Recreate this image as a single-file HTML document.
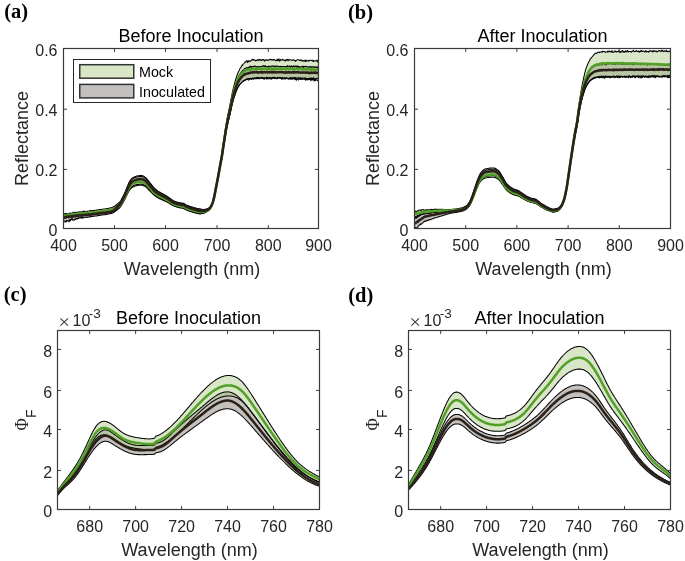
<!DOCTYPE html>
<html><head><meta charset="utf-8"><style>
html,body{margin:0;padding:0;background:#fff;}
svg{display:block;will-change:transform;}
.tk{font-family:"Liberation Sans", sans-serif;font-size:16px;fill:#262626;}
.lb{font-family:"Liberation Sans", sans-serif;font-size:18px;fill:#262626;}
.lg{font-family:"Liberation Sans", sans-serif;font-size:14.3px;fill:#000;}
.pl{font-family:"Liberation Serif", serif;font-size:20.5px;font-weight:bold;fill:#000;}
.phi{font-family:"Liberation Serif", serif;font-size:19px;fill:#262626;}
.sub{font-family:"Liberation Sans", sans-serif;font-size:14px;fill:#262626;}
</style></head><body>
<svg width="685" height="561" viewBox="0 0 685 561">
<rect width="685" height="561" fill="#fff"/>
<clipPath id="ca"><rect x="63.5" y="48.5" width="255" height="180"/></clipPath>
<g clip-path="url(#ca)">
<path d="M63.5,215.3 L64.0,216.3 L64.5,215.8 L65.0,215.7 L65.5,215.5 L66.0,215.4 L66.5,215.9 L67.0,215.0 L67.5,216.0 L68.0,214.4 L68.5,214.7 L69.0,214.1 L69.5,214.5 L70.0,214.9 L70.5,215.3 L71.0,214.2 L71.5,214.5 L72.0,214.2 L72.5,214.0 L73.0,213.7 L73.5,214.2 L74.0,213.4 L74.5,214.1 L75.0,214.0 L75.5,213.7 L76.0,213.5 L76.5,213.3 L77.0,214.5 L77.5,213.2 L78.0,214.2 L78.5,213.8 L79.0,213.4 L79.5,213.1 L80.0,213.8 L80.5,213.9 L81.0,213.0 L81.5,213.1 L82.0,213.5 L82.5,213.2 L83.0,213.7 L83.5,212.8 L84.0,213.1 L84.5,212.6 L85.0,213.4 L85.5,212.6 L86.0,212.2 L86.5,212.6 L87.0,212.6 L87.5,213.0 L88.0,212.5 L88.5,212.5 L89.0,212.5 L89.5,212.7 L90.0,212.3 L90.5,212.4 L91.0,212.3 L91.5,212.1 L92.0,212.1 L92.5,212.1 L93.0,211.9 L93.5,212.1 L94.0,211.7 L94.5,211.9 L95.0,211.8 L95.5,211.7 L96.0,211.6 L96.5,211.5 L97.0,211.5 L97.5,211.4 L98.0,211.3 L98.5,211.3 L99.0,211.1 L99.5,211.1 L100.0,211.0 L100.5,210.9 L101.0,210.9 L101.5,210.8 L102.0,210.8 L102.5,210.7 L103.0,210.7 L103.5,210.6 L104.0,210.5 L104.5,210.5 L105.0,210.4 L105.5,210.4 L106.0,210.3 L106.5,210.2 L107.0,210.1 L107.5,210.0 L108.0,210.0 L108.5,209.9 L109.0,209.8 L109.5,209.7 L110.0,209.6 L110.5,209.4 L111.0,209.3 L111.5,209.2 L112.0,209.0 L112.5,208.8 L113.0,208.6 L113.5,208.3 L114.0,208.0 L114.5,207.6 L115.0,207.2 L115.5,206.8 L116.0,206.4 L116.5,206.0 L117.0,205.6 L117.5,205.2 L118.0,204.8 L118.5,204.3 L119.0,203.8 L119.5,203.3 L120.0,202.7 L120.5,202.1 L121.0,201.3 L121.5,200.4 L122.0,199.4 L122.5,198.3 L123.0,197.3 L123.5,196.3 L124.0,195.2 L124.5,194.1 L125.0,193.0 L125.5,191.8 L126.0,190.6 L126.5,189.3 L127.0,188.1 L127.5,186.8 L128.0,185.6 L128.5,184.5 L129.0,183.4 L129.5,182.5 L130.0,181.6 L130.5,180.9 L131.0,180.3 L131.5,179.8 L132.0,179.3 L132.5,178.9 L133.0,178.6 L133.5,178.3 L134.0,178.1 L134.5,177.8 L135.0,177.6 L135.5,177.4 L136.0,177.2 L136.5,177.1 L137.0,177.0 L137.5,176.9 L138.0,176.8 L138.5,176.7 L139.0,176.6 L139.5,176.6 L140.0,176.5 L140.5,176.5 L141.0,176.4 L141.5,176.5 L142.0,176.5 L142.5,176.7 L143.0,176.8 L143.5,177.1 L144.0,177.4 L144.5,177.7 L145.0,178.0 L145.5,178.4 L146.0,178.7 L146.5,179.3 L147.0,179.9 L147.5,180.6 L148.0,181.2 L148.5,181.8 L149.0,182.4 L149.5,183.0 L150.0,183.6 L150.5,184.2 L151.0,184.8 L151.5,185.4 L152.0,186.1 L152.5,186.7 L153.0,187.3 L153.5,187.9 L154.0,188.4 L154.5,188.9 L155.0,189.4 L155.5,189.8 L156.0,190.3 L156.5,190.7 L157.0,191.0 L157.5,191.4 L158.0,191.7 L158.5,192.1 L159.0,192.4 L159.5,192.7 L160.0,193.0 L160.5,193.2 L161.0,193.5 L161.5,193.7 L162.0,194.0 L162.5,194.3 L163.0,194.5 L163.5,194.8 L164.0,195.1 L164.5,195.4 L165.0,195.7 L165.5,195.9 L166.0,196.2 L166.5,196.5 L167.0,196.8 L167.5,197.1 L168.0,197.5 L168.5,197.8 L169.0,198.1 L169.5,198.5 L170.0,198.9 L170.5,199.3 L171.0,199.7 L171.5,200.0 L172.0,200.3 L172.5,200.7 L173.0,201.0 L173.5,201.3 L174.0,201.5 L174.5,201.7 L175.0,202.0 L175.5,202.1 L176.0,202.3 L176.5,202.5 L177.0,202.6 L177.5,202.8 L178.0,202.9 L178.5,203.0 L179.0,203.1 L179.5,203.2 L180.0,203.4 L180.5,203.4 L181.0,203.5 L181.5,203.6 L182.0,203.6 L182.5,203.7 L183.0,203.8 L183.5,204.0 L184.0,204.2 L184.5,204.5 L185.0,204.8 L185.5,205.1 L186.0,205.4 L186.5,205.7 L187.0,205.9 L187.5,206.2 L188.0,206.4 L188.5,206.6 L189.0,206.7 L189.5,206.9 L190.0,207.1 L190.5,207.3 L191.0,207.4 L191.5,207.6 L192.0,207.8 L192.5,207.9 L193.0,208.0 L193.5,208.2 L194.0,208.3 L194.5,208.5 L195.0,208.6 L195.5,208.8 L196.0,208.9 L196.5,209.1 L197.0,209.2 L197.5,209.3 L198.0,209.4 L198.5,209.5 L199.0,209.6 L199.5,209.7 L200.0,209.7 L200.5,209.8 L201.0,209.9 L201.5,209.9 L202.0,210.0 L202.5,210.1 L203.0,210.1 L203.5,210.1 L204.0,210.1 L204.5,210.0 L205.0,209.8 L205.5,209.7 L206.0,209.6 L206.5,209.4 L207.0,209.3 L207.5,209.1 L208.0,208.9 L208.5,208.6 L209.0,208.3 L209.5,207.9 L210.0,207.3 L210.5,206.7 L211.0,206.0 L211.5,205.1 L212.0,204.0 L212.5,202.6 L213.0,201.0 L213.5,199.3 L214.0,197.3 L214.5,194.8 L215.0,192.2 L215.5,189.5 L216.0,186.9 L216.5,184.3 L217.0,181.6 L217.5,178.9 L218.0,176.2 L218.5,173.4 L219.0,170.6 L219.5,167.7 L220.0,164.9 L220.5,162.1 L221.0,159.5 L221.5,156.7 L222.0,153.7 L222.5,150.3 L223.0,146.8 L223.5,143.3 L224.0,139.9 L224.5,136.5 L225.0,133.2 L225.5,129.9 L226.0,126.8 L226.5,123.8 L227.0,121.0 L227.5,118.5 L228.0,116.2 L228.5,113.9 L229.0,111.7 L229.5,109.5 L230.0,107.1 L230.5,104.5 L231.0,101.9 L231.5,99.5 L232.0,97.2 L232.5,95.0 L233.0,92.9 L233.5,90.9 L234.0,89.0 L234.5,87.2 L235.0,85.5 L235.5,83.9 L236.0,82.4 L236.5,81.0 L237.0,79.7 L237.5,78.4 L238.0,77.4 L238.5,76.4 L239.0,75.4 L239.5,74.5 L240.0,73.9 L240.5,73.1 L241.0,72.5 L241.5,71.8 L242.0,71.3 L242.5,70.6 L243.0,70.2 L243.5,69.8 L244.0,69.3 L244.5,68.7 L245.0,68.2 L245.5,68.3 L246.0,68.2 L246.5,67.8 L247.0,67.5 L247.5,67.8 L248.0,68.4 L248.5,67.2 L249.0,67.4 L249.5,67.3 L250.0,66.0 L250.5,67.0 L251.0,66.6 L251.5,67.4 L252.0,66.6 L252.5,66.4 L253.0,66.5 L253.5,66.6 L254.0,66.3 L254.5,66.4 L255.0,65.9 L255.5,66.3 L256.0,66.7 L256.5,67.2 L257.0,66.7 L257.5,66.5 L258.0,66.9 L258.5,66.8 L259.0,67.1 L259.5,66.8 L260.0,66.4 L260.5,66.5 L261.0,66.5 L261.5,66.5 L262.0,66.5 L262.5,66.1 L263.0,65.6 L263.5,66.1 L264.0,65.6 L264.5,66.4 L265.0,66.4 L265.5,65.7 L266.0,66.7 L266.5,66.8 L267.0,66.5 L267.5,67.1 L268.0,67.2 L268.5,65.9 L269.0,66.8 L269.5,66.6 L270.0,66.6 L270.5,66.8 L271.0,66.1 L271.5,66.2 L272.0,66.1 L272.5,66.1 L273.0,66.4 L273.5,65.8 L274.0,66.0 L274.5,66.6 L275.0,66.4 L275.5,66.6 L276.0,65.7 L276.5,66.1 L277.0,66.2 L277.5,66.4 L278.0,66.2 L278.5,66.8 L279.0,66.4 L279.5,66.4 L280.0,66.4 L280.5,66.7 L281.0,66.2 L281.5,66.9 L282.0,66.6 L282.5,66.5 L283.0,66.4 L283.5,66.6 L284.0,66.8 L284.5,66.8 L285.0,66.6 L285.5,66.8 L286.0,66.5 L286.5,66.9 L287.0,66.4 L287.5,65.6 L288.0,67.0 L288.5,66.5 L289.0,66.0 L289.5,66.4 L290.0,66.1 L290.5,67.3 L291.0,66.7 L291.5,65.9 L292.0,66.7 L292.5,66.4 L293.0,67.3 L293.5,66.1 L294.0,65.7 L294.5,66.6 L295.0,66.4 L295.5,66.4 L296.0,65.7 L296.5,66.8 L297.0,67.3 L297.5,65.9 L298.0,67.1 L298.5,66.4 L299.0,67.6 L299.5,66.8 L300.0,66.6 L300.5,67.1 L301.0,66.9 L301.5,66.5 L302.0,67.0 L302.5,66.5 L303.0,66.0 L303.5,67.6 L304.0,66.6 L304.5,66.5 L305.0,66.9 L305.5,66.2 L306.0,66.3 L306.5,66.6 L307.0,66.7 L307.5,66.9 L308.0,67.3 L308.5,66.7 L309.0,67.1 L309.5,67.2 L310.0,66.5 L310.5,67.1 L311.0,66.6 L311.5,67.4 L312.0,67.2 L312.5,67.0 L313.0,66.5 L313.5,67.1 L314.0,66.8 L314.5,67.4 L315.0,67.1 L315.5,66.8 L316.0,67.5 L316.5,67.4 L317.0,66.9 L317.5,67.7 L318.0,67.1 L318.5,67.1 L319.0,67.3 L319.0,80.1 L318.5,80.1 L318.0,80.2 L317.5,80.6 L317.0,80.2 L316.5,80.1 L316.0,79.9 L315.5,80.1 L315.0,80.9 L314.5,79.6 L314.0,80.9 L313.5,79.0 L313.0,79.1 L312.5,79.9 L312.0,79.7 L311.5,78.4 L311.0,80.7 L310.5,79.6 L310.0,79.2 L309.5,79.6 L309.0,79.6 L308.5,79.5 L308.0,79.7 L307.5,79.0 L307.0,80.0 L306.5,78.6 L306.0,79.3 L305.5,80.2 L305.0,78.7 L304.5,79.2 L304.0,79.2 L303.5,78.9 L303.0,78.9 L302.5,79.2 L302.0,78.9 L301.5,79.5 L301.0,79.2 L300.5,79.4 L300.0,79.0 L299.5,79.1 L299.0,78.4 L298.5,80.0 L298.0,79.4 L297.5,79.0 L297.0,79.0 L296.5,80.2 L296.0,79.4 L295.5,77.5 L295.0,79.7 L294.5,78.6 L294.0,78.6 L293.5,78.8 L293.0,78.7 L292.5,78.0 L292.0,79.2 L291.5,77.9 L291.0,78.0 L290.5,79.2 L290.0,78.8 L289.5,79.2 L289.0,78.7 L288.5,79.0 L288.0,79.0 L287.5,78.6 L287.0,78.3 L286.5,78.0 L286.0,78.2 L285.5,79.1 L285.0,78.0 L284.5,78.8 L284.0,78.9 L283.5,78.7 L283.0,77.6 L282.5,77.9 L282.0,79.6 L281.5,78.2 L281.0,77.7 L280.5,78.3 L280.0,78.4 L279.5,78.1 L279.0,77.8 L278.5,78.0 L278.0,78.3 L277.5,77.3 L277.0,78.8 L276.5,78.6 L276.0,78.3 L275.5,78.4 L275.0,78.6 L274.5,77.5 L274.0,77.1 L273.5,77.4 L273.0,78.2 L272.5,78.6 L272.0,77.6 L271.5,78.5 L271.0,79.4 L270.5,77.7 L270.0,77.7 L269.5,78.6 L269.0,78.9 L268.5,78.6 L268.0,78.9 L267.5,77.6 L267.0,78.9 L266.5,78.9 L266.0,78.2 L265.5,78.4 L265.0,78.6 L264.5,78.6 L264.0,79.4 L263.5,78.3 L263.0,78.5 L262.5,78.5 L262.0,77.5 L261.5,78.2 L261.0,77.4 L260.5,78.3 L260.0,78.2 L259.5,78.7 L259.0,77.9 L258.5,77.9 L258.0,77.6 L257.5,78.7 L257.0,77.2 L256.5,78.0 L256.0,78.1 L255.5,78.0 L255.0,78.9 L254.5,78.1 L254.0,78.5 L253.5,79.1 L253.0,78.0 L252.5,78.0 L252.0,79.0 L251.5,79.4 L251.0,78.6 L250.5,78.9 L250.0,78.6 L249.5,79.0 L249.0,79.6 L248.5,80.2 L248.0,79.6 L247.5,79.5 L247.0,78.8 L246.5,79.3 L246.0,79.5 L245.5,80.2 L245.0,80.1 L244.5,80.7 L244.0,80.4 L243.5,81.3 L243.0,81.2 L242.5,81.8 L242.0,82.1 L241.5,82.5 L241.0,83.1 L240.5,83.5 L240.0,84.3 L239.5,85.0 L239.0,85.6 L238.5,86.5 L238.0,87.3 L237.5,88.2 L237.0,89.3 L236.5,90.5 L236.0,91.7 L235.5,93.1 L235.0,94.5 L234.5,96.0 L234.0,97.7 L233.5,99.4 L233.0,101.2 L232.5,103.1 L232.0,105.1 L231.5,107.2 L231.0,109.4 L230.5,111.8 L230.0,114.2 L229.5,116.3 L229.0,118.4 L228.5,120.4 L228.0,122.5 L227.5,124.6 L227.0,127.0 L226.5,129.5 L226.0,132.3 L225.5,135.2 L225.0,138.2 L224.5,141.3 L224.0,144.5 L223.5,147.7 L223.0,150.9 L222.5,154.3 L222.0,157.5 L221.5,160.3 L221.0,162.8 L220.5,165.3 L220.0,167.9 L219.5,170.6 L219.0,173.3 L218.5,175.9 L218.0,178.6 L217.5,181.1 L217.0,183.7 L216.5,186.2 L216.0,188.7 L215.5,191.2 L215.0,193.7 L214.5,196.2 L214.0,198.6 L213.5,200.5 L213.0,202.1 L212.5,203.6 L212.0,205.0 L211.5,206.2 L211.0,207.2 L210.5,208.0 L210.0,208.8 L209.5,209.4 L209.0,209.9 L208.5,210.4 L208.0,210.7 L207.5,211.1 L207.0,211.4 L206.5,211.7 L206.0,211.9 L205.5,212.1 L205.0,212.4 L204.5,212.6 L204.0,212.8 L203.5,213.0 L203.0,213.1 L202.5,213.2 L202.0,213.2 L201.5,213.3 L201.0,213.4 L200.5,213.4 L200.0,213.5 L199.5,213.4 L199.0,213.3 L198.5,213.3 L198.0,213.2 L197.5,213.1 L197.0,212.9 L196.5,212.8 L196.0,212.7 L195.5,212.5 L195.0,212.4 L194.5,212.3 L194.0,212.1 L193.5,212.0 L193.0,211.8 L192.5,211.7 L192.0,211.6 L191.5,211.4 L191.0,211.3 L190.5,211.1 L190.0,210.9 L189.5,210.8 L189.0,210.6 L188.5,210.4 L188.0,210.2 L187.5,210.1 L187.0,209.8 L186.5,209.6 L186.0,209.3 L185.5,209.0 L185.0,208.8 L184.5,208.5 L184.0,208.3 L183.5,208.1 L183.0,207.9 L182.5,207.8 L182.0,207.7 L181.5,207.6 L181.0,207.5 L180.5,207.4 L180.0,207.3 L179.5,207.2 L179.0,207.1 L178.5,207.0 L178.0,206.8 L177.5,206.7 L177.0,206.6 L176.5,206.4 L176.0,206.2 L175.5,206.1 L175.0,205.9 L174.5,205.7 L174.0,205.5 L173.5,205.3 L173.0,205.0 L172.5,204.8 L172.0,204.5 L171.5,204.2 L171.0,203.9 L170.5,203.6 L170.0,203.3 L169.5,203.0 L169.0,202.6 L168.5,202.3 L168.0,202.1 L167.5,201.8 L167.0,201.5 L166.5,201.3 L166.0,201.0 L165.5,200.8 L165.0,200.5 L164.5,200.3 L164.0,200.0 L163.5,199.8 L163.0,199.6 L162.5,199.3 L162.0,199.1 L161.5,198.9 L161.0,198.7 L160.5,198.5 L160.0,198.2 L159.5,198.0 L159.0,197.7 L158.5,197.5 L158.0,197.2 L157.5,196.9 L157.0,196.6 L156.5,196.3 L156.0,195.9 L155.5,195.6 L155.0,195.2 L154.5,194.8 L154.0,194.4 L153.5,193.9 L153.0,193.4 L152.5,192.9 L152.0,192.3 L151.5,191.8 L151.0,191.3 L150.5,190.7 L150.0,190.2 L149.5,189.7 L149.0,189.2 L148.5,188.7 L148.0,188.2 L147.5,187.7 L147.0,187.1 L146.5,186.6 L146.0,186.1 L145.5,185.8 L145.0,185.5 L144.5,185.2 L144.0,184.9 L143.5,184.7 L143.0,184.5 L142.5,184.3 L142.0,184.2 L141.5,184.2 L141.0,184.2 L140.5,184.2 L140.0,184.2 L139.5,184.3 L139.0,184.3 L138.5,184.4 L138.0,184.4 L137.5,184.5 L137.0,184.6 L136.5,184.7 L136.0,184.8 L135.5,185.0 L135.0,185.1 L134.5,185.3 L134.0,185.5 L133.5,185.8 L133.0,186.0 L132.5,186.3 L132.0,186.6 L131.5,187.0 L131.0,187.4 L130.5,187.9 L130.0,188.6 L129.5,189.3 L129.0,190.1 L128.5,191.0 L128.0,192.0 L127.5,193.0 L127.0,194.0 L126.5,195.1 L126.0,196.2 L125.5,197.3 L125.0,198.3 L124.5,199.3 L124.0,200.3 L123.5,201.3 L123.0,202.3 L122.5,203.2 L122.0,204.1 L121.5,205.1 L121.0,205.9 L120.5,206.6 L120.0,207.3 L119.5,207.8 L119.0,208.3 L118.5,208.8 L118.0,209.2 L117.5,209.6 L117.0,210.0 L116.5,210.4 L116.0,210.8 L115.5,211.1 L115.0,211.5 L114.5,211.9 L114.0,212.3 L113.5,212.6 L113.0,212.9 L112.5,213.1 L112.0,213.2 L111.5,213.4 L111.0,213.5 L110.5,213.6 L110.0,213.7 L109.5,213.8 L109.0,214.0 L108.5,214.0 L108.0,214.1 L107.5,214.2 L107.0,214.3 L106.5,214.4 L106.0,214.5 L105.5,214.6 L105.0,214.6 L104.5,214.7 L104.0,214.8 L103.5,214.8 L103.0,214.9 L102.5,215.0 L102.0,215.0 L101.5,215.1 L101.0,215.2 L100.5,215.2 L100.0,215.3 L99.5,215.4 L99.0,215.5 L98.5,215.6 L98.0,215.6 L97.5,215.6 L97.0,215.9 L96.5,215.9 L96.0,216.0 L95.5,216.0 L95.0,215.9 L94.5,216.2 L94.0,216.2 L93.5,216.3 L93.0,216.4 L92.5,216.2 L92.0,216.5 L91.5,216.6 L91.0,216.4 L90.5,216.9 L90.0,216.8 L89.5,216.9 L89.0,216.7 L88.5,217.0 L88.0,217.3 L87.5,217.4 L87.0,216.8 L86.5,217.0 L86.0,217.5 L85.5,217.4 L85.0,217.3 L84.5,217.0 L84.0,217.8 L83.5,217.8 L83.0,217.7 L82.5,217.1 L82.0,218.5 L81.5,217.3 L81.0,217.2 L80.5,217.8 L80.0,218.2 L79.5,217.7 L79.0,218.1 L78.5,218.5 L78.0,217.7 L77.5,218.7 L77.0,219.2 L76.5,218.5 L76.0,218.4 L75.5,219.5 L75.0,219.0 L74.5,220.2 L74.0,219.8 L73.5,219.8 L73.0,220.0 L72.5,220.2 L72.0,217.6 L71.5,219.5 L71.0,219.5 L70.5,220.8 L70.0,219.2 L69.5,220.3 L69.0,221.9 L68.5,220.5 L68.0,221.0 L67.5,220.8 L67.0,220.6 L66.5,221.8 L66.0,220.6 L65.5,221.9 L65.0,222.1 L64.5,220.9 L64.0,220.8 L63.5,220.7 Z" fill="#c4c0bd"/>
<path d="M63.5,213.3 L64.0,213.8 L64.5,215.2 L65.0,213.6 L65.5,214.5 L66.0,213.3 L66.5,214.2 L67.0,213.7 L67.5,213.8 L68.0,214.1 L68.5,214.7 L69.0,213.8 L69.5,213.6 L70.0,212.9 L70.5,213.8 L71.0,213.2 L71.5,213.7 L72.0,213.2 L72.5,214.1 L73.0,212.0 L73.5,212.9 L74.0,213.4 L74.5,212.7 L75.0,212.4 L75.5,212.6 L76.0,212.0 L76.5,212.7 L77.0,213.6 L77.5,213.0 L78.0,211.9 L78.5,212.0 L79.0,212.1 L79.5,212.6 L80.0,211.8 L80.5,211.8 L81.0,212.4 L81.5,212.3 L82.0,211.8 L82.5,211.5 L83.0,211.3 L83.5,211.5 L84.0,211.0 L84.5,211.8 L85.0,211.4 L85.5,211.6 L86.0,211.9 L86.5,211.7 L87.0,211.0 L87.5,211.5 L88.0,211.5 L88.5,211.0 L89.0,210.9 L89.5,211.0 L90.0,210.7 L90.5,211.2 L91.0,210.4 L91.5,210.6 L92.0,210.7 L92.5,210.7 L93.0,210.6 L93.5,210.6 L94.0,210.5 L94.5,210.6 L95.0,210.2 L95.5,210.3 L96.0,210.2 L96.5,210.1 L97.0,210.1 L97.5,209.9 L98.0,209.8 L98.5,209.8 L99.0,209.7 L99.5,209.6 L100.0,209.5 L100.5,209.5 L101.0,209.4 L101.5,209.3 L102.0,209.3 L102.5,209.2 L103.0,209.2 L103.5,209.1 L104.0,209.0 L104.5,209.0 L105.0,208.9 L105.5,208.8 L106.0,208.8 L106.5,208.7 L107.0,208.6 L107.5,208.5 L108.0,208.4 L108.5,208.3 L109.0,208.2 L109.5,208.1 L110.0,208.0 L110.5,207.9 L111.0,207.7 L111.5,207.6 L112.0,207.4 L112.5,207.2 L113.0,207.0 L113.5,206.7 L114.0,206.4 L114.5,206.1 L115.0,205.7 L115.5,205.3 L116.0,204.9 L116.5,204.6 L117.0,204.2 L117.5,203.8 L118.0,203.4 L118.5,203.0 L119.0,202.6 L119.5,202.1 L120.0,201.6 L120.5,201.0 L121.0,200.2 L121.5,199.3 L122.0,198.3 L122.5,197.4 L123.0,196.4 L123.5,195.4 L124.0,194.4 L124.5,193.4 L125.0,192.4 L125.5,191.2 L126.0,189.9 L126.5,188.6 L127.0,187.3 L127.5,186.1 L128.0,184.9 L128.5,183.7 L129.0,182.6 L129.5,181.6 L130.0,180.8 L130.5,180.0 L131.0,179.4 L131.5,178.9 L132.0,178.4 L132.5,178.0 L133.0,177.7 L133.5,177.4 L134.0,177.1 L134.5,176.9 L135.0,176.6 L135.5,176.4 L136.0,176.3 L136.5,176.1 L137.0,176.0 L137.5,175.9 L138.0,175.8 L138.5,175.7 L139.0,175.7 L139.5,175.6 L140.0,175.5 L140.5,175.5 L141.0,175.5 L141.5,175.5 L142.0,175.6 L142.5,175.7 L143.0,175.9 L143.5,176.1 L144.0,176.4 L144.5,176.7 L145.0,177.1 L145.5,177.4 L146.0,177.8 L146.5,178.4 L147.0,179.0 L147.5,179.7 L148.0,180.3 L148.5,180.9 L149.0,181.5 L149.5,182.1 L150.0,182.8 L150.5,183.4 L151.0,184.0 L151.5,184.6 L152.0,185.3 L152.5,185.9 L153.0,186.6 L153.5,187.1 L154.0,187.7 L154.5,188.2 L155.0,188.7 L155.5,189.1 L156.0,189.5 L156.5,190.0 L157.0,190.3 L157.5,190.7 L158.0,191.1 L158.5,191.4 L159.0,191.7 L159.5,192.0 L160.0,192.3 L160.5,192.6 L161.0,192.9 L161.5,193.1 L162.0,193.4 L162.5,193.6 L163.0,193.9 L163.5,194.2 L164.0,194.5 L164.5,194.8 L165.0,195.0 L165.5,195.3 L166.0,195.6 L166.5,195.9 L167.0,196.2 L167.5,196.6 L168.0,196.9 L168.5,197.2 L169.0,197.6 L169.5,198.0 L170.0,198.4 L170.5,198.8 L171.0,199.1 L171.5,199.5 L172.0,199.8 L172.5,200.1 L173.0,200.5 L173.5,200.8 L174.0,201.0 L174.5,201.2 L175.0,201.5 L175.5,201.6 L176.0,201.8 L176.5,201.9 L177.0,202.1 L177.5,202.2 L178.0,202.3 L178.5,202.5 L179.0,202.6 L179.5,202.7 L180.0,202.7 L180.5,202.8 L181.0,202.9 L181.5,202.9 L182.0,203.0 L182.5,203.1 L183.0,203.2 L183.5,203.3 L184.0,203.5 L184.5,203.8 L185.0,204.1 L185.5,204.4 L186.0,204.7 L186.5,204.9 L187.0,205.2 L187.5,205.4 L188.0,205.6 L188.5,205.8 L189.0,206.0 L189.5,206.2 L190.0,206.4 L190.5,206.5 L191.0,206.7 L191.5,206.8 L192.0,207.0 L192.5,207.1 L193.0,207.3 L193.5,207.4 L194.0,207.5 L194.5,207.7 L195.0,207.8 L195.5,208.0 L196.0,208.1 L196.5,208.2 L197.0,208.4 L197.5,208.5 L198.0,208.6 L198.5,208.7 L199.0,208.8 L199.5,208.8 L200.0,208.8 L200.5,209.0 L201.0,209.1 L201.5,209.2 L202.0,209.3 L202.5,209.4 L203.0,209.5 L203.5,209.5 L204.0,209.4 L204.5,209.3 L205.0,209.2 L205.5,209.2 L206.0,209.1 L206.5,208.9 L207.0,208.8 L207.5,208.6 L208.0,208.4 L208.5,208.2 L209.0,207.9 L209.5,207.5 L210.0,207.0 L210.5,206.4 L211.0,205.7 L211.5,204.8 L212.0,203.8 L212.5,202.3 L213.0,200.7 L213.5,198.9 L214.0,196.9 L214.5,194.5 L215.0,191.8 L215.5,189.0 L216.0,186.4 L216.5,183.7 L217.0,181.0 L217.5,178.3 L218.0,175.5 L218.5,172.7 L219.0,169.8 L219.5,166.9 L220.0,164.0 L220.5,161.2 L221.0,158.5 L221.5,155.6 L222.0,152.6 L222.5,149.1 L223.0,145.5 L223.5,142.0 L224.0,138.5 L224.5,135.0 L225.0,131.6 L225.5,128.2 L226.0,125.0 L226.5,122.0 L227.0,119.1 L227.5,116.5 L228.0,114.1 L228.5,111.8 L229.0,109.5 L229.5,107.2 L230.0,104.7 L230.5,102.0 L231.0,99.3 L231.5,96.7 L232.0,94.3 L232.5,91.9 L233.0,89.7 L233.5,87.6 L234.0,85.6 L234.5,83.6 L235.0,81.8 L235.5,80.0 L236.0,78.4 L236.5,76.8 L237.0,75.4 L237.5,74.0 L238.0,72.8 L238.5,71.7 L239.0,70.7 L239.5,69.6 L240.0,68.5 L240.5,67.8 L241.0,67.2 L241.5,66.6 L242.0,65.3 L242.5,65.5 L243.0,64.1 L243.5,64.0 L244.0,63.5 L244.5,62.9 L245.0,62.2 L245.5,61.6 L246.0,62.0 L246.5,61.3 L247.0,60.4 L247.5,62.4 L248.0,61.4 L248.5,61.8 L249.0,60.4 L249.5,61.4 L250.0,61.4 L250.5,61.3 L251.0,60.5 L251.5,59.9 L252.0,60.3 L252.5,59.3 L253.0,59.4 L253.5,60.2 L254.0,59.7 L254.5,60.0 L255.0,60.0 L255.5,60.9 L256.0,60.6 L256.5,60.0 L257.0,60.6 L257.5,59.7 L258.0,59.9 L258.5,60.4 L259.0,59.4 L259.5,59.9 L260.0,59.4 L260.5,60.1 L261.0,60.7 L261.5,59.7 L262.0,60.1 L262.5,59.6 L263.0,59.5 L263.5,59.5 L264.0,60.7 L264.5,61.1 L265.0,60.2 L265.5,59.7 L266.0,60.3 L266.5,59.9 L267.0,60.4 L267.5,60.1 L268.0,60.1 L268.5,60.3 L269.0,59.7 L269.5,59.8 L270.0,59.2 L270.5,59.8 L271.0,59.4 L271.5,59.9 L272.0,59.6 L272.5,60.1 L273.0,60.2 L273.5,59.4 L274.0,59.6 L274.5,59.6 L275.0,60.3 L275.5,60.8 L276.0,60.4 L276.5,59.9 L277.0,60.7 L277.5,59.3 L278.0,60.7 L278.5,59.7 L279.0,58.8 L279.5,61.2 L280.0,60.7 L280.5,59.5 L281.0,60.1 L281.5,59.9 L282.0,60.1 L282.5,59.3 L283.0,59.7 L283.5,60.2 L284.0,60.1 L284.5,60.6 L285.0,60.1 L285.5,61.1 L286.0,59.7 L286.5,60.2 L287.0,59.2 L287.5,59.5 L288.0,60.7 L288.5,59.6 L289.0,60.3 L289.5,60.0 L290.0,59.6 L290.5,59.9 L291.0,59.9 L291.5,59.9 L292.0,60.5 L292.5,60.4 L293.0,59.9 L293.5,59.7 L294.0,60.3 L294.5,60.1 L295.0,60.6 L295.5,61.4 L296.0,60.6 L296.5,60.2 L297.0,60.1 L297.5,59.8 L298.0,59.8 L298.5,59.8 L299.0,60.1 L299.5,60.1 L300.0,60.6 L300.5,60.1 L301.0,60.2 L301.5,59.8 L302.0,61.1 L302.5,60.6 L303.0,61.2 L303.5,60.7 L304.0,61.1 L304.5,60.3 L305.0,60.7 L305.5,61.6 L306.0,59.9 L306.5,61.0 L307.0,61.2 L307.5,60.7 L308.0,60.8 L308.5,61.1 L309.0,60.2 L309.5,60.7 L310.0,60.2 L310.5,60.3 L311.0,60.3 L311.5,60.5 L312.0,60.7 L312.5,60.9 L313.0,60.0 L313.5,61.6 L314.0,61.2 L314.5,61.0 L315.0,60.6 L315.5,60.7 L316.0,61.0 L316.5,61.0 L317.0,60.0 L317.5,61.2 L318.0,62.2 L318.5,60.0 L319.0,61.3 L319.0,78.5 L318.5,78.9 L318.0,78.4 L317.5,78.3 L317.0,78.7 L316.5,78.4 L316.0,78.7 L315.5,79.5 L315.0,78.4 L314.5,78.7 L314.0,78.9 L313.5,77.6 L313.0,78.3 L312.5,78.7 L312.0,78.0 L311.5,78.1 L311.0,79.0 L310.5,78.9 L310.0,77.9 L309.5,78.6 L309.0,78.5 L308.5,78.4 L308.0,78.2 L307.5,78.9 L307.0,78.5 L306.5,79.1 L306.0,78.8 L305.5,77.9 L305.0,77.6 L304.5,78.4 L304.0,78.8 L303.5,78.8 L303.0,77.8 L302.5,78.4 L302.0,78.1 L301.5,78.5 L301.0,78.2 L300.5,77.6 L300.0,78.5 L299.5,77.9 L299.0,77.6 L298.5,78.0 L298.0,78.0 L297.5,78.5 L297.0,77.8 L296.5,78.1 L296.0,78.3 L295.5,78.0 L295.0,77.8 L294.5,77.6 L294.0,78.2 L293.5,77.8 L293.0,77.3 L292.5,78.1 L292.0,79.2 L291.5,78.1 L291.0,78.2 L290.5,77.5 L290.0,78.0 L289.5,77.8 L289.0,78.6 L288.5,78.8 L288.0,78.2 L287.5,78.3 L287.0,78.0 L286.5,77.6 L286.0,78.3 L285.5,78.7 L285.0,77.7 L284.5,78.0 L284.0,77.9 L283.5,78.3 L283.0,78.2 L282.5,78.0 L282.0,77.7 L281.5,78.4 L281.0,77.5 L280.5,77.5 L280.0,78.0 L279.5,77.3 L279.0,77.8 L278.5,77.7 L278.0,77.5 L277.5,77.7 L277.0,78.6 L276.5,78.6 L276.0,77.7 L275.5,77.5 L275.0,78.5 L274.5,78.4 L274.0,77.9 L273.5,78.1 L273.0,78.2 L272.5,77.4 L272.0,77.9 L271.5,78.1 L271.0,77.9 L270.5,78.0 L270.0,78.3 L269.5,77.6 L269.0,77.9 L268.5,77.6 L268.0,78.2 L267.5,77.8 L267.0,77.9 L266.5,77.2 L266.0,78.6 L265.5,78.2 L265.0,77.7 L264.5,77.8 L264.0,77.7 L263.5,77.8 L263.0,77.9 L262.5,78.0 L262.0,77.4 L261.5,77.8 L261.0,77.5 L260.5,78.5 L260.0,78.4 L259.5,78.0 L259.0,77.9 L258.5,78.7 L258.0,77.6 L257.5,78.3 L257.0,77.6 L256.5,78.8 L256.0,78.0 L255.5,78.6 L255.0,78.1 L254.5,78.2 L254.0,78.0 L253.5,78.2 L253.0,79.0 L252.5,78.2 L252.0,78.5 L251.5,78.9 L251.0,79.2 L250.5,78.2 L250.0,78.5 L249.5,78.4 L249.0,78.7 L248.5,78.6 L248.0,78.6 L247.5,79.2 L247.0,79.1 L246.5,79.3 L246.0,79.6 L245.5,80.1 L245.0,79.9 L244.5,80.2 L244.0,80.5 L243.5,80.8 L243.0,81.4 L242.5,81.5 L242.0,82.3 L241.5,82.7 L241.0,83.1 L240.5,83.7 L240.0,84.1 L239.5,84.8 L239.0,85.6 L238.5,86.4 L238.0,87.2 L237.5,88.2 L237.0,89.3 L236.5,90.4 L236.0,91.7 L235.5,93.0 L235.0,94.5 L234.5,96.0 L234.0,97.6 L233.5,99.4 L233.0,101.1 L232.5,103.0 L232.0,105.0 L231.5,107.1 L231.0,109.4 L230.5,111.8 L230.0,114.2 L229.5,116.3 L229.0,118.4 L228.5,120.4 L228.0,122.5 L227.5,124.6 L227.0,127.0 L226.5,129.5 L226.0,132.3 L225.5,135.2 L225.0,138.2 L224.5,141.3 L224.0,144.5 L223.5,147.7 L223.0,150.9 L222.5,154.3 L222.0,157.5 L221.5,160.3 L221.0,162.8 L220.5,165.3 L220.0,167.9 L219.5,170.6 L219.0,173.3 L218.5,175.9 L218.0,178.6 L217.5,181.1 L217.0,183.7 L216.5,186.2 L216.0,188.7 L215.5,191.2 L215.0,193.7 L214.5,196.2 L214.0,198.6 L213.5,200.5 L213.0,202.1 L212.5,203.6 L212.0,205.0 L211.5,206.2 L211.0,207.2 L210.5,208.1 L210.0,208.9 L209.5,209.5 L209.0,210.1 L208.5,210.5 L208.0,210.9 L207.5,211.3 L207.0,211.6 L206.5,211.9 L206.0,212.2 L205.5,212.4 L205.0,212.7 L204.5,212.9 L204.0,213.2 L203.5,213.4 L203.0,213.5 L202.5,213.6 L202.0,213.7 L201.5,213.7 L201.0,213.8 L200.5,213.9 L200.0,214.0 L199.5,213.9 L199.0,213.8 L198.5,213.8 L198.0,213.7 L197.5,213.6 L197.0,213.4 L196.5,213.3 L196.0,213.2 L195.5,213.0 L195.0,212.9 L194.5,212.8 L194.0,212.6 L193.5,212.5 L193.0,212.4 L192.5,212.2 L192.0,212.1 L191.5,211.9 L191.0,211.8 L190.5,211.6 L190.0,211.5 L189.5,211.3 L189.0,211.1 L188.5,210.9 L188.0,210.8 L187.5,210.6 L187.0,210.4 L186.5,210.1 L186.0,209.8 L185.5,209.6 L185.0,209.3 L184.5,209.0 L184.0,208.8 L183.5,208.6 L183.0,208.4 L182.5,208.3 L182.0,208.2 L181.5,208.1 L181.0,208.0 L180.5,208.0 L180.0,207.9 L179.5,207.7 L179.0,207.6 L178.5,207.5 L178.0,207.4 L177.5,207.2 L177.0,207.1 L176.5,206.9 L176.0,206.7 L175.5,206.6 L175.0,206.4 L174.5,206.2 L174.0,206.0 L173.5,205.8 L173.0,205.6 L172.5,205.3 L172.0,205.0 L171.5,204.8 L171.0,204.5 L170.5,204.2 L170.0,203.9 L169.5,203.5 L169.0,203.2 L168.5,202.9 L168.0,202.6 L167.5,202.4 L167.0,202.1 L166.5,201.9 L166.0,201.6 L165.5,201.4 L165.0,201.1 L164.5,200.9 L164.0,200.7 L163.5,200.4 L163.0,200.2 L162.5,200.0 L162.0,199.8 L161.5,199.5 L161.0,199.3 L160.5,199.1 L160.0,198.9 L159.5,198.7 L159.0,198.4 L158.5,198.1 L158.0,197.9 L157.5,197.6 L157.0,197.3 L156.5,197.0 L156.0,196.6 L155.5,196.3 L155.0,195.9 L154.5,195.5 L154.0,195.1 L153.5,194.7 L153.0,194.2 L152.5,193.7 L152.0,193.1 L151.5,192.6 L151.0,192.1 L150.5,191.6 L150.0,191.1 L149.5,190.6 L149.0,190.1 L148.5,189.6 L148.0,189.1 L147.5,188.6 L147.0,188.0 L146.5,187.5 L146.0,187.0 L145.5,186.7 L145.0,186.4 L144.5,186.1 L144.0,185.9 L143.5,185.7 L143.0,185.5 L142.5,185.3 L142.0,185.2 L141.5,185.1 L141.0,185.1 L140.5,185.1 L140.0,185.2 L139.5,185.2 L139.0,185.3 L138.5,185.3 L138.0,185.4 L137.5,185.5 L137.0,185.6 L136.5,185.6 L136.0,185.8 L135.5,185.9 L135.0,186.1 L134.5,186.3 L134.0,186.5 L133.5,186.7 L133.0,186.9 L132.5,187.2 L132.0,187.5 L131.5,187.9 L131.0,188.3 L130.5,188.8 L130.0,189.4 L129.5,190.2 L129.0,191.0 L128.5,191.8 L128.0,192.8 L127.5,193.8 L127.0,194.8 L126.5,195.8 L126.0,196.9 L125.5,198.0 L125.0,198.9 L124.5,199.9 L124.0,200.8 L123.5,201.7 L123.0,202.5 L122.5,203.4 L122.0,204.2 L121.5,205.1 L121.0,205.8 L120.5,206.5 L120.0,207.0 L119.5,207.5 L119.0,208.0 L118.5,208.4 L118.0,208.7 L117.5,209.1 L117.0,209.4 L116.5,209.8 L116.0,210.1 L115.5,210.4 L115.0,210.8 L114.5,211.1 L114.0,211.4 L113.5,211.7 L113.0,211.9 L112.5,212.1 L112.0,212.3 L111.5,212.4 L111.0,212.5 L110.5,212.6 L110.0,212.7 L109.5,212.8 L109.0,212.9 L108.5,213.0 L108.0,213.0 L107.5,213.1 L107.0,213.2 L106.5,213.3 L106.0,213.3 L105.5,213.4 L105.0,213.4 L104.5,213.5 L104.0,213.5 L103.5,213.6 L103.0,213.6 L102.5,213.7 L102.0,213.7 L101.5,213.8 L101.0,213.8 L100.5,213.9 L100.0,213.9 L99.5,214.0 L99.0,214.0 L98.5,214.1 L98.0,214.2 L97.5,214.2 L97.0,214.3 L96.5,214.4 L96.0,214.4 L95.5,214.4 L95.0,214.5 L94.5,214.6 L94.0,214.6 L93.5,214.5 L93.0,214.7 L92.5,214.8 L92.0,214.7 L91.5,214.9 L91.0,215.0 L90.5,214.9 L90.0,215.1 L89.5,215.5 L89.0,215.1 L88.5,215.3 L88.0,215.4 L87.5,215.3 L87.0,215.2 L86.5,215.5 L86.0,215.0 L85.5,215.0 L85.0,215.5 L84.5,215.3 L84.0,215.5 L83.5,215.8 L83.0,215.9 L82.5,215.5 L82.0,215.4 L81.5,215.8 L81.0,216.5 L80.5,215.7 L80.0,215.9 L79.5,216.0 L79.0,216.0 L78.5,216.4 L78.0,216.6 L77.5,216.1 L77.0,215.9 L76.5,216.4 L76.0,217.0 L75.5,216.4 L75.0,217.1 L74.5,216.0 L74.0,216.0 L73.5,217.3 L73.0,216.4 L72.5,216.2 L72.0,216.7 L71.5,215.5 L71.0,216.8 L70.5,217.3 L70.0,216.3 L69.5,217.5 L69.0,216.6 L68.5,218.0 L68.0,216.9 L67.5,217.3 L67.0,217.1 L66.5,217.2 L66.0,218.2 L65.5,217.6 L65.0,216.9 L64.5,218.3 L64.0,217.6 L63.5,217.9 Z" fill="rgba(172,201,135,0.46)"/>
<path d="M63.5,213.3 L64.0,213.8 L64.5,215.2 L65.0,213.6 L65.5,214.5 L66.0,213.3 L66.5,214.2 L67.0,213.7 L67.5,213.8 L68.0,214.1 L68.5,214.7 L69.0,213.8 L69.5,213.6 L70.0,212.9 L70.5,213.8 L71.0,213.2 L71.5,213.7 L72.0,213.2 L72.5,214.1 L73.0,212.0 L73.5,212.9 L74.0,213.4 L74.5,212.7 L75.0,212.4 L75.5,212.6 L76.0,212.0 L76.5,212.7 L77.0,213.6 L77.5,213.0 L78.0,211.9 L78.5,212.0 L79.0,212.1 L79.5,212.6 L80.0,211.8 L80.5,211.8 L81.0,212.4 L81.5,212.3 L82.0,211.8 L82.5,211.5 L83.0,211.3 L83.5,211.5 L84.0,211.0 L84.5,211.8 L85.0,211.4 L85.5,211.6 L86.0,211.9 L86.5,211.7 L87.0,211.0 L87.5,211.5 L88.0,211.5 L88.5,211.0 L89.0,210.9 L89.5,211.0 L90.0,210.7 L90.5,211.2 L91.0,210.4 L91.5,210.6 L92.0,210.7 L92.5,210.7 L93.0,210.6 L93.5,210.6 L94.0,210.5 L94.5,210.6 L95.0,210.2 L95.5,210.3 L96.0,210.2 L96.5,210.1 L97.0,210.1 L97.5,209.9 L98.0,209.8 L98.5,209.8 L99.0,209.7 L99.5,209.6 L100.0,209.5 L100.5,209.5 L101.0,209.4 L101.5,209.3 L102.0,209.3 L102.5,209.2 L103.0,209.2 L103.5,209.1 L104.0,209.0 L104.5,209.0 L105.0,208.9 L105.5,208.8 L106.0,208.8 L106.5,208.7 L107.0,208.6 L107.5,208.5 L108.0,208.4 L108.5,208.3 L109.0,208.2 L109.5,208.1 L110.0,208.0 L110.5,207.9 L111.0,207.7 L111.5,207.6 L112.0,207.4 L112.5,207.2 L113.0,207.0 L113.5,206.7 L114.0,206.4 L114.5,206.1 L115.0,205.7 L115.5,205.3 L116.0,204.9 L116.5,204.6 L117.0,204.2 L117.5,203.8 L118.0,203.4 L118.5,203.0 L119.0,202.6 L119.5,202.1 L120.0,201.6 L120.5,201.0 L121.0,200.2 L121.5,199.3 L122.0,198.3 L122.5,197.4 L123.0,196.4 L123.5,195.4 L124.0,194.4 L124.5,193.4 L125.0,192.4 L125.5,191.2 L126.0,189.9 L126.5,188.6 L127.0,187.3 L127.5,186.1 L128.0,184.9 L128.5,183.7 L129.0,182.6 L129.5,181.6 L130.0,180.8 L130.5,180.0 L131.0,179.4 L131.5,178.9 L132.0,178.4 L132.5,178.0 L133.0,177.7 L133.5,177.4 L134.0,177.1 L134.5,176.9 L135.0,176.6 L135.5,176.4 L136.0,176.3 L136.5,176.1 L137.0,176.0 L137.5,175.9 L138.0,175.8 L138.5,175.7 L139.0,175.7 L139.5,175.6 L140.0,175.5 L140.5,175.5 L141.0,175.5 L141.5,175.5 L142.0,175.6 L142.5,175.7 L143.0,175.9 L143.5,176.1 L144.0,176.4 L144.5,176.7 L145.0,177.1 L145.5,177.4 L146.0,177.8 L146.5,178.4 L147.0,179.0 L147.5,179.7 L148.0,180.3 L148.5,180.9 L149.0,181.5 L149.5,182.1 L150.0,182.8 L150.5,183.4 L151.0,184.0 L151.5,184.6 L152.0,185.3 L152.5,185.9 L153.0,186.6 L153.5,187.1 L154.0,187.7 L154.5,188.2 L155.0,188.7 L155.5,189.1 L156.0,189.5 L156.5,190.0 L157.0,190.3 L157.5,190.7 L158.0,191.1 L158.5,191.4 L159.0,191.7 L159.5,192.0 L160.0,192.3 L160.5,192.6 L161.0,192.9 L161.5,193.1 L162.0,193.4 L162.5,193.6 L163.0,193.9 L163.5,194.2 L164.0,194.5 L164.5,194.8 L165.0,195.0 L165.5,195.3 L166.0,195.6 L166.5,195.9 L167.0,196.2 L167.5,196.6 L168.0,196.9 L168.5,197.2 L169.0,197.6 L169.5,198.0 L170.0,198.4 L170.5,198.8 L171.0,199.1 L171.5,199.5 L172.0,199.8 L172.5,200.1 L173.0,200.5 L173.5,200.8 L174.0,201.0 L174.5,201.2 L175.0,201.5 L175.5,201.6 L176.0,201.8 L176.5,201.9 L177.0,202.1 L177.5,202.2 L178.0,202.3 L178.5,202.5 L179.0,202.6 L179.5,202.7 L180.0,202.7 L180.5,202.8 L181.0,202.9 L181.5,202.9 L182.0,203.0 L182.5,203.1 L183.0,203.2 L183.5,203.3 L184.0,203.5 L184.5,203.8 L185.0,204.1 L185.5,204.4 L186.0,204.7 L186.5,204.9 L187.0,205.2 L187.5,205.4 L188.0,205.6 L188.5,205.8 L189.0,206.0 L189.5,206.2 L190.0,206.4 L190.5,206.5 L191.0,206.7 L191.5,206.8 L192.0,207.0 L192.5,207.1 L193.0,207.3 L193.5,207.4 L194.0,207.5 L194.5,207.7 L195.0,207.8 L195.5,208.0 L196.0,208.1 L196.5,208.2 L197.0,208.4 L197.5,208.5 L198.0,208.6 L198.5,208.7 L199.0,208.8 L199.5,208.8 L200.0,208.8 L200.5,209.0 L201.0,209.1 L201.5,209.2 L202.0,209.3 L202.5,209.4 L203.0,209.5 L203.5,209.5 L204.0,209.4 L204.5,209.3 L205.0,209.2 L205.5,209.2 L206.0,209.1 L206.5,208.9 L207.0,208.8 L207.5,208.6 L208.0,208.4 L208.5,208.2 L209.0,207.9 L209.5,207.5 L210.0,207.0 L210.5,206.4 L211.0,205.7 L211.5,204.8 L212.0,203.8 L212.5,202.3 L213.0,200.7 L213.5,198.9 L214.0,196.9 L214.5,194.5 L215.0,191.8 L215.5,189.0 L216.0,186.4 L216.5,183.7 L217.0,181.0 L217.5,178.3 L218.0,175.5 L218.5,172.7 L219.0,169.8 L219.5,166.9 L220.0,164.0 L220.5,161.2 L221.0,158.5 L221.5,155.6 L222.0,152.6 L222.5,149.1 L223.0,145.5 L223.5,142.0 L224.0,138.5 L224.5,135.0 L225.0,131.6 L225.5,128.2 L226.0,125.0 L226.5,122.0 L227.0,119.1 L227.5,116.5 L228.0,114.1 L228.5,111.8 L229.0,109.5 L229.5,107.2 L230.0,104.7 L230.5,102.0 L231.0,99.3 L231.5,96.7 L232.0,94.3 L232.5,91.9 L233.0,89.7 L233.5,87.6 L234.0,85.6 L234.5,83.6 L235.0,81.8 L235.5,80.0 L236.0,78.4 L236.5,76.8 L237.0,75.4 L237.5,74.0 L238.0,72.8 L238.5,71.7 L239.0,70.7 L239.5,69.6 L240.0,68.5 L240.5,67.8 L241.0,67.2 L241.5,66.6 L242.0,65.3 L242.5,65.5 L243.0,64.1 L243.5,64.0 L244.0,63.5 L244.5,62.9 L245.0,62.2 L245.5,61.6 L246.0,62.0 L246.5,61.3 L247.0,60.4 L247.5,62.4 L248.0,61.4 L248.5,61.8 L249.0,60.4 L249.5,61.4 L250.0,61.4 L250.5,61.3 L251.0,60.5 L251.5,59.9 L252.0,60.3 L252.5,59.3 L253.0,59.4 L253.5,60.2 L254.0,59.7 L254.5,60.0 L255.0,60.0 L255.5,60.9 L256.0,60.6 L256.5,60.0 L257.0,60.6 L257.5,59.7 L258.0,59.9 L258.5,60.4 L259.0,59.4 L259.5,59.9 L260.0,59.4 L260.5,60.1 L261.0,60.7 L261.5,59.7 L262.0,60.1 L262.5,59.6 L263.0,59.5 L263.5,59.5 L264.0,60.7 L264.5,61.1 L265.0,60.2 L265.5,59.7 L266.0,60.3 L266.5,59.9 L267.0,60.4 L267.5,60.1 L268.0,60.1 L268.5,60.3 L269.0,59.7 L269.5,59.8 L270.0,59.2 L270.5,59.8 L271.0,59.4 L271.5,59.9 L272.0,59.6 L272.5,60.1 L273.0,60.2 L273.5,59.4 L274.0,59.6 L274.5,59.6 L275.0,60.3 L275.5,60.8 L276.0,60.4 L276.5,59.9 L277.0,60.7 L277.5,59.3 L278.0,60.7 L278.5,59.7 L279.0,58.8 L279.5,61.2 L280.0,60.7 L280.5,59.5 L281.0,60.1 L281.5,59.9 L282.0,60.1 L282.5,59.3 L283.0,59.7 L283.5,60.2 L284.0,60.1 L284.5,60.6 L285.0,60.1 L285.5,61.1 L286.0,59.7 L286.5,60.2 L287.0,59.2 L287.5,59.5 L288.0,60.7 L288.5,59.6 L289.0,60.3 L289.5,60.0 L290.0,59.6 L290.5,59.9 L291.0,59.9 L291.5,59.9 L292.0,60.5 L292.5,60.4 L293.0,59.9 L293.5,59.7 L294.0,60.3 L294.5,60.1 L295.0,60.6 L295.5,61.4 L296.0,60.6 L296.5,60.2 L297.0,60.1 L297.5,59.8 L298.0,59.8 L298.5,59.8 L299.0,60.1 L299.5,60.1 L300.0,60.6 L300.5,60.1 L301.0,60.2 L301.5,59.8 L302.0,61.1 L302.5,60.6 L303.0,61.2 L303.5,60.7 L304.0,61.1 L304.5,60.3 L305.0,60.7 L305.5,61.6 L306.0,59.9 L306.5,61.0 L307.0,61.2 L307.5,60.7 L308.0,60.8 L308.5,61.1 L309.0,60.2 L309.5,60.7 L310.0,60.2 L310.5,60.3 L311.0,60.3 L311.5,60.5 L312.0,60.7 L312.5,60.9 L313.0,60.0 L313.5,61.6 L314.0,61.2 L314.5,61.0 L315.0,60.6 L315.5,60.7 L316.0,61.0 L316.5,61.0 L317.0,60.0 L317.5,61.2 L318.0,62.2 L318.5,60.0 L319.0,61.3" fill="none" stroke="#050505" stroke-width="1.05" stroke-linejoin="round"/>
<path d="M63.5,217.9 L64.0,217.6 L64.5,218.3 L65.0,216.9 L65.5,217.6 L66.0,218.2 L66.5,217.2 L67.0,217.1 L67.5,217.3 L68.0,216.9 L68.5,218.0 L69.0,216.6 L69.5,217.5 L70.0,216.3 L70.5,217.3 L71.0,216.8 L71.5,215.5 L72.0,216.7 L72.5,216.2 L73.0,216.4 L73.5,217.3 L74.0,216.0 L74.5,216.0 L75.0,217.1 L75.5,216.4 L76.0,217.0 L76.5,216.4 L77.0,215.9 L77.5,216.1 L78.0,216.6 L78.5,216.4 L79.0,216.0 L79.5,216.0 L80.0,215.9 L80.5,215.7 L81.0,216.5 L81.5,215.8 L82.0,215.4 L82.5,215.5 L83.0,215.9 L83.5,215.8 L84.0,215.5 L84.5,215.3 L85.0,215.5 L85.5,215.0 L86.0,215.0 L86.5,215.5 L87.0,215.2 L87.5,215.3 L88.0,215.4 L88.5,215.3 L89.0,215.1 L89.5,215.5 L90.0,215.1 L90.5,214.9 L91.0,215.0 L91.5,214.9 L92.0,214.7 L92.5,214.8 L93.0,214.7 L93.5,214.5 L94.0,214.6 L94.5,214.6 L95.0,214.5 L95.5,214.4 L96.0,214.4 L96.5,214.4 L97.0,214.3 L97.5,214.2 L98.0,214.2 L98.5,214.1 L99.0,214.0 L99.5,214.0 L100.0,213.9 L100.5,213.9 L101.0,213.8 L101.5,213.8 L102.0,213.7 L102.5,213.7 L103.0,213.6 L103.5,213.6 L104.0,213.5 L104.5,213.5 L105.0,213.4 L105.5,213.4 L106.0,213.3 L106.5,213.3 L107.0,213.2 L107.5,213.1 L108.0,213.0 L108.5,213.0 L109.0,212.9 L109.5,212.8 L110.0,212.7 L110.5,212.6 L111.0,212.5 L111.5,212.4 L112.0,212.3 L112.5,212.1 L113.0,211.9 L113.5,211.7 L114.0,211.4 L114.5,211.1 L115.0,210.8 L115.5,210.4 L116.0,210.1 L116.5,209.8 L117.0,209.4 L117.5,209.1 L118.0,208.7 L118.5,208.4 L119.0,208.0 L119.5,207.5 L120.0,207.0 L120.5,206.5 L121.0,205.8 L121.5,205.1 L122.0,204.2 L122.5,203.4 L123.0,202.5 L123.5,201.7 L124.0,200.8 L124.5,199.9 L125.0,198.9 L125.5,198.0 L126.0,196.9 L126.5,195.8 L127.0,194.8 L127.5,193.8 L128.0,192.8 L128.5,191.8 L129.0,191.0 L129.5,190.2 L130.0,189.4 L130.5,188.8 L131.0,188.3 L131.5,187.9 L132.0,187.5 L132.5,187.2 L133.0,186.9 L133.5,186.7 L134.0,186.5 L134.5,186.3 L135.0,186.1 L135.5,185.9 L136.0,185.8 L136.5,185.6 L137.0,185.6 L137.5,185.5 L138.0,185.4 L138.5,185.3 L139.0,185.3 L139.5,185.2 L140.0,185.2 L140.5,185.1 L141.0,185.1 L141.5,185.1 L142.0,185.2 L142.5,185.3 L143.0,185.5 L143.5,185.7 L144.0,185.9 L144.5,186.1 L145.0,186.4 L145.5,186.7 L146.0,187.0 L146.5,187.5 L147.0,188.0 L147.5,188.6 L148.0,189.1 L148.5,189.6 L149.0,190.1 L149.5,190.6 L150.0,191.1 L150.5,191.6 L151.0,192.1 L151.5,192.6 L152.0,193.1 L152.5,193.7 L153.0,194.2 L153.5,194.7 L154.0,195.1 L154.5,195.5 L155.0,195.9 L155.5,196.3 L156.0,196.6 L156.5,197.0 L157.0,197.3 L157.5,197.6 L158.0,197.9 L158.5,198.1 L159.0,198.4 L159.5,198.7 L160.0,198.9 L160.5,199.1 L161.0,199.3 L161.5,199.5 L162.0,199.8 L162.5,200.0 L163.0,200.2 L163.5,200.4 L164.0,200.7 L164.5,200.9 L165.0,201.1 L165.5,201.4 L166.0,201.6 L166.5,201.9 L167.0,202.1 L167.5,202.4 L168.0,202.6 L168.5,202.9 L169.0,203.2 L169.5,203.5 L170.0,203.9 L170.5,204.2 L171.0,204.5 L171.5,204.8 L172.0,205.0 L172.5,205.3 L173.0,205.6 L173.5,205.8 L174.0,206.0 L174.5,206.2 L175.0,206.4 L175.5,206.6 L176.0,206.7 L176.5,206.9 L177.0,207.1 L177.5,207.2 L178.0,207.4 L178.5,207.5 L179.0,207.6 L179.5,207.7 L180.0,207.9 L180.5,208.0 L181.0,208.0 L181.5,208.1 L182.0,208.2 L182.5,208.3 L183.0,208.4 L183.5,208.6 L184.0,208.8 L184.5,209.0 L185.0,209.3 L185.5,209.6 L186.0,209.8 L186.5,210.1 L187.0,210.4 L187.5,210.6 L188.0,210.8 L188.5,210.9 L189.0,211.1 L189.5,211.3 L190.0,211.5 L190.5,211.6 L191.0,211.8 L191.5,211.9 L192.0,212.1 L192.5,212.2 L193.0,212.4 L193.5,212.5 L194.0,212.6 L194.5,212.8 L195.0,212.9 L195.5,213.0 L196.0,213.2 L196.5,213.3 L197.0,213.4 L197.5,213.6 L198.0,213.7 L198.5,213.8 L199.0,213.8 L199.5,213.9 L200.0,214.0 L200.5,213.9 L201.0,213.8 L201.5,213.7 L202.0,213.7 L202.5,213.6 L203.0,213.5 L203.5,213.4 L204.0,213.2 L204.5,212.9 L205.0,212.7 L205.5,212.4 L206.0,212.2 L206.5,211.9 L207.0,211.6 L207.5,211.3 L208.0,210.9 L208.5,210.5 L209.0,210.1 L209.5,209.5 L210.0,208.9 L210.5,208.1 L211.0,207.2 L211.5,206.2 L212.0,205.0 L212.5,203.6 L213.0,202.1 L213.5,200.5 L214.0,198.6 L214.5,196.2 L215.0,193.7 L215.5,191.2 L216.0,188.7 L216.5,186.2 L217.0,183.7 L217.5,181.1 L218.0,178.6 L218.5,175.9 L219.0,173.3 L219.5,170.6 L220.0,167.9 L220.5,165.3 L221.0,162.8 L221.5,160.3 L222.0,157.5 L222.5,154.3 L223.0,150.9 L223.5,147.7 L224.0,144.5 L224.5,141.3 L225.0,138.2 L225.5,135.2 L226.0,132.3 L226.5,129.5 L227.0,127.0 L227.5,124.6 L228.0,122.5 L228.5,120.4 L229.0,118.4 L229.5,116.3 L230.0,114.2 L230.5,111.8 L231.0,109.4 L231.5,107.1 L232.0,105.0 L232.5,103.0 L233.0,101.1 L233.5,99.4 L234.0,97.6 L234.5,96.0 L235.0,94.5 L235.5,93.0 L236.0,91.7 L236.5,90.4 L237.0,89.3 L237.5,88.2 L238.0,87.2 L238.5,86.4 L239.0,85.6 L239.5,84.8 L240.0,84.1 L240.5,83.7 L241.0,83.1 L241.5,82.7 L242.0,82.3 L242.5,81.5 L243.0,81.4 L243.5,80.8 L244.0,80.5 L244.5,80.2 L245.0,79.9 L245.5,80.1 L246.0,79.6 L246.5,79.3 L247.0,79.1 L247.5,79.2 L248.0,78.6 L248.5,78.6 L249.0,78.7 L249.5,78.4 L250.0,78.5 L250.5,78.2 L251.0,79.2 L251.5,78.9 L252.0,78.5 L252.5,78.2 L253.0,79.0 L253.5,78.2 L254.0,78.0 L254.5,78.2 L255.0,78.1 L255.5,78.6 L256.0,78.0 L256.5,78.8 L257.0,77.6 L257.5,78.3 L258.0,77.6 L258.5,78.7 L259.0,77.9 L259.5,78.0 L260.0,78.4 L260.5,78.5 L261.0,77.5 L261.5,77.8 L262.0,77.4 L262.5,78.0 L263.0,77.9 L263.5,77.8 L264.0,77.7 L264.5,77.8 L265.0,77.7 L265.5,78.2 L266.0,78.6 L266.5,77.2 L267.0,77.9 L267.5,77.8 L268.0,78.2 L268.5,77.6 L269.0,77.9 L269.5,77.6 L270.0,78.3 L270.5,78.0 L271.0,77.9 L271.5,78.1 L272.0,77.9 L272.5,77.4 L273.0,78.2 L273.5,78.1 L274.0,77.9 L274.5,78.4 L275.0,78.5 L275.5,77.5 L276.0,77.7 L276.5,78.6 L277.0,78.6 L277.5,77.7 L278.0,77.5 L278.5,77.7 L279.0,77.8 L279.5,77.3 L280.0,78.0 L280.5,77.5 L281.0,77.5 L281.5,78.4 L282.0,77.7 L282.5,78.0 L283.0,78.2 L283.5,78.3 L284.0,77.9 L284.5,78.0 L285.0,77.7 L285.5,78.7 L286.0,78.3 L286.5,77.6 L287.0,78.0 L287.5,78.3 L288.0,78.2 L288.5,78.8 L289.0,78.6 L289.5,77.8 L290.0,78.0 L290.5,77.5 L291.0,78.2 L291.5,78.1 L292.0,79.2 L292.5,78.1 L293.0,77.3 L293.5,77.8 L294.0,78.2 L294.5,77.6 L295.0,77.8 L295.5,78.0 L296.0,78.3 L296.5,78.1 L297.0,77.8 L297.5,78.5 L298.0,78.0 L298.5,78.0 L299.0,77.6 L299.5,77.9 L300.0,78.5 L300.5,77.6 L301.0,78.2 L301.5,78.5 L302.0,78.1 L302.5,78.4 L303.0,77.8 L303.5,78.8 L304.0,78.8 L304.5,78.4 L305.0,77.6 L305.5,77.9 L306.0,78.8 L306.5,79.1 L307.0,78.5 L307.5,78.9 L308.0,78.2 L308.5,78.4 L309.0,78.5 L309.5,78.6 L310.0,77.9 L310.5,78.9 L311.0,79.0 L311.5,78.1 L312.0,78.0 L312.5,78.7 L313.0,78.3 L313.5,77.6 L314.0,78.9 L314.5,78.7 L315.0,78.4 L315.5,79.5 L316.0,78.7 L316.5,78.4 L317.0,78.7 L317.5,78.3 L318.0,78.4 L318.5,78.9 L319.0,78.5" fill="none" stroke="#050505" stroke-width="1.05" stroke-linejoin="round"/>
<path d="M63.5,215.3 L64.0,216.3 L64.5,215.8 L65.0,215.7 L65.5,215.5 L66.0,215.4 L66.5,215.9 L67.0,215.0 L67.5,216.0 L68.0,214.4 L68.5,214.7 L69.0,214.1 L69.5,214.5 L70.0,214.9 L70.5,215.3 L71.0,214.2 L71.5,214.5 L72.0,214.2 L72.5,214.0 L73.0,213.7 L73.5,214.2 L74.0,213.4 L74.5,214.1 L75.0,214.0 L75.5,213.7 L76.0,213.5 L76.5,213.3 L77.0,214.5 L77.5,213.2 L78.0,214.2 L78.5,213.8 L79.0,213.4 L79.5,213.1 L80.0,213.8 L80.5,213.9 L81.0,213.0 L81.5,213.1 L82.0,213.5 L82.5,213.2 L83.0,213.7 L83.5,212.8 L84.0,213.1 L84.5,212.6 L85.0,213.4 L85.5,212.6 L86.0,212.2 L86.5,212.6 L87.0,212.6 L87.5,213.0 L88.0,212.5 L88.5,212.5 L89.0,212.5 L89.5,212.7 L90.0,212.3 L90.5,212.4 L91.0,212.3 L91.5,212.1 L92.0,212.1 L92.5,212.1 L93.0,211.9 L93.5,212.1 L94.0,211.7 L94.5,211.9 L95.0,211.8 L95.5,211.7 L96.0,211.6 L96.5,211.5 L97.0,211.5 L97.5,211.4 L98.0,211.3 L98.5,211.3 L99.0,211.1 L99.5,211.1 L100.0,211.0 L100.5,210.9 L101.0,210.9 L101.5,210.8 L102.0,210.8 L102.5,210.7 L103.0,210.7 L103.5,210.6 L104.0,210.5 L104.5,210.5 L105.0,210.4 L105.5,210.4 L106.0,210.3 L106.5,210.2 L107.0,210.1 L107.5,210.0 L108.0,210.0 L108.5,209.9 L109.0,209.8 L109.5,209.7 L110.0,209.6 L110.5,209.4 L111.0,209.3 L111.5,209.2 L112.0,209.0 L112.5,208.8 L113.0,208.6 L113.5,208.3 L114.0,208.0 L114.5,207.6 L115.0,207.2 L115.5,206.8 L116.0,206.4 L116.5,206.0 L117.0,205.6 L117.5,205.2 L118.0,204.8 L118.5,204.3 L119.0,203.8 L119.5,203.3 L120.0,202.7 L120.5,202.1 L121.0,201.3 L121.5,200.4 L122.0,199.4 L122.5,198.3 L123.0,197.3 L123.5,196.3 L124.0,195.2 L124.5,194.1 L125.0,193.0 L125.5,191.8 L126.0,190.6 L126.5,189.3 L127.0,188.1 L127.5,186.8 L128.0,185.6 L128.5,184.5 L129.0,183.4 L129.5,182.5 L130.0,181.6 L130.5,180.9 L131.0,180.3 L131.5,179.8 L132.0,179.3 L132.5,178.9 L133.0,178.6 L133.5,178.3 L134.0,178.1 L134.5,177.8 L135.0,177.6 L135.5,177.4 L136.0,177.2 L136.5,177.1 L137.0,177.0 L137.5,176.9 L138.0,176.8 L138.5,176.7 L139.0,176.6 L139.5,176.6 L140.0,176.5 L140.5,176.5 L141.0,176.4 L141.5,176.5 L142.0,176.5 L142.5,176.7 L143.0,176.8 L143.5,177.1 L144.0,177.4 L144.5,177.7 L145.0,178.0 L145.5,178.4 L146.0,178.7 L146.5,179.3 L147.0,179.9 L147.5,180.6 L148.0,181.2 L148.5,181.8 L149.0,182.4 L149.5,183.0 L150.0,183.6 L150.5,184.2 L151.0,184.8 L151.5,185.4 L152.0,186.1 L152.5,186.7 L153.0,187.3 L153.5,187.9 L154.0,188.4 L154.5,188.9 L155.0,189.4 L155.5,189.8 L156.0,190.3 L156.5,190.7 L157.0,191.0 L157.5,191.4 L158.0,191.7 L158.5,192.1 L159.0,192.4 L159.5,192.7 L160.0,193.0 L160.5,193.2 L161.0,193.5 L161.5,193.7 L162.0,194.0 L162.5,194.3 L163.0,194.5 L163.5,194.8 L164.0,195.1 L164.5,195.4 L165.0,195.7 L165.5,195.9 L166.0,196.2 L166.5,196.5 L167.0,196.8 L167.5,197.1 L168.0,197.5 L168.5,197.8 L169.0,198.1 L169.5,198.5 L170.0,198.9 L170.5,199.3 L171.0,199.7 L171.5,200.0 L172.0,200.3 L172.5,200.7 L173.0,201.0 L173.5,201.3 L174.0,201.5 L174.5,201.7 L175.0,202.0 L175.5,202.1 L176.0,202.3 L176.5,202.5 L177.0,202.6 L177.5,202.8 L178.0,202.9 L178.5,203.0 L179.0,203.1 L179.5,203.2 L180.0,203.4 L180.5,203.4 L181.0,203.5 L181.5,203.6 L182.0,203.6 L182.5,203.7 L183.0,203.8 L183.5,204.0 L184.0,204.2 L184.5,204.5 L185.0,204.8 L185.5,205.1 L186.0,205.4 L186.5,205.7 L187.0,205.9 L187.5,206.2 L188.0,206.4 L188.5,206.6 L189.0,206.7 L189.5,206.9 L190.0,207.1 L190.5,207.3 L191.0,207.4 L191.5,207.6 L192.0,207.8 L192.5,207.9 L193.0,208.0 L193.5,208.2 L194.0,208.3 L194.5,208.5 L195.0,208.6 L195.5,208.8 L196.0,208.9 L196.5,209.1 L197.0,209.2 L197.5,209.3 L198.0,209.4 L198.5,209.5 L199.0,209.6 L199.5,209.7 L200.0,209.7 L200.5,209.8 L201.0,209.9 L201.5,209.9 L202.0,210.0 L202.5,210.1 L203.0,210.1 L203.5,210.1 L204.0,210.1 L204.5,210.0 L205.0,209.8 L205.5,209.7 L206.0,209.6 L206.5,209.4 L207.0,209.3 L207.5,209.1 L208.0,208.9 L208.5,208.6 L209.0,208.3 L209.5,207.9 L210.0,207.3 L210.5,206.7 L211.0,206.0 L211.5,205.1 L212.0,204.0 L212.5,202.6 L213.0,201.0 L213.5,199.3 L214.0,197.3 L214.5,194.8 L215.0,192.2 L215.5,189.5 L216.0,186.9 L216.5,184.3 L217.0,181.6 L217.5,178.9 L218.0,176.2 L218.5,173.4 L219.0,170.6 L219.5,167.7 L220.0,164.9 L220.5,162.1 L221.0,159.5 L221.5,156.7 L222.0,153.7 L222.5,150.3 L223.0,146.8 L223.5,143.3 L224.0,139.9 L224.5,136.5 L225.0,133.2 L225.5,129.9 L226.0,126.8 L226.5,123.8 L227.0,121.0 L227.5,118.5 L228.0,116.2 L228.5,113.9 L229.0,111.7 L229.5,109.5 L230.0,107.1 L230.5,104.5 L231.0,101.9 L231.5,99.5 L232.0,97.2 L232.5,95.0 L233.0,92.9 L233.5,90.9 L234.0,89.0 L234.5,87.2 L235.0,85.5 L235.5,83.9 L236.0,82.4 L236.5,81.0 L237.0,79.7 L237.5,78.4 L238.0,77.4 L238.5,76.4 L239.0,75.4 L239.5,74.5 L240.0,73.9 L240.5,73.1 L241.0,72.5 L241.5,71.8 L242.0,71.3 L242.5,70.6 L243.0,70.2 L243.5,69.8 L244.0,69.3 L244.5,68.7 L245.0,68.2 L245.5,68.3 L246.0,68.2 L246.5,67.8 L247.0,67.5 L247.5,67.8 L248.0,68.4 L248.5,67.2 L249.0,67.4 L249.5,67.3 L250.0,66.0 L250.5,67.0 L251.0,66.6 L251.5,67.4 L252.0,66.6 L252.5,66.4 L253.0,66.5 L253.5,66.6 L254.0,66.3 L254.5,66.4 L255.0,65.9 L255.5,66.3 L256.0,66.7 L256.5,67.2 L257.0,66.7 L257.5,66.5 L258.0,66.9 L258.5,66.8 L259.0,67.1 L259.5,66.8 L260.0,66.4 L260.5,66.5 L261.0,66.5 L261.5,66.5 L262.0,66.5 L262.5,66.1 L263.0,65.6 L263.5,66.1 L264.0,65.6 L264.5,66.4 L265.0,66.4 L265.5,65.7 L266.0,66.7 L266.5,66.8 L267.0,66.5 L267.5,67.1 L268.0,67.2 L268.5,65.9 L269.0,66.8 L269.5,66.6 L270.0,66.6 L270.5,66.8 L271.0,66.1 L271.5,66.2 L272.0,66.1 L272.5,66.1 L273.0,66.4 L273.5,65.8 L274.0,66.0 L274.5,66.6 L275.0,66.4 L275.5,66.6 L276.0,65.7 L276.5,66.1 L277.0,66.2 L277.5,66.4 L278.0,66.2 L278.5,66.8 L279.0,66.4 L279.5,66.4 L280.0,66.4 L280.5,66.7 L281.0,66.2 L281.5,66.9 L282.0,66.6 L282.5,66.5 L283.0,66.4 L283.5,66.6 L284.0,66.8 L284.5,66.8 L285.0,66.6 L285.5,66.8 L286.0,66.5 L286.5,66.9 L287.0,66.4 L287.5,65.6 L288.0,67.0 L288.5,66.5 L289.0,66.0 L289.5,66.4 L290.0,66.1 L290.5,67.3 L291.0,66.7 L291.5,65.9 L292.0,66.7 L292.5,66.4 L293.0,67.3 L293.5,66.1 L294.0,65.7 L294.5,66.6 L295.0,66.4 L295.5,66.4 L296.0,65.7 L296.5,66.8 L297.0,67.3 L297.5,65.9 L298.0,67.1 L298.5,66.4 L299.0,67.6 L299.5,66.8 L300.0,66.6 L300.5,67.1 L301.0,66.9 L301.5,66.5 L302.0,67.0 L302.5,66.5 L303.0,66.0 L303.5,67.6 L304.0,66.6 L304.5,66.5 L305.0,66.9 L305.5,66.2 L306.0,66.3 L306.5,66.6 L307.0,66.7 L307.5,66.9 L308.0,67.3 L308.5,66.7 L309.0,67.1 L309.5,67.2 L310.0,66.5 L310.5,67.1 L311.0,66.6 L311.5,67.4 L312.0,67.2 L312.5,67.0 L313.0,66.5 L313.5,67.1 L314.0,66.8 L314.5,67.4 L315.0,67.1 L315.5,66.8 L316.0,67.5 L316.5,67.4 L317.0,66.9 L317.5,67.7 L318.0,67.1 L318.5,67.1 L319.0,67.3" fill="none" stroke="#050505" stroke-width="1.05" stroke-linejoin="round"/>
<path d="M63.5,220.7 L64.0,220.8 L64.5,220.9 L65.0,222.1 L65.5,221.9 L66.0,220.6 L66.5,221.8 L67.0,220.6 L67.5,220.8 L68.0,221.0 L68.5,220.5 L69.0,221.9 L69.5,220.3 L70.0,219.2 L70.5,220.8 L71.0,219.5 L71.5,219.5 L72.0,217.6 L72.5,220.2 L73.0,220.0 L73.5,219.8 L74.0,219.8 L74.5,220.2 L75.0,219.0 L75.5,219.5 L76.0,218.4 L76.5,218.5 L77.0,219.2 L77.5,218.7 L78.0,217.7 L78.5,218.5 L79.0,218.1 L79.5,217.7 L80.0,218.2 L80.5,217.8 L81.0,217.2 L81.5,217.3 L82.0,218.5 L82.5,217.1 L83.0,217.7 L83.5,217.8 L84.0,217.8 L84.5,217.0 L85.0,217.3 L85.5,217.4 L86.0,217.5 L86.5,217.0 L87.0,216.8 L87.5,217.4 L88.0,217.3 L88.5,217.0 L89.0,216.7 L89.5,216.9 L90.0,216.8 L90.5,216.9 L91.0,216.4 L91.5,216.6 L92.0,216.5 L92.5,216.2 L93.0,216.4 L93.5,216.3 L94.0,216.2 L94.5,216.2 L95.0,215.9 L95.5,216.0 L96.0,216.0 L96.5,215.9 L97.0,215.9 L97.5,215.6 L98.0,215.6 L98.5,215.6 L99.0,215.5 L99.5,215.4 L100.0,215.3 L100.5,215.2 L101.0,215.2 L101.5,215.1 L102.0,215.0 L102.5,215.0 L103.0,214.9 L103.5,214.8 L104.0,214.8 L104.5,214.7 L105.0,214.6 L105.5,214.6 L106.0,214.5 L106.5,214.4 L107.0,214.3 L107.5,214.2 L108.0,214.1 L108.5,214.0 L109.0,214.0 L109.5,213.8 L110.0,213.7 L110.5,213.6 L111.0,213.5 L111.5,213.4 L112.0,213.2 L112.5,213.1 L113.0,212.9 L113.5,212.6 L114.0,212.3 L114.5,211.9 L115.0,211.5 L115.5,211.1 L116.0,210.8 L116.5,210.4 L117.0,210.0 L117.5,209.6 L118.0,209.2 L118.5,208.8 L119.0,208.3 L119.5,207.8 L120.0,207.3 L120.5,206.6 L121.0,205.9 L121.5,205.1 L122.0,204.1 L122.5,203.2 L123.0,202.3 L123.5,201.3 L124.0,200.3 L124.5,199.3 L125.0,198.3 L125.5,197.3 L126.0,196.2 L126.5,195.1 L127.0,194.0 L127.5,193.0 L128.0,192.0 L128.5,191.0 L129.0,190.1 L129.5,189.3 L130.0,188.6 L130.5,187.9 L131.0,187.4 L131.5,187.0 L132.0,186.6 L132.5,186.3 L133.0,186.0 L133.5,185.8 L134.0,185.5 L134.5,185.3 L135.0,185.1 L135.5,185.0 L136.0,184.8 L136.5,184.7 L137.0,184.6 L137.5,184.5 L138.0,184.4 L138.5,184.4 L139.0,184.3 L139.5,184.3 L140.0,184.2 L140.5,184.2 L141.0,184.2 L141.5,184.2 L142.0,184.2 L142.5,184.3 L143.0,184.5 L143.5,184.7 L144.0,184.9 L144.5,185.2 L145.0,185.5 L145.5,185.8 L146.0,186.1 L146.5,186.6 L147.0,187.1 L147.5,187.7 L148.0,188.2 L148.5,188.7 L149.0,189.2 L149.5,189.7 L150.0,190.2 L150.5,190.7 L151.0,191.3 L151.5,191.8 L152.0,192.3 L152.5,192.9 L153.0,193.4 L153.5,193.9 L154.0,194.4 L154.5,194.8 L155.0,195.2 L155.5,195.6 L156.0,195.9 L156.5,196.3 L157.0,196.6 L157.5,196.9 L158.0,197.2 L158.5,197.5 L159.0,197.7 L159.5,198.0 L160.0,198.2 L160.5,198.5 L161.0,198.7 L161.5,198.9 L162.0,199.1 L162.5,199.3 L163.0,199.6 L163.5,199.8 L164.0,200.0 L164.5,200.3 L165.0,200.5 L165.5,200.8 L166.0,201.0 L166.5,201.3 L167.0,201.5 L167.5,201.8 L168.0,202.1 L168.5,202.3 L169.0,202.6 L169.5,203.0 L170.0,203.3 L170.5,203.6 L171.0,203.9 L171.5,204.2 L172.0,204.5 L172.5,204.8 L173.0,205.0 L173.5,205.3 L174.0,205.5 L174.5,205.7 L175.0,205.9 L175.5,206.1 L176.0,206.2 L176.5,206.4 L177.0,206.6 L177.5,206.7 L178.0,206.8 L178.5,207.0 L179.0,207.1 L179.5,207.2 L180.0,207.3 L180.5,207.4 L181.0,207.5 L181.5,207.6 L182.0,207.7 L182.5,207.8 L183.0,207.9 L183.5,208.1 L184.0,208.3 L184.5,208.5 L185.0,208.8 L185.5,209.0 L186.0,209.3 L186.5,209.6 L187.0,209.8 L187.5,210.1 L188.0,210.2 L188.5,210.4 L189.0,210.6 L189.5,210.8 L190.0,210.9 L190.5,211.1 L191.0,211.3 L191.5,211.4 L192.0,211.6 L192.5,211.7 L193.0,211.8 L193.5,212.0 L194.0,212.1 L194.5,212.3 L195.0,212.4 L195.5,212.5 L196.0,212.7 L196.5,212.8 L197.0,212.9 L197.5,213.1 L198.0,213.2 L198.5,213.3 L199.0,213.3 L199.5,213.4 L200.0,213.5 L200.5,213.4 L201.0,213.4 L201.5,213.3 L202.0,213.2 L202.5,213.2 L203.0,213.1 L203.5,213.0 L204.0,212.8 L204.5,212.6 L205.0,212.4 L205.5,212.1 L206.0,211.9 L206.5,211.7 L207.0,211.4 L207.5,211.1 L208.0,210.7 L208.5,210.4 L209.0,209.9 L209.5,209.4 L210.0,208.8 L210.5,208.0 L211.0,207.2 L211.5,206.2 L212.0,205.0 L212.5,203.6 L213.0,202.1 L213.5,200.5 L214.0,198.6 L214.5,196.2 L215.0,193.7 L215.5,191.2 L216.0,188.7 L216.5,186.2 L217.0,183.7 L217.5,181.1 L218.0,178.6 L218.5,175.9 L219.0,173.3 L219.5,170.6 L220.0,167.9 L220.5,165.3 L221.0,162.8 L221.5,160.3 L222.0,157.5 L222.5,154.3 L223.0,150.9 L223.5,147.7 L224.0,144.5 L224.5,141.3 L225.0,138.2 L225.5,135.2 L226.0,132.3 L226.5,129.5 L227.0,127.0 L227.5,124.6 L228.0,122.5 L228.5,120.4 L229.0,118.4 L229.5,116.3 L230.0,114.2 L230.5,111.8 L231.0,109.4 L231.5,107.2 L232.0,105.1 L232.5,103.1 L233.0,101.2 L233.5,99.4 L234.0,97.7 L234.5,96.0 L235.0,94.5 L235.5,93.1 L236.0,91.7 L236.5,90.5 L237.0,89.3 L237.5,88.2 L238.0,87.3 L238.5,86.5 L239.0,85.6 L239.5,85.0 L240.0,84.3 L240.5,83.5 L241.0,83.1 L241.5,82.5 L242.0,82.1 L242.5,81.8 L243.0,81.2 L243.5,81.3 L244.0,80.4 L244.5,80.7 L245.0,80.1 L245.5,80.2 L246.0,79.5 L246.5,79.3 L247.0,78.8 L247.5,79.5 L248.0,79.6 L248.5,80.2 L249.0,79.6 L249.5,79.0 L250.0,78.6 L250.5,78.9 L251.0,78.6 L251.5,79.4 L252.0,79.0 L252.5,78.0 L253.0,78.0 L253.5,79.1 L254.0,78.5 L254.5,78.1 L255.0,78.9 L255.5,78.0 L256.0,78.1 L256.5,78.0 L257.0,77.2 L257.5,78.7 L258.0,77.6 L258.5,77.9 L259.0,77.9 L259.5,78.7 L260.0,78.2 L260.5,78.3 L261.0,77.4 L261.5,78.2 L262.0,77.5 L262.5,78.5 L263.0,78.5 L263.5,78.3 L264.0,79.4 L264.5,78.6 L265.0,78.6 L265.5,78.4 L266.0,78.2 L266.5,78.9 L267.0,78.9 L267.5,77.6 L268.0,78.9 L268.5,78.6 L269.0,78.9 L269.5,78.6 L270.0,77.7 L270.5,77.7 L271.0,79.4 L271.5,78.5 L272.0,77.6 L272.5,78.6 L273.0,78.2 L273.5,77.4 L274.0,77.1 L274.5,77.5 L275.0,78.6 L275.5,78.4 L276.0,78.3 L276.5,78.6 L277.0,78.8 L277.5,77.3 L278.0,78.3 L278.5,78.0 L279.0,77.8 L279.5,78.1 L280.0,78.4 L280.5,78.3 L281.0,77.7 L281.5,78.2 L282.0,79.6 L282.5,77.9 L283.0,77.6 L283.5,78.7 L284.0,78.9 L284.5,78.8 L285.0,78.0 L285.5,79.1 L286.0,78.2 L286.5,78.0 L287.0,78.3 L287.5,78.6 L288.0,79.0 L288.5,79.0 L289.0,78.7 L289.5,79.2 L290.0,78.8 L290.5,79.2 L291.0,78.0 L291.5,77.9 L292.0,79.2 L292.5,78.0 L293.0,78.7 L293.5,78.8 L294.0,78.6 L294.5,78.6 L295.0,79.7 L295.5,77.5 L296.0,79.4 L296.5,80.2 L297.0,79.0 L297.5,79.0 L298.0,79.4 L298.5,80.0 L299.0,78.4 L299.5,79.1 L300.0,79.0 L300.5,79.4 L301.0,79.2 L301.5,79.5 L302.0,78.9 L302.5,79.2 L303.0,78.9 L303.5,78.9 L304.0,79.2 L304.5,79.2 L305.0,78.7 L305.5,80.2 L306.0,79.3 L306.5,78.6 L307.0,80.0 L307.5,79.0 L308.0,79.7 L308.5,79.5 L309.0,79.6 L309.5,79.6 L310.0,79.2 L310.5,79.6 L311.0,80.7 L311.5,78.4 L312.0,79.7 L312.5,79.9 L313.0,79.1 L313.5,79.0 L314.0,80.9 L314.5,79.6 L315.0,80.9 L315.5,80.1 L316.0,79.9 L316.5,80.1 L317.0,80.2 L317.5,80.6 L318.0,80.2 L318.5,80.1 L319.0,80.1" fill="none" stroke="#050505" stroke-width="1.05" stroke-linejoin="round"/>
<path d="M63.5,215.8 L64.0,215.8 L64.5,215.6 L65.0,215.4 L65.5,215.5 L66.0,215.2 L66.5,215.5 L67.0,215.7 L67.5,215.2 L68.0,215.1 L68.5,215.3 L69.0,215.2 L69.5,215.1 L70.0,214.7 L70.5,214.9 L71.0,215.0 L71.5,214.5 L72.0,214.6 L72.5,214.2 L73.0,214.3 L73.5,214.1 L74.0,214.4 L74.5,214.1 L75.0,214.4 L75.5,214.3 L76.0,214.2 L76.5,213.7 L77.0,214.0 L77.5,214.1 L78.0,214.0 L78.5,213.7 L79.0,213.8 L79.5,213.7 L80.0,213.6 L80.5,213.9 L81.0,213.5 L81.5,213.6 L82.0,213.7 L82.5,213.4 L83.0,213.4 L83.5,213.4 L84.0,213.4 L84.5,213.1 L85.0,213.2 L85.5,213.4 L86.0,212.9 L86.5,213.2 L87.0,213.0 L87.5,212.9 L88.0,213.1 L88.5,213.0 L89.0,212.7 L89.5,212.8 L90.0,212.8 L90.5,212.7 L91.0,212.7 L91.5,212.6 L92.0,212.6 L92.5,212.6 L93.0,212.4 L93.5,212.4 L94.0,212.3 L94.5,212.3 L95.0,212.1 L95.5,212.1 L96.0,212.1 L96.5,212.0 L97.0,211.9 L97.5,211.8 L98.0,211.7 L98.5,211.7 L99.0,211.6 L99.5,211.5 L100.0,211.5 L100.5,211.4 L101.0,211.3 L101.5,211.3 L102.0,211.2 L102.5,211.2 L103.0,211.1 L103.5,211.1 L104.0,211.0 L104.5,211.0 L105.0,210.9 L105.5,210.8 L106.0,210.8 L106.5,210.7 L107.0,210.6 L107.5,210.5 L108.0,210.5 L108.5,210.4 L109.0,210.3 L109.5,210.2 L110.0,210.1 L110.5,210.0 L111.0,209.8 L111.5,209.7 L112.0,209.6 L112.5,209.4 L113.0,209.2 L113.5,209.0 L114.0,208.8 L114.5,208.6 L115.0,208.3 L115.5,208.0 L116.0,207.7 L116.5,207.5 L117.0,207.2 L117.5,207.0 L118.0,206.7 L118.5,206.4 L119.0,206.1 L119.5,205.7 L120.0,205.2 L120.5,204.6 L121.0,203.9 L121.5,203.1 L122.0,202.2 L122.5,201.3 L123.0,200.4 L123.5,199.5 L124.0,198.6 L124.5,197.6 L125.0,196.6 L125.5,195.6 L126.0,194.5 L126.5,193.3 L127.0,192.2 L127.5,191.1 L128.0,190.0 L128.5,189.0 L129.0,188.0 L129.5,187.2 L130.0,186.4 L130.5,185.7 L131.0,185.2 L131.5,184.7 L132.0,184.3 L132.5,184.0 L133.0,183.7 L133.5,183.4 L134.0,183.2 L134.5,183.0 L135.0,182.8 L135.5,182.6 L136.0,182.4 L136.5,182.3 L137.0,182.2 L137.5,182.1 L138.0,182.0 L138.5,182.0 L139.0,181.9 L139.5,181.8 L140.0,181.8 L140.5,181.8 L141.0,181.7 L141.5,181.8 L142.0,181.8 L142.5,181.9 L143.0,182.1 L143.5,182.3 L144.0,182.6 L144.5,182.9 L145.0,183.2 L145.5,183.5 L146.0,183.8 L146.5,184.3 L147.0,184.9 L147.5,185.5 L148.0,186.0 L148.5,186.6 L149.0,187.1 L149.5,187.6 L150.0,188.2 L150.5,188.7 L151.0,189.2 L151.5,189.8 L152.0,190.4 L152.5,191.0 L153.0,191.5 L153.5,192.0 L154.0,192.5 L154.5,192.9 L155.0,193.4 L155.5,193.8 L156.0,194.1 L156.5,194.5 L157.0,194.9 L157.5,195.2 L158.0,195.5 L158.5,195.8 L159.0,196.1 L159.5,196.3 L160.0,196.6 L160.5,196.8 L161.0,197.1 L161.5,197.3 L162.0,197.5 L162.5,197.8 L163.0,198.0 L163.5,198.2 L164.0,198.5 L164.5,198.7 L165.0,199.0 L165.5,199.3 L166.0,199.5 L166.5,199.8 L167.0,200.1 L167.5,200.3 L168.0,200.6 L168.5,200.9 L169.0,201.2 L169.5,201.6 L170.0,201.9 L170.5,202.3 L171.0,202.6 L171.5,202.9 L172.0,203.2 L172.5,203.5 L173.0,203.8 L173.5,204.0 L174.0,204.3 L174.5,204.5 L175.0,204.7 L175.5,204.8 L176.0,205.0 L176.5,205.2 L177.0,205.3 L177.5,205.5 L178.0,205.6 L178.5,205.7 L179.0,205.9 L179.5,206.0 L180.0,206.1 L180.5,206.2 L181.0,206.2 L181.5,206.3 L182.0,206.4 L182.5,206.5 L183.0,206.6 L183.5,206.8 L184.0,207.0 L184.5,207.2 L185.0,207.5 L185.5,207.8 L186.0,208.0 L186.5,208.3 L187.0,208.6 L187.5,208.8 L188.0,209.0 L188.5,209.2 L189.0,209.3 L189.5,209.5 L190.0,209.7 L190.5,209.8 L191.0,210.0 L191.5,210.1 L192.0,210.3 L192.5,210.4 L193.0,210.5 L193.5,210.6 L194.0,210.8 L194.5,210.9 L195.0,211.0 L195.5,211.2 L196.0,211.3 L196.5,211.4 L197.0,211.5 L197.5,211.6 L198.0,211.7 L198.5,211.8 L199.0,211.9 L199.5,211.9 L200.0,212.0 L200.5,212.0 L201.0,212.0 L201.5,212.0 L202.0,212.0 L202.5,212.0 L203.0,212.0 L203.5,212.0 L204.0,211.9 L204.5,211.7 L205.0,211.5 L205.5,211.3 L206.0,211.1 L206.5,210.9 L207.0,210.7 L207.5,210.4 L208.0,210.1 L208.5,209.8 L209.0,209.4 L209.5,208.9 L210.0,208.2 L210.5,207.5 L211.0,206.7 L211.5,205.8 L212.0,204.6 L212.5,203.2 L213.0,201.6 L213.5,199.8 L214.0,197.9 L214.5,195.5 L215.0,192.9 L215.5,190.3 L216.0,187.7 L216.5,185.1 L217.0,182.5 L217.5,179.9 L218.0,177.2 L218.5,174.5 L219.0,171.7 L219.5,168.9 L220.0,166.1 L220.5,163.5 L221.0,160.8 L221.5,158.1 L222.0,155.2 L222.5,151.9 L223.0,148.4 L223.5,145.0 L224.0,141.6 L224.5,138.3 L225.0,135.0 L225.5,131.8 L226.0,128.8 L226.5,125.9 L227.0,123.1 L227.5,120.6 L228.0,118.3 L228.5,116.2 L229.0,114.0 L229.5,111.8 L230.0,109.4 L230.5,106.8 L231.0,104.2 L231.5,101.7 L232.0,99.4 L232.5,97.1 L233.0,95.0 L233.5,92.9 L234.0,91.0 L234.5,89.1 L235.0,87.3 L235.5,85.6 L236.0,84.0 L236.5,82.5 L237.0,81.1 L237.5,79.8 L238.0,78.6 L238.5,77.7 L239.0,76.9 L239.5,76.1 L240.0,75.4 L240.5,74.8 L241.0,74.2 L241.5,73.6 L242.0,73.1 L242.5,72.7 L243.0,72.2 L243.5,71.9 L244.0,71.7 L244.5,71.2 L245.0,70.8 L245.5,70.3 L246.0,70.5 L246.5,69.9 L247.0,69.8 L247.5,70.1 L248.0,69.9 L248.5,69.6 L249.0,69.2 L249.5,69.4 L250.0,69.2 L250.5,69.4 L251.0,69.7 L251.5,69.2 L252.0,68.9 L252.5,68.8 L253.0,69.0 L253.5,68.9 L254.0,68.6 L254.5,68.9 L255.0,68.6 L255.5,69.0 L256.0,69.0 L256.5,69.0 L257.0,68.7 L257.5,68.9 L258.0,68.8 L258.5,68.7 L259.0,68.7 L259.5,68.5 L260.0,68.5 L260.5,69.0 L261.0,68.8 L261.5,68.8 L262.0,69.0 L262.5,68.5 L263.0,68.6 L263.5,68.8 L264.0,68.9 L264.5,68.7 L265.0,69.0 L265.5,68.8 L266.0,68.6 L266.5,68.6 L267.0,69.0 L267.5,68.9 L268.0,68.4 L268.5,69.1 L269.0,68.9 L269.5,69.1 L270.0,68.7 L270.5,68.8 L271.0,68.6 L271.5,69.3 L272.0,68.8 L272.5,69.1 L273.0,68.7 L273.5,68.9 L274.0,68.5 L274.5,68.7 L275.0,69.0 L275.5,68.6 L276.0,69.0 L276.5,68.9 L277.0,68.6 L277.5,68.7 L278.0,68.7 L278.5,68.8 L279.0,68.7 L279.5,68.7 L280.0,68.8 L280.5,68.6 L281.0,68.6 L281.5,68.8 L282.0,69.0 L282.5,68.5 L283.0,68.8 L283.5,68.7 L284.0,68.7 L284.5,69.0 L285.0,68.8 L285.5,69.2 L286.0,68.7 L286.5,69.0 L287.0,68.8 L287.5,68.7 L288.0,69.0 L288.5,68.9 L289.0,69.0 L289.5,68.9 L290.0,68.7 L290.5,68.9 L291.0,69.0 L291.5,69.1 L292.0,68.8 L292.5,69.0 L293.0,68.6 L293.5,69.1 L294.0,68.8 L294.5,68.6 L295.0,69.0 L295.5,69.2 L296.0,68.7 L296.5,68.8 L297.0,68.9 L297.5,68.8 L298.0,69.2 L298.5,68.9 L299.0,69.0 L299.5,69.2 L300.0,69.0 L300.5,69.2 L301.0,69.0 L301.5,68.9 L302.0,68.8 L302.5,69.6 L303.0,69.1 L303.5,69.3 L304.0,69.2 L304.5,69.3 L305.0,69.3 L305.5,69.7 L306.0,69.1 L306.5,69.0 L307.0,69.1 L307.5,69.1 L308.0,69.5 L308.5,69.5 L309.0,69.2 L309.5,69.1 L310.0,69.4 L310.5,69.7 L311.0,68.9 L311.5,69.6 L312.0,69.3 L312.5,69.7 L313.0,69.3 L313.5,69.5 L314.0,69.3 L314.5,69.4 L315.0,69.9 L315.5,69.8 L316.0,69.5 L316.5,69.5 L317.0,69.3 L317.5,69.6 L318.0,69.7 L318.5,69.7 L319.0,69.7" fill="none" stroke="#52a028" stroke-width="2.5" stroke-linejoin="round"/>
<path d="M63.5,217.0 L64.0,217.3 L64.5,217.2 L65.0,217.5 L65.5,217.6 L66.0,217.0 L66.5,216.8 L67.0,216.9 L67.5,216.7 L68.0,216.6 L68.5,216.7 L69.0,216.4 L69.5,216.8 L70.0,216.5 L70.5,216.5 L71.0,216.4 L71.5,216.2 L72.0,216.1 L72.5,216.2 L73.0,216.1 L73.5,216.2 L74.0,216.1 L74.5,215.7 L75.0,216.0 L75.5,215.6 L76.0,215.7 L76.5,215.7 L77.0,215.3 L77.5,215.7 L78.0,215.7 L78.5,215.5 L79.0,215.4 L79.5,215.4 L80.0,215.2 L80.5,215.3 L81.0,215.2 L81.5,215.3 L82.0,215.0 L82.5,215.2 L83.0,215.1 L83.5,215.0 L84.0,214.9 L84.5,215.0 L85.0,214.7 L85.5,214.9 L86.0,214.8 L86.5,214.8 L87.0,214.7 L87.5,214.6 L88.0,214.6 L88.5,214.6 L89.0,214.5 L89.5,214.5 L90.0,214.3 L90.5,214.4 L91.0,214.4 L91.5,214.3 L92.0,214.2 L92.5,214.1 L93.0,214.2 L93.5,214.0 L94.0,213.9 L94.5,214.0 L95.0,213.8 L95.5,213.8 L96.0,213.7 L96.5,213.7 L97.0,213.6 L97.5,213.6 L98.0,213.5 L98.5,213.4 L99.0,213.3 L99.5,213.3 L100.0,213.2 L100.5,213.1 L101.0,213.1 L101.5,213.0 L102.0,213.0 L102.5,212.9 L103.0,212.9 L103.5,212.8 L104.0,212.8 L104.5,212.7 L105.0,212.6 L105.5,212.6 L106.0,212.5 L106.5,212.4 L107.0,212.4 L107.5,212.3 L108.0,212.2 L108.5,212.1 L109.0,212.1 L109.5,212.0 L110.0,211.9 L110.5,211.8 L111.0,211.6 L111.5,211.5 L112.0,211.4 L112.5,211.2 L113.0,211.0 L113.5,210.7 L114.0,210.3 L114.5,209.8 L115.0,209.3 L115.5,208.9 L116.0,208.4 L116.5,207.9 L117.0,207.4 L117.5,206.9 L118.0,206.4 L118.5,205.8 L119.0,205.2 L119.5,204.7 L120.0,204.2 L120.5,203.5 L121.0,202.8 L121.5,201.9 L122.0,200.9 L122.5,199.9 L123.0,199.0 L123.5,198.0 L124.0,197.0 L124.5,195.9 L125.0,194.8 L125.5,193.7 L126.0,192.5 L126.5,191.3 L127.0,190.1 L127.5,189.0 L128.0,187.8 L128.5,186.7 L129.0,185.7 L129.5,184.8 L130.0,184.0 L130.5,183.3 L131.0,182.8 L131.5,182.3 L132.0,181.8 L132.5,181.5 L133.0,181.1 L133.5,180.9 L134.0,180.6 L134.5,180.4 L135.0,180.2 L135.5,180.0 L136.0,179.8 L136.5,179.7 L137.0,179.6 L137.5,179.5 L138.0,179.4 L138.5,179.3 L139.0,179.3 L139.5,179.2 L140.0,179.2 L140.5,179.1 L141.0,179.1 L141.5,179.1 L142.0,179.2 L142.5,179.3 L143.0,179.5 L143.5,179.7 L144.0,180.0 L144.5,180.3 L145.0,180.6 L145.5,180.9 L146.0,181.3 L146.5,181.8 L147.0,182.4 L147.5,183.0 L148.0,183.6 L148.5,184.2 L149.0,184.7 L149.5,185.3 L150.0,185.9 L150.5,186.4 L151.0,187.0 L151.5,187.6 L152.0,188.2 L152.5,188.8 L153.0,189.4 L153.5,190.0 L154.0,190.5 L154.5,190.9 L155.0,191.4 L155.5,191.8 L156.0,192.2 L156.5,192.6 L157.0,192.9 L157.5,193.3 L158.0,193.6 L158.5,193.9 L159.0,194.2 L159.5,194.5 L160.0,194.8 L160.5,195.0 L161.0,195.3 L161.5,195.5 L162.0,195.8 L162.5,196.0 L163.0,196.3 L163.5,196.5 L164.0,196.8 L164.5,197.1 L165.0,197.3 L165.5,197.6 L166.0,197.9 L166.5,198.2 L167.0,198.4 L167.5,198.7 L168.0,199.0 L168.5,199.4 L169.0,199.7 L169.5,200.1 L170.0,200.4 L170.5,200.8 L171.0,201.1 L171.5,201.5 L172.0,201.8 L172.5,202.1 L173.0,202.4 L173.5,202.6 L174.0,202.9 L174.5,203.1 L175.0,203.3 L175.5,203.5 L176.0,203.6 L176.5,203.8 L177.0,203.9 L177.5,204.1 L178.0,204.2 L178.5,204.3 L179.0,204.4 L179.5,204.5 L180.0,204.6 L180.5,204.7 L181.0,204.7 L181.5,204.8 L182.0,204.9 L182.5,205.0 L183.0,205.1 L183.5,205.2 L184.0,205.4 L184.5,205.6 L185.0,205.9 L185.5,206.2 L186.0,206.5 L186.5,206.8 L187.0,207.0 L187.5,207.2 L188.0,207.4 L188.5,207.6 L189.0,207.8 L189.5,208.0 L190.0,208.1 L190.5,208.3 L191.0,208.5 L191.5,208.7 L192.0,208.8 L192.5,209.0 L193.0,209.1 L193.5,209.3 L194.0,209.4 L194.5,209.6 L195.0,209.8 L195.5,209.9 L196.0,210.1 L196.5,210.2 L197.0,210.4 L197.5,210.5 L198.0,210.6 L198.5,210.7 L199.0,210.8 L199.5,210.9 L200.0,210.9 L200.5,211.0 L201.0,211.0 L201.5,211.0 L202.0,211.1 L202.5,211.1 L203.0,211.1 L203.5,211.1 L204.0,211.0 L204.5,210.8 L205.0,210.7 L205.5,210.5 L206.0,210.4 L206.5,210.2 L207.0,210.0 L207.5,209.8 L208.0,209.5 L208.5,209.2 L209.0,208.9 L209.5,208.4 L210.0,207.9 L210.5,207.2 L211.0,206.4 L211.5,205.5 L212.0,204.4 L212.5,203.1 L213.0,201.6 L213.5,199.9 L214.0,197.9 L214.5,195.5 L215.0,192.9 L215.5,190.3 L216.0,187.8 L216.5,185.2 L217.0,182.6 L217.5,180.0 L218.0,177.4 L218.5,174.7 L219.0,171.9 L219.5,169.1 L220.0,166.4 L220.5,163.7 L221.0,161.2 L221.5,158.5 L222.0,155.6 L222.5,152.3 L223.0,148.8 L223.5,145.5 L224.0,142.2 L224.5,138.9 L225.0,135.7 L225.5,132.5 L226.0,129.5 L226.5,126.7 L227.0,124.0 L227.5,121.6 L228.0,119.3 L228.5,117.2 L229.0,115.1 L229.5,112.9 L230.0,110.6 L230.5,108.2 L231.0,105.7 L231.5,103.3 L232.0,101.1 L232.5,99.0 L233.0,97.0 L233.5,95.1 L234.0,93.3 L234.5,91.6 L235.0,90.0 L235.5,88.5 L236.0,87.1 L236.5,85.7 L237.0,84.5 L237.5,83.3 L238.0,82.3 L238.5,81.4 L239.0,80.5 L239.5,79.7 L240.0,79.0 L240.5,78.4 L241.0,77.7 L241.5,77.1 L242.0,76.7 L242.5,76.2 L243.0,75.7 L243.5,75.4 L244.0,74.9 L244.5,74.6 L245.0,74.1 L245.5,74.1 L246.0,74.1 L246.5,73.8 L247.0,73.5 L247.5,73.4 L248.0,73.6 L248.5,72.9 L249.0,72.9 L249.5,73.0 L250.0,72.9 L250.5,72.6 L251.0,72.7 L251.5,72.5 L252.0,72.5 L252.5,72.4 L253.0,72.2 L253.5,72.3 L254.0,72.5 L254.5,72.1 L255.0,72.2 L255.5,72.3 L256.0,72.0 L256.5,72.2 L257.0,72.0 L257.5,72.4 L258.0,72.7 L258.5,72.6 L259.0,72.2 L259.5,72.3 L260.0,72.2 L260.5,72.2 L261.0,72.5 L261.5,71.9 L262.0,72.4 L262.5,72.2 L263.0,72.5 L263.5,72.2 L264.0,72.1 L264.5,72.3 L265.0,72.3 L265.5,72.2 L266.0,72.3 L266.5,72.1 L267.0,71.8 L267.5,72.4 L268.0,72.3 L268.5,72.2 L269.0,72.2 L269.5,72.4 L270.0,72.1 L270.5,72.1 L271.0,72.2 L271.5,72.4 L272.0,71.9 L272.5,72.4 L273.0,72.1 L273.5,72.0 L274.0,72.5 L274.5,72.2 L275.0,71.9 L275.5,72.1 L276.0,72.4 L276.5,72.4 L277.0,72.1 L277.5,72.3 L278.0,72.3 L278.5,72.1 L279.0,72.3 L279.5,72.2 L280.0,72.1 L280.5,72.1 L281.0,72.2 L281.5,72.2 L282.0,72.1 L282.5,72.1 L283.0,72.4 L283.5,72.3 L284.0,72.4 L284.5,72.5 L285.0,72.3 L285.5,72.7 L286.0,72.1 L286.5,72.4 L287.0,72.2 L287.5,72.6 L288.0,72.6 L288.5,71.9 L289.0,72.1 L289.5,72.4 L290.0,72.4 L290.5,72.4 L291.0,72.3 L291.5,72.4 L292.0,72.4 L292.5,72.3 L293.0,72.5 L293.5,71.9 L294.0,72.5 L294.5,72.1 L295.0,72.5 L295.5,72.3 L296.0,72.2 L296.5,72.4 L297.0,72.2 L297.5,72.2 L298.0,72.1 L298.5,72.4 L299.0,72.5 L299.5,72.6 L300.0,72.4 L300.5,72.7 L301.0,72.5 L301.5,72.5 L302.0,72.6 L302.5,72.7 L303.0,72.5 L303.5,72.5 L304.0,72.5 L304.5,72.6 L305.0,72.4 L305.5,72.8 L306.0,72.5 L306.5,72.7 L307.0,72.5 L307.5,72.7 L308.0,72.7 L308.5,72.6 L309.0,73.1 L309.5,72.8 L310.0,73.1 L310.5,72.9 L311.0,72.6 L311.5,72.7 L312.0,72.9 L312.5,72.8 L313.0,72.8 L313.5,72.8 L314.0,72.5 L314.5,72.8 L315.0,72.4 L315.5,73.0 L316.0,72.8 L316.5,72.8 L317.0,72.9 L317.5,73.0 L318.0,72.7 L318.5,72.6 L319.0,72.8" fill="none" stroke="#2b2119" stroke-width="2.5" stroke-linejoin="round"/>
</g>
<clipPath id="cb"><rect x="414.5" y="48.5" width="256" height="180"/></clipPath>
<g clip-path="url(#cb)">
<path d="M414.5,217.7 L415.0,218.0 L415.5,217.4 L416.0,218.4 L416.5,217.5 L417.0,217.8 L417.5,216.5 L418.0,216.9 L418.5,216.1 L419.0,216.3 L419.5,216.1 L420.0,215.1 L420.5,215.0 L421.0,214.7 L421.5,214.4 L422.0,214.5 L422.5,214.3 L423.0,213.9 L423.5,214.2 L424.0,214.2 L424.5,213.5 L425.0,213.6 L425.5,213.6 L426.0,213.5 L426.5,213.3 L427.0,213.6 L427.5,213.5 L428.0,213.4 L428.5,213.1 L429.0,213.4 L429.5,213.3 L430.0,212.8 L430.5,212.7 L431.0,212.9 L431.5,212.5 L432.0,212.6 L432.5,212.4 L433.0,212.2 L433.5,212.2 L434.0,212.0 L434.5,212.1 L435.0,211.8 L435.5,212.3 L436.0,212.1 L436.5,212.0 L437.0,211.8 L437.5,211.8 L438.0,211.8 L438.5,211.7 L439.0,211.7 L439.5,211.5 L440.0,211.5 L440.5,211.4 L441.0,211.3 L441.5,211.3 L442.0,211.3 L442.5,211.2 L443.0,211.1 L443.5,211.1 L444.0,211.1 L444.5,211.0 L445.0,211.0 L445.5,210.9 L446.0,210.9 L446.5,210.8 L447.0,210.7 L447.5,210.7 L448.0,210.6 L448.5,210.6 L449.0,210.5 L449.5,210.4 L450.0,210.4 L450.5,210.3 L451.0,210.3 L451.5,210.2 L452.0,210.2 L452.5,210.1 L453.0,210.1 L453.5,210.0 L454.0,209.9 L454.5,209.9 L455.0,209.8 L455.5,209.7 L456.0,209.7 L456.5,209.6 L457.0,209.5 L457.5,209.5 L458.0,209.4 L458.5,209.3 L459.0,209.2 L459.5,209.1 L460.0,209.0 L460.5,208.9 L461.0,208.8 L461.5,208.6 L462.0,208.5 L462.5,208.4 L463.0,208.2 L463.5,208.0 L464.0,207.8 L464.5,207.6 L465.0,207.3 L465.5,207.0 L466.0,206.7 L466.5,206.3 L467.0,205.8 L467.5,205.3 L468.0,204.7 L468.5,204.1 L469.0,203.5 L469.5,202.7 L470.0,201.7 L470.5,200.6 L471.0,199.4 L471.5,198.2 L472.0,197.0 L472.5,195.7 L473.0,194.2 L473.5,192.8 L474.0,191.2 L474.5,189.8 L475.0,188.3 L475.5,186.8 L476.0,185.3 L476.5,183.8 L477.0,182.3 L477.5,181.0 L478.0,179.8 L478.5,178.6 L479.0,177.4 L479.5,176.3 L480.0,175.4 L480.5,174.6 L481.0,173.9 L481.5,173.3 L482.0,172.7 L482.5,172.2 L483.0,171.7 L483.5,171.3 L484.0,171.0 L484.5,170.7 L485.0,170.6 L485.5,170.4 L486.0,170.2 L486.5,170.1 L487.0,170.0 L487.5,169.9 L488.0,169.8 L488.5,169.7 L489.0,169.6 L489.5,169.5 L490.0,169.5 L490.5,169.4 L491.0,169.3 L491.5,169.3 L492.0,169.2 L492.5,169.2 L493.0,169.2 L493.5,169.2 L494.0,169.2 L494.5,169.3 L495.0,169.5 L495.5,169.7 L496.0,170.0 L496.5,170.3 L497.0,170.6 L497.5,170.9 L498.0,171.3 L498.5,171.7 L499.0,172.1 L499.5,172.7 L500.0,173.4 L500.5,174.2 L501.0,175.0 L501.5,175.8 L502.0,176.6 L502.5,177.4 L503.0,178.3 L503.5,179.2 L504.0,180.1 L504.5,181.1 L505.0,181.9 L505.5,182.7 L506.0,183.4 L506.5,184.0 L507.0,184.6 L507.5,185.1 L508.0,185.6 L508.5,186.1 L509.0,186.5 L509.5,186.9 L510.0,187.3 L510.5,187.7 L511.0,188.1 L511.5,188.4 L512.0,188.7 L512.5,189.0 L513.0,189.3 L513.5,189.6 L514.0,189.8 L514.5,190.0 L515.0,190.2 L515.5,190.3 L516.0,190.5 L516.5,190.6 L517.0,190.7 L517.5,190.9 L518.0,191.1 L518.5,191.3 L519.0,191.6 L519.5,191.9 L520.0,192.2 L520.5,192.6 L521.0,192.9 L521.5,193.3 L522.0,193.6 L522.5,194.0 L523.0,194.3 L523.5,194.6 L524.0,195.0 L524.5,195.3 L525.0,195.6 L525.5,196.0 L526.0,196.3 L526.5,196.6 L527.0,196.8 L527.5,197.1 L528.0,197.3 L528.5,197.6 L529.0,197.8 L529.5,198.1 L530.0,198.3 L530.5,198.5 L531.0,198.6 L531.5,198.8 L532.0,198.9 L532.5,199.0 L533.0,199.1 L533.5,199.2 L534.0,199.3 L534.5,199.4 L535.0,199.5 L535.5,199.6 L536.0,199.8 L536.5,200.1 L537.0,200.4 L537.5,200.8 L538.0,201.2 L538.5,201.7 L539.0,202.1 L539.5,202.5 L540.0,202.8 L540.5,203.2 L541.0,203.5 L541.5,203.9 L542.0,204.2 L542.5,204.5 L543.0,204.9 L543.5,205.2 L544.0,205.5 L544.5,205.8 L545.0,206.1 L545.5,206.4 L546.0,206.6 L546.5,206.9 L547.0,207.2 L547.5,207.5 L548.0,207.7 L548.5,207.9 L549.0,208.1 L549.5,208.3 L550.0,208.5 L550.5,208.8 L551.0,208.9 L551.5,209.1 L552.0,209.3 L552.5,209.4 L553.0,209.4 L553.5,209.4 L554.0,209.4 L554.5,209.3 L555.0,209.2 L555.5,209.1 L556.0,209.0 L556.5,208.8 L557.0,208.7 L557.5,208.6 L558.0,208.4 L558.5,208.1 L559.0,207.7 L559.5,207.3 L560.0,206.8 L560.5,206.2 L561.0,205.6 L561.5,204.9 L562.0,204.0 L562.5,203.0 L563.0,201.8 L563.5,200.5 L564.0,199.0 L564.5,197.2 L565.0,195.2 L565.5,193.0 L566.0,190.6 L566.5,188.0 L567.0,185.0 L567.5,181.6 L568.0,178.1 L568.5,174.5 L569.0,171.1 L569.5,167.6 L570.0,164.0 L570.5,160.5 L571.0,157.1 L571.5,153.7 L572.0,150.3 L572.5,147.0 L573.0,143.8 L573.5,140.5 L574.0,137.3 L574.5,134.1 L575.0,131.2 L575.5,128.5 L576.0,126.0 L576.5,123.5 L577.0,120.7 L577.5,117.3 L578.0,113.4 L578.5,109.7 L579.0,106.5 L579.5,103.5 L580.0,100.6 L580.5,97.9 L581.0,95.3 L581.5,92.9 L582.0,90.7 L582.5,88.6 L583.0,86.6 L583.5,84.7 L584.0,82.9 L584.5,81.3 L585.0,79.7 L585.5,78.2 L586.0,77.0 L586.5,75.8 L587.0,74.7 L587.5,73.7 L588.0,72.7 L588.5,71.8 L589.0,71.0 L589.5,70.3 L590.0,69.6 L590.5,69.1 L591.0,68.6 L591.5,68.2 L592.0,67.8 L592.5,67.4 L593.0,67.0 L593.5,66.7 L594.0,66.4 L594.5,66.0 L595.0,65.8 L595.5,65.1 L596.0,65.3 L596.5,65.6 L597.0,64.8 L597.5,64.9 L598.0,65.0 L598.5,64.9 L599.0,65.1 L599.5,64.1 L600.0,64.5 L600.5,64.7 L601.0,63.9 L601.5,64.3 L602.0,65.0 L602.5,64.7 L603.0,64.3 L603.5,63.0 L604.0,63.9 L604.5,64.1 L605.0,63.8 L605.5,63.9 L606.0,65.1 L606.5,63.7 L607.0,63.4 L607.5,63.8 L608.0,63.6 L608.5,63.6 L609.0,63.6 L609.5,63.9 L610.0,63.7 L610.5,63.1 L611.0,63.5 L611.5,63.8 L612.0,63.4 L612.5,64.1 L613.0,63.9 L613.5,63.2 L614.0,63.8 L614.5,64.4 L615.0,64.3 L615.5,63.6 L616.0,64.0 L616.5,63.4 L617.0,63.1 L617.5,63.9 L618.0,63.8 L618.5,63.9 L619.0,63.7 L619.5,63.8 L620.0,63.5 L620.5,63.9 L621.0,64.1 L621.5,63.7 L622.0,64.1 L622.5,63.0 L623.0,63.4 L623.5,64.3 L624.0,64.5 L624.5,63.9 L625.0,63.8 L625.5,63.3 L626.0,64.0 L626.5,64.1 L627.0,63.2 L627.5,64.1 L628.0,64.0 L628.5,64.0 L629.0,63.4 L629.5,64.1 L630.0,63.3 L630.5,64.5 L631.0,63.9 L631.5,63.4 L632.0,64.4 L632.5,64.4 L633.0,63.7 L633.5,64.8 L634.0,63.5 L634.5,64.1 L635.0,64.4 L635.5,63.1 L636.0,64.4 L636.5,64.0 L637.0,64.0 L637.5,63.6 L638.0,64.1 L638.5,63.6 L639.0,63.6 L639.5,63.9 L640.0,63.6 L640.5,64.7 L641.0,63.5 L641.5,63.8 L642.0,64.0 L642.5,64.1 L643.0,64.4 L643.5,64.4 L644.0,64.0 L644.5,64.0 L645.0,64.2 L645.5,64.5 L646.0,64.4 L646.5,64.0 L647.0,63.4 L647.5,65.1 L648.0,64.6 L648.5,64.3 L649.0,64.4 L649.5,64.0 L650.0,63.8 L650.5,64.1 L651.0,64.2 L651.5,64.0 L652.0,63.7 L652.5,64.2 L653.0,64.5 L653.5,64.1 L654.0,64.3 L654.5,63.5 L655.0,64.3 L655.5,64.3 L656.0,63.9 L656.5,63.7 L657.0,64.6 L657.5,64.1 L658.0,64.6 L658.5,64.3 L659.0,64.7 L659.5,64.3 L660.0,63.9 L660.5,64.4 L661.0,64.4 L661.5,64.8 L662.0,64.3 L662.5,64.4 L663.0,64.9 L663.5,65.0 L664.0,64.9 L664.5,65.0 L665.0,64.8 L665.5,64.9 L666.0,65.0 L666.5,64.8 L667.0,64.7 L667.5,64.7 L668.0,65.6 L668.5,64.7 L669.0,64.6 L669.5,64.5 L670.0,64.7 L670.5,64.8 L671.0,64.3 L671.0,76.2 L670.5,78.2 L670.0,76.1 L669.5,77.4 L669.0,77.4 L668.5,76.5 L668.0,77.5 L667.5,77.7 L667.0,76.1 L666.5,76.4 L666.0,76.9 L665.5,76.4 L665.0,75.3 L664.5,76.9 L664.0,76.3 L663.5,75.7 L663.0,76.4 L662.5,77.1 L662.0,77.1 L661.5,76.9 L661.0,76.6 L660.5,76.9 L660.0,76.8 L659.5,76.8 L659.0,77.2 L658.5,76.7 L658.0,76.8 L657.5,76.2 L657.0,76.1 L656.5,76.1 L656.0,76.7 L655.5,77.8 L655.0,76.5 L654.5,76.9 L654.0,76.3 L653.5,77.2 L653.0,76.3 L652.5,76.0 L652.0,76.9 L651.5,75.7 L651.0,77.0 L650.5,77.1 L650.0,76.3 L649.5,76.6 L649.0,77.7 L648.5,76.3 L648.0,77.4 L647.5,76.6 L647.0,76.9 L646.5,76.8 L646.0,77.2 L645.5,76.7 L645.0,76.5 L644.5,77.3 L644.0,76.3 L643.5,76.0 L643.0,75.8 L642.5,77.4 L642.0,77.5 L641.5,76.0 L641.0,78.1 L640.5,77.0 L640.0,76.3 L639.5,77.3 L639.0,76.7 L638.5,77.6 L638.0,77.0 L637.5,76.2 L637.0,76.6 L636.5,76.4 L636.0,76.9 L635.5,77.8 L635.0,76.4 L634.5,77.2 L634.0,76.2 L633.5,76.7 L633.0,75.8 L632.5,76.6 L632.0,77.4 L631.5,77.1 L631.0,76.3 L630.5,77.5 L630.0,77.1 L629.5,76.8 L629.0,75.5 L628.5,77.8 L628.0,77.0 L627.5,77.0 L627.0,77.1 L626.5,77.0 L626.0,77.4 L625.5,77.5 L625.0,77.0 L624.5,76.9 L624.0,76.4 L623.5,76.7 L623.0,76.5 L622.5,77.3 L622.0,76.7 L621.5,76.7 L621.0,76.0 L620.5,77.1 L620.0,77.6 L619.5,77.0 L619.0,77.7 L618.5,77.4 L618.0,76.8 L617.5,77.5 L617.0,77.4 L616.5,76.1 L616.0,76.9 L615.5,77.2 L615.0,77.7 L614.5,77.7 L614.0,77.6 L613.5,77.0 L613.0,76.9 L612.5,76.9 L612.0,77.3 L611.5,77.1 L611.0,77.2 L610.5,77.0 L610.0,77.9 L609.5,76.2 L609.0,77.5 L608.5,76.3 L608.0,76.3 L607.5,77.3 L607.0,76.7 L606.5,77.1 L606.0,77.3 L605.5,77.7 L605.0,76.7 L604.5,78.2 L604.0,77.2 L603.5,77.6 L603.0,77.0 L602.5,77.6 L602.0,77.3 L601.5,77.7 L601.0,77.2 L600.5,77.4 L600.0,76.6 L599.5,77.9 L599.0,76.9 L598.5,77.5 L598.0,77.7 L597.5,77.3 L597.0,77.4 L596.5,77.5 L596.0,77.7 L595.5,77.9 L595.0,77.7 L594.5,78.4 L594.0,78.4 L593.5,78.5 L593.0,78.9 L592.5,79.3 L592.0,79.6 L591.5,79.9 L591.0,80.3 L590.5,80.7 L590.0,81.1 L589.5,81.6 L589.0,82.2 L588.5,82.9 L588.0,83.6 L587.5,84.4 L587.0,85.2 L586.5,86.2 L586.0,87.1 L585.5,88.2 L585.0,89.4 L584.5,90.8 L584.0,92.3 L583.5,93.9 L583.0,95.6 L582.5,97.3 L582.0,99.2 L581.5,101.2 L581.0,103.3 L580.5,105.7 L580.0,108.2 L579.5,110.8 L579.0,113.5 L578.5,116.4 L578.0,119.9 L577.5,123.4 L577.0,126.6 L576.5,129.2 L576.0,131.5 L575.5,133.7 L575.0,136.2 L574.5,139.0 L574.0,141.9 L573.5,144.9 L573.0,147.9 L572.5,151.0 L572.0,154.1 L571.5,157.2 L571.0,160.4 L570.5,163.6 L570.0,166.9 L569.5,170.2 L569.0,173.6 L568.5,176.8 L568.0,180.2 L567.5,183.5 L567.0,186.7 L566.5,189.6 L566.0,192.1 L565.5,194.5 L565.0,196.8 L564.5,198.9 L564.0,200.7 L563.5,202.2 L563.0,203.6 L562.5,204.8 L562.0,205.9 L561.5,206.8 L561.0,207.6 L560.5,208.3 L560.0,208.9 L559.5,209.4 L559.0,209.9 L558.5,210.3 L558.0,210.7 L557.5,210.9 L557.0,211.2 L556.5,211.4 L556.0,211.5 L555.5,211.7 L555.0,211.8 L554.5,211.8 L554.0,211.9 L553.5,211.9 L553.0,211.9 L552.5,211.9 L552.0,211.8 L551.5,211.6 L551.0,211.5 L550.5,211.3 L550.0,211.1 L549.5,210.9 L549.0,210.8 L548.5,210.6 L548.0,210.4 L547.5,210.2 L547.0,209.9 L546.5,209.7 L546.0,209.5 L545.5,209.2 L545.0,208.9 L544.5,208.7 L544.0,208.4 L543.5,208.1 L543.0,207.9 L542.5,207.6 L542.0,207.3 L541.5,207.0 L541.0,206.7 L540.5,206.4 L540.0,206.1 L539.5,205.8 L539.0,205.4 L538.5,205.0 L538.0,204.7 L537.5,204.3 L537.0,204.0 L536.5,203.7 L536.0,203.4 L535.5,203.2 L535.0,203.1 L534.5,203.0 L534.0,202.9 L533.5,202.8 L533.0,202.7 L532.5,202.6 L532.0,202.5 L531.5,202.4 L531.0,202.3 L530.5,202.1 L530.0,202.0 L529.5,201.8 L529.0,201.6 L528.5,201.4 L528.0,201.1 L527.5,200.9 L527.0,200.7 L526.5,200.4 L526.0,200.2 L525.5,199.9 L525.0,199.6 L524.5,199.3 L524.0,199.0 L523.5,198.7 L523.0,198.4 L522.5,198.1 L522.0,197.8 L521.5,197.5 L521.0,197.2 L520.5,196.9 L520.0,196.6 L519.5,196.3 L519.0,196.0 L518.5,195.8 L518.0,195.5 L517.5,195.4 L517.0,195.2 L516.5,195.1 L516.0,194.9 L515.5,194.8 L515.0,194.7 L514.5,194.5 L514.0,194.3 L513.5,194.1 L513.0,193.9 L512.5,193.6 L512.0,193.4 L511.5,193.1 L511.0,192.8 L510.5,192.4 L510.0,192.1 L509.5,191.7 L509.0,191.4 L508.5,191.0 L508.0,190.5 L507.5,190.1 L507.0,189.6 L506.5,189.1 L506.0,188.6 L505.5,188.0 L505.0,187.2 L504.5,186.4 L504.0,185.6 L503.5,184.8 L503.0,184.0 L502.5,183.2 L502.0,182.5 L501.5,181.8 L501.0,181.0 L500.5,180.3 L500.0,179.6 L499.5,179.0 L499.0,178.4 L498.5,178.0 L498.0,177.7 L497.5,177.4 L497.0,177.0 L496.5,176.8 L496.0,176.5 L495.5,176.2 L495.0,176.0 L494.5,175.9 L494.0,175.8 L493.5,175.7 L493.0,175.7 L492.5,175.7 L492.0,175.7 L491.5,175.8 L491.0,175.8 L490.5,175.8 L490.0,175.9 L489.5,176.0 L489.0,176.0 L488.5,176.1 L488.0,176.1 L487.5,176.2 L487.0,176.3 L486.5,176.4 L486.0,176.5 L485.5,176.6 L485.0,176.8 L484.5,176.9 L484.0,177.1 L483.5,177.4 L483.0,177.7 L482.5,178.2 L482.0,178.6 L481.5,179.1 L481.0,179.7 L480.5,180.3 L480.0,181.0 L479.5,181.8 L479.0,182.8 L478.5,183.8 L478.0,184.9 L477.5,186.0 L477.0,187.1 L476.5,188.4 L476.0,189.8 L475.5,191.1 L475.0,192.5 L474.5,193.8 L474.0,195.2 L473.5,196.6 L473.0,197.9 L472.5,199.3 L472.0,200.5 L471.5,201.6 L471.0,202.7 L470.5,203.8 L470.0,204.8 L469.5,205.7 L469.0,206.4 L468.5,207.0 L468.0,207.6 L467.5,208.1 L467.0,208.6 L466.5,209.0 L466.0,209.4 L465.5,209.7 L465.0,210.0 L464.5,210.3 L464.0,210.5 L463.5,210.7 L463.0,210.9 L462.5,211.0 L462.0,211.2 L461.5,211.3 L461.0,211.5 L460.5,211.6 L460.0,211.7 L459.5,211.8 L459.0,211.9 L458.5,212.0 L458.0,212.1 L457.5,212.2 L457.0,212.3 L456.5,212.4 L456.0,212.5 L455.5,212.5 L455.0,212.6 L454.5,212.7 L454.0,212.8 L453.5,212.8 L453.0,212.9 L452.5,213.0 L452.0,213.1 L451.5,213.1 L451.0,213.2 L450.5,213.3 L450.0,213.3 L449.5,213.5 L449.0,213.7 L448.5,213.8 L448.0,214.0 L447.5,214.1 L447.0,214.3 L446.5,214.5 L446.0,214.6 L445.5,214.8 L445.0,214.9 L444.5,215.1 L444.0,215.2 L443.5,215.4 L443.0,215.6 L442.5,215.7 L442.0,215.8 L441.5,216.0 L441.0,216.2 L440.5,216.2 L440.0,216.3 L439.5,216.6 L439.0,216.7 L438.5,216.7 L438.0,217.1 L437.5,217.0 L437.0,217.6 L436.5,217.5 L436.0,217.6 L435.5,217.7 L435.0,217.7 L434.5,218.0 L434.0,218.3 L433.5,218.4 L433.0,218.7 L432.5,218.7 L432.0,218.9 L431.5,219.2 L431.0,219.3 L430.5,219.4 L430.0,219.9 L429.5,219.5 L429.0,219.9 L428.5,220.3 L428.0,220.0 L427.5,220.8 L427.0,220.2 L426.5,220.8 L426.0,220.9 L425.5,221.5 L425.0,221.2 L424.5,220.9 L424.0,221.8 L423.5,222.1 L423.0,222.8 L422.5,223.0 L422.0,223.8 L421.5,223.9 L421.0,224.4 L420.5,223.8 L420.0,225.1 L419.5,225.1 L419.0,225.3 L418.5,226.0 L418.0,226.8 L417.5,227.8 L417.0,227.9 L416.5,227.7 L416.0,228.0 L415.5,227.3 L415.0,228.7 L414.5,227.7 Z" fill="#c4c0bd"/>
<path d="M414.5,211.1 L415.0,211.6 L415.5,211.1 L416.0,211.9 L416.5,211.7 L417.0,211.2 L417.5,210.6 L418.0,210.9 L418.5,210.8 L419.0,209.9 L419.5,210.3 L420.0,210.3 L420.5,210.0 L421.0,210.4 L421.5,210.2 L422.0,209.5 L422.5,209.9 L423.0,209.6 L423.5,210.1 L424.0,209.7 L424.5,210.3 L425.0,210.2 L425.5,210.3 L426.0,209.9 L426.5,209.5 L427.0,210.3 L427.5,209.8 L428.0,210.1 L428.5,209.8 L429.0,209.8 L429.5,210.1 L430.0,209.7 L430.5,209.9 L431.0,209.2 L431.5,209.7 L432.0,209.4 L432.5,209.4 L433.0,209.4 L433.5,209.4 L434.0,209.6 L434.5,209.1 L435.0,209.3 L435.5,209.2 L436.0,209.5 L436.5,209.2 L437.0,209.4 L437.5,209.3 L438.0,209.4 L438.5,209.4 L439.0,209.3 L439.5,209.3 L440.0,209.2 L440.5,209.3 L441.0,209.4 L441.5,209.3 L442.0,209.4 L442.5,209.3 L443.0,209.3 L443.5,209.4 L444.0,209.4 L444.5,209.4 L445.0,209.4 L445.5,209.5 L446.0,209.5 L446.5,209.5 L447.0,209.5 L447.5,209.5 L448.0,209.5 L448.5,209.5 L449.0,209.5 L449.5,209.5 L450.0,209.5 L450.5,209.5 L451.0,209.4 L451.5,209.4 L452.0,209.3 L452.5,209.3 L453.0,209.2 L453.5,209.2 L454.0,209.1 L454.5,209.1 L455.0,209.0 L455.5,208.9 L456.0,208.9 L456.5,208.8 L457.0,208.7 L457.5,208.7 L458.0,208.6 L458.5,208.5 L459.0,208.4 L459.5,208.3 L460.0,208.2 L460.5,208.1 L461.0,208.0 L461.5,207.9 L462.0,207.7 L462.5,207.6 L463.0,207.4 L463.5,207.2 L464.0,207.0 L464.5,206.8 L465.0,206.6 L465.5,206.3 L466.0,205.9 L466.5,205.5 L467.0,205.0 L467.5,204.5 L468.0,203.9 L468.5,203.3 L469.0,202.7 L469.5,201.8 L470.0,200.8 L470.5,199.7 L471.0,198.5 L471.5,197.3 L472.0,196.0 L472.5,194.7 L473.0,193.2 L473.5,191.7 L474.0,190.2 L474.5,188.6 L475.0,187.2 L475.5,185.6 L476.0,184.1 L476.5,182.5 L477.0,181.1 L477.5,179.7 L478.0,178.5 L478.5,177.2 L479.0,176.0 L479.5,174.9 L480.0,174.0 L480.5,173.2 L481.0,172.5 L481.5,171.9 L482.0,171.3 L482.5,170.7 L483.0,170.3 L483.5,169.9 L484.0,169.5 L484.5,169.3 L485.0,169.1 L485.5,169.0 L486.0,168.8 L486.5,168.7 L487.0,168.6 L487.5,168.5 L488.0,168.4 L488.5,168.3 L489.0,168.3 L489.5,168.2 L490.0,168.1 L490.5,168.1 L491.0,168.0 L491.5,168.0 L492.0,167.9 L492.5,167.9 L493.0,167.9 L493.5,167.9 L494.0,168.0 L494.5,168.1 L495.0,168.3 L495.5,168.5 L496.0,168.8 L496.5,169.1 L497.0,169.5 L497.5,169.8 L498.0,170.2 L498.5,170.6 L499.0,171.1 L499.5,171.7 L500.0,172.4 L500.5,173.2 L501.0,174.0 L501.5,174.8 L502.0,175.7 L502.5,176.5 L503.0,177.3 L503.5,178.3 L504.0,179.2 L504.5,180.2 L505.0,181.1 L505.5,181.9 L506.0,182.6 L506.5,183.2 L507.0,183.8 L507.5,184.3 L508.0,184.8 L508.5,185.3 L509.0,185.7 L509.5,186.2 L510.0,186.6 L510.5,186.9 L511.0,187.3 L511.5,187.7 L512.0,188.0 L512.5,188.3 L513.0,188.6 L513.5,188.9 L514.0,189.1 L514.5,189.3 L515.0,189.4 L515.5,189.6 L516.0,189.7 L516.5,189.9 L517.0,190.0 L517.5,190.2 L518.0,190.4 L518.5,190.6 L519.0,190.9 L519.5,191.2 L520.0,191.6 L520.5,191.9 L521.0,192.3 L521.5,192.6 L522.0,193.0 L522.5,193.3 L523.0,193.6 L523.5,194.0 L524.0,194.3 L524.5,194.7 L525.0,195.0 L525.5,195.3 L526.0,195.7 L526.5,196.0 L527.0,196.2 L527.5,196.5 L528.0,196.8 L528.5,197.0 L529.0,197.2 L529.5,197.5 L530.0,197.7 L530.5,197.9 L531.0,198.1 L531.5,198.2 L532.0,198.3 L532.5,198.4 L533.0,198.5 L533.5,198.6 L534.0,198.7 L534.5,198.8 L535.0,198.9 L535.5,199.1 L536.0,199.3 L536.5,199.6 L537.0,199.9 L537.5,200.3 L538.0,200.7 L538.5,201.2 L539.0,201.6 L539.5,202.0 L540.0,202.4 L540.5,202.7 L541.0,203.1 L541.5,203.4 L542.0,203.7 L542.5,204.1 L543.0,204.4 L543.5,204.7 L544.0,205.0 L544.5,205.3 L545.0,205.6 L545.5,205.9 L546.0,206.2 L546.5,206.5 L547.0,206.8 L547.5,207.1 L548.0,207.3 L548.5,207.5 L549.0,207.7 L549.5,207.9 L550.0,208.2 L550.5,208.4 L551.0,208.6 L551.5,208.8 L552.0,208.9 L552.5,209.0 L553.0,209.1 L553.5,209.1 L554.0,209.0 L554.5,208.9 L555.0,208.9 L555.5,208.7 L556.0,208.6 L556.5,208.5 L557.0,208.4 L557.5,208.3 L558.0,208.1 L558.5,207.8 L559.0,207.4 L559.5,207.0 L560.0,206.5 L560.5,206.0 L561.0,205.4 L561.5,204.7 L562.0,203.8 L562.5,202.8 L563.0,201.6 L563.5,200.3 L564.0,198.9 L564.5,197.1 L565.0,195.1 L565.5,192.9 L566.0,190.6 L566.5,187.9 L567.0,184.9 L567.5,181.5 L568.0,178.0 L568.5,174.4 L569.0,170.9 L569.5,167.3 L570.0,163.8 L570.5,160.2 L571.0,156.7 L571.5,153.3 L572.0,149.9 L572.5,146.5 L573.0,143.2 L573.5,139.8 L574.0,136.5 L574.5,133.3 L575.0,130.3 L575.5,127.5 L576.0,125.0 L576.5,122.4 L577.0,119.5 L577.5,116.0 L578.0,112.0 L578.5,107.9 L579.0,104.3 L579.5,101.0 L580.0,97.7 L580.5,94.5 L581.0,91.5 L581.5,88.7 L582.0,86.0 L582.5,83.5 L583.0,81.1 L583.5,78.7 L584.0,76.4 L584.5,74.3 L585.0,72.2 L585.5,70.3 L586.0,68.5 L586.5,67.2 L587.0,65.9 L587.5,64.7 L588.0,63.5 L588.5,62.4 L589.0,61.4 L589.5,60.5 L590.0,59.6 L590.5,58.9 L591.0,58.2 L591.5,57.6 L592.0,57.0 L592.5,56.3 L593.0,55.8 L593.5,55.2 L594.0,54.7 L594.5,54.2 L595.0,53.7 L595.5,53.2 L596.0,53.0 L596.5,53.4 L597.0,52.9 L597.5,52.8 L598.0,52.2 L598.5,52.5 L599.0,52.0 L599.5,52.6 L600.0,52.1 L600.5,52.2 L601.0,52.1 L601.5,51.8 L602.0,51.3 L602.5,52.2 L603.0,51.3 L603.5,51.3 L604.0,51.7 L604.5,51.5 L605.0,51.9 L605.5,52.3 L606.0,51.9 L606.5,51.9 L607.0,51.8 L607.5,52.1 L608.0,50.9 L608.5,51.9 L609.0,51.3 L609.5,51.1 L610.0,51.7 L610.5,51.5 L611.0,51.9 L611.5,52.1 L612.0,50.6 L612.5,51.6 L613.0,52.5 L613.5,52.0 L614.0,52.2 L614.5,51.6 L615.0,50.9 L615.5,51.1 L616.0,51.9 L616.5,52.0 L617.0,51.2 L617.5,51.4 L618.0,51.7 L618.5,50.8 L619.0,51.4 L619.5,52.3 L620.0,52.5 L620.5,51.5 L621.0,52.3 L621.5,51.3 L622.0,51.1 L622.5,50.5 L623.0,51.9 L623.5,51.3 L624.0,52.5 L624.5,51.6 L625.0,51.6 L625.5,50.7 L626.0,52.1 L626.5,51.3 L627.0,51.4 L627.5,50.5 L628.0,51.9 L628.5,51.9 L629.0,51.2 L629.5,51.5 L630.0,51.6 L630.5,51.8 L631.0,51.5 L631.5,52.2 L632.0,51.3 L632.5,51.1 L633.0,51.2 L633.5,50.2 L634.0,51.0 L634.5,51.8 L635.0,51.5 L635.5,51.0 L636.0,51.5 L636.5,50.5 L637.0,51.2 L637.5,51.6 L638.0,51.7 L638.5,51.0 L639.0,51.7 L639.5,52.2 L640.0,51.1 L640.5,51.7 L641.0,50.6 L641.5,50.4 L642.0,51.6 L642.5,51.3 L643.0,51.4 L643.5,51.0 L644.0,51.2 L644.5,51.7 L645.0,52.1 L645.5,51.2 L646.0,50.5 L646.5,51.9 L647.0,51.5 L647.5,51.6 L648.0,51.4 L648.5,52.3 L649.0,51.3 L649.5,51.5 L650.0,50.4 L650.5,51.0 L651.0,50.9 L651.5,51.2 L652.0,51.4 L652.5,50.9 L653.0,52.0 L653.5,50.8 L654.0,51.0 L654.5,51.3 L655.0,50.7 L655.5,51.5 L656.0,51.5 L656.5,51.1 L657.0,52.1 L657.5,51.3 L658.0,51.3 L658.5,50.8 L659.0,50.5 L659.5,50.9 L660.0,51.1 L660.5,51.0 L661.0,51.6 L661.5,50.1 L662.0,50.7 L662.5,50.4 L663.0,51.8 L663.5,50.9 L664.0,51.0 L664.5,50.7 L665.0,51.6 L665.5,51.0 L666.0,51.3 L666.5,50.3 L667.0,51.7 L667.5,51.4 L668.0,51.4 L668.5,51.8 L669.0,51.1 L669.5,51.1 L670.0,51.5 L670.5,51.4 L671.0,51.1 L671.0,76.4 L670.5,75.9 L670.0,75.8 L669.5,75.3 L669.0,75.7 L668.5,76.7 L668.0,75.3 L667.5,76.2 L667.0,76.1 L666.5,76.3 L666.0,76.2 L665.5,75.8 L665.0,76.3 L664.5,76.2 L664.0,76.7 L663.5,75.6 L663.0,76.4 L662.5,76.3 L662.0,75.7 L661.5,76.5 L661.0,76.7 L660.5,76.4 L660.0,76.7 L659.5,76.3 L659.0,76.2 L658.5,76.4 L658.0,75.8 L657.5,76.3 L657.0,75.9 L656.5,76.7 L656.0,76.5 L655.5,75.7 L655.0,76.4 L654.5,76.0 L654.0,75.3 L653.5,76.8 L653.0,75.7 L652.5,76.0 L652.0,76.2 L651.5,76.1 L651.0,76.6 L650.5,76.1 L650.0,75.9 L649.5,75.9 L649.0,76.3 L648.5,76.1 L648.0,76.0 L647.5,76.9 L647.0,76.8 L646.5,76.1 L646.0,77.0 L645.5,76.0 L645.0,76.0 L644.5,76.8 L644.0,77.0 L643.5,76.3 L643.0,76.3 L642.5,76.4 L642.0,76.1 L641.5,76.0 L641.0,75.9 L640.5,76.5 L640.0,76.4 L639.5,76.6 L639.0,75.6 L638.5,76.4 L638.0,76.3 L637.5,76.1 L637.0,76.7 L636.5,76.2 L636.0,75.9 L635.5,76.6 L635.0,76.9 L634.5,76.4 L634.0,76.0 L633.5,76.2 L633.0,75.9 L632.5,77.0 L632.0,76.9 L631.5,76.6 L631.0,76.8 L630.5,76.7 L630.0,76.5 L629.5,76.3 L629.0,76.6 L628.5,77.3 L628.0,76.2 L627.5,76.6 L627.0,76.7 L626.5,76.1 L626.0,76.8 L625.5,76.7 L625.0,77.1 L624.5,76.0 L624.0,76.9 L623.5,76.8 L623.0,76.5 L622.5,77.1 L622.0,76.4 L621.5,76.4 L621.0,76.5 L620.5,76.3 L620.0,76.3 L619.5,77.2 L619.0,76.0 L618.5,76.5 L618.0,75.8 L617.5,76.6 L617.0,76.8 L616.5,76.2 L616.0,76.4 L615.5,76.4 L615.0,76.4 L614.5,76.2 L614.0,76.2 L613.5,75.9 L613.0,76.7 L612.5,76.6 L612.0,76.4 L611.5,76.7 L611.0,76.8 L610.5,76.6 L610.0,76.5 L609.5,76.4 L609.0,76.5 L608.5,76.7 L608.0,76.8 L607.5,77.0 L607.0,76.4 L606.5,76.9 L606.0,76.5 L605.5,75.8 L605.0,76.6 L604.5,77.0 L604.0,76.6 L603.5,76.1 L603.0,76.7 L602.5,76.2 L602.0,76.3 L601.5,76.1 L601.0,76.6 L600.5,76.5 L600.0,76.2 L599.5,76.7 L599.0,76.5 L598.5,76.9 L598.0,76.6 L597.5,76.9 L597.0,76.9 L596.5,76.9 L596.0,77.1 L595.5,77.3 L595.0,77.2 L594.5,77.5 L594.0,77.6 L593.5,77.9 L593.0,78.2 L592.5,78.5 L592.0,78.8 L591.5,79.2 L591.0,79.5 L590.5,79.9 L590.0,80.4 L589.5,80.9 L589.0,81.5 L588.5,82.2 L588.0,82.9 L587.5,83.7 L587.0,84.6 L586.5,85.5 L586.0,86.5 L585.5,87.6 L585.0,88.9 L584.5,90.3 L584.0,91.8 L583.5,93.4 L583.0,95.1 L582.5,96.8 L582.0,98.7 L581.5,100.7 L581.0,102.9 L580.5,105.3 L580.0,107.8 L579.5,110.4 L579.0,113.2 L578.5,116.1 L578.0,119.6 L577.5,123.2 L577.0,126.3 L576.5,128.9 L576.0,131.3 L575.5,133.5 L575.0,136.0 L574.5,138.8 L574.0,141.7 L573.5,144.7 L573.0,147.8 L572.5,150.8 L572.0,154.0 L571.5,157.1 L571.0,160.3 L570.5,163.6 L570.0,166.9 L569.5,170.2 L569.0,173.5 L568.5,176.8 L568.0,180.2 L567.5,183.5 L567.0,186.7 L566.5,189.6 L566.0,192.1 L565.5,194.5 L565.0,196.8 L564.5,198.9 L564.0,200.7 L563.5,202.2 L563.0,203.6 L562.5,204.8 L562.0,205.9 L561.5,206.8 L561.0,207.6 L560.5,208.3 L560.0,208.9 L559.5,209.4 L559.0,209.9 L558.5,210.3 L558.0,210.7 L557.5,210.9 L557.0,211.2 L556.5,211.4 L556.0,211.5 L555.5,211.7 L555.0,211.8 L554.5,211.8 L554.0,211.9 L553.5,211.9 L553.0,211.9 L552.5,211.9 L552.0,211.8 L551.5,211.6 L551.0,211.5 L550.5,211.3 L550.0,211.1 L549.5,210.9 L549.0,210.8 L548.5,210.6 L548.0,210.4 L547.5,210.2 L547.0,209.9 L546.5,209.7 L546.0,209.5 L545.5,209.2 L545.0,208.9 L544.5,208.7 L544.0,208.4 L543.5,208.1 L543.0,207.9 L542.5,207.6 L542.0,207.3 L541.5,207.0 L541.0,206.7 L540.5,206.4 L540.0,206.1 L539.5,205.8 L539.0,205.4 L538.5,205.0 L538.0,204.7 L537.5,204.3 L537.0,204.0 L536.5,203.7 L536.0,203.4 L535.5,203.2 L535.0,203.1 L534.5,203.0 L534.0,202.9 L533.5,202.8 L533.0,202.7 L532.5,202.6 L532.0,202.5 L531.5,202.4 L531.0,202.3 L530.5,202.1 L530.0,202.0 L529.5,201.8 L529.0,201.6 L528.5,201.4 L528.0,201.2 L527.5,201.0 L527.0,200.8 L526.5,200.5 L526.0,200.3 L525.5,200.0 L525.0,199.8 L524.5,199.5 L524.0,199.2 L523.5,198.9 L523.0,198.6 L522.5,198.4 L522.0,198.1 L521.5,197.8 L521.0,197.5 L520.5,197.2 L520.0,196.9 L519.5,196.6 L519.0,196.4 L518.5,196.2 L518.0,196.0 L517.5,195.8 L517.0,195.7 L516.5,195.5 L516.0,195.4 L515.5,195.3 L515.0,195.2 L514.5,195.1 L514.0,194.9 L513.5,194.7 L513.0,194.5 L512.5,194.3 L512.0,194.0 L511.5,193.8 L511.0,193.5 L510.5,193.2 L510.0,192.9 L509.5,192.5 L509.0,192.2 L508.5,191.8 L508.0,191.4 L507.5,191.0 L507.0,190.6 L506.5,190.1 L506.0,189.6 L505.5,189.0 L505.0,188.3 L504.5,187.6 L504.0,186.8 L503.5,186.0 L503.0,185.2 L502.5,184.5 L502.0,183.9 L501.5,183.2 L501.0,182.5 L500.5,181.8 L500.0,181.1 L499.5,180.5 L499.0,180.0 L498.5,179.6 L498.0,179.2 L497.5,178.9 L497.0,178.6 L496.5,178.3 L496.0,178.0 L495.5,177.8 L495.0,177.6 L494.5,177.4 L494.0,177.3 L493.5,177.2 L493.0,177.2 L492.5,177.2 L492.0,177.2 L491.5,177.2 L491.0,177.3 L490.5,177.3 L490.0,177.3 L489.5,177.4 L489.0,177.4 L488.5,177.5 L488.0,177.5 L487.5,177.6 L487.0,177.7 L486.5,177.7 L486.0,177.8 L485.5,177.9 L485.0,178.1 L484.5,178.2 L484.0,178.4 L483.5,178.7 L483.0,179.0 L482.5,179.4 L482.0,179.8 L481.5,180.3 L481.0,180.8 L480.5,181.4 L480.0,182.1 L479.5,182.9 L479.0,183.8 L478.5,184.8 L478.0,185.9 L477.5,186.9 L477.0,188.1 L476.5,189.3 L476.0,190.6 L475.5,191.9 L475.0,193.2 L474.5,194.5 L474.0,195.7 L473.5,197.0 L473.0,198.2 L472.5,199.4 L472.0,200.6 L471.5,201.6 L471.0,202.6 L470.5,203.6 L470.0,204.6 L469.5,205.4 L469.0,206.1 L468.5,206.7 L468.0,207.2 L467.5,207.6 L467.0,208.1 L466.5,208.4 L466.0,208.8 L465.5,209.1 L465.0,209.3 L464.5,209.5 L464.0,209.7 L463.5,209.8 L463.0,209.9 L462.5,210.1 L462.0,210.2 L461.5,210.3 L461.0,210.4 L460.5,210.4 L460.0,210.5 L459.5,210.6 L459.0,210.6 L458.5,210.7 L458.0,210.7 L457.5,210.8 L457.0,210.8 L456.5,210.9 L456.0,210.9 L455.5,211.0 L455.0,211.0 L454.5,211.0 L454.0,211.0 L453.5,211.1 L453.0,211.1 L452.5,211.1 L452.0,211.2 L451.5,211.2 L451.0,211.2 L450.5,211.2 L450.0,211.2 L449.5,211.3 L449.0,211.3 L448.5,211.4 L448.0,211.4 L447.5,211.5 L447.0,211.5 L446.5,211.5 L446.0,211.6 L445.5,211.6 L445.0,211.6 L444.5,211.7 L444.0,211.7 L443.5,211.7 L443.0,211.7 L442.5,211.7 L442.0,211.8 L441.5,211.8 L441.0,212.0 L440.5,212.0 L440.0,211.9 L439.5,212.0 L439.0,212.0 L438.5,211.9 L438.0,212.2 L437.5,212.1 L437.0,212.2 L436.5,212.3 L436.0,212.8 L435.5,212.5 L435.0,212.4 L434.5,212.3 L434.0,212.5 L433.5,212.5 L433.0,212.7 L432.5,212.8 L432.0,212.7 L431.5,213.0 L431.0,212.6 L430.5,213.1 L430.0,212.9 L429.5,213.2 L429.0,213.5 L428.5,213.1 L428.0,213.0 L427.5,213.0 L427.0,213.3 L426.5,213.7 L426.0,213.6 L425.5,213.7 L425.0,213.5 L424.5,213.7 L424.0,213.6 L423.5,213.8 L423.0,214.0 L422.5,213.7 L422.0,213.9 L421.5,214.6 L421.0,214.1 L420.5,214.8 L420.0,215.3 L419.5,214.5 L419.0,215.1 L418.5,216.1 L418.0,215.6 L417.5,215.3 L417.0,216.7 L416.5,216.2 L416.0,216.7 L415.5,216.8 L415.0,216.4 L414.5,216.8 Z" fill="rgba(172,201,135,0.46)"/>
<path d="M414.5,211.1 L415.0,211.6 L415.5,211.1 L416.0,211.9 L416.5,211.7 L417.0,211.2 L417.5,210.6 L418.0,210.9 L418.5,210.8 L419.0,209.9 L419.5,210.3 L420.0,210.3 L420.5,210.0 L421.0,210.4 L421.5,210.2 L422.0,209.5 L422.5,209.9 L423.0,209.6 L423.5,210.1 L424.0,209.7 L424.5,210.3 L425.0,210.2 L425.5,210.3 L426.0,209.9 L426.5,209.5 L427.0,210.3 L427.5,209.8 L428.0,210.1 L428.5,209.8 L429.0,209.8 L429.5,210.1 L430.0,209.7 L430.5,209.9 L431.0,209.2 L431.5,209.7 L432.0,209.4 L432.5,209.4 L433.0,209.4 L433.5,209.4 L434.0,209.6 L434.5,209.1 L435.0,209.3 L435.5,209.2 L436.0,209.5 L436.5,209.2 L437.0,209.4 L437.5,209.3 L438.0,209.4 L438.5,209.4 L439.0,209.3 L439.5,209.3 L440.0,209.2 L440.5,209.3 L441.0,209.4 L441.5,209.3 L442.0,209.4 L442.5,209.3 L443.0,209.3 L443.5,209.4 L444.0,209.4 L444.5,209.4 L445.0,209.4 L445.5,209.5 L446.0,209.5 L446.5,209.5 L447.0,209.5 L447.5,209.5 L448.0,209.5 L448.5,209.5 L449.0,209.5 L449.5,209.5 L450.0,209.5 L450.5,209.5 L451.0,209.4 L451.5,209.4 L452.0,209.3 L452.5,209.3 L453.0,209.2 L453.5,209.2 L454.0,209.1 L454.5,209.1 L455.0,209.0 L455.5,208.9 L456.0,208.9 L456.5,208.8 L457.0,208.7 L457.5,208.7 L458.0,208.6 L458.5,208.5 L459.0,208.4 L459.5,208.3 L460.0,208.2 L460.5,208.1 L461.0,208.0 L461.5,207.9 L462.0,207.7 L462.5,207.6 L463.0,207.4 L463.5,207.2 L464.0,207.0 L464.5,206.8 L465.0,206.6 L465.5,206.3 L466.0,205.9 L466.5,205.5 L467.0,205.0 L467.5,204.5 L468.0,203.9 L468.5,203.3 L469.0,202.7 L469.5,201.8 L470.0,200.8 L470.5,199.7 L471.0,198.5 L471.5,197.3 L472.0,196.0 L472.5,194.7 L473.0,193.2 L473.5,191.7 L474.0,190.2 L474.5,188.6 L475.0,187.2 L475.5,185.6 L476.0,184.1 L476.5,182.5 L477.0,181.1 L477.5,179.7 L478.0,178.5 L478.5,177.2 L479.0,176.0 L479.5,174.9 L480.0,174.0 L480.5,173.2 L481.0,172.5 L481.5,171.9 L482.0,171.3 L482.5,170.7 L483.0,170.3 L483.5,169.9 L484.0,169.5 L484.5,169.3 L485.0,169.1 L485.5,169.0 L486.0,168.8 L486.5,168.7 L487.0,168.6 L487.5,168.5 L488.0,168.4 L488.5,168.3 L489.0,168.3 L489.5,168.2 L490.0,168.1 L490.5,168.1 L491.0,168.0 L491.5,168.0 L492.0,167.9 L492.5,167.9 L493.0,167.9 L493.5,167.9 L494.0,168.0 L494.5,168.1 L495.0,168.3 L495.5,168.5 L496.0,168.8 L496.5,169.1 L497.0,169.5 L497.5,169.8 L498.0,170.2 L498.5,170.6 L499.0,171.1 L499.5,171.7 L500.0,172.4 L500.5,173.2 L501.0,174.0 L501.5,174.8 L502.0,175.7 L502.5,176.5 L503.0,177.3 L503.5,178.3 L504.0,179.2 L504.5,180.2 L505.0,181.1 L505.5,181.9 L506.0,182.6 L506.5,183.2 L507.0,183.8 L507.5,184.3 L508.0,184.8 L508.5,185.3 L509.0,185.7 L509.5,186.2 L510.0,186.6 L510.5,186.9 L511.0,187.3 L511.5,187.7 L512.0,188.0 L512.5,188.3 L513.0,188.6 L513.5,188.9 L514.0,189.1 L514.5,189.3 L515.0,189.4 L515.5,189.6 L516.0,189.7 L516.5,189.9 L517.0,190.0 L517.5,190.2 L518.0,190.4 L518.5,190.6 L519.0,190.9 L519.5,191.2 L520.0,191.6 L520.5,191.9 L521.0,192.3 L521.5,192.6 L522.0,193.0 L522.5,193.3 L523.0,193.6 L523.5,194.0 L524.0,194.3 L524.5,194.7 L525.0,195.0 L525.5,195.3 L526.0,195.7 L526.5,196.0 L527.0,196.2 L527.5,196.5 L528.0,196.8 L528.5,197.0 L529.0,197.2 L529.5,197.5 L530.0,197.7 L530.5,197.9 L531.0,198.1 L531.5,198.2 L532.0,198.3 L532.5,198.4 L533.0,198.5 L533.5,198.6 L534.0,198.7 L534.5,198.8 L535.0,198.9 L535.5,199.1 L536.0,199.3 L536.5,199.6 L537.0,199.9 L537.5,200.3 L538.0,200.7 L538.5,201.2 L539.0,201.6 L539.5,202.0 L540.0,202.4 L540.5,202.7 L541.0,203.1 L541.5,203.4 L542.0,203.7 L542.5,204.1 L543.0,204.4 L543.5,204.7 L544.0,205.0 L544.5,205.3 L545.0,205.6 L545.5,205.9 L546.0,206.2 L546.5,206.5 L547.0,206.8 L547.5,207.1 L548.0,207.3 L548.5,207.5 L549.0,207.7 L549.5,207.9 L550.0,208.2 L550.5,208.4 L551.0,208.6 L551.5,208.8 L552.0,208.9 L552.5,209.0 L553.0,209.1 L553.5,209.1 L554.0,209.0 L554.5,208.9 L555.0,208.9 L555.5,208.7 L556.0,208.6 L556.5,208.5 L557.0,208.4 L557.5,208.3 L558.0,208.1 L558.5,207.8 L559.0,207.4 L559.5,207.0 L560.0,206.5 L560.5,206.0 L561.0,205.4 L561.5,204.7 L562.0,203.8 L562.5,202.8 L563.0,201.6 L563.5,200.3 L564.0,198.9 L564.5,197.1 L565.0,195.1 L565.5,192.9 L566.0,190.6 L566.5,187.9 L567.0,184.9 L567.5,181.5 L568.0,178.0 L568.5,174.4 L569.0,170.9 L569.5,167.3 L570.0,163.8 L570.5,160.2 L571.0,156.7 L571.5,153.3 L572.0,149.9 L572.5,146.5 L573.0,143.2 L573.5,139.8 L574.0,136.5 L574.5,133.3 L575.0,130.3 L575.5,127.5 L576.0,125.0 L576.5,122.4 L577.0,119.5 L577.5,116.0 L578.0,112.0 L578.5,107.9 L579.0,104.3 L579.5,101.0 L580.0,97.7 L580.5,94.5 L581.0,91.5 L581.5,88.7 L582.0,86.0 L582.5,83.5 L583.0,81.1 L583.5,78.7 L584.0,76.4 L584.5,74.3 L585.0,72.2 L585.5,70.3 L586.0,68.5 L586.5,67.2 L587.0,65.9 L587.5,64.7 L588.0,63.5 L588.5,62.4 L589.0,61.4 L589.5,60.5 L590.0,59.6 L590.5,58.9 L591.0,58.2 L591.5,57.6 L592.0,57.0 L592.5,56.3 L593.0,55.8 L593.5,55.2 L594.0,54.7 L594.5,54.2 L595.0,53.7 L595.5,53.2 L596.0,53.0 L596.5,53.4 L597.0,52.9 L597.5,52.8 L598.0,52.2 L598.5,52.5 L599.0,52.0 L599.5,52.6 L600.0,52.1 L600.5,52.2 L601.0,52.1 L601.5,51.8 L602.0,51.3 L602.5,52.2 L603.0,51.3 L603.5,51.3 L604.0,51.7 L604.5,51.5 L605.0,51.9 L605.5,52.3 L606.0,51.9 L606.5,51.9 L607.0,51.8 L607.5,52.1 L608.0,50.9 L608.5,51.9 L609.0,51.3 L609.5,51.1 L610.0,51.7 L610.5,51.5 L611.0,51.9 L611.5,52.1 L612.0,50.6 L612.5,51.6 L613.0,52.5 L613.5,52.0 L614.0,52.2 L614.5,51.6 L615.0,50.9 L615.5,51.1 L616.0,51.9 L616.5,52.0 L617.0,51.2 L617.5,51.4 L618.0,51.7 L618.5,50.8 L619.0,51.4 L619.5,52.3 L620.0,52.5 L620.5,51.5 L621.0,52.3 L621.5,51.3 L622.0,51.1 L622.5,50.5 L623.0,51.9 L623.5,51.3 L624.0,52.5 L624.5,51.6 L625.0,51.6 L625.5,50.7 L626.0,52.1 L626.5,51.3 L627.0,51.4 L627.5,50.5 L628.0,51.9 L628.5,51.9 L629.0,51.2 L629.5,51.5 L630.0,51.6 L630.5,51.8 L631.0,51.5 L631.5,52.2 L632.0,51.3 L632.5,51.1 L633.0,51.2 L633.5,50.2 L634.0,51.0 L634.5,51.8 L635.0,51.5 L635.5,51.0 L636.0,51.5 L636.5,50.5 L637.0,51.2 L637.5,51.6 L638.0,51.7 L638.5,51.0 L639.0,51.7 L639.5,52.2 L640.0,51.1 L640.5,51.7 L641.0,50.6 L641.5,50.4 L642.0,51.6 L642.5,51.3 L643.0,51.4 L643.5,51.0 L644.0,51.2 L644.5,51.7 L645.0,52.1 L645.5,51.2 L646.0,50.5 L646.5,51.9 L647.0,51.5 L647.5,51.6 L648.0,51.4 L648.5,52.3 L649.0,51.3 L649.5,51.5 L650.0,50.4 L650.5,51.0 L651.0,50.9 L651.5,51.2 L652.0,51.4 L652.5,50.9 L653.0,52.0 L653.5,50.8 L654.0,51.0 L654.5,51.3 L655.0,50.7 L655.5,51.5 L656.0,51.5 L656.5,51.1 L657.0,52.1 L657.5,51.3 L658.0,51.3 L658.5,50.8 L659.0,50.5 L659.5,50.9 L660.0,51.1 L660.5,51.0 L661.0,51.6 L661.5,50.1 L662.0,50.7 L662.5,50.4 L663.0,51.8 L663.5,50.9 L664.0,51.0 L664.5,50.7 L665.0,51.6 L665.5,51.0 L666.0,51.3 L666.5,50.3 L667.0,51.7 L667.5,51.4 L668.0,51.4 L668.5,51.8 L669.0,51.1 L669.5,51.1 L670.0,51.5 L670.5,51.4 L671.0,51.1" fill="none" stroke="#050505" stroke-width="1.05" stroke-linejoin="round"/>
<path d="M414.5,216.8 L415.0,216.4 L415.5,216.8 L416.0,216.7 L416.5,216.2 L417.0,216.7 L417.5,215.3 L418.0,215.6 L418.5,216.1 L419.0,215.1 L419.5,214.5 L420.0,215.3 L420.5,214.8 L421.0,214.1 L421.5,214.6 L422.0,213.9 L422.5,213.7 L423.0,214.0 L423.5,213.8 L424.0,213.6 L424.5,213.7 L425.0,213.5 L425.5,213.7 L426.0,213.6 L426.5,213.7 L427.0,213.3 L427.5,213.0 L428.0,213.0 L428.5,213.1 L429.0,213.5 L429.5,213.2 L430.0,212.9 L430.5,213.1 L431.0,212.6 L431.5,213.0 L432.0,212.7 L432.5,212.8 L433.0,212.7 L433.5,212.5 L434.0,212.5 L434.5,212.3 L435.0,212.4 L435.5,212.5 L436.0,212.8 L436.5,212.3 L437.0,212.2 L437.5,212.1 L438.0,212.2 L438.5,211.9 L439.0,212.0 L439.5,212.0 L440.0,211.9 L440.5,212.0 L441.0,212.0 L441.5,211.8 L442.0,211.8 L442.5,211.7 L443.0,211.7 L443.5,211.7 L444.0,211.7 L444.5,211.7 L445.0,211.6 L445.5,211.6 L446.0,211.6 L446.5,211.5 L447.0,211.5 L447.5,211.5 L448.0,211.4 L448.5,211.4 L449.0,211.3 L449.5,211.3 L450.0,211.2 L450.5,211.2 L451.0,211.2 L451.5,211.2 L452.0,211.2 L452.5,211.1 L453.0,211.1 L453.5,211.1 L454.0,211.0 L454.5,211.0 L455.0,211.0 L455.5,211.0 L456.0,210.9 L456.5,210.9 L457.0,210.8 L457.5,210.8 L458.0,210.7 L458.5,210.7 L459.0,210.6 L459.5,210.6 L460.0,210.5 L460.5,210.4 L461.0,210.4 L461.5,210.3 L462.0,210.2 L462.5,210.1 L463.0,209.9 L463.5,209.8 L464.0,209.7 L464.5,209.5 L465.0,209.3 L465.5,209.1 L466.0,208.8 L466.5,208.4 L467.0,208.1 L467.5,207.6 L468.0,207.2 L468.5,206.7 L469.0,206.1 L469.5,205.4 L470.0,204.6 L470.5,203.6 L471.0,202.6 L471.5,201.6 L472.0,200.6 L472.5,199.4 L473.0,198.2 L473.5,197.0 L474.0,195.7 L474.5,194.5 L475.0,193.2 L475.5,191.9 L476.0,190.6 L476.5,189.3 L477.0,188.1 L477.5,186.9 L478.0,185.9 L478.5,184.8 L479.0,183.8 L479.5,182.9 L480.0,182.1 L480.5,181.4 L481.0,180.8 L481.5,180.3 L482.0,179.8 L482.5,179.4 L483.0,179.0 L483.5,178.7 L484.0,178.4 L484.5,178.2 L485.0,178.1 L485.5,177.9 L486.0,177.8 L486.5,177.7 L487.0,177.7 L487.5,177.6 L488.0,177.5 L488.5,177.5 L489.0,177.4 L489.5,177.4 L490.0,177.3 L490.5,177.3 L491.0,177.3 L491.5,177.2 L492.0,177.2 L492.5,177.2 L493.0,177.2 L493.5,177.2 L494.0,177.3 L494.5,177.4 L495.0,177.6 L495.5,177.8 L496.0,178.0 L496.5,178.3 L497.0,178.6 L497.5,178.9 L498.0,179.2 L498.5,179.6 L499.0,180.0 L499.5,180.5 L500.0,181.1 L500.5,181.8 L501.0,182.5 L501.5,183.2 L502.0,183.9 L502.5,184.5 L503.0,185.2 L503.5,186.0 L504.0,186.8 L504.5,187.6 L505.0,188.3 L505.5,189.0 L506.0,189.6 L506.5,190.1 L507.0,190.6 L507.5,191.0 L508.0,191.4 L508.5,191.8 L509.0,192.2 L509.5,192.5 L510.0,192.9 L510.5,193.2 L511.0,193.5 L511.5,193.8 L512.0,194.0 L512.5,194.3 L513.0,194.5 L513.5,194.7 L514.0,194.9 L514.5,195.1 L515.0,195.2 L515.5,195.3 L516.0,195.4 L516.5,195.5 L517.0,195.7 L517.5,195.8 L518.0,196.0 L518.5,196.2 L519.0,196.4 L519.5,196.6 L520.0,196.9 L520.5,197.2 L521.0,197.5 L521.5,197.8 L522.0,198.1 L522.5,198.4 L523.0,198.6 L523.5,198.9 L524.0,199.2 L524.5,199.5 L525.0,199.8 L525.5,200.0 L526.0,200.3 L526.5,200.5 L527.0,200.8 L527.5,201.0 L528.0,201.2 L528.5,201.4 L529.0,201.6 L529.5,201.8 L530.0,202.0 L530.5,202.1 L531.0,202.3 L531.5,202.4 L532.0,202.5 L532.5,202.6 L533.0,202.7 L533.5,202.8 L534.0,202.9 L534.5,203.0 L535.0,203.1 L535.5,203.2 L536.0,203.4 L536.5,203.7 L537.0,204.0 L537.5,204.3 L538.0,204.7 L538.5,205.0 L539.0,205.4 L539.5,205.8 L540.0,206.1 L540.5,206.4 L541.0,206.7 L541.5,207.0 L542.0,207.3 L542.5,207.6 L543.0,207.9 L543.5,208.1 L544.0,208.4 L544.5,208.7 L545.0,208.9 L545.5,209.2 L546.0,209.5 L546.5,209.7 L547.0,209.9 L547.5,210.2 L548.0,210.4 L548.5,210.6 L549.0,210.8 L549.5,210.9 L550.0,211.1 L550.5,211.3 L551.0,211.5 L551.5,211.6 L552.0,211.8 L552.5,211.9 L553.0,211.9 L553.5,211.9 L554.0,211.9 L554.5,211.8 L555.0,211.8 L555.5,211.7 L556.0,211.5 L556.5,211.4 L557.0,211.2 L557.5,210.9 L558.0,210.7 L558.5,210.3 L559.0,209.9 L559.5,209.4 L560.0,208.9 L560.5,208.3 L561.0,207.6 L561.5,206.8 L562.0,205.9 L562.5,204.8 L563.0,203.6 L563.5,202.2 L564.0,200.7 L564.5,198.9 L565.0,196.8 L565.5,194.5 L566.0,192.1 L566.5,189.6 L567.0,186.7 L567.5,183.5 L568.0,180.2 L568.5,176.8 L569.0,173.5 L569.5,170.2 L570.0,166.9 L570.5,163.6 L571.0,160.3 L571.5,157.1 L572.0,154.0 L572.5,150.8 L573.0,147.8 L573.5,144.7 L574.0,141.7 L574.5,138.8 L575.0,136.0 L575.5,133.5 L576.0,131.3 L576.5,128.9 L577.0,126.3 L577.5,123.2 L578.0,119.6 L578.5,116.1 L579.0,113.2 L579.5,110.4 L580.0,107.8 L580.5,105.3 L581.0,102.9 L581.5,100.7 L582.0,98.7 L582.5,96.8 L583.0,95.1 L583.5,93.4 L584.0,91.8 L584.5,90.3 L585.0,88.9 L585.5,87.6 L586.0,86.5 L586.5,85.5 L587.0,84.6 L587.5,83.7 L588.0,82.9 L588.5,82.2 L589.0,81.5 L589.5,80.9 L590.0,80.4 L590.5,79.9 L591.0,79.5 L591.5,79.2 L592.0,78.8 L592.5,78.5 L593.0,78.2 L593.5,77.9 L594.0,77.6 L594.5,77.5 L595.0,77.2 L595.5,77.3 L596.0,77.1 L596.5,76.9 L597.0,76.9 L597.5,76.9 L598.0,76.6 L598.5,76.9 L599.0,76.5 L599.5,76.7 L600.0,76.2 L600.5,76.5 L601.0,76.6 L601.5,76.1 L602.0,76.3 L602.5,76.2 L603.0,76.7 L603.5,76.1 L604.0,76.6 L604.5,77.0 L605.0,76.6 L605.5,75.8 L606.0,76.5 L606.5,76.9 L607.0,76.4 L607.5,77.0 L608.0,76.8 L608.5,76.7 L609.0,76.5 L609.5,76.4 L610.0,76.5 L610.5,76.6 L611.0,76.8 L611.5,76.7 L612.0,76.4 L612.5,76.6 L613.0,76.7 L613.5,75.9 L614.0,76.2 L614.5,76.2 L615.0,76.4 L615.5,76.4 L616.0,76.4 L616.5,76.2 L617.0,76.8 L617.5,76.6 L618.0,75.8 L618.5,76.5 L619.0,76.0 L619.5,77.2 L620.0,76.3 L620.5,76.3 L621.0,76.5 L621.5,76.4 L622.0,76.4 L622.5,77.1 L623.0,76.5 L623.5,76.8 L624.0,76.9 L624.5,76.0 L625.0,77.1 L625.5,76.7 L626.0,76.8 L626.5,76.1 L627.0,76.7 L627.5,76.6 L628.0,76.2 L628.5,77.3 L629.0,76.6 L629.5,76.3 L630.0,76.5 L630.5,76.7 L631.0,76.8 L631.5,76.6 L632.0,76.9 L632.5,77.0 L633.0,75.9 L633.5,76.2 L634.0,76.0 L634.5,76.4 L635.0,76.9 L635.5,76.6 L636.0,75.9 L636.5,76.2 L637.0,76.7 L637.5,76.1 L638.0,76.3 L638.5,76.4 L639.0,75.6 L639.5,76.6 L640.0,76.4 L640.5,76.5 L641.0,75.9 L641.5,76.0 L642.0,76.1 L642.5,76.4 L643.0,76.3 L643.5,76.3 L644.0,77.0 L644.5,76.8 L645.0,76.0 L645.5,76.0 L646.0,77.0 L646.5,76.1 L647.0,76.8 L647.5,76.9 L648.0,76.0 L648.5,76.1 L649.0,76.3 L649.5,75.9 L650.0,75.9 L650.5,76.1 L651.0,76.6 L651.5,76.1 L652.0,76.2 L652.5,76.0 L653.0,75.7 L653.5,76.8 L654.0,75.3 L654.5,76.0 L655.0,76.4 L655.5,75.7 L656.0,76.5 L656.5,76.7 L657.0,75.9 L657.5,76.3 L658.0,75.8 L658.5,76.4 L659.0,76.2 L659.5,76.3 L660.0,76.7 L660.5,76.4 L661.0,76.7 L661.5,76.5 L662.0,75.7 L662.5,76.3 L663.0,76.4 L663.5,75.6 L664.0,76.7 L664.5,76.2 L665.0,76.3 L665.5,75.8 L666.0,76.2 L666.5,76.3 L667.0,76.1 L667.5,76.2 L668.0,75.3 L668.5,76.7 L669.0,75.7 L669.5,75.3 L670.0,75.8 L670.5,75.9 L671.0,76.4" fill="none" stroke="#050505" stroke-width="1.05" stroke-linejoin="round"/>
<path d="M414.5,217.7 L415.0,218.0 L415.5,217.4 L416.0,218.4 L416.5,217.5 L417.0,217.8 L417.5,216.5 L418.0,216.9 L418.5,216.1 L419.0,216.3 L419.5,216.1 L420.0,215.1 L420.5,215.0 L421.0,214.7 L421.5,214.4 L422.0,214.5 L422.5,214.3 L423.0,213.9 L423.5,214.2 L424.0,214.2 L424.5,213.5 L425.0,213.6 L425.5,213.6 L426.0,213.5 L426.5,213.3 L427.0,213.6 L427.5,213.5 L428.0,213.4 L428.5,213.1 L429.0,213.4 L429.5,213.3 L430.0,212.8 L430.5,212.7 L431.0,212.9 L431.5,212.5 L432.0,212.6 L432.5,212.4 L433.0,212.2 L433.5,212.2 L434.0,212.0 L434.5,212.1 L435.0,211.8 L435.5,212.3 L436.0,212.1 L436.5,212.0 L437.0,211.8 L437.5,211.8 L438.0,211.8 L438.5,211.7 L439.0,211.7 L439.5,211.5 L440.0,211.5 L440.5,211.4 L441.0,211.3 L441.5,211.3 L442.0,211.3 L442.5,211.2 L443.0,211.1 L443.5,211.1 L444.0,211.1 L444.5,211.0 L445.0,211.0 L445.5,210.9 L446.0,210.9 L446.5,210.8 L447.0,210.7 L447.5,210.7 L448.0,210.6 L448.5,210.6 L449.0,210.5 L449.5,210.4 L450.0,210.4 L450.5,210.3 L451.0,210.3 L451.5,210.2 L452.0,210.2 L452.5,210.1 L453.0,210.1 L453.5,210.0 L454.0,209.9 L454.5,209.9 L455.0,209.8 L455.5,209.7 L456.0,209.7 L456.5,209.6 L457.0,209.5 L457.5,209.5 L458.0,209.4 L458.5,209.3 L459.0,209.2 L459.5,209.1 L460.0,209.0 L460.5,208.9 L461.0,208.8 L461.5,208.6 L462.0,208.5 L462.5,208.4 L463.0,208.2 L463.5,208.0 L464.0,207.8 L464.5,207.6 L465.0,207.3 L465.5,207.0 L466.0,206.7 L466.5,206.3 L467.0,205.8 L467.5,205.3 L468.0,204.7 L468.5,204.1 L469.0,203.5 L469.5,202.7 L470.0,201.7 L470.5,200.6 L471.0,199.4 L471.5,198.2 L472.0,197.0 L472.5,195.7 L473.0,194.2 L473.5,192.8 L474.0,191.2 L474.5,189.8 L475.0,188.3 L475.5,186.8 L476.0,185.3 L476.5,183.8 L477.0,182.3 L477.5,181.0 L478.0,179.8 L478.5,178.6 L479.0,177.4 L479.5,176.3 L480.0,175.4 L480.5,174.6 L481.0,173.9 L481.5,173.3 L482.0,172.7 L482.5,172.2 L483.0,171.7 L483.5,171.3 L484.0,171.0 L484.5,170.7 L485.0,170.6 L485.5,170.4 L486.0,170.2 L486.5,170.1 L487.0,170.0 L487.5,169.9 L488.0,169.8 L488.5,169.7 L489.0,169.6 L489.5,169.5 L490.0,169.5 L490.5,169.4 L491.0,169.3 L491.5,169.3 L492.0,169.2 L492.5,169.2 L493.0,169.2 L493.5,169.2 L494.0,169.2 L494.5,169.3 L495.0,169.5 L495.5,169.7 L496.0,170.0 L496.5,170.3 L497.0,170.6 L497.5,170.9 L498.0,171.3 L498.5,171.7 L499.0,172.1 L499.5,172.7 L500.0,173.4 L500.5,174.2 L501.0,175.0 L501.5,175.8 L502.0,176.6 L502.5,177.4 L503.0,178.3 L503.5,179.2 L504.0,180.1 L504.5,181.1 L505.0,181.9 L505.5,182.7 L506.0,183.4 L506.5,184.0 L507.0,184.6 L507.5,185.1 L508.0,185.6 L508.5,186.1 L509.0,186.5 L509.5,186.9 L510.0,187.3 L510.5,187.7 L511.0,188.1 L511.5,188.4 L512.0,188.7 L512.5,189.0 L513.0,189.3 L513.5,189.6 L514.0,189.8 L514.5,190.0 L515.0,190.2 L515.5,190.3 L516.0,190.5 L516.5,190.6 L517.0,190.7 L517.5,190.9 L518.0,191.1 L518.5,191.3 L519.0,191.6 L519.5,191.9 L520.0,192.2 L520.5,192.6 L521.0,192.9 L521.5,193.3 L522.0,193.6 L522.5,194.0 L523.0,194.3 L523.5,194.6 L524.0,195.0 L524.5,195.3 L525.0,195.6 L525.5,196.0 L526.0,196.3 L526.5,196.6 L527.0,196.8 L527.5,197.1 L528.0,197.3 L528.5,197.6 L529.0,197.8 L529.5,198.1 L530.0,198.3 L530.5,198.5 L531.0,198.6 L531.5,198.8 L532.0,198.9 L532.5,199.0 L533.0,199.1 L533.5,199.2 L534.0,199.3 L534.5,199.4 L535.0,199.5 L535.5,199.6 L536.0,199.8 L536.5,200.1 L537.0,200.4 L537.5,200.8 L538.0,201.2 L538.5,201.7 L539.0,202.1 L539.5,202.5 L540.0,202.8 L540.5,203.2 L541.0,203.5 L541.5,203.9 L542.0,204.2 L542.5,204.5 L543.0,204.9 L543.5,205.2 L544.0,205.5 L544.5,205.8 L545.0,206.1 L545.5,206.4 L546.0,206.6 L546.5,206.9 L547.0,207.2 L547.5,207.5 L548.0,207.7 L548.5,207.9 L549.0,208.1 L549.5,208.3 L550.0,208.5 L550.5,208.8 L551.0,208.9 L551.5,209.1 L552.0,209.3 L552.5,209.4 L553.0,209.4 L553.5,209.4 L554.0,209.4 L554.5,209.3 L555.0,209.2 L555.5,209.1 L556.0,209.0 L556.5,208.8 L557.0,208.7 L557.5,208.6 L558.0,208.4 L558.5,208.1 L559.0,207.7 L559.5,207.3 L560.0,206.8 L560.5,206.2 L561.0,205.6 L561.5,204.9 L562.0,204.0 L562.5,203.0 L563.0,201.8 L563.5,200.5 L564.0,199.0 L564.5,197.2 L565.0,195.2 L565.5,193.0 L566.0,190.6 L566.5,188.0 L567.0,185.0 L567.5,181.6 L568.0,178.1 L568.5,174.5 L569.0,171.1 L569.5,167.6 L570.0,164.0 L570.5,160.5 L571.0,157.1 L571.5,153.7 L572.0,150.3 L572.5,147.0 L573.0,143.8 L573.5,140.5 L574.0,137.3 L574.5,134.1 L575.0,131.2 L575.5,128.5 L576.0,126.0 L576.5,123.5 L577.0,120.7 L577.5,117.3 L578.0,113.4 L578.5,109.7 L579.0,106.5 L579.5,103.5 L580.0,100.6 L580.5,97.9 L581.0,95.3 L581.5,92.9 L582.0,90.7 L582.5,88.6 L583.0,86.6 L583.5,84.7 L584.0,82.9 L584.5,81.3 L585.0,79.7 L585.5,78.2 L586.0,77.0 L586.5,75.8 L587.0,74.7 L587.5,73.7 L588.0,72.7 L588.5,71.8 L589.0,71.0 L589.5,70.3 L590.0,69.6 L590.5,69.1 L591.0,68.6 L591.5,68.2 L592.0,67.8 L592.5,67.4 L593.0,67.0 L593.5,66.7 L594.0,66.4 L594.5,66.0 L595.0,65.8 L595.5,65.1 L596.0,65.3 L596.5,65.6 L597.0,64.8 L597.5,64.9 L598.0,65.0 L598.5,64.9 L599.0,65.1 L599.5,64.1 L600.0,64.5 L600.5,64.7 L601.0,63.9 L601.5,64.3 L602.0,65.0 L602.5,64.7 L603.0,64.3 L603.5,63.0 L604.0,63.9 L604.5,64.1 L605.0,63.8 L605.5,63.9 L606.0,65.1 L606.5,63.7 L607.0,63.4 L607.5,63.8 L608.0,63.6 L608.5,63.6 L609.0,63.6 L609.5,63.9 L610.0,63.7 L610.5,63.1 L611.0,63.5 L611.5,63.8 L612.0,63.4 L612.5,64.1 L613.0,63.9 L613.5,63.2 L614.0,63.8 L614.5,64.4 L615.0,64.3 L615.5,63.6 L616.0,64.0 L616.5,63.4 L617.0,63.1 L617.5,63.9 L618.0,63.8 L618.5,63.9 L619.0,63.7 L619.5,63.8 L620.0,63.5 L620.5,63.9 L621.0,64.1 L621.5,63.7 L622.0,64.1 L622.5,63.0 L623.0,63.4 L623.5,64.3 L624.0,64.5 L624.5,63.9 L625.0,63.8 L625.5,63.3 L626.0,64.0 L626.5,64.1 L627.0,63.2 L627.5,64.1 L628.0,64.0 L628.5,64.0 L629.0,63.4 L629.5,64.1 L630.0,63.3 L630.5,64.5 L631.0,63.9 L631.5,63.4 L632.0,64.4 L632.5,64.4 L633.0,63.7 L633.5,64.8 L634.0,63.5 L634.5,64.1 L635.0,64.4 L635.5,63.1 L636.0,64.4 L636.5,64.0 L637.0,64.0 L637.5,63.6 L638.0,64.1 L638.5,63.6 L639.0,63.6 L639.5,63.9 L640.0,63.6 L640.5,64.7 L641.0,63.5 L641.5,63.8 L642.0,64.0 L642.5,64.1 L643.0,64.4 L643.5,64.4 L644.0,64.0 L644.5,64.0 L645.0,64.2 L645.5,64.5 L646.0,64.4 L646.5,64.0 L647.0,63.4 L647.5,65.1 L648.0,64.6 L648.5,64.3 L649.0,64.4 L649.5,64.0 L650.0,63.8 L650.5,64.1 L651.0,64.2 L651.5,64.0 L652.0,63.7 L652.5,64.2 L653.0,64.5 L653.5,64.1 L654.0,64.3 L654.5,63.5 L655.0,64.3 L655.5,64.3 L656.0,63.9 L656.5,63.7 L657.0,64.6 L657.5,64.1 L658.0,64.6 L658.5,64.3 L659.0,64.7 L659.5,64.3 L660.0,63.9 L660.5,64.4 L661.0,64.4 L661.5,64.8 L662.0,64.3 L662.5,64.4 L663.0,64.9 L663.5,65.0 L664.0,64.9 L664.5,65.0 L665.0,64.8 L665.5,64.9 L666.0,65.0 L666.5,64.8 L667.0,64.7 L667.5,64.7 L668.0,65.6 L668.5,64.7 L669.0,64.6 L669.5,64.5 L670.0,64.7 L670.5,64.8 L671.0,64.3" fill="none" stroke="#050505" stroke-width="1.05" stroke-linejoin="round"/>
<path d="M414.5,227.7 L415.0,228.7 L415.5,227.3 L416.0,228.0 L416.5,227.7 L417.0,227.9 L417.5,227.8 L418.0,226.8 L418.5,226.0 L419.0,225.3 L419.5,225.1 L420.0,225.1 L420.5,223.8 L421.0,224.4 L421.5,223.9 L422.0,223.8 L422.5,223.0 L423.0,222.8 L423.5,222.1 L424.0,221.8 L424.5,220.9 L425.0,221.2 L425.5,221.5 L426.0,220.9 L426.5,220.8 L427.0,220.2 L427.5,220.8 L428.0,220.0 L428.5,220.3 L429.0,219.9 L429.5,219.5 L430.0,219.9 L430.5,219.4 L431.0,219.3 L431.5,219.2 L432.0,218.9 L432.5,218.7 L433.0,218.7 L433.5,218.4 L434.0,218.3 L434.5,218.0 L435.0,217.7 L435.5,217.7 L436.0,217.6 L436.5,217.5 L437.0,217.6 L437.5,217.0 L438.0,217.1 L438.5,216.7 L439.0,216.7 L439.5,216.6 L440.0,216.3 L440.5,216.2 L441.0,216.2 L441.5,216.0 L442.0,215.8 L442.5,215.7 L443.0,215.6 L443.5,215.4 L444.0,215.2 L444.5,215.1 L445.0,214.9 L445.5,214.8 L446.0,214.6 L446.5,214.5 L447.0,214.3 L447.5,214.1 L448.0,214.0 L448.5,213.8 L449.0,213.7 L449.5,213.5 L450.0,213.3 L450.5,213.3 L451.0,213.2 L451.5,213.1 L452.0,213.1 L452.5,213.0 L453.0,212.9 L453.5,212.8 L454.0,212.8 L454.5,212.7 L455.0,212.6 L455.5,212.5 L456.0,212.5 L456.5,212.4 L457.0,212.3 L457.5,212.2 L458.0,212.1 L458.5,212.0 L459.0,211.9 L459.5,211.8 L460.0,211.7 L460.5,211.6 L461.0,211.5 L461.5,211.3 L462.0,211.2 L462.5,211.0 L463.0,210.9 L463.5,210.7 L464.0,210.5 L464.5,210.3 L465.0,210.0 L465.5,209.7 L466.0,209.4 L466.5,209.0 L467.0,208.6 L467.5,208.1 L468.0,207.6 L468.5,207.0 L469.0,206.4 L469.5,205.7 L470.0,204.8 L470.5,203.8 L471.0,202.7 L471.5,201.6 L472.0,200.5 L472.5,199.3 L473.0,197.9 L473.5,196.6 L474.0,195.2 L474.5,193.8 L475.0,192.5 L475.5,191.1 L476.0,189.8 L476.5,188.4 L477.0,187.1 L477.5,186.0 L478.0,184.9 L478.5,183.8 L479.0,182.8 L479.5,181.8 L480.0,181.0 L480.5,180.3 L481.0,179.7 L481.5,179.1 L482.0,178.6 L482.5,178.2 L483.0,177.7 L483.5,177.4 L484.0,177.1 L484.5,176.9 L485.0,176.8 L485.5,176.6 L486.0,176.5 L486.5,176.4 L487.0,176.3 L487.5,176.2 L488.0,176.1 L488.5,176.1 L489.0,176.0 L489.5,176.0 L490.0,175.9 L490.5,175.8 L491.0,175.8 L491.5,175.8 L492.0,175.7 L492.5,175.7 L493.0,175.7 L493.5,175.7 L494.0,175.8 L494.5,175.9 L495.0,176.0 L495.5,176.2 L496.0,176.5 L496.5,176.8 L497.0,177.0 L497.5,177.4 L498.0,177.7 L498.5,178.0 L499.0,178.4 L499.5,179.0 L500.0,179.6 L500.5,180.3 L501.0,181.0 L501.5,181.8 L502.0,182.5 L502.5,183.2 L503.0,184.0 L503.5,184.8 L504.0,185.6 L504.5,186.4 L505.0,187.2 L505.5,188.0 L506.0,188.6 L506.5,189.1 L507.0,189.6 L507.5,190.1 L508.0,190.5 L508.5,191.0 L509.0,191.4 L509.5,191.7 L510.0,192.1 L510.5,192.4 L511.0,192.8 L511.5,193.1 L512.0,193.4 L512.5,193.6 L513.0,193.9 L513.5,194.1 L514.0,194.3 L514.5,194.5 L515.0,194.7 L515.5,194.8 L516.0,194.9 L516.5,195.1 L517.0,195.2 L517.5,195.4 L518.0,195.5 L518.5,195.8 L519.0,196.0 L519.5,196.3 L520.0,196.6 L520.5,196.9 L521.0,197.2 L521.5,197.5 L522.0,197.8 L522.5,198.1 L523.0,198.4 L523.5,198.7 L524.0,199.0 L524.5,199.3 L525.0,199.6 L525.5,199.9 L526.0,200.2 L526.5,200.4 L527.0,200.7 L527.5,200.9 L528.0,201.1 L528.5,201.4 L529.0,201.6 L529.5,201.8 L530.0,202.0 L530.5,202.1 L531.0,202.3 L531.5,202.4 L532.0,202.5 L532.5,202.6 L533.0,202.7 L533.5,202.8 L534.0,202.9 L534.5,203.0 L535.0,203.1 L535.5,203.2 L536.0,203.4 L536.5,203.7 L537.0,204.0 L537.5,204.3 L538.0,204.7 L538.5,205.0 L539.0,205.4 L539.5,205.8 L540.0,206.1 L540.5,206.4 L541.0,206.7 L541.5,207.0 L542.0,207.3 L542.5,207.6 L543.0,207.9 L543.5,208.1 L544.0,208.4 L544.5,208.7 L545.0,208.9 L545.5,209.2 L546.0,209.5 L546.5,209.7 L547.0,209.9 L547.5,210.2 L548.0,210.4 L548.5,210.6 L549.0,210.8 L549.5,210.9 L550.0,211.1 L550.5,211.3 L551.0,211.5 L551.5,211.6 L552.0,211.8 L552.5,211.9 L553.0,211.9 L553.5,211.9 L554.0,211.9 L554.5,211.8 L555.0,211.8 L555.5,211.7 L556.0,211.5 L556.5,211.4 L557.0,211.2 L557.5,210.9 L558.0,210.7 L558.5,210.3 L559.0,209.9 L559.5,209.4 L560.0,208.9 L560.5,208.3 L561.0,207.6 L561.5,206.8 L562.0,205.9 L562.5,204.8 L563.0,203.6 L563.5,202.2 L564.0,200.7 L564.5,198.9 L565.0,196.8 L565.5,194.5 L566.0,192.1 L566.5,189.6 L567.0,186.7 L567.5,183.5 L568.0,180.2 L568.5,176.8 L569.0,173.6 L569.5,170.2 L570.0,166.9 L570.5,163.6 L571.0,160.4 L571.5,157.2 L572.0,154.1 L572.5,151.0 L573.0,147.9 L573.5,144.9 L574.0,141.9 L574.5,139.0 L575.0,136.2 L575.5,133.7 L576.0,131.5 L576.5,129.2 L577.0,126.6 L577.5,123.4 L578.0,119.9 L578.5,116.4 L579.0,113.5 L579.5,110.8 L580.0,108.2 L580.5,105.7 L581.0,103.3 L581.5,101.2 L582.0,99.2 L582.5,97.3 L583.0,95.6 L583.5,93.9 L584.0,92.3 L584.5,90.8 L585.0,89.4 L585.5,88.2 L586.0,87.1 L586.5,86.2 L587.0,85.2 L587.5,84.4 L588.0,83.6 L588.5,82.9 L589.0,82.2 L589.5,81.6 L590.0,81.1 L590.5,80.7 L591.0,80.3 L591.5,79.9 L592.0,79.6 L592.5,79.3 L593.0,78.9 L593.5,78.5 L594.0,78.4 L594.5,78.4 L595.0,77.7 L595.5,77.9 L596.0,77.7 L596.5,77.5 L597.0,77.4 L597.5,77.3 L598.0,77.7 L598.5,77.5 L599.0,76.9 L599.5,77.9 L600.0,76.6 L600.5,77.4 L601.0,77.2 L601.5,77.7 L602.0,77.3 L602.5,77.6 L603.0,77.0 L603.5,77.6 L604.0,77.2 L604.5,78.2 L605.0,76.7 L605.5,77.7 L606.0,77.3 L606.5,77.1 L607.0,76.7 L607.5,77.3 L608.0,76.3 L608.5,76.3 L609.0,77.5 L609.5,76.2 L610.0,77.9 L610.5,77.0 L611.0,77.2 L611.5,77.1 L612.0,77.3 L612.5,76.9 L613.0,76.9 L613.5,77.0 L614.0,77.6 L614.5,77.7 L615.0,77.7 L615.5,77.2 L616.0,76.9 L616.5,76.1 L617.0,77.4 L617.5,77.5 L618.0,76.8 L618.5,77.4 L619.0,77.7 L619.5,77.0 L620.0,77.6 L620.5,77.1 L621.0,76.0 L621.5,76.7 L622.0,76.7 L622.5,77.3 L623.0,76.5 L623.5,76.7 L624.0,76.4 L624.5,76.9 L625.0,77.0 L625.5,77.5 L626.0,77.4 L626.5,77.0 L627.0,77.1 L627.5,77.0 L628.0,77.0 L628.5,77.8 L629.0,75.5 L629.5,76.8 L630.0,77.1 L630.5,77.5 L631.0,76.3 L631.5,77.1 L632.0,77.4 L632.5,76.6 L633.0,75.8 L633.5,76.7 L634.0,76.2 L634.5,77.2 L635.0,76.4 L635.5,77.8 L636.0,76.9 L636.5,76.4 L637.0,76.6 L637.5,76.2 L638.0,77.0 L638.5,77.6 L639.0,76.7 L639.5,77.3 L640.0,76.3 L640.5,77.0 L641.0,78.1 L641.5,76.0 L642.0,77.5 L642.5,77.4 L643.0,75.8 L643.5,76.0 L644.0,76.3 L644.5,77.3 L645.0,76.5 L645.5,76.7 L646.0,77.2 L646.5,76.8 L647.0,76.9 L647.5,76.6 L648.0,77.4 L648.5,76.3 L649.0,77.7 L649.5,76.6 L650.0,76.3 L650.5,77.1 L651.0,77.0 L651.5,75.7 L652.0,76.9 L652.5,76.0 L653.0,76.3 L653.5,77.2 L654.0,76.3 L654.5,76.9 L655.0,76.5 L655.5,77.8 L656.0,76.7 L656.5,76.1 L657.0,76.1 L657.5,76.2 L658.0,76.8 L658.5,76.7 L659.0,77.2 L659.5,76.8 L660.0,76.8 L660.5,76.9 L661.0,76.6 L661.5,76.9 L662.0,77.1 L662.5,77.1 L663.0,76.4 L663.5,75.7 L664.0,76.3 L664.5,76.9 L665.0,75.3 L665.5,76.4 L666.0,76.9 L666.5,76.4 L667.0,76.1 L667.5,77.7 L668.0,77.5 L668.5,76.5 L669.0,77.4 L669.5,77.4 L670.0,76.1 L670.5,78.2 L671.0,76.2" fill="none" stroke="#050505" stroke-width="1.05" stroke-linejoin="round"/>
<path d="M414.5,214.5 L415.0,214.2 L415.5,213.8 L416.0,213.7 L416.5,213.8 L417.0,213.5 L417.5,213.4 L418.0,213.1 L418.5,213.1 L419.0,213.0 L419.5,212.9 L420.0,212.5 L420.5,212.7 L421.0,212.2 L421.5,212.7 L422.0,212.3 L422.5,212.2 L423.0,212.0 L423.5,211.6 L424.0,212.0 L424.5,212.0 L425.0,212.2 L425.5,211.7 L426.0,212.1 L426.5,211.7 L427.0,211.8 L427.5,211.4 L428.0,211.6 L428.5,211.5 L429.0,211.5 L429.5,211.4 L430.0,211.2 L430.5,211.4 L431.0,211.3 L431.5,211.3 L432.0,211.2 L432.5,211.2 L433.0,211.1 L433.5,210.9 L434.0,210.9 L434.5,211.0 L435.0,211.0 L435.5,210.9 L436.0,210.8 L436.5,210.8 L437.0,210.8 L437.5,210.8 L438.0,210.7 L438.5,210.8 L439.0,210.7 L439.5,210.7 L440.0,210.6 L440.5,210.6 L441.0,210.7 L441.5,210.7 L442.0,210.6 L442.5,210.6 L443.0,210.6 L443.5,210.6 L444.0,210.6 L444.5,210.6 L445.0,210.6 L445.5,210.5 L446.0,210.5 L446.5,210.5 L447.0,210.5 L447.5,210.5 L448.0,210.5 L448.5,210.4 L449.0,210.4 L449.5,210.4 L450.0,210.4 L450.5,210.4 L451.0,210.3 L451.5,210.3 L452.0,210.3 L452.5,210.3 L453.0,210.3 L453.5,210.2 L454.0,210.2 L454.5,210.2 L455.0,210.1 L455.5,210.1 L456.0,210.1 L456.5,210.0 L457.0,210.0 L457.5,210.0 L458.0,209.9 L458.5,209.9 L459.0,209.8 L459.5,209.8 L460.0,209.7 L460.5,209.6 L461.0,209.5 L461.5,209.5 L462.0,209.4 L462.5,209.2 L463.0,209.1 L463.5,209.0 L464.0,208.8 L464.5,208.6 L465.0,208.5 L465.5,208.2 L466.0,207.9 L466.5,207.6 L467.0,207.2 L467.5,206.7 L468.0,206.2 L468.5,205.7 L469.0,205.1 L469.5,204.4 L470.0,203.5 L470.5,202.6 L471.0,201.5 L471.5,200.4 L472.0,199.4 L472.5,198.2 L473.0,196.9 L473.5,195.6 L474.0,194.3 L474.5,193.0 L475.0,191.7 L475.5,190.3 L476.0,188.9 L476.5,187.6 L477.0,186.3 L477.5,185.1 L478.0,184.0 L478.5,182.9 L479.0,181.8 L479.5,180.8 L480.0,180.0 L480.5,179.2 L481.0,178.7 L481.5,178.1 L482.0,177.6 L482.5,177.1 L483.0,176.7 L483.5,176.3 L484.0,176.0 L484.5,175.8 L485.0,175.7 L485.5,175.5 L486.0,175.4 L486.5,175.3 L487.0,175.2 L487.5,175.1 L488.0,175.0 L488.5,175.0 L489.0,174.9 L489.5,174.8 L490.0,174.8 L490.5,174.7 L491.0,174.7 L491.5,174.6 L492.0,174.6 L492.5,174.6 L493.0,174.6 L493.5,174.6 L494.0,174.6 L494.5,174.8 L495.0,174.9 L495.5,175.1 L496.0,175.4 L496.5,175.7 L497.0,176.0 L497.5,176.3 L498.0,176.6 L498.5,176.9 L499.0,177.4 L499.5,177.9 L500.0,178.6 L500.5,179.3 L501.0,180.0 L501.5,180.7 L502.0,181.5 L502.5,182.2 L503.0,182.9 L503.5,183.8 L504.0,184.6 L504.5,185.4 L505.0,186.2 L505.5,186.9 L506.0,187.6 L506.5,188.1 L507.0,188.6 L507.5,189.1 L508.0,189.5 L508.5,189.9 L509.0,190.3 L509.5,190.7 L510.0,191.1 L510.5,191.4 L511.0,191.7 L511.5,192.0 L512.0,192.3 L512.5,192.6 L513.0,192.8 L513.5,193.1 L514.0,193.3 L514.5,193.4 L515.0,193.6 L515.5,193.7 L516.0,193.8 L516.5,194.0 L517.0,194.1 L517.5,194.2 L518.0,194.4 L518.5,194.6 L519.0,194.9 L519.5,195.1 L520.0,195.4 L520.5,195.7 L521.0,196.1 L521.5,196.4 L522.0,196.7 L522.5,197.0 L523.0,197.3 L523.5,197.6 L524.0,197.9 L524.5,198.2 L525.0,198.5 L525.5,198.8 L526.0,199.0 L526.5,199.3 L527.0,199.5 L527.5,199.8 L528.0,200.0 L528.5,200.2 L529.0,200.4 L529.5,200.6 L530.0,200.8 L530.5,201.0 L531.0,201.1 L531.5,201.3 L532.0,201.4 L532.5,201.5 L533.0,201.6 L533.5,201.6 L534.0,201.7 L534.5,201.8 L535.0,201.9 L535.5,202.0 L536.0,202.2 L536.5,202.4 L537.0,202.8 L537.5,203.1 L538.0,203.5 L538.5,203.9 L539.0,204.2 L539.5,204.6 L540.0,204.9 L540.5,205.2 L541.0,205.6 L541.5,205.9 L542.0,206.2 L542.5,206.5 L543.0,206.7 L543.5,207.0 L544.0,207.3 L544.5,207.6 L545.0,207.8 L545.5,208.1 L546.0,208.4 L546.5,208.6 L547.0,208.9 L547.5,209.1 L548.0,209.3 L548.5,209.5 L549.0,209.7 L549.5,209.9 L550.0,210.1 L550.5,210.3 L551.0,210.5 L551.5,210.6 L552.0,210.7 L552.5,210.8 L553.0,210.9 L553.5,210.9 L554.0,210.8 L554.5,210.8 L555.0,210.7 L555.5,210.6 L556.0,210.4 L556.5,210.3 L557.0,210.1 L557.5,209.9 L558.0,209.7 L558.5,209.4 L559.0,209.0 L559.5,208.5 L560.0,207.9 L560.5,207.4 L561.0,206.7 L561.5,206.0 L562.0,205.1 L562.5,204.0 L563.0,202.8 L563.5,201.4 L564.0,199.9 L564.5,198.1 L565.0,196.0 L565.5,193.8 L566.0,191.3 L566.5,188.8 L567.0,185.8 L567.5,182.5 L568.0,179.0 L568.5,175.5 L569.0,172.1 L569.5,168.6 L570.0,165.1 L570.5,161.7 L571.0,158.3 L571.5,154.9 L572.0,151.6 L572.5,148.3 L573.0,145.1 L573.5,141.9 L574.0,138.7 L574.5,135.5 L575.0,132.6 L575.5,129.9 L576.0,127.5 L576.5,124.9 L577.0,122.1 L577.5,118.7 L578.0,114.9 L578.5,111.2 L579.0,108.0 L579.5,105.0 L580.0,102.2 L580.5,99.4 L581.0,96.9 L581.5,94.4 L582.0,92.2 L582.5,90.1 L583.0,88.1 L583.5,86.1 L584.0,84.2 L584.5,82.4 L585.0,80.8 L585.5,79.2 L586.0,77.8 L586.5,76.6 L587.0,75.4 L587.5,74.2 L588.0,73.1 L588.5,72.1 L589.0,71.2 L589.5,70.3 L590.0,69.5 L590.5,68.9 L591.0,68.2 L591.5,67.6 L592.0,67.1 L592.5,66.7 L593.0,66.3 L593.5,66.0 L594.0,65.7 L594.5,65.3 L595.0,65.0 L595.5,65.0 L596.0,64.8 L596.5,64.6 L597.0,64.2 L597.5,64.5 L598.0,64.2 L598.5,64.3 L599.0,64.1 L599.5,63.9 L600.0,63.8 L600.5,64.1 L601.0,64.0 L601.5,63.3 L602.0,63.4 L602.5,63.9 L603.0,63.4 L603.5,63.2 L604.0,63.4 L604.5,63.4 L605.0,63.4 L605.5,63.3 L606.0,63.3 L606.5,63.2 L607.0,63.3 L607.5,63.1 L608.0,63.2 L608.5,63.2 L609.0,63.4 L609.5,63.2 L610.0,63.1 L610.5,63.2 L611.0,63.2 L611.5,63.4 L612.0,63.2 L612.5,63.5 L613.0,63.4 L613.5,63.2 L614.0,63.1 L614.5,63.4 L615.0,63.3 L615.5,63.2 L616.0,62.9 L616.5,62.9 L617.0,63.3 L617.5,63.4 L618.0,63.4 L618.5,63.0 L619.0,63.5 L619.5,63.2 L620.0,63.4 L620.5,63.4 L621.0,63.2 L621.5,63.2 L622.0,62.9 L622.5,63.2 L623.0,63.0 L623.5,63.5 L624.0,63.4 L624.5,63.6 L625.0,63.5 L625.5,63.3 L626.0,63.5 L626.5,63.4 L627.0,63.6 L627.5,63.6 L628.0,63.3 L628.5,63.5 L629.0,63.5 L629.5,63.5 L630.0,63.7 L630.5,63.9 L631.0,63.5 L631.5,63.5 L632.0,63.2 L632.5,63.6 L633.0,63.5 L633.5,63.2 L634.0,63.7 L634.5,63.8 L635.0,63.5 L635.5,63.6 L636.0,63.5 L636.5,63.9 L637.0,63.4 L637.5,63.7 L638.0,64.1 L638.5,63.8 L639.0,63.9 L639.5,63.8 L640.0,63.6 L640.5,63.8 L641.0,63.9 L641.5,63.6 L642.0,63.9 L642.5,64.1 L643.0,64.1 L643.5,63.6 L644.0,63.7 L644.5,63.6 L645.0,64.2 L645.5,64.1 L646.0,64.1 L646.5,63.8 L647.0,63.8 L647.5,64.0 L648.0,64.0 L648.5,63.9 L649.0,64.1 L649.5,64.2 L650.0,64.1 L650.5,63.9 L651.0,63.7 L651.5,64.1 L652.0,64.2 L652.5,64.1 L653.0,64.1 L653.5,64.0 L654.0,64.3 L654.5,64.2 L655.0,64.2 L655.5,64.0 L656.0,64.1 L656.5,64.3 L657.0,64.1 L657.5,64.0 L658.0,64.2 L658.5,64.6 L659.0,64.4 L659.5,64.7 L660.0,64.3 L660.5,64.3 L661.0,64.1 L661.5,64.3 L662.0,64.7 L662.5,64.5 L663.0,64.6 L663.5,64.6 L664.0,64.5 L664.5,64.5 L665.0,64.6 L665.5,64.7 L666.0,64.7 L666.5,64.7 L667.0,64.6 L667.5,64.5 L668.0,64.6 L668.5,64.5 L669.0,64.9 L669.5,64.3 L670.0,64.7 L670.5,65.2 L671.0,64.7" fill="none" stroke="#52a028" stroke-width="2.5" stroke-linejoin="round"/>
<path d="M414.5,223.4 L415.0,223.3 L415.5,223.2 L416.0,222.6 L416.5,222.4 L417.0,221.9 L417.5,221.5 L418.0,221.7 L418.5,220.8 L419.0,220.4 L419.5,220.1 L420.0,219.9 L420.5,219.5 L421.0,219.2 L421.5,218.8 L422.0,218.3 L422.5,218.3 L423.0,217.8 L423.5,217.5 L424.0,217.1 L424.5,216.9 L425.0,216.6 L425.5,216.6 L426.0,216.3 L426.5,216.4 L427.0,216.3 L427.5,216.0 L428.0,215.9 L428.5,215.8 L429.0,215.9 L429.5,215.4 L430.0,215.5 L430.5,215.3 L431.0,215.3 L431.5,215.3 L432.0,215.1 L432.5,215.0 L433.0,214.9 L433.5,215.0 L434.0,214.8 L434.5,214.7 L435.0,214.4 L435.5,214.3 L436.0,214.4 L436.5,214.2 L437.0,214.1 L437.5,214.1 L438.0,213.9 L438.5,213.9 L439.0,213.8 L439.5,213.7 L440.0,213.6 L440.5,213.5 L441.0,213.4 L441.5,213.3 L442.0,213.3 L442.5,213.2 L443.0,213.1 L443.5,213.0 L444.0,212.9 L444.5,212.8 L445.0,212.7 L445.5,212.6 L446.0,212.5 L446.5,212.4 L447.0,212.3 L447.5,212.3 L448.0,212.2 L448.5,212.1 L449.0,212.0 L449.5,211.9 L450.0,211.8 L450.5,211.7 L451.0,211.6 L451.5,211.6 L452.0,211.5 L452.5,211.4 L453.0,211.4 L453.5,211.3 L454.0,211.2 L454.5,211.2 L455.0,211.1 L455.5,211.0 L456.0,210.9 L456.5,210.9 L457.0,210.8 L457.5,210.7 L458.0,210.6 L458.5,210.5 L459.0,210.4 L459.5,210.3 L460.0,210.2 L460.5,210.1 L461.0,209.9 L461.5,209.8 L462.0,209.7 L462.5,209.5 L463.0,209.3 L463.5,209.1 L464.0,208.9 L464.5,208.7 L465.0,208.5 L465.5,208.2 L466.0,207.8 L466.5,207.4 L467.0,206.9 L467.5,206.4 L468.0,205.8 L468.5,205.2 L469.0,204.6 L469.5,203.7 L470.0,202.8 L470.5,201.7 L471.0,200.5 L471.5,199.3 L472.0,198.1 L472.5,196.8 L473.0,195.4 L473.5,193.9 L474.0,192.4 L474.5,190.9 L475.0,189.4 L475.5,188.0 L476.0,186.5 L476.5,185.0 L477.0,183.7 L477.5,182.4 L478.0,181.2 L478.5,180.0 L479.0,178.9 L479.5,177.9 L480.0,177.0 L480.5,176.2 L481.0,175.6 L481.5,175.0 L482.0,174.4 L482.5,173.9 L483.0,173.5 L483.5,173.1 L484.0,172.8 L484.5,172.6 L485.0,172.4 L485.5,172.3 L486.0,172.1 L486.5,172.0 L487.0,171.9 L487.5,171.8 L488.0,171.7 L488.5,171.7 L489.0,171.6 L489.5,171.5 L490.0,171.5 L490.5,171.4 L491.0,171.4 L491.5,171.3 L492.0,171.3 L492.5,171.2 L493.0,171.2 L493.5,171.2 L494.0,171.3 L494.5,171.4 L495.0,171.6 L495.5,171.8 L496.0,172.1 L496.5,172.4 L497.0,172.7 L497.5,173.0 L498.0,173.4 L498.5,173.8 L499.0,174.2 L499.5,174.8 L500.0,175.5 L500.5,176.2 L501.0,177.0 L501.5,177.8 L502.0,178.6 L502.5,179.4 L503.0,180.2 L503.5,181.0 L504.0,181.9 L504.5,182.8 L505.0,183.7 L505.5,184.5 L506.0,185.1 L506.5,185.7 L507.0,186.2 L507.5,186.8 L508.0,187.2 L508.5,187.7 L509.0,188.1 L509.5,188.5 L510.0,188.9 L510.5,189.2 L511.0,189.6 L511.5,189.9 L512.0,190.2 L512.5,190.5 L513.0,190.8 L513.5,191.0 L514.0,191.3 L514.5,191.4 L515.0,191.6 L515.5,191.7 L516.0,191.9 L516.5,192.0 L517.0,192.2 L517.5,192.3 L518.0,192.5 L518.5,192.7 L519.0,193.0 L519.5,193.3 L520.0,193.6 L520.5,193.9 L521.0,194.3 L521.5,194.6 L522.0,195.0 L522.5,195.3 L523.0,195.6 L523.5,195.9 L524.0,196.2 L524.5,196.6 L525.0,196.9 L525.5,197.2 L526.0,197.5 L526.5,197.8 L527.0,198.0 L527.5,198.3 L528.0,198.5 L528.5,198.8 L529.0,199.0 L529.5,199.2 L530.0,199.4 L530.5,199.6 L531.0,199.8 L531.5,199.9 L532.0,200.0 L532.5,200.1 L533.0,200.2 L533.5,200.3 L534.0,200.4 L534.5,200.5 L535.0,200.6 L535.5,200.8 L536.0,201.0 L536.5,201.2 L537.0,201.6 L537.5,201.9 L538.0,202.3 L538.5,202.8 L539.0,203.2 L539.5,203.6 L540.0,203.9 L540.5,204.2 L541.0,204.6 L541.5,204.9 L542.0,205.2 L542.5,205.5 L543.0,205.9 L543.5,206.2 L544.0,206.5 L544.5,206.7 L545.0,207.0 L545.5,207.3 L546.0,207.6 L546.5,207.9 L547.0,208.1 L547.5,208.4 L548.0,208.6 L548.5,208.8 L549.0,209.0 L549.5,209.2 L550.0,209.4 L550.5,209.6 L551.0,209.8 L551.5,210.0 L552.0,210.1 L552.5,210.2 L553.0,210.3 L553.5,210.3 L554.0,210.3 L554.5,210.2 L555.0,210.1 L555.5,210.0 L556.0,209.9 L556.5,209.8 L557.0,209.6 L557.5,209.4 L558.0,209.2 L558.5,208.9 L559.0,208.5 L559.5,208.1 L560.0,207.6 L560.5,207.0 L561.0,206.4 L561.5,205.7 L562.0,204.8 L562.5,203.7 L563.0,202.5 L563.5,201.2 L564.0,199.7 L564.5,198.0 L565.0,195.9 L565.5,193.7 L566.0,191.3 L566.5,188.8 L567.0,185.9 L567.5,182.6 L568.0,179.1 L568.5,175.7 L569.0,172.3 L569.5,168.9 L570.0,165.4 L570.5,162.0 L571.0,158.7 L571.5,155.4 L572.0,152.2 L572.5,148.9 L573.0,145.8 L573.5,142.6 L574.0,139.5 L574.5,136.5 L575.0,133.6 L575.5,131.0 L576.0,128.6 L576.5,126.2 L577.0,123.5 L577.5,120.2 L578.0,116.5 L578.5,112.9 L579.0,109.8 L579.5,107.0 L580.0,104.2 L580.5,101.6 L581.0,99.1 L581.5,96.8 L582.0,94.7 L582.5,92.7 L583.0,90.9 L583.5,89.1 L584.0,87.4 L584.5,85.8 L585.0,84.3 L585.5,82.9 L586.0,81.7 L586.5,80.7 L587.0,79.7 L587.5,78.7 L588.0,77.8 L588.5,77.0 L589.0,76.2 L589.5,75.6 L590.0,75.0 L590.5,74.5 L591.0,74.1 L591.5,73.7 L592.0,73.3 L592.5,72.9 L593.0,72.6 L593.5,72.3 L594.0,71.9 L594.5,71.7 L595.0,71.5 L595.5,71.3 L596.0,71.2 L596.5,71.0 L597.0,70.9 L597.5,70.8 L598.0,70.9 L598.5,70.7 L599.0,70.5 L599.5,70.1 L600.0,70.5 L600.5,70.5 L601.0,70.1 L601.5,69.9 L602.0,70.0 L602.5,70.4 L603.0,69.9 L603.5,70.0 L604.0,70.1 L604.5,70.3 L605.0,70.1 L605.5,70.0 L606.0,69.9 L606.5,70.3 L607.0,70.2 L607.5,70.0 L608.0,69.7 L608.5,69.8 L609.0,70.1 L609.5,69.8 L610.0,70.1 L610.5,70.0 L611.0,70.0 L611.5,70.0 L612.0,70.0 L612.5,69.7 L613.0,69.8 L613.5,70.3 L614.0,69.6 L614.5,69.8 L615.0,70.1 L615.5,69.8 L616.0,69.7 L616.5,69.6 L617.0,69.9 L617.5,70.0 L618.0,70.1 L618.5,69.8 L619.0,70.0 L619.5,69.6 L620.0,69.8 L620.5,69.7 L621.0,69.8 L621.5,69.9 L622.0,70.0 L622.5,69.6 L623.0,70.0 L623.5,69.7 L624.0,69.6 L624.5,69.7 L625.0,69.5 L625.5,69.7 L626.0,69.8 L626.5,69.7 L627.0,69.8 L627.5,69.7 L628.0,69.7 L628.5,69.4 L629.0,69.7 L629.5,69.5 L630.0,69.6 L630.5,69.7 L631.0,69.7 L631.5,69.4 L632.0,69.4 L632.5,69.6 L633.0,69.8 L633.5,69.7 L634.0,69.9 L634.5,69.9 L635.0,69.8 L635.5,69.7 L636.0,69.4 L636.5,69.5 L637.0,69.6 L637.5,69.7 L638.0,69.7 L638.5,69.6 L639.0,69.6 L639.5,69.8 L640.0,69.7 L640.5,69.7 L641.0,69.7 L641.5,69.5 L642.0,69.4 L642.5,69.7 L643.0,69.7 L643.5,69.6 L644.0,69.5 L644.5,70.0 L645.0,69.4 L645.5,69.5 L646.0,69.6 L646.5,69.4 L647.0,69.6 L647.5,69.9 L648.0,69.8 L648.5,69.7 L649.0,69.7 L649.5,69.6 L650.0,69.8 L650.5,69.5 L651.0,69.5 L651.5,69.6 L652.0,69.7 L652.5,69.6 L653.0,69.7 L653.5,69.1 L654.0,69.8 L654.5,70.0 L655.0,69.8 L655.5,69.5 L656.0,69.4 L656.5,69.6 L657.0,69.3 L657.5,69.7 L658.0,69.4 L658.5,69.7 L659.0,69.8 L659.5,69.1 L660.0,69.6 L660.5,69.4 L661.0,69.2 L661.5,69.4 L662.0,69.5 L662.5,69.7 L663.0,69.2 L663.5,69.7 L664.0,69.9 L664.5,69.6 L665.0,69.6 L665.5,69.5 L666.0,69.3 L666.5,69.6 L667.0,69.6 L667.5,69.6 L668.0,70.0 L668.5,69.6 L669.0,69.6 L669.5,69.8 L670.0,69.2 L670.5,69.3 L671.0,69.4" fill="none" stroke="#2b2119" stroke-width="2.5" stroke-linejoin="round"/>
</g>
<clipPath id="cc"><rect x="57.5" y="330.5" width="262" height="179"/></clipPath>
<g clip-path="url(#cc)">
<path d="M57.5,493.3 L58.0,492.5 L58.5,491.7 L59.0,490.9 L59.5,490.2 L60.0,489.5 L60.5,488.8 L61.0,488.2 L61.5,487.6 L62.0,486.9 L62.5,486.3 L63.0,485.7 L63.5,485.2 L64.0,484.6 L64.5,484.1 L65.0,483.5 L65.5,483.0 L66.0,482.4 L66.5,481.9 L67.0,481.4 L67.5,480.9 L68.0,480.3 L68.5,479.8 L69.0,479.3 L69.5,478.7 L70.0,478.2 L70.5,477.6 L71.0,477.1 L71.5,476.5 L72.0,475.9 L72.5,475.3 L73.0,474.7 L73.5,474.0 L74.0,473.4 L74.5,472.7 L75.0,472.0 L75.5,471.3 L76.0,470.5 L76.5,469.7 L77.0,469.0 L77.5,468.2 L78.0,467.3 L78.5,466.5 L79.0,465.6 L79.5,464.8 L80.0,463.9 L80.5,463.0 L81.0,462.1 L81.5,461.2 L82.0,460.3 L82.5,459.3 L83.0,458.4 L83.5,457.5 L84.0,456.5 L84.5,455.6 L85.0,454.7 L85.5,453.7 L86.0,452.8 L86.5,451.8 L87.0,450.9 L87.5,450.0 L88.0,449.1 L88.5,448.2 L89.0,447.3 L89.5,446.4 L90.0,445.5 L90.5,444.6 L91.0,443.8 L91.5,443.0 L92.0,442.1 L92.5,441.3 L93.0,440.6 L93.5,439.8 L94.0,439.1 L94.5,438.3 L95.0,437.6 L95.5,437.0 L96.0,436.3 L96.5,435.7 L97.0,435.1 L97.5,434.5 L98.0,434.0 L98.5,433.5 L99.0,433.0 L99.5,432.5 L100.0,432.1 L100.5,431.7 L101.0,431.4 L101.5,431.1 L102.0,430.8 L102.5,430.5 L103.0,430.3 L103.5,430.1 L104.0,430.0 L104.5,429.9 L105.0,429.8 L105.5,429.8 L106.0,429.8 L106.5,429.9 L107.0,430.0 L107.5,430.2 L108.0,430.3 L108.5,430.5 L109.0,430.8 L109.5,431.0 L110.0,431.3 L110.5,431.6 L111.0,432.0 L111.5,432.3 L112.0,432.7 L112.5,433.0 L113.0,433.4 L113.5,433.8 L114.0,434.1 L114.5,434.5 L115.0,434.9 L115.5,435.2 L116.0,435.6 L116.5,435.9 L117.0,436.3 L117.5,436.7 L118.0,437.0 L118.5,437.4 L119.0,437.7 L119.5,438.0 L120.0,438.4 L120.5,438.7 L121.0,439.0 L121.5,439.4 L122.0,439.7 L122.5,440.0 L123.0,440.3 L123.5,440.6 L124.0,440.9 L124.5,441.2 L125.0,441.4 L125.5,441.7 L126.0,442.0 L126.5,442.2 L127.0,442.5 L127.5,442.7 L128.0,442.9 L128.5,443.2 L129.0,443.4 L129.5,443.6 L130.0,443.8 L130.5,443.9 L131.0,444.1 L131.5,444.3 L132.0,444.4 L132.5,444.5 L133.0,444.7 L133.5,444.8 L134.0,444.9 L134.5,445.0 L135.0,445.1 L135.5,445.1 L136.0,445.2 L136.5,445.3 L137.0,445.3 L137.5,445.4 L138.0,445.4 L138.5,445.4 L139.0,445.5 L139.5,445.5 L140.0,445.5 L140.5,445.5 L141.0,445.5 L141.5,445.5 L142.0,445.5 L142.5,445.5 L143.0,445.5 L143.5,445.5 L144.0,445.5 L144.5,445.4 L145.0,445.4 L145.5,445.4 L146.0,445.4 L146.5,445.4 L147.0,445.3 L147.5,445.3 L148.0,445.3 L148.5,445.3 L149.0,445.2 L149.5,445.2 L150.0,445.2 L150.5,445.2 L151.0,445.2 L151.5,445.1 L152.0,445.1 L152.5,445.1 L153.0,445.1 L153.5,445.1 L154.0,445.0 L154.5,445.0 L155.0,444.4 L155.5,443.7 L156.0,443.2 L156.5,443.1 L157.0,443.0 L157.5,443.0 L158.0,442.8 L158.5,442.7 L159.0,442.6 L159.5,442.4 L160.0,442.2 L160.5,442.0 L161.0,441.8 L161.5,441.6 L162.0,441.3 L162.5,441.1 L163.0,440.8 L163.5,440.4 L164.0,440.1 L164.5,439.8 L165.0,439.4 L165.5,439.0 L166.0,438.6 L166.5,438.2 L167.0,437.8 L167.5,437.4 L168.0,436.9 L168.5,436.5 L169.0,436.0 L169.5,435.5 L170.0,435.1 L170.5,434.6 L171.0,434.1 L171.5,433.6 L172.0,433.1 L172.5,432.7 L173.0,432.2 L173.5,431.7 L174.0,431.2 L174.5,430.7 L175.0,430.2 L175.5,429.8 L176.0,429.3 L176.5,428.8 L177.0,428.3 L177.5,427.9 L178.0,427.4 L178.5,426.9 L179.0,426.5 L179.5,426.0 L180.0,425.6 L180.5,425.1 L181.0,424.7 L181.5,424.2 L182.0,423.8 L182.5,423.3 L183.0,422.9 L183.5,422.4 L184.0,422.0 L184.5,421.6 L185.0,421.1 L185.5,420.7 L186.0,420.3 L186.5,419.8 L187.0,419.4 L187.5,419.0 L188.0,418.5 L188.5,418.1 L189.0,417.7 L189.5,417.3 L190.0,416.8 L190.5,416.4 L191.0,416.0 L191.5,415.6 L192.0,415.1 L192.5,414.7 L193.0,414.3 L193.5,413.9 L194.0,413.5 L194.5,413.0 L195.0,412.6 L195.5,412.2 L196.0,411.8 L196.5,411.4 L197.0,411.0 L197.5,410.5 L198.0,410.1 L198.5,409.7 L199.0,409.3 L199.5,408.9 L200.0,408.4 L200.5,408.0 L201.0,407.6 L201.5,407.2 L202.0,406.8 L202.5,406.3 L203.0,405.9 L203.5,405.5 L204.0,405.1 L204.5,404.6 L205.0,404.2 L205.5,403.8 L206.0,403.4 L206.5,402.9 L207.0,402.5 L207.5,402.1 L208.0,401.7 L208.5,401.3 L209.0,400.9 L209.5,400.5 L210.0,400.1 L210.5,399.7 L211.0,399.3 L211.5,398.9 L212.0,398.5 L212.5,398.1 L213.0,397.8 L213.5,397.4 L214.0,397.1 L214.5,396.7 L215.0,396.4 L215.5,396.1 L216.0,395.7 L216.5,395.4 L217.0,395.1 L217.5,394.8 L218.0,394.6 L218.5,394.3 L219.0,394.0 L219.5,393.8 L220.0,393.6 L220.5,393.3 L221.0,393.1 L221.5,392.9 L222.0,392.8 L222.5,392.6 L223.0,392.5 L223.5,392.3 L224.0,392.2 L224.5,392.1 L225.0,392.0 L225.5,392.0 L226.0,391.9 L226.5,391.9 L227.0,391.8 L227.5,391.8 L228.0,391.9 L228.5,391.9 L229.0,392.0 L229.5,392.0 L230.0,392.1 L230.5,392.3 L231.0,392.4 L231.5,392.6 L232.0,392.8 L232.5,393.0 L233.0,393.2 L233.5,393.4 L234.0,393.7 L234.5,394.0 L235.0,394.3 L235.5,394.6 L236.0,395.0 L236.5,395.4 L237.0,395.7 L237.5,396.1 L238.0,396.6 L238.5,397.0 L239.0,397.4 L239.5,397.9 L240.0,398.4 L240.5,398.9 L241.0,399.4 L241.5,399.9 L242.0,400.4 L242.5,401.0 L243.0,401.5 L243.5,402.1 L244.0,402.7 L244.5,403.3 L245.0,403.9 L245.5,404.5 L246.0,405.1 L246.5,405.7 L247.0,406.3 L247.5,407.0 L248.0,407.6 L248.5,408.2 L249.0,408.9 L249.5,409.5 L250.0,410.2 L250.5,410.9 L251.0,411.5 L251.5,412.2 L252.0,412.9 L252.5,413.5 L253.0,414.2 L253.5,414.9 L254.0,415.6 L254.5,416.2 L255.0,416.9 L255.5,417.6 L256.0,418.2 L256.5,418.9 L257.0,419.6 L257.5,420.3 L258.0,420.9 L258.5,421.6 L259.0,422.3 L259.5,423.0 L260.0,423.6 L260.5,424.3 L261.0,425.0 L261.5,425.6 L262.0,426.3 L262.5,427.0 L263.0,427.6 L263.5,428.3 L264.0,429.0 L264.5,429.6 L265.0,430.3 L265.5,430.9 L266.0,431.6 L266.5,432.3 L267.0,432.9 L267.5,433.6 L268.0,434.2 L268.5,434.9 L269.0,435.5 L269.5,436.2 L270.0,436.8 L270.5,437.5 L271.0,438.1 L271.5,438.8 L272.0,439.4 L272.5,440.0 L273.0,440.7 L273.5,441.3 L274.0,441.9 L274.5,442.6 L275.0,443.2 L275.5,443.8 L276.0,444.5 L276.5,445.1 L277.0,445.7 L277.5,446.3 L278.0,446.9 L278.5,447.5 L279.0,448.1 L279.5,448.8 L280.0,449.4 L280.5,450.0 L281.0,450.5 L281.5,451.1 L282.0,451.7 L282.5,452.3 L283.0,452.9 L283.5,453.5 L284.0,454.1 L284.5,454.6 L285.0,455.2 L285.5,455.8 L286.0,456.3 L286.5,456.9 L287.0,457.5 L287.5,458.0 L288.0,458.6 L288.5,459.1 L289.0,459.6 L289.5,460.2 L290.0,460.7 L290.5,461.2 L291.0,461.8 L291.5,462.3 L292.0,462.8 L292.5,463.3 L293.0,463.8 L293.5,464.3 L294.0,464.8 L294.5,465.3 L295.0,465.8 L295.5,466.3 L296.0,466.7 L296.5,467.2 L297.0,467.7 L297.5,468.1 L298.0,468.6 L298.5,469.0 L299.0,469.5 L299.5,469.9 L300.0,470.4 L300.5,470.8 L301.0,471.2 L301.5,471.6 L302.0,472.0 L302.5,472.4 L303.0,472.8 L303.5,473.2 L304.0,473.6 L304.5,474.0 L305.0,474.4 L305.5,474.8 L306.0,475.1 L306.5,475.5 L307.0,475.8 L307.5,476.2 L308.0,476.5 L308.5,476.8 L309.0,477.2 L309.5,477.5 L310.0,477.8 L310.5,478.1 L311.0,478.4 L311.5,478.7 L312.0,479.0 L312.5,479.3 L313.0,479.5 L313.5,479.8 L314.0,480.0 L314.5,480.3 L315.0,480.5 L315.5,480.8 L316.0,481.0 L316.5,481.2 L317.0,481.4 L317.5,481.6 L318.0,481.8 L318.5,482.0 L319.0,482.2 L319.5,482.3 L320.0,482.5 L320.0,486.4 L319.5,486.2 L319.0,486.1 L318.5,485.9 L318.0,485.8 L317.5,485.6 L317.0,485.4 L316.5,485.3 L316.0,485.1 L315.5,484.9 L315.0,484.7 L314.5,484.5 L314.0,484.3 L313.5,484.0 L313.0,483.8 L312.5,483.6 L312.0,483.4 L311.5,483.1 L311.0,482.9 L310.5,482.6 L310.0,482.3 L309.5,482.1 L309.0,481.8 L308.5,481.5 L308.0,481.2 L307.5,481.0 L307.0,480.7 L306.5,480.4 L306.0,480.1 L305.5,479.7 L305.0,479.4 L304.5,479.1 L304.0,478.8 L303.5,478.4 L303.0,478.1 L302.5,477.8 L302.0,477.4 L301.5,477.1 L301.0,476.7 L300.5,476.3 L300.0,476.0 L299.5,475.6 L299.0,475.2 L298.5,474.8 L298.0,474.5 L297.5,474.1 L297.0,473.7 L296.5,473.3 L296.0,472.9 L295.5,472.5 L295.0,472.1 L294.5,471.6 L294.0,471.2 L293.5,470.8 L293.0,470.4 L292.5,469.9 L292.0,469.5 L291.5,469.1 L291.0,468.6 L290.5,468.2 L290.0,467.7 L289.5,467.3 L289.0,466.8 L288.5,466.3 L288.0,465.9 L287.5,465.4 L287.0,464.9 L286.5,464.4 L286.0,464.0 L285.5,463.5 L285.0,463.0 L284.5,462.5 L284.0,462.0 L283.5,461.5 L283.0,461.0 L282.5,460.5 L282.0,460.0 L281.5,459.5 L281.0,459.0 L280.5,458.5 L280.0,458.0 L279.5,457.5 L279.0,457.0 L278.5,456.4 L278.0,455.9 L277.5,455.4 L277.0,454.9 L276.5,454.3 L276.0,453.8 L275.5,453.3 L275.0,452.7 L274.5,452.2 L274.0,451.6 L273.5,451.1 L273.0,450.6 L272.5,450.0 L272.0,449.5 L271.5,448.9 L271.0,448.4 L270.5,447.8 L270.0,447.3 L269.5,446.7 L269.0,446.2 L268.5,445.6 L268.0,445.0 L267.5,444.5 L267.0,443.9 L266.5,443.3 L266.0,442.8 L265.5,442.2 L265.0,441.7 L264.5,441.1 L264.0,440.5 L263.5,440.0 L263.0,439.4 L262.5,438.8 L262.0,438.2 L261.5,437.7 L261.0,437.1 L260.5,436.5 L260.0,435.9 L259.5,435.4 L259.0,434.8 L258.5,434.2 L258.0,433.6 L257.5,433.1 L257.0,432.5 L256.5,431.9 L256.0,431.3 L255.5,430.8 L255.0,430.2 L254.5,429.6 L254.0,429.0 L253.5,428.5 L253.0,427.9 L252.5,427.3 L252.0,426.7 L251.5,426.2 L251.0,425.6 L250.5,425.0 L250.0,424.5 L249.5,423.9 L249.0,423.3 L248.5,422.8 L248.0,422.2 L247.5,421.7 L247.0,421.1 L246.5,420.6 L246.0,420.1 L245.5,419.5 L245.0,419.0 L244.5,418.5 L244.0,418.0 L243.5,417.5 L243.0,417.0 L242.5,416.6 L242.0,416.1 L241.5,415.6 L241.0,415.2 L240.5,414.8 L240.0,414.3 L239.5,413.9 L239.0,413.5 L238.5,413.1 L238.0,412.8 L237.5,412.4 L237.0,412.1 L236.5,411.7 L236.0,411.4 L235.5,411.1 L235.0,410.8 L234.5,410.6 L234.0,410.3 L233.5,410.1 L233.0,409.9 L232.5,409.7 L232.0,409.5 L231.5,409.4 L231.0,409.2 L230.5,409.1 L230.0,409.0 L229.5,408.9 L229.0,408.8 L228.5,408.8 L228.0,408.8 L227.5,408.7 L227.0,408.7 L226.5,408.7 L226.0,408.8 L225.5,408.8 L225.0,408.9 L224.5,409.0 L224.0,409.0 L223.5,409.1 L223.0,409.3 L222.5,409.4 L222.0,409.5 L221.5,409.7 L221.0,409.8 L220.5,410.0 L220.0,410.2 L219.5,410.4 L219.0,410.6 L218.5,410.8 L218.0,411.1 L217.5,411.3 L217.0,411.5 L216.5,411.8 L216.0,412.1 L215.5,412.3 L215.0,412.6 L214.5,412.9 L214.0,413.2 L213.5,413.5 L213.0,413.8 L212.5,414.1 L212.0,414.4 L211.5,414.8 L211.0,415.1 L210.5,415.4 L210.0,415.8 L209.5,416.1 L209.0,416.5 L208.5,416.8 L208.0,417.2 L207.5,417.5 L207.0,417.9 L206.5,418.2 L206.0,418.6 L205.5,419.0 L205.0,419.3 L204.5,419.7 L204.0,420.0 L203.5,420.4 L203.0,420.8 L202.5,421.1 L202.0,421.5 L201.5,421.9 L201.0,422.2 L200.5,422.6 L200.0,422.9 L199.5,423.3 L199.0,423.7 L198.5,424.0 L198.0,424.4 L197.5,424.7 L197.0,425.1 L196.5,425.5 L196.0,425.8 L195.5,426.2 L195.0,426.5 L194.5,426.9 L194.0,427.2 L193.5,427.6 L193.0,428.0 L192.5,428.3 L192.0,428.7 L191.5,429.0 L191.0,429.4 L190.5,429.8 L190.0,430.1 L189.5,430.5 L189.0,430.9 L188.5,431.2 L188.0,431.6 L187.5,432.0 L187.0,432.3 L186.5,432.7 L186.0,433.1 L185.5,433.4 L185.0,433.8 L184.5,434.2 L184.0,434.6 L183.5,434.9 L183.0,435.3 L182.5,435.7 L182.0,436.1 L181.5,436.5 L181.0,436.8 L180.5,437.2 L180.0,437.6 L179.5,438.0 L179.0,438.4 L178.5,438.8 L178.0,439.2 L177.5,439.6 L177.0,440.0 L176.5,440.4 L176.0,440.8 L175.5,441.2 L175.0,441.6 L174.5,442.0 L174.0,442.4 L173.5,442.8 L173.0,443.3 L172.5,443.7 L172.0,444.1 L171.5,444.5 L171.0,444.9 L170.5,445.3 L170.0,445.8 L169.5,446.2 L169.0,446.6 L168.5,446.9 L168.0,447.3 L167.5,447.7 L167.0,448.1 L166.5,448.4 L166.0,448.8 L165.5,449.1 L165.0,449.5 L164.5,449.8 L164.0,450.1 L163.5,450.4 L163.0,450.6 L162.5,450.9 L162.0,451.1 L161.5,451.3 L161.0,451.5 L160.5,451.7 L160.0,451.9 L159.5,452.0 L159.0,452.2 L158.5,452.3 L158.0,452.4 L157.5,452.5 L157.0,452.6 L156.5,452.7 L156.0,452.7 L155.5,453.1 L155.0,453.7 L154.5,454.3 L154.0,454.3 L153.5,454.3 L153.0,454.3 L152.5,454.4 L152.0,454.4 L151.5,454.4 L151.0,454.4 L150.5,454.4 L150.0,454.4 L149.5,454.4 L149.0,454.5 L148.5,454.5 L148.0,454.5 L147.5,454.5 L147.0,454.5 L146.5,454.6 L146.0,454.6 L145.5,454.6 L145.0,454.6 L144.5,454.6 L144.0,454.6 L143.5,454.7 L143.0,454.7 L142.5,454.7 L142.0,454.7 L141.5,454.7 L141.0,454.7 L140.5,454.7 L140.0,454.7 L139.5,454.7 L139.0,454.6 L138.5,454.6 L138.0,454.6 L137.5,454.6 L137.0,454.5 L136.5,454.5 L136.0,454.4 L135.5,454.4 L135.0,454.3 L134.5,454.2 L134.0,454.1 L133.5,454.1 L133.0,454.0 L132.5,453.9 L132.0,453.7 L131.5,453.6 L131.0,453.5 L130.5,453.3 L130.0,453.2 L129.5,453.0 L129.0,452.9 L128.5,452.7 L128.0,452.5 L127.5,452.3 L127.0,452.1 L126.5,451.9 L126.0,451.7 L125.5,451.4 L125.0,451.2 L124.5,451.0 L124.0,450.7 L123.5,450.5 L123.0,450.2 L122.5,450.0 L122.0,449.7 L121.5,449.4 L121.0,449.1 L120.5,448.9 L120.0,448.6 L119.5,448.3 L119.0,448.0 L118.5,447.7 L118.0,447.4 L117.5,447.1 L117.0,446.8 L116.5,446.5 L116.0,446.2 L115.5,445.9 L115.0,445.6 L114.5,445.3 L114.0,444.9 L113.5,444.6 L113.0,444.3 L112.5,444.0 L112.0,443.7 L111.5,443.4 L111.0,443.1 L110.5,442.8 L110.0,442.6 L109.5,442.3 L109.0,442.1 L108.5,441.9 L108.0,441.7 L107.5,441.5 L107.0,441.4 L106.5,441.3 L106.0,441.3 L105.5,441.2 L105.0,441.3 L104.5,441.3 L104.0,441.4 L103.5,441.5 L103.0,441.7 L102.5,441.9 L102.0,442.1 L101.5,442.3 L101.0,442.6 L100.5,442.9 L100.0,443.2 L99.5,443.6 L99.0,444.0 L98.5,444.4 L98.0,444.8 L97.5,445.3 L97.0,445.8 L96.5,446.3 L96.0,446.8 L95.5,447.4 L95.0,448.0 L94.5,448.6 L94.0,449.2 L93.5,449.8 L93.0,450.5 L92.5,451.1 L92.0,451.8 L91.5,452.5 L91.0,453.2 L90.5,453.9 L90.0,454.7 L89.5,455.4 L89.0,456.2 L88.5,457.0 L88.0,457.7 L87.5,458.5 L87.0,459.3 L86.5,460.1 L86.0,460.9 L85.5,461.7 L85.0,462.5 L84.5,463.3 L84.0,464.1 L83.5,464.9 L83.0,465.7 L82.5,466.5 L82.0,467.3 L81.5,468.1 L81.0,468.9 L80.5,469.7 L80.0,470.4 L79.5,471.2 L79.0,471.9 L78.5,472.7 L78.0,473.4 L77.5,474.1 L77.0,474.8 L76.5,475.5 L76.0,476.1 L75.5,476.8 L75.0,477.4 L74.5,478.0 L74.0,478.6 L73.5,479.1 L73.0,479.7 L72.5,480.2 L72.0,480.7 L71.5,481.2 L71.0,481.7 L70.5,482.2 L70.0,482.7 L69.5,483.1 L69.0,483.6 L68.5,484.1 L68.0,484.5 L67.5,485.0 L67.0,485.4 L66.5,485.9 L66.0,486.3 L65.5,486.8 L65.0,487.2 L64.5,487.7 L64.0,488.2 L63.5,488.7 L63.0,489.2 L62.5,489.7 L62.0,490.2 L61.5,490.7 L61.0,491.2 L60.5,491.8 L60.0,492.4 L59.5,493.0 L59.0,493.6 L58.5,494.2 L58.0,494.9 L57.5,495.6 Z" fill="#c4c0bd"/>
<path d="M57.5,490.5 L58.0,489.8 L58.5,489.1 L59.0,488.4 L59.5,487.7 L60.0,487.1 L60.5,486.4 L61.0,485.7 L61.5,485.0 L62.0,484.4 L62.5,483.7 L63.0,483.1 L63.5,482.4 L64.0,481.7 L64.5,481.1 L65.0,480.4 L65.5,479.8 L66.0,479.1 L66.5,478.5 L67.0,477.8 L67.5,477.2 L68.0,476.5 L68.5,475.8 L69.0,475.2 L69.5,474.5 L70.0,473.8 L70.5,473.1 L71.0,472.4 L71.5,471.7 L72.0,471.0 L72.5,470.3 L73.0,469.6 L73.5,468.9 L74.0,468.1 L74.5,467.4 L75.0,466.6 L75.5,465.9 L76.0,465.1 L76.5,464.3 L77.0,463.5 L77.5,462.7 L78.0,461.8 L78.5,461.0 L79.0,460.1 L79.5,459.3 L80.0,458.4 L80.5,457.5 L81.0,456.5 L81.5,455.6 L82.0,454.6 L82.5,453.6 L83.0,452.6 L83.5,451.6 L84.0,450.6 L84.5,449.5 L85.0,448.4 L85.5,447.3 L86.0,446.2 L86.5,445.1 L87.0,444.0 L87.5,442.9 L88.0,441.8 L88.5,440.7 L89.0,439.6 L89.5,438.5 L90.0,437.4 L90.5,436.3 L91.0,435.3 L91.5,434.2 L92.0,433.2 L92.5,432.3 L93.0,431.3 L93.5,430.4 L94.0,429.5 L94.5,428.7 L95.0,427.9 L95.5,427.1 L96.0,426.4 L96.5,425.7 L97.0,425.1 L97.5,424.6 L98.0,424.1 L98.5,423.6 L99.0,423.2 L99.5,422.8 L100.0,422.5 L100.5,422.2 L101.0,422.0 L101.5,421.8 L102.0,421.6 L102.5,421.5 L103.0,421.4 L103.5,421.3 L104.0,421.3 L104.5,421.3 L105.0,421.4 L105.5,421.4 L106.0,421.5 L106.5,421.7 L107.0,421.8 L107.5,422.0 L108.0,422.2 L108.5,422.4 L109.0,422.7 L109.5,422.9 L110.0,423.2 L110.5,423.5 L111.0,423.8 L111.5,424.2 L112.0,424.5 L112.5,424.9 L113.0,425.2 L113.5,425.6 L114.0,426.0 L114.5,426.4 L115.0,426.8 L115.5,427.2 L116.0,427.6 L116.5,428.0 L117.0,428.4 L117.5,428.8 L118.0,429.2 L118.5,429.6 L119.0,430.0 L119.5,430.4 L120.0,430.8 L120.5,431.1 L121.0,431.5 L121.5,431.9 L122.0,432.2 L122.5,432.5 L123.0,432.9 L123.5,433.2 L124.0,433.4 L124.5,433.7 L125.0,434.0 L125.5,434.2 L126.0,434.5 L126.5,434.7 L127.0,434.9 L127.5,435.1 L128.0,435.3 L128.5,435.5 L129.0,435.7 L129.5,435.9 L130.0,436.0 L130.5,436.2 L131.0,436.3 L131.5,436.5 L132.0,436.6 L132.5,436.7 L133.0,436.8 L133.5,437.0 L134.0,437.1 L134.5,437.2 L135.0,437.3 L135.5,437.4 L136.0,437.4 L136.5,437.5 L137.0,437.6 L137.5,437.7 L138.0,437.8 L138.5,437.8 L139.0,437.9 L139.5,438.0 L140.0,438.1 L140.5,438.1 L141.0,438.2 L141.5,438.3 L142.0,438.3 L142.5,438.4 L143.0,438.5 L143.5,438.5 L144.0,438.6 L144.5,438.6 L145.0,438.7 L145.5,438.7 L146.0,438.8 L146.5,438.8 L147.0,438.8 L147.5,438.8 L148.0,438.9 L148.5,438.9 L149.0,438.9 L149.5,438.9 L150.0,438.8 L150.5,438.8 L151.0,438.8 L151.5,438.7 L152.0,438.7 L152.5,438.6 L153.0,438.5 L153.5,438.4 L154.0,438.3 L154.5,438.2 L155.0,437.5 L155.5,436.7 L156.0,436.1 L156.5,436.0 L157.0,435.8 L157.5,435.6 L158.0,435.4 L158.5,435.2 L159.0,434.9 L159.5,434.7 L160.0,434.4 L160.5,434.2 L161.0,433.9 L161.5,433.6 L162.0,433.3 L162.5,433.0 L163.0,432.7 L163.5,432.3 L164.0,432.0 L164.5,431.6 L165.0,431.3 L165.5,430.9 L166.0,430.5 L166.5,430.1 L167.0,429.8 L167.5,429.3 L168.0,428.9 L168.5,428.5 L169.0,428.1 L169.5,427.7 L170.0,427.2 L170.5,426.8 L171.0,426.3 L171.5,425.8 L172.0,425.4 L172.5,424.9 L173.0,424.4 L173.5,423.9 L174.0,423.4 L174.5,422.9 L175.0,422.4 L175.5,421.9 L176.0,421.4 L176.5,420.8 L177.0,420.3 L177.5,419.8 L178.0,419.2 L178.5,418.7 L179.0,418.2 L179.5,417.6 L180.0,417.1 L180.5,416.5 L181.0,415.9 L181.5,415.4 L182.0,414.8 L182.5,414.2 L183.0,413.7 L183.5,413.1 L184.0,412.5 L184.5,411.9 L185.0,411.3 L185.5,410.8 L186.0,410.2 L186.5,409.6 L187.0,409.0 L187.5,408.4 L188.0,407.8 L188.5,407.2 L189.0,406.7 L189.5,406.1 L190.0,405.5 L190.5,404.9 L191.0,404.3 L191.5,403.7 L192.0,403.1 L192.5,402.5 L193.0,402.0 L193.5,401.4 L194.0,400.8 L194.5,400.2 L195.0,399.6 L195.5,399.1 L196.0,398.5 L196.5,397.9 L197.0,397.4 L197.5,396.8 L198.0,396.2 L198.5,395.7 L199.0,395.1 L199.5,394.6 L200.0,394.0 L200.5,393.5 L201.0,392.9 L201.5,392.4 L202.0,391.9 L202.5,391.3 L203.0,390.8 L203.5,390.3 L204.0,389.8 L204.5,389.3 L205.0,388.8 L205.5,388.3 L206.0,387.8 L206.5,387.3 L207.0,386.9 L207.5,386.4 L208.0,385.9 L208.5,385.5 L209.0,385.1 L209.5,384.6 L210.0,384.2 L210.5,383.8 L211.0,383.4 L211.5,382.9 L212.0,382.6 L212.5,382.2 L213.0,381.8 L213.5,381.4 L214.0,381.1 L214.5,380.7 L215.0,380.4 L215.5,380.0 L216.0,379.7 L216.5,379.4 L217.0,379.1 L217.5,378.8 L218.0,378.5 L218.5,378.3 L219.0,378.0 L219.5,377.7 L220.0,377.5 L220.5,377.3 L221.0,377.1 L221.5,376.9 L222.0,376.7 L222.5,376.5 L223.0,376.4 L223.5,376.2 L224.0,376.1 L224.5,375.9 L225.0,375.8 L225.5,375.7 L226.0,375.7 L226.5,375.6 L227.0,375.5 L227.5,375.5 L228.0,375.5 L228.5,375.5 L229.0,375.5 L229.5,375.5 L230.0,375.5 L230.5,375.6 L231.0,375.6 L231.5,375.7 L232.0,375.8 L232.5,375.9 L233.0,376.1 L233.5,376.2 L234.0,376.4 L234.5,376.5 L235.0,376.8 L235.5,377.0 L236.0,377.2 L236.5,377.5 L237.0,377.7 L237.5,378.0 L238.0,378.4 L238.5,378.7 L239.0,379.1 L239.5,379.5 L240.0,379.9 L240.5,380.3 L241.0,380.7 L241.5,381.2 L242.0,381.7 L242.5,382.2 L243.0,382.8 L243.5,383.4 L244.0,383.9 L244.5,384.6 L245.0,385.2 L245.5,385.8 L246.0,386.5 L246.5,387.2 L247.0,387.8 L247.5,388.5 L248.0,389.3 L248.5,390.0 L249.0,390.7 L249.5,391.5 L250.0,392.2 L250.5,393.0 L251.0,393.8 L251.5,394.5 L252.0,395.3 L252.5,396.1 L253.0,396.9 L253.5,397.7 L254.0,398.5 L254.5,399.3 L255.0,400.1 L255.5,400.9 L256.0,401.7 L256.5,402.5 L257.0,403.3 L257.5,404.1 L258.0,404.9 L258.5,405.7 L259.0,406.5 L259.5,407.3 L260.0,408.1 L260.5,408.9 L261.0,409.7 L261.5,410.5 L262.0,411.3 L262.5,412.1 L263.0,412.9 L263.5,413.7 L264.0,414.5 L264.5,415.3 L265.0,416.1 L265.5,416.9 L266.0,417.7 L266.5,418.5 L267.0,419.3 L267.5,420.1 L268.0,420.9 L268.5,421.7 L269.0,422.5 L269.5,423.3 L270.0,424.1 L270.5,424.9 L271.0,425.7 L271.5,426.4 L272.0,427.2 L272.5,428.0 L273.0,428.8 L273.5,429.6 L274.0,430.4 L274.5,431.1 L275.0,431.9 L275.5,432.7 L276.0,433.4 L276.5,434.2 L277.0,435.0 L277.5,435.7 L278.0,436.5 L278.5,437.2 L279.0,438.0 L279.5,438.7 L280.0,439.5 L280.5,440.2 L281.0,441.0 L281.5,441.7 L282.0,442.4 L282.5,443.2 L283.0,443.9 L283.5,444.6 L284.0,445.3 L284.5,446.0 L285.0,446.7 L285.5,447.4 L286.0,448.1 L286.5,448.8 L287.0,449.4 L287.5,450.1 L288.0,450.8 L288.5,451.4 L289.0,452.1 L289.5,452.7 L290.0,453.3 L290.5,454.0 L291.0,454.6 L291.5,455.2 L292.0,455.8 L292.5,456.4 L293.0,457.0 L293.5,457.6 L294.0,458.1 L294.5,458.7 L295.0,459.3 L295.5,459.8 L296.0,460.3 L296.5,460.9 L297.0,461.4 L297.5,461.9 L298.0,462.4 L298.5,462.9 L299.0,463.4 L299.5,463.8 L300.0,464.3 L300.5,464.7 L301.0,465.2 L301.5,465.6 L302.0,466.0 L302.5,466.4 L303.0,466.8 L303.5,467.2 L304.0,467.6 L304.5,468.0 L305.0,468.3 L305.5,468.7 L306.0,469.1 L306.5,469.4 L307.0,469.7 L307.5,470.1 L308.0,470.4 L308.5,470.7 L309.0,471.1 L309.5,471.4 L310.0,471.7 L310.5,472.0 L311.0,472.3 L311.5,472.6 L312.0,472.9 L312.5,473.2 L313.0,473.5 L313.5,473.7 L314.0,474.0 L314.5,474.3 L315.0,474.6 L315.5,474.9 L316.0,475.2 L316.5,475.4 L317.0,475.7 L317.5,476.0 L318.0,476.3 L318.5,476.6 L319.0,476.9 L319.5,477.1 L320.0,477.4 L320.0,482.3 L319.5,482.1 L319.0,481.8 L318.5,481.6 L318.0,481.4 L317.5,481.1 L317.0,480.9 L316.5,480.6 L316.0,480.4 L315.5,480.2 L315.0,479.9 L314.5,479.7 L314.0,479.5 L313.5,479.2 L313.0,479.0 L312.5,478.7 L312.0,478.5 L311.5,478.2 L311.0,478.0 L310.5,477.7 L310.0,477.5 L309.5,477.2 L309.0,476.9 L308.5,476.7 L308.0,476.4 L307.5,476.1 L307.0,475.8 L306.5,475.5 L306.0,475.2 L305.5,474.9 L305.0,474.6 L304.5,474.3 L304.0,474.0 L303.5,473.7 L303.0,473.3 L302.5,473.0 L302.0,472.7 L301.5,472.3 L301.0,471.9 L300.5,471.6 L300.0,471.2 L299.5,470.8 L299.0,470.4 L298.5,470.0 L298.0,469.6 L297.5,469.2 L297.0,468.7 L296.5,468.3 L296.0,467.9 L295.5,467.4 L295.0,466.9 L294.5,466.5 L294.0,466.0 L293.5,465.5 L293.0,465.0 L292.5,464.5 L292.0,464.0 L291.5,463.5 L291.0,463.0 L290.5,462.5 L290.0,461.9 L289.5,461.4 L289.0,460.8 L288.5,460.3 L288.0,459.7 L287.5,459.2 L287.0,458.6 L286.5,458.0 L286.0,457.5 L285.5,456.9 L285.0,456.3 L284.5,455.7 L284.0,455.1 L283.5,454.5 L283.0,453.9 L282.5,453.3 L282.0,452.7 L281.5,452.1 L281.0,451.4 L280.5,450.8 L280.0,450.2 L279.5,449.6 L279.0,448.9 L278.5,448.3 L278.0,447.6 L277.5,447.0 L277.0,446.4 L276.5,445.7 L276.0,445.1 L275.5,444.4 L275.0,443.8 L274.5,443.1 L274.0,442.4 L273.5,441.8 L273.0,441.1 L272.5,440.5 L272.0,439.8 L271.5,439.1 L271.0,438.5 L270.5,437.8 L270.0,437.1 L269.5,436.5 L269.0,435.8 L268.5,435.1 L268.0,434.4 L267.5,433.8 L267.0,433.1 L266.5,432.4 L266.0,431.7 L265.5,431.1 L265.0,430.4 L264.5,429.7 L264.0,429.0 L263.5,428.3 L263.0,427.7 L262.5,427.0 L262.0,426.3 L261.5,425.6 L261.0,424.9 L260.5,424.2 L260.0,423.6 L259.5,422.9 L259.0,422.2 L258.5,421.5 L258.0,420.8 L257.5,420.2 L257.0,419.5 L256.5,418.8 L256.0,418.1 L255.5,417.5 L255.0,416.8 L254.5,416.1 L254.0,415.4 L253.5,414.8 L253.0,414.1 L252.5,413.4 L252.0,412.8 L251.5,412.1 L251.0,411.5 L250.5,410.8 L250.0,410.1 L249.5,409.5 L249.0,408.9 L248.5,408.2 L248.0,407.6 L247.5,407.0 L247.0,406.4 L246.5,405.8 L246.0,405.3 L245.5,404.7 L245.0,404.2 L244.5,403.6 L244.0,403.1 L243.5,402.6 L243.0,402.1 L242.5,401.7 L242.0,401.2 L241.5,400.8 L241.0,400.4 L240.5,400.0 L240.0,399.7 L239.5,399.3 L239.0,399.0 L238.5,398.7 L238.0,398.4 L237.5,398.1 L237.0,397.9 L236.5,397.6 L236.0,397.4 L235.5,397.2 L235.0,397.0 L234.5,396.9 L234.0,396.7 L233.5,396.6 L233.0,396.4 L232.5,396.3 L232.0,396.2 L231.5,396.2 L231.0,396.1 L230.5,396.0 L230.0,396.0 L229.5,396.0 L229.0,395.9 L228.5,395.9 L228.0,395.9 L227.5,396.0 L227.0,396.0 L226.5,396.0 L226.0,396.1 L225.5,396.2 L225.0,396.3 L224.5,396.3 L224.0,396.5 L223.5,396.6 L223.0,396.7 L222.5,396.8 L222.0,397.0 L221.5,397.1 L221.0,397.3 L220.5,397.5 L220.0,397.7 L219.5,397.9 L219.0,398.1 L218.5,398.3 L218.0,398.5 L217.5,398.8 L217.0,399.0 L216.5,399.3 L216.0,399.5 L215.5,399.8 L215.0,400.1 L214.5,400.4 L214.0,400.7 L213.5,401.0 L213.0,401.3 L212.5,401.6 L212.0,401.9 L211.5,402.3 L211.0,402.6 L210.5,403.0 L210.0,403.3 L209.5,403.7 L209.0,404.1 L208.5,404.4 L208.0,404.8 L207.5,405.2 L207.0,405.6 L206.5,406.0 L206.0,406.4 L205.5,406.8 L205.0,407.2 L204.5,407.7 L204.0,408.1 L203.5,408.5 L203.0,409.0 L202.5,409.4 L202.0,409.8 L201.5,410.3 L201.0,410.7 L200.5,411.2 L200.0,411.7 L199.5,412.1 L199.0,412.6 L198.5,413.1 L198.0,413.5 L197.5,414.0 L197.0,414.5 L196.5,415.0 L196.0,415.5 L195.5,415.9 L195.0,416.4 L194.5,416.9 L194.0,417.4 L193.5,417.9 L193.0,418.4 L192.5,418.9 L192.0,419.4 L191.5,419.9 L191.0,420.4 L190.5,420.9 L190.0,421.4 L189.5,421.9 L189.0,422.4 L188.5,422.9 L188.0,423.4 L187.5,423.9 L187.0,424.4 L186.5,424.9 L186.0,425.4 L185.5,425.8 L185.0,426.3 L184.5,426.8 L184.0,427.3 L183.5,427.8 L183.0,428.3 L182.5,428.8 L182.0,429.3 L181.5,429.7 L181.0,430.2 L180.5,430.7 L180.0,431.2 L179.5,431.6 L179.0,432.1 L178.5,432.6 L178.0,433.0 L177.5,433.5 L177.0,433.9 L176.5,434.4 L176.0,434.8 L175.5,435.3 L175.0,435.7 L174.5,436.1 L174.0,436.6 L173.5,437.0 L173.0,437.4 L172.5,437.8 L172.0,438.2 L171.5,438.6 L171.0,439.0 L170.5,439.4 L170.0,439.8 L169.5,440.2 L169.0,440.5 L168.5,440.9 L168.0,441.2 L167.5,441.6 L167.0,441.9 L166.5,442.3 L166.0,442.6 L165.5,442.9 L165.0,443.2 L164.5,443.5 L164.0,443.8 L163.5,444.1 L163.0,444.4 L162.5,444.7 L162.0,444.9 L161.5,445.2 L161.0,445.4 L160.5,445.7 L160.0,445.9 L159.5,446.1 L159.0,446.3 L158.5,446.5 L158.0,446.7 L157.5,446.9 L157.0,447.0 L156.5,447.2 L156.0,447.3 L155.5,447.8 L155.0,448.5 L154.5,449.1 L154.0,449.2 L153.5,449.3 L153.0,449.4 L152.5,449.4 L152.0,449.5 L151.5,449.5 L151.0,449.6 L150.5,449.6 L150.0,449.6 L149.5,449.6 L149.0,449.7 L148.5,449.7 L148.0,449.7 L147.5,449.6 L147.0,449.6 L146.5,449.6 L146.0,449.6 L145.5,449.5 L145.0,449.5 L144.5,449.5 L144.0,449.4 L143.5,449.4 L143.0,449.3 L142.5,449.3 L142.0,449.2 L141.5,449.2 L141.0,449.1 L140.5,449.0 L140.0,449.0 L139.5,448.9 L139.0,448.8 L138.5,448.8 L138.0,448.7 L137.5,448.7 L137.0,448.6 L136.5,448.5 L136.0,448.4 L135.5,448.4 L135.0,448.3 L134.5,448.2 L134.0,448.1 L133.5,448.0 L133.0,447.9 L132.5,447.8 L132.0,447.7 L131.5,447.6 L131.0,447.5 L130.5,447.4 L130.0,447.3 L129.5,447.1 L129.0,447.0 L128.5,446.8 L128.0,446.7 L127.5,446.5 L127.0,446.3 L126.5,446.1 L126.0,445.9 L125.5,445.7 L125.0,445.5 L124.5,445.3 L124.0,445.1 L123.5,444.8 L123.0,444.6 L122.5,444.3 L122.0,444.0 L121.5,443.7 L121.0,443.4 L120.5,443.1 L120.0,442.8 L119.5,442.5 L119.0,442.1 L118.5,441.8 L118.0,441.5 L117.5,441.1 L117.0,440.8 L116.5,440.4 L116.0,440.1 L115.5,439.8 L115.0,439.4 L114.5,439.1 L114.0,438.7 L113.5,438.4 L113.0,438.1 L112.5,437.8 L112.0,437.5 L111.5,437.2 L111.0,436.9 L110.5,436.7 L110.0,436.4 L109.5,436.2 L109.0,435.9 L108.5,435.7 L108.0,435.5 L107.5,435.4 L107.0,435.2 L106.5,435.1 L106.0,435.0 L105.5,434.9 L105.0,434.8 L104.5,434.8 L104.0,434.8 L103.5,434.8 L103.0,434.9 L102.5,434.9 L102.0,435.0 L101.5,435.2 L101.0,435.3 L100.5,435.6 L100.0,435.8 L99.5,436.1 L99.0,436.4 L98.5,436.7 L98.0,437.1 L97.5,437.6 L97.0,438.0 L96.5,438.5 L96.0,439.1 L95.5,439.7 L95.0,440.3 L94.5,441.0 L94.0,441.7 L93.5,442.5 L93.0,443.3 L92.5,444.1 L92.0,444.9 L91.5,445.7 L91.0,446.6 L90.5,447.5 L90.0,448.4 L89.5,449.3 L89.0,450.3 L88.5,451.2 L88.0,452.1 L87.5,453.1 L87.0,454.0 L86.5,455.0 L86.0,455.9 L85.5,456.8 L85.0,457.8 L84.5,458.7 L84.0,459.6 L83.5,460.5 L83.0,461.3 L82.5,462.2 L82.0,463.0 L81.5,463.8 L81.0,464.6 L80.5,465.4 L80.0,466.2 L79.5,466.9 L79.0,467.7 L78.5,468.4 L78.0,469.1 L77.5,469.8 L77.0,470.5 L76.5,471.2 L76.0,471.9 L75.5,472.5 L75.0,473.2 L74.5,473.8 L74.0,474.5 L73.5,475.1 L73.0,475.7 L72.5,476.3 L72.0,476.9 L71.5,477.5 L71.0,478.1 L70.5,478.7 L70.0,479.3 L69.5,479.8 L69.0,480.4 L68.5,481.0 L68.0,481.5 L67.5,482.1 L67.0,482.7 L66.5,483.2 L66.0,483.8 L65.5,484.3 L65.0,484.9 L64.5,485.4 L64.0,486.0 L63.5,486.5 L63.0,487.1 L62.5,487.7 L62.0,488.2 L61.5,488.8 L61.0,489.3 L60.5,489.9 L60.0,490.5 L59.5,491.1 L59.0,491.6 L58.5,492.2 L58.0,492.8 L57.5,493.4 Z" fill="rgba(172,201,135,0.46)"/>
<path d="M57.5,490.5 L58.0,489.8 L58.5,489.1 L59.0,488.4 L59.5,487.7 L60.0,487.1 L60.5,486.4 L61.0,485.7 L61.5,485.0 L62.0,484.4 L62.5,483.7 L63.0,483.1 L63.5,482.4 L64.0,481.7 L64.5,481.1 L65.0,480.4 L65.5,479.8 L66.0,479.1 L66.5,478.5 L67.0,477.8 L67.5,477.2 L68.0,476.5 L68.5,475.8 L69.0,475.2 L69.5,474.5 L70.0,473.8 L70.5,473.1 L71.0,472.4 L71.5,471.7 L72.0,471.0 L72.5,470.3 L73.0,469.6 L73.5,468.9 L74.0,468.1 L74.5,467.4 L75.0,466.6 L75.5,465.9 L76.0,465.1 L76.5,464.3 L77.0,463.5 L77.5,462.7 L78.0,461.8 L78.5,461.0 L79.0,460.1 L79.5,459.3 L80.0,458.4 L80.5,457.5 L81.0,456.5 L81.5,455.6 L82.0,454.6 L82.5,453.6 L83.0,452.6 L83.5,451.6 L84.0,450.6 L84.5,449.5 L85.0,448.4 L85.5,447.3 L86.0,446.2 L86.5,445.1 L87.0,444.0 L87.5,442.9 L88.0,441.8 L88.5,440.7 L89.0,439.6 L89.5,438.5 L90.0,437.4 L90.5,436.3 L91.0,435.3 L91.5,434.2 L92.0,433.2 L92.5,432.3 L93.0,431.3 L93.5,430.4 L94.0,429.5 L94.5,428.7 L95.0,427.9 L95.5,427.1 L96.0,426.4 L96.5,425.7 L97.0,425.1 L97.5,424.6 L98.0,424.1 L98.5,423.6 L99.0,423.2 L99.5,422.8 L100.0,422.5 L100.5,422.2 L101.0,422.0 L101.5,421.8 L102.0,421.6 L102.5,421.5 L103.0,421.4 L103.5,421.3 L104.0,421.3 L104.5,421.3 L105.0,421.4 L105.5,421.4 L106.0,421.5 L106.5,421.7 L107.0,421.8 L107.5,422.0 L108.0,422.2 L108.5,422.4 L109.0,422.7 L109.5,422.9 L110.0,423.2 L110.5,423.5 L111.0,423.8 L111.5,424.2 L112.0,424.5 L112.5,424.9 L113.0,425.2 L113.5,425.6 L114.0,426.0 L114.5,426.4 L115.0,426.8 L115.5,427.2 L116.0,427.6 L116.5,428.0 L117.0,428.4 L117.5,428.8 L118.0,429.2 L118.5,429.6 L119.0,430.0 L119.5,430.4 L120.0,430.8 L120.5,431.1 L121.0,431.5 L121.5,431.9 L122.0,432.2 L122.5,432.5 L123.0,432.9 L123.5,433.2 L124.0,433.4 L124.5,433.7 L125.0,434.0 L125.5,434.2 L126.0,434.5 L126.5,434.7 L127.0,434.9 L127.5,435.1 L128.0,435.3 L128.5,435.5 L129.0,435.7 L129.5,435.9 L130.0,436.0 L130.5,436.2 L131.0,436.3 L131.5,436.5 L132.0,436.6 L132.5,436.7 L133.0,436.8 L133.5,437.0 L134.0,437.1 L134.5,437.2 L135.0,437.3 L135.5,437.4 L136.0,437.4 L136.5,437.5 L137.0,437.6 L137.5,437.7 L138.0,437.8 L138.5,437.8 L139.0,437.9 L139.5,438.0 L140.0,438.1 L140.5,438.1 L141.0,438.2 L141.5,438.3 L142.0,438.3 L142.5,438.4 L143.0,438.5 L143.5,438.5 L144.0,438.6 L144.5,438.6 L145.0,438.7 L145.5,438.7 L146.0,438.8 L146.5,438.8 L147.0,438.8 L147.5,438.8 L148.0,438.9 L148.5,438.9 L149.0,438.9 L149.5,438.9 L150.0,438.8 L150.5,438.8 L151.0,438.8 L151.5,438.7 L152.0,438.7 L152.5,438.6 L153.0,438.5 L153.5,438.4 L154.0,438.3 L154.5,438.2 L155.0,437.5 L155.5,436.7 L156.0,436.1 L156.5,436.0 L157.0,435.8 L157.5,435.6 L158.0,435.4 L158.5,435.2 L159.0,434.9 L159.5,434.7 L160.0,434.4 L160.5,434.2 L161.0,433.9 L161.5,433.6 L162.0,433.3 L162.5,433.0 L163.0,432.7 L163.5,432.3 L164.0,432.0 L164.5,431.6 L165.0,431.3 L165.5,430.9 L166.0,430.5 L166.5,430.1 L167.0,429.8 L167.5,429.3 L168.0,428.9 L168.5,428.5 L169.0,428.1 L169.5,427.7 L170.0,427.2 L170.5,426.8 L171.0,426.3 L171.5,425.8 L172.0,425.4 L172.5,424.9 L173.0,424.4 L173.5,423.9 L174.0,423.4 L174.5,422.9 L175.0,422.4 L175.5,421.9 L176.0,421.4 L176.5,420.8 L177.0,420.3 L177.5,419.8 L178.0,419.2 L178.5,418.7 L179.0,418.2 L179.5,417.6 L180.0,417.1 L180.5,416.5 L181.0,415.9 L181.5,415.4 L182.0,414.8 L182.5,414.2 L183.0,413.7 L183.5,413.1 L184.0,412.5 L184.5,411.9 L185.0,411.3 L185.5,410.8 L186.0,410.2 L186.5,409.6 L187.0,409.0 L187.5,408.4 L188.0,407.8 L188.5,407.2 L189.0,406.7 L189.5,406.1 L190.0,405.5 L190.5,404.9 L191.0,404.3 L191.5,403.7 L192.0,403.1 L192.5,402.5 L193.0,402.0 L193.5,401.4 L194.0,400.8 L194.5,400.2 L195.0,399.6 L195.5,399.1 L196.0,398.5 L196.5,397.9 L197.0,397.4 L197.5,396.8 L198.0,396.2 L198.5,395.7 L199.0,395.1 L199.5,394.6 L200.0,394.0 L200.5,393.5 L201.0,392.9 L201.5,392.4 L202.0,391.9 L202.5,391.3 L203.0,390.8 L203.5,390.3 L204.0,389.8 L204.5,389.3 L205.0,388.8 L205.5,388.3 L206.0,387.8 L206.5,387.3 L207.0,386.9 L207.5,386.4 L208.0,385.9 L208.5,385.5 L209.0,385.1 L209.5,384.6 L210.0,384.2 L210.5,383.8 L211.0,383.4 L211.5,382.9 L212.0,382.6 L212.5,382.2 L213.0,381.8 L213.5,381.4 L214.0,381.1 L214.5,380.7 L215.0,380.4 L215.5,380.0 L216.0,379.7 L216.5,379.4 L217.0,379.1 L217.5,378.8 L218.0,378.5 L218.5,378.3 L219.0,378.0 L219.5,377.7 L220.0,377.5 L220.5,377.3 L221.0,377.1 L221.5,376.9 L222.0,376.7 L222.5,376.5 L223.0,376.4 L223.5,376.2 L224.0,376.1 L224.5,375.9 L225.0,375.8 L225.5,375.7 L226.0,375.7 L226.5,375.6 L227.0,375.5 L227.5,375.5 L228.0,375.5 L228.5,375.5 L229.0,375.5 L229.5,375.5 L230.0,375.5 L230.5,375.6 L231.0,375.6 L231.5,375.7 L232.0,375.8 L232.5,375.9 L233.0,376.1 L233.5,376.2 L234.0,376.4 L234.5,376.5 L235.0,376.8 L235.5,377.0 L236.0,377.2 L236.5,377.5 L237.0,377.7 L237.5,378.0 L238.0,378.4 L238.5,378.7 L239.0,379.1 L239.5,379.5 L240.0,379.9 L240.5,380.3 L241.0,380.7 L241.5,381.2 L242.0,381.7 L242.5,382.2 L243.0,382.8 L243.5,383.4 L244.0,383.9 L244.5,384.6 L245.0,385.2 L245.5,385.8 L246.0,386.5 L246.5,387.2 L247.0,387.8 L247.5,388.5 L248.0,389.3 L248.5,390.0 L249.0,390.7 L249.5,391.5 L250.0,392.2 L250.5,393.0 L251.0,393.8 L251.5,394.5 L252.0,395.3 L252.5,396.1 L253.0,396.9 L253.5,397.7 L254.0,398.5 L254.5,399.3 L255.0,400.1 L255.5,400.9 L256.0,401.7 L256.5,402.5 L257.0,403.3 L257.5,404.1 L258.0,404.9 L258.5,405.7 L259.0,406.5 L259.5,407.3 L260.0,408.1 L260.5,408.9 L261.0,409.7 L261.5,410.5 L262.0,411.3 L262.5,412.1 L263.0,412.9 L263.5,413.7 L264.0,414.5 L264.5,415.3 L265.0,416.1 L265.5,416.9 L266.0,417.7 L266.5,418.5 L267.0,419.3 L267.5,420.1 L268.0,420.9 L268.5,421.7 L269.0,422.5 L269.5,423.3 L270.0,424.1 L270.5,424.9 L271.0,425.7 L271.5,426.4 L272.0,427.2 L272.5,428.0 L273.0,428.8 L273.5,429.6 L274.0,430.4 L274.5,431.1 L275.0,431.9 L275.5,432.7 L276.0,433.4 L276.5,434.2 L277.0,435.0 L277.5,435.7 L278.0,436.5 L278.5,437.2 L279.0,438.0 L279.5,438.7 L280.0,439.5 L280.5,440.2 L281.0,441.0 L281.5,441.7 L282.0,442.4 L282.5,443.2 L283.0,443.9 L283.5,444.6 L284.0,445.3 L284.5,446.0 L285.0,446.7 L285.5,447.4 L286.0,448.1 L286.5,448.8 L287.0,449.4 L287.5,450.1 L288.0,450.8 L288.5,451.4 L289.0,452.1 L289.5,452.7 L290.0,453.3 L290.5,454.0 L291.0,454.6 L291.5,455.2 L292.0,455.8 L292.5,456.4 L293.0,457.0 L293.5,457.6 L294.0,458.1 L294.5,458.7 L295.0,459.3 L295.5,459.8 L296.0,460.3 L296.5,460.9 L297.0,461.4 L297.5,461.9 L298.0,462.4 L298.5,462.9 L299.0,463.4 L299.5,463.8 L300.0,464.3 L300.5,464.7 L301.0,465.2 L301.5,465.6 L302.0,466.0 L302.5,466.4 L303.0,466.8 L303.5,467.2 L304.0,467.6 L304.5,468.0 L305.0,468.3 L305.5,468.7 L306.0,469.1 L306.5,469.4 L307.0,469.7 L307.5,470.1 L308.0,470.4 L308.5,470.7 L309.0,471.1 L309.5,471.4 L310.0,471.7 L310.5,472.0 L311.0,472.3 L311.5,472.6 L312.0,472.9 L312.5,473.2 L313.0,473.5 L313.5,473.7 L314.0,474.0 L314.5,474.3 L315.0,474.6 L315.5,474.9 L316.0,475.2 L316.5,475.4 L317.0,475.7 L317.5,476.0 L318.0,476.3 L318.5,476.6 L319.0,476.9 L319.5,477.1 L320.0,477.4" fill="none" stroke="#050505" stroke-width="1.05" stroke-linejoin="round"/>
<path d="M57.5,493.4 L58.0,492.8 L58.5,492.2 L59.0,491.6 L59.5,491.1 L60.0,490.5 L60.5,489.9 L61.0,489.3 L61.5,488.8 L62.0,488.2 L62.5,487.7 L63.0,487.1 L63.5,486.5 L64.0,486.0 L64.5,485.4 L65.0,484.9 L65.5,484.3 L66.0,483.8 L66.5,483.2 L67.0,482.7 L67.5,482.1 L68.0,481.5 L68.5,481.0 L69.0,480.4 L69.5,479.8 L70.0,479.3 L70.5,478.7 L71.0,478.1 L71.5,477.5 L72.0,476.9 L72.5,476.3 L73.0,475.7 L73.5,475.1 L74.0,474.5 L74.5,473.8 L75.0,473.2 L75.5,472.5 L76.0,471.9 L76.5,471.2 L77.0,470.5 L77.5,469.8 L78.0,469.1 L78.5,468.4 L79.0,467.7 L79.5,466.9 L80.0,466.2 L80.5,465.4 L81.0,464.6 L81.5,463.8 L82.0,463.0 L82.5,462.2 L83.0,461.3 L83.5,460.5 L84.0,459.6 L84.5,458.7 L85.0,457.8 L85.5,456.8 L86.0,455.9 L86.5,455.0 L87.0,454.0 L87.5,453.1 L88.0,452.1 L88.5,451.2 L89.0,450.3 L89.5,449.3 L90.0,448.4 L90.5,447.5 L91.0,446.6 L91.5,445.7 L92.0,444.9 L92.5,444.1 L93.0,443.3 L93.5,442.5 L94.0,441.7 L94.5,441.0 L95.0,440.3 L95.5,439.7 L96.0,439.1 L96.5,438.5 L97.0,438.0 L97.5,437.6 L98.0,437.1 L98.5,436.7 L99.0,436.4 L99.5,436.1 L100.0,435.8 L100.5,435.6 L101.0,435.3 L101.5,435.2 L102.0,435.0 L102.5,434.9 L103.0,434.9 L103.5,434.8 L104.0,434.8 L104.5,434.8 L105.0,434.8 L105.5,434.9 L106.0,435.0 L106.5,435.1 L107.0,435.2 L107.5,435.4 L108.0,435.5 L108.5,435.7 L109.0,435.9 L109.5,436.2 L110.0,436.4 L110.5,436.7 L111.0,436.9 L111.5,437.2 L112.0,437.5 L112.5,437.8 L113.0,438.1 L113.5,438.4 L114.0,438.7 L114.5,439.1 L115.0,439.4 L115.5,439.8 L116.0,440.1 L116.5,440.4 L117.0,440.8 L117.5,441.1 L118.0,441.5 L118.5,441.8 L119.0,442.1 L119.5,442.5 L120.0,442.8 L120.5,443.1 L121.0,443.4 L121.5,443.7 L122.0,444.0 L122.5,444.3 L123.0,444.6 L123.5,444.8 L124.0,445.1 L124.5,445.3 L125.0,445.5 L125.5,445.7 L126.0,445.9 L126.5,446.1 L127.0,446.3 L127.5,446.5 L128.0,446.7 L128.5,446.8 L129.0,447.0 L129.5,447.1 L130.0,447.3 L130.5,447.4 L131.0,447.5 L131.5,447.6 L132.0,447.7 L132.5,447.8 L133.0,447.9 L133.5,448.0 L134.0,448.1 L134.5,448.2 L135.0,448.3 L135.5,448.4 L136.0,448.4 L136.5,448.5 L137.0,448.6 L137.5,448.7 L138.0,448.7 L138.5,448.8 L139.0,448.8 L139.5,448.9 L140.0,449.0 L140.5,449.0 L141.0,449.1 L141.5,449.2 L142.0,449.2 L142.5,449.3 L143.0,449.3 L143.5,449.4 L144.0,449.4 L144.5,449.5 L145.0,449.5 L145.5,449.5 L146.0,449.6 L146.5,449.6 L147.0,449.6 L147.5,449.6 L148.0,449.7 L148.5,449.7 L149.0,449.7 L149.5,449.6 L150.0,449.6 L150.5,449.6 L151.0,449.6 L151.5,449.5 L152.0,449.5 L152.5,449.4 L153.0,449.4 L153.5,449.3 L154.0,449.2 L154.5,449.1 L155.0,448.5 L155.5,447.8 L156.0,447.3 L156.5,447.2 L157.0,447.0 L157.5,446.9 L158.0,446.7 L158.5,446.5 L159.0,446.3 L159.5,446.1 L160.0,445.9 L160.5,445.7 L161.0,445.4 L161.5,445.2 L162.0,444.9 L162.5,444.7 L163.0,444.4 L163.5,444.1 L164.0,443.8 L164.5,443.5 L165.0,443.2 L165.5,442.9 L166.0,442.6 L166.5,442.3 L167.0,441.9 L167.5,441.6 L168.0,441.2 L168.5,440.9 L169.0,440.5 L169.5,440.2 L170.0,439.8 L170.5,439.4 L171.0,439.0 L171.5,438.6 L172.0,438.2 L172.5,437.8 L173.0,437.4 L173.5,437.0 L174.0,436.6 L174.5,436.1 L175.0,435.7 L175.5,435.3 L176.0,434.8 L176.5,434.4 L177.0,433.9 L177.5,433.5 L178.0,433.0 L178.5,432.6 L179.0,432.1 L179.5,431.6 L180.0,431.2 L180.5,430.7 L181.0,430.2 L181.5,429.7 L182.0,429.3 L182.5,428.8 L183.0,428.3 L183.5,427.8 L184.0,427.3 L184.5,426.8 L185.0,426.3 L185.5,425.8 L186.0,425.4 L186.5,424.9 L187.0,424.4 L187.5,423.9 L188.0,423.4 L188.5,422.9 L189.0,422.4 L189.5,421.9 L190.0,421.4 L190.5,420.9 L191.0,420.4 L191.5,419.9 L192.0,419.4 L192.5,418.9 L193.0,418.4 L193.5,417.9 L194.0,417.4 L194.5,416.9 L195.0,416.4 L195.5,415.9 L196.0,415.5 L196.5,415.0 L197.0,414.5 L197.5,414.0 L198.0,413.5 L198.5,413.1 L199.0,412.6 L199.5,412.1 L200.0,411.7 L200.5,411.2 L201.0,410.7 L201.5,410.3 L202.0,409.8 L202.5,409.4 L203.0,409.0 L203.5,408.5 L204.0,408.1 L204.5,407.7 L205.0,407.2 L205.5,406.8 L206.0,406.4 L206.5,406.0 L207.0,405.6 L207.5,405.2 L208.0,404.8 L208.5,404.4 L209.0,404.1 L209.5,403.7 L210.0,403.3 L210.5,403.0 L211.0,402.6 L211.5,402.3 L212.0,401.9 L212.5,401.6 L213.0,401.3 L213.5,401.0 L214.0,400.7 L214.5,400.4 L215.0,400.1 L215.5,399.8 L216.0,399.5 L216.5,399.3 L217.0,399.0 L217.5,398.8 L218.0,398.5 L218.5,398.3 L219.0,398.1 L219.5,397.9 L220.0,397.7 L220.5,397.5 L221.0,397.3 L221.5,397.1 L222.0,397.0 L222.5,396.8 L223.0,396.7 L223.5,396.6 L224.0,396.5 L224.5,396.3 L225.0,396.3 L225.5,396.2 L226.0,396.1 L226.5,396.0 L227.0,396.0 L227.5,396.0 L228.0,395.9 L228.5,395.9 L229.0,395.9 L229.5,396.0 L230.0,396.0 L230.5,396.0 L231.0,396.1 L231.5,396.2 L232.0,396.2 L232.5,396.3 L233.0,396.4 L233.5,396.6 L234.0,396.7 L234.5,396.9 L235.0,397.0 L235.5,397.2 L236.0,397.4 L236.5,397.6 L237.0,397.9 L237.5,398.1 L238.0,398.4 L238.5,398.7 L239.0,399.0 L239.5,399.3 L240.0,399.7 L240.5,400.0 L241.0,400.4 L241.5,400.8 L242.0,401.2 L242.5,401.7 L243.0,402.1 L243.5,402.6 L244.0,403.1 L244.5,403.6 L245.0,404.2 L245.5,404.7 L246.0,405.3 L246.5,405.8 L247.0,406.4 L247.5,407.0 L248.0,407.6 L248.5,408.2 L249.0,408.9 L249.5,409.5 L250.0,410.1 L250.5,410.8 L251.0,411.5 L251.5,412.1 L252.0,412.8 L252.5,413.4 L253.0,414.1 L253.5,414.8 L254.0,415.4 L254.5,416.1 L255.0,416.8 L255.5,417.5 L256.0,418.1 L256.5,418.8 L257.0,419.5 L257.5,420.2 L258.0,420.8 L258.5,421.5 L259.0,422.2 L259.5,422.9 L260.0,423.6 L260.5,424.2 L261.0,424.9 L261.5,425.6 L262.0,426.3 L262.5,427.0 L263.0,427.7 L263.5,428.3 L264.0,429.0 L264.5,429.7 L265.0,430.4 L265.5,431.1 L266.0,431.7 L266.5,432.4 L267.0,433.1 L267.5,433.8 L268.0,434.4 L268.5,435.1 L269.0,435.8 L269.5,436.5 L270.0,437.1 L270.5,437.8 L271.0,438.5 L271.5,439.1 L272.0,439.8 L272.5,440.5 L273.0,441.1 L273.5,441.8 L274.0,442.4 L274.5,443.1 L275.0,443.8 L275.5,444.4 L276.0,445.1 L276.5,445.7 L277.0,446.4 L277.5,447.0 L278.0,447.6 L278.5,448.3 L279.0,448.9 L279.5,449.6 L280.0,450.2 L280.5,450.8 L281.0,451.4 L281.5,452.1 L282.0,452.7 L282.5,453.3 L283.0,453.9 L283.5,454.5 L284.0,455.1 L284.5,455.7 L285.0,456.3 L285.5,456.9 L286.0,457.5 L286.5,458.0 L287.0,458.6 L287.5,459.2 L288.0,459.7 L288.5,460.3 L289.0,460.8 L289.5,461.4 L290.0,461.9 L290.5,462.5 L291.0,463.0 L291.5,463.5 L292.0,464.0 L292.5,464.5 L293.0,465.0 L293.5,465.5 L294.0,466.0 L294.5,466.5 L295.0,466.9 L295.5,467.4 L296.0,467.9 L296.5,468.3 L297.0,468.7 L297.5,469.2 L298.0,469.6 L298.5,470.0 L299.0,470.4 L299.5,470.8 L300.0,471.2 L300.5,471.6 L301.0,471.9 L301.5,472.3 L302.0,472.7 L302.5,473.0 L303.0,473.3 L303.5,473.7 L304.0,474.0 L304.5,474.3 L305.0,474.6 L305.5,474.9 L306.0,475.2 L306.5,475.5 L307.0,475.8 L307.5,476.1 L308.0,476.4 L308.5,476.7 L309.0,476.9 L309.5,477.2 L310.0,477.5 L310.5,477.7 L311.0,478.0 L311.5,478.2 L312.0,478.5 L312.5,478.7 L313.0,479.0 L313.5,479.2 L314.0,479.5 L314.5,479.7 L315.0,479.9 L315.5,480.2 L316.0,480.4 L316.5,480.6 L317.0,480.9 L317.5,481.1 L318.0,481.4 L318.5,481.6 L319.0,481.8 L319.5,482.1 L320.0,482.3" fill="none" stroke="#050505" stroke-width="1.05" stroke-linejoin="round"/>
<path d="M57.5,493.3 L58.0,492.5 L58.5,491.7 L59.0,490.9 L59.5,490.2 L60.0,489.5 L60.5,488.8 L61.0,488.2 L61.5,487.6 L62.0,486.9 L62.5,486.3 L63.0,485.7 L63.5,485.2 L64.0,484.6 L64.5,484.1 L65.0,483.5 L65.5,483.0 L66.0,482.4 L66.5,481.9 L67.0,481.4 L67.5,480.9 L68.0,480.3 L68.5,479.8 L69.0,479.3 L69.5,478.7 L70.0,478.2 L70.5,477.6 L71.0,477.1 L71.5,476.5 L72.0,475.9 L72.5,475.3 L73.0,474.7 L73.5,474.0 L74.0,473.4 L74.5,472.7 L75.0,472.0 L75.5,471.3 L76.0,470.5 L76.5,469.7 L77.0,469.0 L77.5,468.2 L78.0,467.3 L78.5,466.5 L79.0,465.6 L79.5,464.8 L80.0,463.9 L80.5,463.0 L81.0,462.1 L81.5,461.2 L82.0,460.3 L82.5,459.3 L83.0,458.4 L83.5,457.5 L84.0,456.5 L84.5,455.6 L85.0,454.7 L85.5,453.7 L86.0,452.8 L86.5,451.8 L87.0,450.9 L87.5,450.0 L88.0,449.1 L88.5,448.2 L89.0,447.3 L89.5,446.4 L90.0,445.5 L90.5,444.6 L91.0,443.8 L91.5,443.0 L92.0,442.1 L92.5,441.3 L93.0,440.6 L93.5,439.8 L94.0,439.1 L94.5,438.3 L95.0,437.6 L95.5,437.0 L96.0,436.3 L96.5,435.7 L97.0,435.1 L97.5,434.5 L98.0,434.0 L98.5,433.5 L99.0,433.0 L99.5,432.5 L100.0,432.1 L100.5,431.7 L101.0,431.4 L101.5,431.1 L102.0,430.8 L102.5,430.5 L103.0,430.3 L103.5,430.1 L104.0,430.0 L104.5,429.9 L105.0,429.8 L105.5,429.8 L106.0,429.8 L106.5,429.9 L107.0,430.0 L107.5,430.2 L108.0,430.3 L108.5,430.5 L109.0,430.8 L109.5,431.0 L110.0,431.3 L110.5,431.6 L111.0,432.0 L111.5,432.3 L112.0,432.7 L112.5,433.0 L113.0,433.4 L113.5,433.8 L114.0,434.1 L114.5,434.5 L115.0,434.9 L115.5,435.2 L116.0,435.6 L116.5,435.9 L117.0,436.3 L117.5,436.7 L118.0,437.0 L118.5,437.4 L119.0,437.7 L119.5,438.0 L120.0,438.4 L120.5,438.7 L121.0,439.0 L121.5,439.4 L122.0,439.7 L122.5,440.0 L123.0,440.3 L123.5,440.6 L124.0,440.9 L124.5,441.2 L125.0,441.4 L125.5,441.7 L126.0,442.0 L126.5,442.2 L127.0,442.5 L127.5,442.7 L128.0,442.9 L128.5,443.2 L129.0,443.4 L129.5,443.6 L130.0,443.8 L130.5,443.9 L131.0,444.1 L131.5,444.3 L132.0,444.4 L132.5,444.5 L133.0,444.7 L133.5,444.8 L134.0,444.9 L134.5,445.0 L135.0,445.1 L135.5,445.1 L136.0,445.2 L136.5,445.3 L137.0,445.3 L137.5,445.4 L138.0,445.4 L138.5,445.4 L139.0,445.5 L139.5,445.5 L140.0,445.5 L140.5,445.5 L141.0,445.5 L141.5,445.5 L142.0,445.5 L142.5,445.5 L143.0,445.5 L143.5,445.5 L144.0,445.5 L144.5,445.4 L145.0,445.4 L145.5,445.4 L146.0,445.4 L146.5,445.4 L147.0,445.3 L147.5,445.3 L148.0,445.3 L148.5,445.3 L149.0,445.2 L149.5,445.2 L150.0,445.2 L150.5,445.2 L151.0,445.2 L151.5,445.1 L152.0,445.1 L152.5,445.1 L153.0,445.1 L153.5,445.1 L154.0,445.0 L154.5,445.0 L155.0,444.4 L155.5,443.7 L156.0,443.2 L156.5,443.1 L157.0,443.0 L157.5,443.0 L158.0,442.8 L158.5,442.7 L159.0,442.6 L159.5,442.4 L160.0,442.2 L160.5,442.0 L161.0,441.8 L161.5,441.6 L162.0,441.3 L162.5,441.1 L163.0,440.8 L163.5,440.4 L164.0,440.1 L164.5,439.8 L165.0,439.4 L165.5,439.0 L166.0,438.6 L166.5,438.2 L167.0,437.8 L167.5,437.4 L168.0,436.9 L168.5,436.5 L169.0,436.0 L169.5,435.5 L170.0,435.1 L170.5,434.6 L171.0,434.1 L171.5,433.6 L172.0,433.1 L172.5,432.7 L173.0,432.2 L173.5,431.7 L174.0,431.2 L174.5,430.7 L175.0,430.2 L175.5,429.8 L176.0,429.3 L176.5,428.8 L177.0,428.3 L177.5,427.9 L178.0,427.4 L178.5,426.9 L179.0,426.5 L179.5,426.0 L180.0,425.6 L180.5,425.1 L181.0,424.7 L181.5,424.2 L182.0,423.8 L182.5,423.3 L183.0,422.9 L183.5,422.4 L184.0,422.0 L184.5,421.6 L185.0,421.1 L185.5,420.7 L186.0,420.3 L186.5,419.8 L187.0,419.4 L187.5,419.0 L188.0,418.5 L188.5,418.1 L189.0,417.7 L189.5,417.3 L190.0,416.8 L190.5,416.4 L191.0,416.0 L191.5,415.6 L192.0,415.1 L192.5,414.7 L193.0,414.3 L193.5,413.9 L194.0,413.5 L194.5,413.0 L195.0,412.6 L195.5,412.2 L196.0,411.8 L196.5,411.4 L197.0,411.0 L197.5,410.5 L198.0,410.1 L198.5,409.7 L199.0,409.3 L199.5,408.9 L200.0,408.4 L200.5,408.0 L201.0,407.6 L201.5,407.2 L202.0,406.8 L202.5,406.3 L203.0,405.9 L203.5,405.5 L204.0,405.1 L204.5,404.6 L205.0,404.2 L205.5,403.8 L206.0,403.4 L206.5,402.9 L207.0,402.5 L207.5,402.1 L208.0,401.7 L208.5,401.3 L209.0,400.9 L209.5,400.5 L210.0,400.1 L210.5,399.7 L211.0,399.3 L211.5,398.9 L212.0,398.5 L212.5,398.1 L213.0,397.8 L213.5,397.4 L214.0,397.1 L214.5,396.7 L215.0,396.4 L215.5,396.1 L216.0,395.7 L216.5,395.4 L217.0,395.1 L217.5,394.8 L218.0,394.6 L218.5,394.3 L219.0,394.0 L219.5,393.8 L220.0,393.6 L220.5,393.3 L221.0,393.1 L221.5,392.9 L222.0,392.8 L222.5,392.6 L223.0,392.5 L223.5,392.3 L224.0,392.2 L224.5,392.1 L225.0,392.0 L225.5,392.0 L226.0,391.9 L226.5,391.9 L227.0,391.8 L227.5,391.8 L228.0,391.9 L228.5,391.9 L229.0,392.0 L229.5,392.0 L230.0,392.1 L230.5,392.3 L231.0,392.4 L231.5,392.6 L232.0,392.8 L232.5,393.0 L233.0,393.2 L233.5,393.4 L234.0,393.7 L234.5,394.0 L235.0,394.3 L235.5,394.6 L236.0,395.0 L236.5,395.4 L237.0,395.7 L237.5,396.1 L238.0,396.6 L238.5,397.0 L239.0,397.4 L239.5,397.9 L240.0,398.4 L240.5,398.9 L241.0,399.4 L241.5,399.9 L242.0,400.4 L242.5,401.0 L243.0,401.5 L243.5,402.1 L244.0,402.7 L244.5,403.3 L245.0,403.9 L245.5,404.5 L246.0,405.1 L246.5,405.7 L247.0,406.3 L247.5,407.0 L248.0,407.6 L248.5,408.2 L249.0,408.9 L249.5,409.5 L250.0,410.2 L250.5,410.9 L251.0,411.5 L251.5,412.2 L252.0,412.9 L252.5,413.5 L253.0,414.2 L253.5,414.9 L254.0,415.6 L254.5,416.2 L255.0,416.9 L255.5,417.6 L256.0,418.2 L256.5,418.9 L257.0,419.6 L257.5,420.3 L258.0,420.9 L258.5,421.6 L259.0,422.3 L259.5,423.0 L260.0,423.6 L260.5,424.3 L261.0,425.0 L261.5,425.6 L262.0,426.3 L262.5,427.0 L263.0,427.6 L263.5,428.3 L264.0,429.0 L264.5,429.6 L265.0,430.3 L265.5,430.9 L266.0,431.6 L266.5,432.3 L267.0,432.9 L267.5,433.6 L268.0,434.2 L268.5,434.9 L269.0,435.5 L269.5,436.2 L270.0,436.8 L270.5,437.5 L271.0,438.1 L271.5,438.8 L272.0,439.4 L272.5,440.0 L273.0,440.7 L273.5,441.3 L274.0,441.9 L274.5,442.6 L275.0,443.2 L275.5,443.8 L276.0,444.5 L276.5,445.1 L277.0,445.7 L277.5,446.3 L278.0,446.9 L278.5,447.5 L279.0,448.1 L279.5,448.8 L280.0,449.4 L280.5,450.0 L281.0,450.5 L281.5,451.1 L282.0,451.7 L282.5,452.3 L283.0,452.9 L283.5,453.5 L284.0,454.1 L284.5,454.6 L285.0,455.2 L285.5,455.8 L286.0,456.3 L286.5,456.9 L287.0,457.5 L287.5,458.0 L288.0,458.6 L288.5,459.1 L289.0,459.6 L289.5,460.2 L290.0,460.7 L290.5,461.2 L291.0,461.8 L291.5,462.3 L292.0,462.8 L292.5,463.3 L293.0,463.8 L293.5,464.3 L294.0,464.8 L294.5,465.3 L295.0,465.8 L295.5,466.3 L296.0,466.7 L296.5,467.2 L297.0,467.7 L297.5,468.1 L298.0,468.6 L298.5,469.0 L299.0,469.5 L299.5,469.9 L300.0,470.4 L300.5,470.8 L301.0,471.2 L301.5,471.6 L302.0,472.0 L302.5,472.4 L303.0,472.8 L303.5,473.2 L304.0,473.6 L304.5,474.0 L305.0,474.4 L305.5,474.8 L306.0,475.1 L306.5,475.5 L307.0,475.8 L307.5,476.2 L308.0,476.5 L308.5,476.8 L309.0,477.2 L309.5,477.5 L310.0,477.8 L310.5,478.1 L311.0,478.4 L311.5,478.7 L312.0,479.0 L312.5,479.3 L313.0,479.5 L313.5,479.8 L314.0,480.0 L314.5,480.3 L315.0,480.5 L315.5,480.8 L316.0,481.0 L316.5,481.2 L317.0,481.4 L317.5,481.6 L318.0,481.8 L318.5,482.0 L319.0,482.2 L319.5,482.3 L320.0,482.5" fill="none" stroke="#050505" stroke-width="1.05" stroke-linejoin="round"/>
<path d="M57.5,495.6 L58.0,494.9 L58.5,494.2 L59.0,493.6 L59.5,493.0 L60.0,492.4 L60.5,491.8 L61.0,491.2 L61.5,490.7 L62.0,490.2 L62.5,489.7 L63.0,489.2 L63.5,488.7 L64.0,488.2 L64.5,487.7 L65.0,487.2 L65.5,486.8 L66.0,486.3 L66.5,485.9 L67.0,485.4 L67.5,485.0 L68.0,484.5 L68.5,484.1 L69.0,483.6 L69.5,483.1 L70.0,482.7 L70.5,482.2 L71.0,481.7 L71.5,481.2 L72.0,480.7 L72.5,480.2 L73.0,479.7 L73.5,479.1 L74.0,478.6 L74.5,478.0 L75.0,477.4 L75.5,476.8 L76.0,476.1 L76.5,475.5 L77.0,474.8 L77.5,474.1 L78.0,473.4 L78.5,472.7 L79.0,471.9 L79.5,471.2 L80.0,470.4 L80.5,469.7 L81.0,468.9 L81.5,468.1 L82.0,467.3 L82.5,466.5 L83.0,465.7 L83.5,464.9 L84.0,464.1 L84.5,463.3 L85.0,462.5 L85.5,461.7 L86.0,460.9 L86.5,460.1 L87.0,459.3 L87.5,458.5 L88.0,457.7 L88.5,457.0 L89.0,456.2 L89.5,455.4 L90.0,454.7 L90.5,453.9 L91.0,453.2 L91.5,452.5 L92.0,451.8 L92.5,451.1 L93.0,450.5 L93.5,449.8 L94.0,449.2 L94.5,448.6 L95.0,448.0 L95.5,447.4 L96.0,446.8 L96.5,446.3 L97.0,445.8 L97.5,445.3 L98.0,444.8 L98.5,444.4 L99.0,444.0 L99.5,443.6 L100.0,443.2 L100.5,442.9 L101.0,442.6 L101.5,442.3 L102.0,442.1 L102.5,441.9 L103.0,441.7 L103.5,441.5 L104.0,441.4 L104.5,441.3 L105.0,441.3 L105.5,441.2 L106.0,441.3 L106.5,441.3 L107.0,441.4 L107.5,441.5 L108.0,441.7 L108.5,441.9 L109.0,442.1 L109.5,442.3 L110.0,442.6 L110.5,442.8 L111.0,443.1 L111.5,443.4 L112.0,443.7 L112.5,444.0 L113.0,444.3 L113.5,444.6 L114.0,444.9 L114.5,445.3 L115.0,445.6 L115.5,445.9 L116.0,446.2 L116.5,446.5 L117.0,446.8 L117.5,447.1 L118.0,447.4 L118.5,447.7 L119.0,448.0 L119.5,448.3 L120.0,448.6 L120.5,448.9 L121.0,449.1 L121.5,449.4 L122.0,449.7 L122.5,450.0 L123.0,450.2 L123.5,450.5 L124.0,450.7 L124.5,451.0 L125.0,451.2 L125.5,451.4 L126.0,451.7 L126.5,451.9 L127.0,452.1 L127.5,452.3 L128.0,452.5 L128.5,452.7 L129.0,452.9 L129.5,453.0 L130.0,453.2 L130.5,453.3 L131.0,453.5 L131.5,453.6 L132.0,453.7 L132.5,453.9 L133.0,454.0 L133.5,454.1 L134.0,454.1 L134.5,454.2 L135.0,454.3 L135.5,454.4 L136.0,454.4 L136.5,454.5 L137.0,454.5 L137.5,454.6 L138.0,454.6 L138.5,454.6 L139.0,454.6 L139.5,454.7 L140.0,454.7 L140.5,454.7 L141.0,454.7 L141.5,454.7 L142.0,454.7 L142.5,454.7 L143.0,454.7 L143.5,454.7 L144.0,454.6 L144.5,454.6 L145.0,454.6 L145.5,454.6 L146.0,454.6 L146.5,454.6 L147.0,454.5 L147.5,454.5 L148.0,454.5 L148.5,454.5 L149.0,454.5 L149.5,454.4 L150.0,454.4 L150.5,454.4 L151.0,454.4 L151.5,454.4 L152.0,454.4 L152.5,454.4 L153.0,454.3 L153.5,454.3 L154.0,454.3 L154.5,454.3 L155.0,453.7 L155.5,453.1 L156.0,452.7 L156.5,452.7 L157.0,452.6 L157.5,452.5 L158.0,452.4 L158.5,452.3 L159.0,452.2 L159.5,452.0 L160.0,451.9 L160.5,451.7 L161.0,451.5 L161.5,451.3 L162.0,451.1 L162.5,450.9 L163.0,450.6 L163.5,450.4 L164.0,450.1 L164.5,449.8 L165.0,449.5 L165.5,449.1 L166.0,448.8 L166.5,448.4 L167.0,448.1 L167.5,447.7 L168.0,447.3 L168.5,446.9 L169.0,446.6 L169.5,446.2 L170.0,445.8 L170.5,445.3 L171.0,444.9 L171.5,444.5 L172.0,444.1 L172.5,443.7 L173.0,443.3 L173.5,442.8 L174.0,442.4 L174.5,442.0 L175.0,441.6 L175.5,441.2 L176.0,440.8 L176.5,440.4 L177.0,440.0 L177.5,439.6 L178.0,439.2 L178.5,438.8 L179.0,438.4 L179.5,438.0 L180.0,437.6 L180.5,437.2 L181.0,436.8 L181.5,436.5 L182.0,436.1 L182.5,435.7 L183.0,435.3 L183.5,434.9 L184.0,434.6 L184.5,434.2 L185.0,433.8 L185.5,433.4 L186.0,433.1 L186.5,432.7 L187.0,432.3 L187.5,432.0 L188.0,431.6 L188.5,431.2 L189.0,430.9 L189.5,430.5 L190.0,430.1 L190.5,429.8 L191.0,429.4 L191.5,429.0 L192.0,428.7 L192.5,428.3 L193.0,428.0 L193.5,427.6 L194.0,427.2 L194.5,426.9 L195.0,426.5 L195.5,426.2 L196.0,425.8 L196.5,425.5 L197.0,425.1 L197.5,424.7 L198.0,424.4 L198.5,424.0 L199.0,423.7 L199.5,423.3 L200.0,422.9 L200.5,422.6 L201.0,422.2 L201.5,421.9 L202.0,421.5 L202.5,421.1 L203.0,420.8 L203.5,420.4 L204.0,420.0 L204.5,419.7 L205.0,419.3 L205.5,419.0 L206.0,418.6 L206.5,418.2 L207.0,417.9 L207.5,417.5 L208.0,417.2 L208.5,416.8 L209.0,416.5 L209.5,416.1 L210.0,415.8 L210.5,415.4 L211.0,415.1 L211.5,414.8 L212.0,414.4 L212.5,414.1 L213.0,413.8 L213.5,413.5 L214.0,413.2 L214.5,412.9 L215.0,412.6 L215.5,412.3 L216.0,412.1 L216.5,411.8 L217.0,411.5 L217.5,411.3 L218.0,411.1 L218.5,410.8 L219.0,410.6 L219.5,410.4 L220.0,410.2 L220.5,410.0 L221.0,409.8 L221.5,409.7 L222.0,409.5 L222.5,409.4 L223.0,409.3 L223.5,409.1 L224.0,409.0 L224.5,409.0 L225.0,408.9 L225.5,408.8 L226.0,408.8 L226.5,408.7 L227.0,408.7 L227.5,408.7 L228.0,408.8 L228.5,408.8 L229.0,408.8 L229.5,408.9 L230.0,409.0 L230.5,409.1 L231.0,409.2 L231.5,409.4 L232.0,409.5 L232.5,409.7 L233.0,409.9 L233.5,410.1 L234.0,410.3 L234.5,410.6 L235.0,410.8 L235.5,411.1 L236.0,411.4 L236.5,411.7 L237.0,412.1 L237.5,412.4 L238.0,412.8 L238.5,413.1 L239.0,413.5 L239.5,413.9 L240.0,414.3 L240.5,414.8 L241.0,415.2 L241.5,415.6 L242.0,416.1 L242.5,416.6 L243.0,417.0 L243.5,417.5 L244.0,418.0 L244.5,418.5 L245.0,419.0 L245.5,419.5 L246.0,420.1 L246.5,420.6 L247.0,421.1 L247.5,421.7 L248.0,422.2 L248.5,422.8 L249.0,423.3 L249.5,423.9 L250.0,424.5 L250.5,425.0 L251.0,425.6 L251.5,426.2 L252.0,426.7 L252.5,427.3 L253.0,427.9 L253.5,428.5 L254.0,429.0 L254.5,429.6 L255.0,430.2 L255.5,430.8 L256.0,431.3 L256.5,431.9 L257.0,432.5 L257.5,433.1 L258.0,433.6 L258.5,434.2 L259.0,434.8 L259.5,435.4 L260.0,435.9 L260.5,436.5 L261.0,437.1 L261.5,437.7 L262.0,438.2 L262.5,438.8 L263.0,439.4 L263.5,440.0 L264.0,440.5 L264.5,441.1 L265.0,441.7 L265.5,442.2 L266.0,442.8 L266.5,443.3 L267.0,443.9 L267.5,444.5 L268.0,445.0 L268.5,445.6 L269.0,446.2 L269.5,446.7 L270.0,447.3 L270.5,447.8 L271.0,448.4 L271.5,448.9 L272.0,449.5 L272.5,450.0 L273.0,450.6 L273.5,451.1 L274.0,451.6 L274.5,452.2 L275.0,452.7 L275.5,453.3 L276.0,453.8 L276.5,454.3 L277.0,454.9 L277.5,455.4 L278.0,455.9 L278.5,456.4 L279.0,457.0 L279.5,457.5 L280.0,458.0 L280.5,458.5 L281.0,459.0 L281.5,459.5 L282.0,460.0 L282.5,460.5 L283.0,461.0 L283.5,461.5 L284.0,462.0 L284.5,462.5 L285.0,463.0 L285.5,463.5 L286.0,464.0 L286.5,464.4 L287.0,464.9 L287.5,465.4 L288.0,465.9 L288.5,466.3 L289.0,466.8 L289.5,467.3 L290.0,467.7 L290.5,468.2 L291.0,468.6 L291.5,469.1 L292.0,469.5 L292.5,469.9 L293.0,470.4 L293.5,470.8 L294.0,471.2 L294.5,471.6 L295.0,472.1 L295.5,472.5 L296.0,472.9 L296.5,473.3 L297.0,473.7 L297.5,474.1 L298.0,474.5 L298.5,474.8 L299.0,475.2 L299.5,475.6 L300.0,476.0 L300.5,476.3 L301.0,476.7 L301.5,477.1 L302.0,477.4 L302.5,477.8 L303.0,478.1 L303.5,478.4 L304.0,478.8 L304.5,479.1 L305.0,479.4 L305.5,479.7 L306.0,480.1 L306.5,480.4 L307.0,480.7 L307.5,481.0 L308.0,481.2 L308.5,481.5 L309.0,481.8 L309.5,482.1 L310.0,482.3 L310.5,482.6 L311.0,482.9 L311.5,483.1 L312.0,483.4 L312.5,483.6 L313.0,483.8 L313.5,484.0 L314.0,484.3 L314.5,484.5 L315.0,484.7 L315.5,484.9 L316.0,485.1 L316.5,485.3 L317.0,485.4 L317.5,485.6 L318.0,485.8 L318.5,485.9 L319.0,486.1 L319.5,486.2 L320.0,486.4" fill="none" stroke="#050505" stroke-width="1.05" stroke-linejoin="round"/>
<path d="M57.5,491.9 L58.0,491.3 L58.5,490.6 L59.0,490.0 L59.5,489.4 L60.0,488.7 L60.5,488.1 L61.0,487.5 L61.5,486.8 L62.0,486.2 L62.5,485.6 L63.0,485.0 L63.5,484.4 L64.0,483.8 L64.5,483.2 L65.0,482.6 L65.5,482.0 L66.0,481.4 L66.5,480.8 L67.0,480.2 L67.5,479.6 L68.0,478.9 L68.5,478.3 L69.0,477.7 L69.5,477.1 L70.0,476.5 L70.5,475.8 L71.0,475.2 L71.5,474.5 L72.0,473.9 L72.5,473.2 L73.0,472.6 L73.5,471.9 L74.0,471.2 L74.5,470.5 L75.0,469.8 L75.5,469.1 L76.0,468.4 L76.5,467.6 L77.0,466.9 L77.5,466.1 L78.0,465.4 L78.5,464.6 L79.0,463.8 L79.5,463.0 L80.0,462.1 L80.5,461.3 L81.0,460.4 L81.5,459.6 L82.0,458.7 L82.5,457.8 L83.0,456.8 L83.5,455.9 L84.0,454.9 L84.5,454.0 L85.0,453.0 L85.5,451.9 L86.0,450.9 L86.5,449.9 L87.0,448.9 L87.5,447.8 L88.0,446.8 L88.5,445.8 L89.0,444.7 L89.5,443.7 L90.0,442.7 L90.5,441.7 L91.0,440.8 L91.5,439.8 L92.0,438.9 L92.5,438.0 L93.0,437.1 L93.5,436.3 L94.0,435.4 L94.5,434.7 L95.0,433.9 L95.5,433.2 L96.0,432.6 L96.5,431.9 L97.0,431.4 L97.5,430.9 L98.0,430.4 L98.5,430.0 L99.0,429.6 L99.5,429.2 L100.0,428.9 L100.5,428.7 L101.0,428.5 L101.5,428.3 L102.0,428.1 L102.5,428.0 L103.0,427.9 L103.5,427.9 L104.0,427.8 L104.5,427.9 L105.0,427.9 L105.5,428.0 L106.0,428.1 L106.5,428.2 L107.0,428.3 L107.5,428.5 L108.0,428.7 L108.5,428.9 L109.0,429.1 L109.5,429.3 L110.0,429.6 L110.5,429.9 L111.0,430.2 L111.5,430.5 L112.0,430.8 L112.5,431.1 L113.0,431.5 L113.5,431.8 L114.0,432.2 L114.5,432.5 L115.0,432.9 L115.5,433.3 L116.0,433.6 L116.5,434.0 L117.0,434.4 L117.5,434.8 L118.0,435.1 L118.5,435.5 L119.0,435.9 L119.5,436.2 L120.0,436.6 L120.5,437.0 L121.0,437.3 L121.5,437.6 L122.0,437.9 L122.5,438.2 L123.0,438.5 L123.5,438.8 L124.0,439.1 L124.5,439.3 L125.0,439.6 L125.5,439.8 L126.0,440.0 L126.5,440.3 L127.0,440.5 L127.5,440.6 L128.0,440.8 L128.5,441.0 L129.0,441.2 L129.5,441.3 L130.0,441.5 L130.5,441.6 L131.0,441.7 L131.5,441.9 L132.0,442.0 L132.5,442.1 L133.0,442.2 L133.5,442.3 L134.0,442.4 L134.5,442.5 L135.0,442.6 L135.5,442.7 L136.0,442.8 L136.5,442.9 L137.0,442.9 L137.5,443.0 L138.0,443.1 L138.5,443.1 L139.0,443.2 L139.5,443.3 L140.0,443.3 L140.5,443.4 L141.0,443.5 L141.5,443.5 L142.0,443.6 L142.5,443.7 L143.0,443.7 L143.5,443.8 L144.0,443.8 L144.5,443.9 L145.0,443.9 L145.5,444.0 L146.0,444.0 L146.5,444.0 L147.0,444.1 L147.5,444.1 L148.0,444.1 L148.5,444.1 L149.0,444.1 L149.5,444.1 L150.0,444.1 L150.5,444.0 L151.0,444.0 L151.5,444.0 L152.0,443.9 L152.5,443.8 L153.0,443.8 L153.5,443.7 L154.0,443.6 L154.5,443.5 L155.0,442.8 L155.5,442.1 L156.0,441.6 L156.5,441.4 L157.0,441.2 L157.5,441.1 L158.0,440.9 L158.5,440.7 L159.0,440.4 L159.5,440.2 L160.0,440.0 L160.5,439.7 L161.0,439.5 L161.5,439.2 L162.0,438.9 L162.5,438.6 L163.0,438.3 L163.5,438.0 L164.0,437.7 L164.5,437.4 L165.0,437.1 L165.5,436.7 L166.0,436.4 L166.5,436.0 L167.0,435.7 L167.5,435.3 L168.0,434.9 L168.5,434.5 L169.0,434.1 L169.5,433.7 L170.0,433.3 L170.5,432.9 L171.0,432.5 L171.5,432.0 L172.0,431.6 L172.5,431.2 L173.0,430.7 L173.5,430.2 L174.0,429.8 L174.5,429.3 L175.0,428.9 L175.5,428.4 L176.0,427.9 L176.5,427.4 L177.0,426.9 L177.5,426.4 L178.0,425.9 L178.5,425.4 L179.0,424.9 L179.5,424.4 L180.0,423.9 L180.5,423.4 L181.0,422.9 L181.5,422.3 L182.0,421.8 L182.5,421.3 L183.0,420.8 L183.5,420.2 L184.0,419.7 L184.5,419.2 L185.0,418.6 L185.5,418.1 L186.0,417.5 L186.5,417.0 L187.0,416.5 L187.5,415.9 L188.0,415.4 L188.5,414.8 L189.0,414.3 L189.5,413.7 L190.0,413.2 L190.5,412.6 L191.0,412.1 L191.5,411.6 L192.0,411.0 L192.5,410.5 L193.0,409.9 L193.5,409.4 L194.0,408.8 L194.5,408.3 L195.0,407.8 L195.5,407.2 L196.0,406.7 L196.5,406.2 L197.0,405.7 L197.5,405.1 L198.0,404.6 L198.5,404.1 L199.0,403.6 L199.5,403.1 L200.0,402.6 L200.5,402.1 L201.0,401.6 L201.5,401.1 L202.0,400.6 L202.5,400.1 L203.0,399.6 L203.5,399.1 L204.0,398.7 L204.5,398.2 L205.0,397.7 L205.5,397.3 L206.0,396.8 L206.5,396.4 L207.0,396.0 L207.5,395.5 L208.0,395.1 L208.5,394.7 L209.0,394.3 L209.5,393.9 L210.0,393.5 L210.5,393.1 L211.0,392.7 L211.5,392.3 L212.0,392.0 L212.5,391.6 L213.0,391.2 L213.5,390.9 L214.0,390.6 L214.5,390.2 L215.0,389.9 L215.5,389.6 L216.0,389.3 L216.5,389.0 L217.0,388.8 L217.5,388.5 L218.0,388.2 L218.5,388.0 L219.0,387.7 L219.5,387.5 L220.0,387.3 L220.5,387.1 L221.0,386.9 L221.5,386.7 L222.0,386.5 L222.5,386.4 L223.0,386.2 L223.5,386.1 L224.0,385.9 L224.5,385.8 L225.0,385.7 L225.5,385.6 L226.0,385.6 L226.5,385.5 L227.0,385.5 L227.5,385.4 L228.0,385.4 L228.5,385.4 L229.0,385.4 L229.5,385.4 L230.0,385.4 L230.5,385.5 L231.0,385.5 L231.5,385.6 L232.0,385.7 L232.5,385.8 L233.0,385.9 L233.5,386.1 L234.0,386.2 L234.5,386.4 L235.0,386.6 L235.5,386.8 L236.0,387.0 L236.5,387.2 L237.0,387.5 L237.5,387.8 L238.0,388.1 L238.5,388.4 L239.0,388.7 L239.5,389.1 L240.0,389.5 L240.5,389.9 L241.0,390.3 L241.5,390.7 L242.0,391.2 L242.5,391.7 L243.0,392.2 L243.5,392.7 L244.0,393.2 L244.5,393.8 L245.0,394.4 L245.5,395.0 L246.0,395.6 L246.5,396.2 L247.0,396.9 L247.5,397.5 L248.0,398.2 L248.5,398.8 L249.0,399.5 L249.5,400.2 L250.0,400.9 L250.5,401.6 L251.0,402.3 L251.5,403.1 L252.0,403.8 L252.5,404.5 L253.0,405.2 L253.5,406.0 L254.0,406.7 L254.5,407.4 L255.0,408.2 L255.5,408.9 L256.0,409.7 L256.5,410.4 L257.0,411.1 L257.5,411.9 L258.0,412.6 L258.5,413.4 L259.0,414.1 L259.5,414.8 L260.0,415.6 L260.5,416.3 L261.0,417.1 L261.5,417.8 L262.0,418.6 L262.5,419.3 L263.0,420.0 L263.5,420.8 L264.0,421.5 L264.5,422.3 L265.0,423.0 L265.5,423.8 L266.0,424.5 L266.5,425.2 L267.0,426.0 L267.5,426.7 L268.0,427.5 L268.5,428.2 L269.0,428.9 L269.5,429.7 L270.0,430.4 L270.5,431.1 L271.0,431.9 L271.5,432.6 L272.0,433.3 L272.5,434.1 L273.0,434.8 L273.5,435.5 L274.0,436.2 L274.5,436.9 L275.0,437.7 L275.5,438.4 L276.0,439.1 L276.5,439.8 L277.0,440.5 L277.5,441.2 L278.0,441.9 L278.5,442.6 L279.0,443.3 L279.5,444.0 L280.0,444.7 L280.5,445.4 L281.0,446.0 L281.5,446.7 L282.0,447.4 L282.5,448.1 L283.0,448.7 L283.5,449.4 L284.0,450.1 L284.5,450.7 L285.0,451.3 L285.5,452.0 L286.0,452.6 L286.5,453.3 L287.0,453.9 L287.5,454.5 L288.0,455.1 L288.5,455.7 L289.0,456.3 L289.5,456.9 L290.0,457.5 L290.5,458.1 L291.0,458.7 L291.5,459.2 L292.0,459.8 L292.5,460.3 L293.0,460.9 L293.5,461.4 L294.0,462.0 L294.5,462.5 L295.0,463.0 L295.5,463.5 L296.0,464.0 L296.5,464.5 L297.0,465.0 L297.5,465.4 L298.0,465.9 L298.5,466.3 L299.0,466.8 L299.5,467.2 L300.0,467.6 L300.5,468.1 L301.0,468.5 L301.5,468.9 L302.0,469.2 L302.5,469.6 L303.0,470.0 L303.5,470.3 L304.0,470.7 L304.5,471.0 L305.0,471.4 L305.5,471.7 L306.0,472.1 L306.5,472.4 L307.0,472.7 L307.5,473.0 L308.0,473.3 L308.5,473.6 L309.0,473.9 L309.5,474.2 L310.0,474.5 L310.5,474.8 L311.0,475.0 L311.5,475.3 L312.0,475.6 L312.5,475.9 L313.0,476.1 L313.5,476.4 L314.0,476.7 L314.5,476.9 L315.0,477.2 L315.5,477.4 L316.0,477.7 L316.5,478.0 L317.0,478.2 L317.5,478.5 L318.0,478.7 L318.5,479.0 L319.0,479.3 L319.5,479.5 L320.0,479.8" fill="none" stroke="#52a028" stroke-width="2.5" stroke-linejoin="round"/>
<path d="M57.5,494.5 L58.0,493.7 L58.5,493.0 L59.0,492.3 L59.5,491.6 L60.0,491.0 L60.5,490.4 L61.0,489.8 L61.5,489.2 L62.0,488.6 L62.5,488.1 L63.0,487.5 L63.5,487.0 L64.0,486.5 L64.5,485.9 L65.0,485.4 L65.5,484.9 L66.0,484.4 L66.5,484.0 L67.0,483.5 L67.5,483.0 L68.0,482.5 L68.5,482.0 L69.0,481.5 L69.5,481.0 L70.0,480.5 L70.5,480.0 L71.0,479.5 L71.5,478.9 L72.0,478.4 L72.5,477.8 L73.0,477.2 L73.5,476.7 L74.0,476.0 L74.5,475.4 L75.0,474.8 L75.5,474.1 L76.0,473.4 L76.5,472.7 L77.0,472.0 L77.5,471.2 L78.0,470.5 L78.5,469.7 L79.0,468.9 L79.5,468.1 L80.0,467.3 L80.5,466.4 L81.0,465.6 L81.5,464.8 L82.0,463.9 L82.5,463.1 L83.0,462.2 L83.5,461.3 L84.0,460.5 L84.5,459.6 L85.0,458.7 L85.5,457.8 L86.0,457.0 L86.5,456.1 L87.0,455.3 L87.5,454.4 L88.0,453.6 L88.5,452.7 L89.0,451.9 L89.5,451.1 L90.0,450.2 L90.5,449.4 L91.0,448.7 L91.5,447.9 L92.0,447.1 L92.5,446.4 L93.0,445.7 L93.5,445.0 L94.0,444.3 L94.5,443.6 L95.0,443.0 L95.5,442.3 L96.0,441.7 L96.5,441.2 L97.0,440.6 L97.5,440.1 L98.0,439.6 L98.5,439.1 L99.0,438.7 L99.5,438.2 L100.0,437.9 L100.5,437.5 L101.0,437.2 L101.5,436.9 L102.0,436.6 L102.5,436.4 L103.0,436.2 L103.5,436.0 L104.0,435.9 L104.5,435.8 L105.0,435.7 L105.5,435.7 L106.0,435.7 L106.5,435.8 L107.0,435.9 L107.5,436.0 L108.0,436.2 L108.5,436.4 L109.0,436.6 L109.5,436.9 L110.0,437.1 L110.5,437.4 L111.0,437.7 L111.5,438.0 L112.0,438.4 L112.5,438.7 L113.0,439.0 L113.5,439.4 L114.0,439.7 L114.5,440.0 L115.0,440.4 L115.5,440.7 L116.0,441.1 L116.5,441.4 L117.0,441.7 L117.5,442.0 L118.0,442.4 L118.5,442.7 L119.0,443.0 L119.5,443.3 L120.0,443.6 L120.5,443.9 L121.0,444.3 L121.5,444.6 L122.0,444.8 L122.5,445.1 L123.0,445.4 L123.5,445.7 L124.0,446.0 L124.5,446.2 L125.0,446.5 L125.5,446.7 L126.0,447.0 L126.5,447.2 L127.0,447.4 L127.5,447.7 L128.0,447.9 L128.5,448.1 L129.0,448.3 L129.5,448.4 L130.0,448.6 L130.5,448.8 L131.0,448.9 L131.5,449.1 L132.0,449.2 L132.5,449.3 L133.0,449.5 L133.5,449.6 L134.0,449.7 L134.5,449.7 L135.0,449.8 L135.5,449.9 L136.0,450.0 L136.5,450.0 L137.0,450.1 L137.5,450.1 L138.0,450.1 L138.5,450.2 L139.0,450.2 L139.5,450.2 L140.0,450.2 L140.5,450.2 L141.0,450.2 L141.5,450.2 L142.0,450.2 L142.5,450.2 L143.0,450.2 L143.5,450.2 L144.0,450.2 L144.5,450.2 L145.0,450.2 L145.5,450.1 L146.0,450.1 L146.5,450.1 L147.0,450.1 L147.5,450.1 L148.0,450.0 L148.5,450.0 L149.0,450.0 L149.5,450.0 L150.0,450.0 L150.5,449.9 L151.0,449.9 L151.5,449.9 L152.0,449.9 L152.5,449.9 L153.0,449.9 L153.5,449.8 L154.0,449.8 L154.5,449.8 L155.0,449.2 L155.5,448.6 L156.0,448.1 L156.5,448.1 L157.0,448.0 L157.5,447.9 L158.0,447.8 L158.5,447.7 L159.0,447.5 L159.5,447.4 L160.0,447.2 L160.5,447.0 L161.0,446.8 L161.5,446.6 L162.0,446.4 L162.5,446.1 L163.0,445.8 L163.5,445.6 L164.0,445.2 L164.5,444.9 L165.0,444.6 L165.5,444.2 L166.0,443.9 L166.5,443.5 L167.0,443.1 L167.5,442.7 L168.0,442.3 L168.5,441.9 L169.0,441.4 L169.5,441.0 L170.0,440.6 L170.5,440.1 L171.0,439.7 L171.5,439.2 L172.0,438.8 L172.5,438.3 L173.0,437.9 L173.5,437.4 L174.0,437.0 L174.5,436.5 L175.0,436.1 L175.5,435.7 L176.0,435.2 L176.5,434.8 L177.0,434.3 L177.5,433.9 L178.0,433.5 L178.5,433.1 L179.0,432.6 L179.5,432.2 L180.0,431.8 L180.5,431.4 L181.0,430.9 L181.5,430.5 L182.0,430.1 L182.5,429.7 L183.0,429.3 L183.5,428.9 L184.0,428.5 L184.5,428.1 L185.0,427.7 L185.5,427.3 L186.0,426.9 L186.5,426.5 L187.0,426.1 L187.5,425.7 L188.0,425.3 L188.5,424.9 L189.0,424.5 L189.5,424.1 L190.0,423.7 L190.5,423.3 L191.0,422.9 L191.5,422.5 L192.0,422.1 L192.5,421.7 L193.0,421.4 L193.5,421.0 L194.0,420.6 L194.5,420.2 L195.0,419.8 L195.5,419.4 L196.0,419.0 L196.5,418.6 L197.0,418.3 L197.5,417.9 L198.0,417.5 L198.5,417.1 L199.0,416.7 L199.5,416.3 L200.0,415.9 L200.5,415.5 L201.0,415.1 L201.5,414.8 L202.0,414.4 L202.5,414.0 L203.0,413.6 L203.5,413.2 L204.0,412.8 L204.5,412.4 L205.0,412.0 L205.5,411.6 L206.0,411.2 L206.5,410.8 L207.0,410.4 L207.5,410.1 L208.0,409.7 L208.5,409.3 L209.0,408.9 L209.5,408.5 L210.0,408.2 L210.5,407.8 L211.0,407.4 L211.5,407.1 L212.0,406.7 L212.5,406.4 L213.0,406.0 L213.5,405.7 L214.0,405.4 L214.5,405.1 L215.0,404.8 L215.5,404.5 L216.0,404.2 L216.5,403.9 L217.0,403.6 L217.5,403.3 L218.0,403.1 L218.5,402.8 L219.0,402.6 L219.5,402.4 L220.0,402.2 L220.5,402.0 L221.0,401.8 L221.5,401.6 L222.0,401.4 L222.5,401.3 L223.0,401.1 L223.5,401.0 L224.0,400.9 L224.5,400.8 L225.0,400.7 L225.5,400.7 L226.0,400.6 L226.5,400.6 L227.0,400.6 L227.5,400.6 L228.0,400.6 L228.5,400.6 L229.0,400.7 L229.5,400.7 L230.0,400.8 L230.5,401.0 L231.0,401.1 L231.5,401.2 L232.0,401.4 L232.5,401.6 L233.0,401.8 L233.5,402.0 L234.0,402.3 L234.5,402.6 L235.0,402.8 L235.5,403.1 L236.0,403.5 L236.5,403.8 L237.0,404.2 L237.5,404.5 L238.0,404.9 L238.5,405.3 L239.0,405.7 L239.5,406.2 L240.0,406.6 L240.5,407.1 L241.0,407.5 L241.5,408.0 L242.0,408.5 L242.5,409.0 L243.0,409.5 L243.5,410.1 L244.0,410.6 L244.5,411.1 L245.0,411.7 L245.5,412.2 L246.0,412.8 L246.5,413.4 L247.0,414.0 L247.5,414.5 L248.0,415.1 L248.5,415.7 L249.0,416.3 L249.5,416.9 L250.0,417.6 L250.5,418.2 L251.0,418.8 L251.5,419.4 L252.0,420.0 L252.5,420.6 L253.0,421.3 L253.5,421.9 L254.0,422.5 L254.5,423.1 L255.0,423.8 L255.5,424.4 L256.0,425.0 L256.5,425.6 L257.0,426.3 L257.5,426.9 L258.0,427.5 L258.5,428.1 L259.0,428.7 L259.5,429.4 L260.0,430.0 L260.5,430.6 L261.0,431.2 L261.5,431.8 L262.0,432.5 L262.5,433.1 L263.0,433.7 L263.5,434.3 L264.0,434.9 L264.5,435.5 L265.0,436.2 L265.5,436.8 L266.0,437.4 L266.5,438.0 L267.0,438.6 L267.5,439.2 L268.0,439.8 L268.5,440.4 L269.0,441.0 L269.5,441.6 L270.0,442.2 L270.5,442.8 L271.0,443.4 L271.5,444.0 L272.0,444.6 L272.5,445.2 L273.0,445.8 L273.5,446.4 L274.0,447.0 L274.5,447.5 L275.0,448.1 L275.5,448.7 L276.0,449.3 L276.5,449.8 L277.0,450.4 L277.5,451.0 L278.0,451.6 L278.5,452.1 L279.0,452.7 L279.5,453.3 L280.0,453.8 L280.5,454.4 L281.0,454.9 L281.5,455.5 L282.0,456.0 L282.5,456.6 L283.0,457.1 L283.5,457.6 L284.0,458.2 L284.5,458.7 L285.0,459.2 L285.5,459.8 L286.0,460.3 L286.5,460.8 L287.0,461.3 L287.5,461.8 L288.0,462.3 L288.5,462.8 L289.0,463.3 L289.5,463.8 L290.0,464.3 L290.5,464.8 L291.0,465.3 L291.5,465.8 L292.0,466.2 L292.5,466.7 L293.0,467.2 L293.5,467.7 L294.0,468.1 L294.5,468.6 L295.0,469.0 L295.5,469.5 L296.0,469.9 L296.5,470.3 L297.0,470.8 L297.5,471.2 L298.0,471.6 L298.5,472.0 L299.0,472.4 L299.5,472.9 L300.0,473.3 L300.5,473.7 L301.0,474.0 L301.5,474.4 L302.0,474.8 L302.5,475.2 L303.0,475.6 L303.5,475.9 L304.0,476.3 L304.5,476.6 L305.0,477.0 L305.5,477.3 L306.0,477.7 L306.5,478.0 L307.0,478.3 L307.5,478.6 L308.0,479.0 L308.5,479.3 L309.0,479.6 L309.5,479.9 L310.0,480.1 L310.5,480.4 L311.0,480.7 L311.5,481.0 L312.0,481.2 L312.5,481.5 L313.0,481.7 L313.5,482.0 L314.0,482.2 L314.5,482.4 L315.0,482.7 L315.5,482.9 L316.0,483.1 L316.5,483.3 L317.0,483.5 L317.5,483.7 L318.0,483.9 L318.5,484.0 L319.0,484.2 L319.5,484.3 L320.0,484.5" fill="none" stroke="#2b2119" stroke-width="2.5" stroke-linejoin="round"/>
</g>
<clipPath id="cd"><rect x="408.5" y="330.5" width="262" height="179"/></clipPath>
<g clip-path="url(#cd)">
<path d="M408.5,487.8 L409.0,487.2 L409.5,486.6 L410.0,486.0 L410.5,485.4 L411.0,484.8 L411.5,484.2 L412.0,483.5 L412.5,482.9 L413.0,482.3 L413.5,481.7 L414.0,481.0 L414.5,480.4 L415.0,479.7 L415.5,479.1 L416.0,478.4 L416.5,477.8 L417.0,477.1 L417.5,476.4 L418.0,475.7 L418.5,475.0 L419.0,474.3 L419.5,473.6 L420.0,472.9 L420.5,472.1 L421.0,471.4 L421.5,470.6 L422.0,469.8 L422.5,469.1 L423.0,468.3 L423.5,467.5 L424.0,466.6 L424.5,465.8 L425.0,465.0 L425.5,464.1 L426.0,463.2 L426.5,462.3 L427.0,461.4 L427.5,460.5 L428.0,459.6 L428.5,458.6 L429.0,457.7 L429.5,456.7 L430.0,455.7 L430.5,454.7 L431.0,453.7 L431.5,452.6 L432.0,451.6 L432.5,450.5 L433.0,449.5 L433.5,448.4 L434.0,447.3 L434.5,446.2 L435.0,445.1 L435.5,444.1 L436.0,443.0 L436.5,441.9 L437.0,440.8 L437.5,439.7 L438.0,438.6 L438.5,437.6 L439.0,436.5 L439.5,435.5 L440.0,434.4 L440.5,433.4 L441.0,432.4 L441.5,431.4 L442.0,430.4 L442.5,429.4 L443.0,428.5 L443.5,427.6 L444.0,426.6 L444.5,425.8 L445.0,424.9 L445.5,424.1 L446.0,423.3 L446.5,422.5 L447.0,421.7 L447.5,421.0 L448.0,420.3 L448.5,419.7 L449.0,419.0 L449.5,418.5 L450.0,417.9 L450.5,417.4 L451.0,416.9 L451.5,416.5 L452.0,416.1 L452.5,415.8 L453.0,415.5 L453.5,415.2 L454.0,415.0 L454.5,414.8 L455.0,414.6 L455.5,414.5 L456.0,414.4 L456.5,414.4 L457.0,414.4 L457.5,414.4 L458.0,414.4 L458.5,414.5 L459.0,414.7 L459.5,414.8 L460.0,415.0 L460.5,415.2 L461.0,415.5 L461.5,415.8 L462.0,416.1 L462.5,416.4 L463.0,416.8 L463.5,417.2 L464.0,417.6 L464.5,418.0 L465.0,418.5 L465.5,419.0 L466.0,419.5 L466.5,420.0 L467.0,420.5 L467.5,421.0 L468.0,421.5 L468.5,422.0 L469.0,422.5 L469.5,423.0 L470.0,423.4 L470.5,423.9 L471.0,424.3 L471.5,424.8 L472.0,425.2 L472.5,425.6 L473.0,426.0 L473.5,426.4 L474.0,426.8 L474.5,427.2 L475.0,427.5 L475.5,427.9 L476.0,428.3 L476.5,428.6 L477.0,428.9 L477.5,429.3 L478.0,429.6 L478.5,429.9 L479.0,430.2 L479.5,430.5 L480.0,430.8 L480.5,431.0 L481.0,431.3 L481.5,431.6 L482.0,431.8 L482.5,432.1 L483.0,432.3 L483.5,432.5 L484.0,432.8 L484.5,433.0 L485.0,433.2 L485.5,433.4 L486.0,433.5 L486.5,433.7 L487.0,433.9 L487.5,434.1 L488.0,434.2 L488.5,434.4 L489.0,434.5 L489.5,434.6 L490.0,434.8 L490.5,434.9 L491.0,435.0 L491.5,435.1 L492.0,435.2 L492.5,435.3 L493.0,435.4 L493.5,435.4 L494.0,435.5 L494.5,435.6 L495.0,435.6 L495.5,435.7 L496.0,435.7 L496.5,435.7 L497.0,435.7 L497.5,435.7 L498.0,435.7 L498.5,435.7 L499.0,435.7 L499.5,435.7 L500.0,435.7 L500.5,435.7 L501.0,435.6 L501.5,435.6 L502.0,435.5 L502.5,435.4 L503.0,435.4 L503.5,435.3 L504.0,435.2 L504.5,435.1 L505.0,435.0 L505.5,434.2 L506.0,433.5 L506.5,433.1 L507.0,432.9 L507.5,432.8 L508.0,432.7 L508.5,432.5 L509.0,432.4 L509.5,432.2 L510.0,432.0 L510.5,431.8 L511.0,431.7 L511.5,431.5 L512.0,431.3 L512.5,431.1 L513.0,430.9 L513.5,430.6 L514.0,430.4 L514.5,430.2 L515.0,430.0 L515.5,429.7 L516.0,429.5 L516.5,429.3 L517.0,429.0 L517.5,428.8 L518.0,428.5 L518.5,428.2 L519.0,428.0 L519.5,427.7 L520.0,427.4 L520.5,427.1 L521.0,426.8 L521.5,426.6 L522.0,426.3 L522.5,426.0 L523.0,425.7 L523.5,425.4 L524.0,425.1 L524.5,424.8 L525.0,424.4 L525.5,424.1 L526.0,423.8 L526.5,423.5 L527.0,423.2 L527.5,422.8 L528.0,422.5 L528.5,422.2 L529.0,421.8 L529.5,421.5 L530.0,421.1 L530.5,420.8 L531.0,420.4 L531.5,420.0 L532.0,419.7 L532.5,419.3 L533.0,418.9 L533.5,418.5 L534.0,418.1 L534.5,417.7 L535.0,417.3 L535.5,416.9 L536.0,416.5 L536.5,416.1 L537.0,415.6 L537.5,415.2 L538.0,414.7 L538.5,414.3 L539.0,413.8 L539.5,413.3 L540.0,412.8 L540.5,412.3 L541.0,411.8 L541.5,411.3 L542.0,410.8 L542.5,410.3 L543.0,409.7 L543.5,409.2 L544.0,408.7 L544.5,408.1 L545.0,407.6 L545.5,407.0 L546.0,406.5 L546.5,405.9 L547.0,405.4 L547.5,404.8 L548.0,404.3 L548.5,403.7 L549.0,403.2 L549.5,402.7 L550.0,402.1 L550.5,401.6 L551.0,401.0 L551.5,400.5 L552.0,400.0 L552.5,399.5 L553.0,399.0 L553.5,398.5 L554.0,398.0 L554.5,397.5 L555.0,397.0 L555.5,396.5 L556.0,396.1 L556.5,395.6 L557.0,395.2 L557.5,394.7 L558.0,394.3 L558.5,393.8 L559.0,393.4 L559.5,393.0 L560.0,392.6 L560.5,392.2 L561.0,391.8 L561.5,391.4 L562.0,391.1 L562.5,390.7 L563.0,390.3 L563.5,390.0 L564.0,389.7 L564.5,389.3 L565.0,389.0 L565.5,388.7 L566.0,388.4 L566.5,388.2 L567.0,387.9 L567.5,387.6 L568.0,387.4 L568.5,387.1 L569.0,386.9 L569.5,386.7 L570.0,386.5 L570.5,386.3 L571.0,386.1 L571.5,385.9 L572.0,385.8 L572.5,385.6 L573.0,385.5 L573.5,385.4 L574.0,385.3 L574.5,385.2 L575.0,385.1 L575.5,385.1 L576.0,385.0 L576.5,385.0 L577.0,385.0 L577.5,384.9 L578.0,385.0 L578.5,385.0 L579.0,385.0 L579.5,385.1 L580.0,385.1 L580.5,385.2 L581.0,385.3 L581.5,385.4 L582.0,385.5 L582.5,385.7 L583.0,385.8 L583.5,386.0 L584.0,386.2 L584.5,386.4 L585.0,386.6 L585.5,386.9 L586.0,387.1 L586.5,387.4 L587.0,387.7 L587.5,388.0 L588.0,388.3 L588.5,388.7 L589.0,389.0 L589.5,389.4 L590.0,389.8 L590.5,390.2 L591.0,390.6 L591.5,391.1 L592.0,391.5 L592.5,392.0 L593.0,392.5 L593.5,393.0 L594.0,393.6 L594.5,394.1 L595.0,394.7 L595.5,395.3 L596.0,395.9 L596.5,396.5 L597.0,397.2 L597.5,397.8 L598.0,398.5 L598.5,399.2 L599.0,399.9 L599.5,400.6 L600.0,401.4 L600.5,402.1 L601.0,402.9 L601.5,403.6 L602.0,404.4 L602.5,405.1 L603.0,405.9 L603.5,406.6 L604.0,407.3 L604.5,408.1 L605.0,408.8 L605.5,409.5 L606.0,410.2 L606.5,410.9 L607.0,411.5 L607.5,412.2 L608.0,412.9 L608.5,413.5 L609.0,414.2 L609.5,414.9 L610.0,415.5 L610.5,416.2 L611.0,416.8 L611.5,417.4 L612.0,418.1 L612.5,418.7 L613.0,419.4 L613.5,420.0 L614.0,420.7 L614.5,421.3 L615.0,422.0 L615.5,422.6 L616.0,423.3 L616.5,423.9 L617.0,424.6 L617.5,425.3 L618.0,426.0 L618.5,426.6 L619.0,427.3 L619.5,428.1 L620.0,428.8 L620.5,429.5 L621.0,430.2 L621.5,431.0 L622.0,431.8 L622.5,432.5 L623.0,433.3 L623.5,434.1 L624.0,434.9 L624.5,435.7 L625.0,436.6 L625.5,437.4 L626.0,438.2 L626.5,439.0 L627.0,439.9 L627.5,440.7 L628.0,441.5 L628.5,442.3 L629.0,443.2 L629.5,444.0 L630.0,444.8 L630.5,445.6 L631.0,446.4 L631.5,447.2 L632.0,448.0 L632.5,448.7 L633.0,449.5 L633.5,450.2 L634.0,451.0 L634.5,451.7 L635.0,452.4 L635.5,453.1 L636.0,453.8 L636.5,454.5 L637.0,455.2 L637.5,455.8 L638.0,456.5 L638.5,457.1 L639.0,457.8 L639.5,458.4 L640.0,459.0 L640.5,459.6 L641.0,460.2 L641.5,460.8 L642.0,461.4 L642.5,461.9 L643.0,462.5 L643.5,463.0 L644.0,463.6 L644.5,464.1 L645.0,464.6 L645.5,465.2 L646.0,465.7 L646.5,466.2 L647.0,466.6 L647.5,467.1 L648.0,467.6 L648.5,468.1 L649.0,468.5 L649.5,469.0 L650.0,469.4 L650.5,469.9 L651.0,470.3 L651.5,470.7 L652.0,471.1 L652.5,471.5 L653.0,471.9 L653.5,472.3 L654.0,472.7 L654.5,473.1 L655.0,473.5 L655.5,473.8 L656.0,474.2 L656.5,474.5 L657.0,474.9 L657.5,475.2 L658.0,475.6 L658.5,475.9 L659.0,476.2 L659.5,476.5 L660.0,476.8 L660.5,477.2 L661.0,477.5 L661.5,477.8 L662.0,478.0 L662.5,478.3 L663.0,478.6 L663.5,478.9 L664.0,479.2 L664.5,479.4 L665.0,479.7 L665.5,479.9 L666.0,480.2 L666.5,480.4 L667.0,480.7 L667.5,480.9 L668.0,481.2 L668.5,481.4 L669.0,481.6 L669.5,481.9 L670.0,482.1 L670.5,482.3 L671.0,482.5 L671.0,485.2 L670.5,485.0 L670.0,484.8 L669.5,484.6 L669.0,484.4 L668.5,484.2 L668.0,484.0 L667.5,483.8 L667.0,483.6 L666.5,483.4 L666.0,483.1 L665.5,482.9 L665.0,482.7 L664.5,482.4 L664.0,482.2 L663.5,481.9 L663.0,481.7 L662.5,481.4 L662.0,481.2 L661.5,480.9 L661.0,480.7 L660.5,480.4 L660.0,480.1 L659.5,479.8 L659.0,479.5 L658.5,479.3 L658.0,479.0 L657.5,478.7 L657.0,478.3 L656.5,478.0 L656.0,477.7 L655.5,477.4 L655.0,477.1 L654.5,476.7 L654.0,476.4 L653.5,476.0 L653.0,475.7 L652.5,475.3 L652.0,475.0 L651.5,474.6 L651.0,474.2 L650.5,473.8 L650.0,473.4 L649.5,473.0 L649.0,472.6 L648.5,472.2 L648.0,471.8 L647.5,471.4 L647.0,470.9 L646.5,470.5 L646.0,470.0 L645.5,469.6 L645.0,469.1 L644.5,468.7 L644.0,468.2 L643.5,467.7 L643.0,467.2 L642.5,466.7 L642.0,466.2 L641.5,465.7 L641.0,465.1 L640.5,464.6 L640.0,464.1 L639.5,463.5 L639.0,462.9 L638.5,462.4 L638.0,461.8 L637.5,461.2 L637.0,460.6 L636.5,460.0 L636.0,459.4 L635.5,458.8 L635.0,458.1 L634.5,457.5 L634.0,456.8 L633.5,456.2 L633.0,455.5 L632.5,454.8 L632.0,454.1 L631.5,453.4 L631.0,452.7 L630.5,452.0 L630.0,451.3 L629.5,450.5 L629.0,449.8 L628.5,449.1 L628.0,448.3 L627.5,447.6 L627.0,446.8 L626.5,446.1 L626.0,445.3 L625.5,444.6 L625.0,443.9 L624.5,443.1 L624.0,442.4 L623.5,441.7 L623.0,440.9 L622.5,440.2 L622.0,439.5 L621.5,438.8 L621.0,438.2 L620.5,437.5 L620.0,436.8 L619.5,436.2 L619.0,435.6 L618.5,434.9 L618.0,434.3 L617.5,433.7 L617.0,433.1 L616.5,432.5 L616.0,431.9 L615.5,431.3 L615.0,430.7 L614.5,430.1 L614.0,429.5 L613.5,429.0 L613.0,428.4 L612.5,427.8 L612.0,427.2 L611.5,426.6 L611.0,426.1 L610.5,425.5 L610.0,424.9 L609.5,424.3 L609.0,423.7 L608.5,423.1 L608.0,422.5 L607.5,421.9 L607.0,421.3 L606.5,420.7 L606.0,420.1 L605.5,419.5 L605.0,418.8 L604.5,418.2 L604.0,417.5 L603.5,416.9 L603.0,416.2 L602.5,415.5 L602.0,414.9 L601.5,414.2 L601.0,413.5 L600.5,412.9 L600.0,412.2 L599.5,411.5 L599.0,410.9 L598.5,410.2 L598.0,409.6 L597.5,409.0 L597.0,408.4 L596.5,407.8 L596.0,407.2 L595.5,406.7 L595.0,406.2 L594.5,405.6 L594.0,405.1 L593.5,404.7 L593.0,404.2 L592.5,403.8 L592.0,403.3 L591.5,402.9 L591.0,402.5 L590.5,402.1 L590.0,401.8 L589.5,401.4 L589.0,401.1 L588.5,400.7 L588.0,400.4 L587.5,400.2 L587.0,399.9 L586.5,399.6 L586.0,399.4 L585.5,399.1 L585.0,398.9 L584.5,398.7 L584.0,398.5 L583.5,398.4 L583.0,398.2 L582.5,398.1 L582.0,397.9 L581.5,397.8 L581.0,397.7 L580.5,397.6 L580.0,397.6 L579.5,397.5 L579.0,397.5 L578.5,397.4 L578.0,397.4 L577.5,397.4 L577.0,397.4 L576.5,397.4 L576.0,397.5 L575.5,397.5 L575.0,397.6 L574.5,397.6 L574.0,397.7 L573.5,397.8 L573.0,397.9 L572.5,398.0 L572.0,398.2 L571.5,398.3 L571.0,398.5 L570.5,398.6 L570.0,398.8 L569.5,399.0 L569.0,399.2 L568.5,399.4 L568.0,399.6 L567.5,399.8 L567.0,400.0 L566.5,400.3 L566.0,400.5 L565.5,400.8 L565.0,401.1 L564.5,401.4 L564.0,401.7 L563.5,402.0 L563.0,402.3 L562.5,402.6 L562.0,402.9 L561.5,403.2 L561.0,403.6 L560.5,403.9 L560.0,404.3 L559.5,404.7 L559.0,405.0 L558.5,405.4 L558.0,405.8 L557.5,406.2 L557.0,406.6 L556.5,407.0 L556.0,407.4 L555.5,407.8 L555.0,408.3 L554.5,408.7 L554.0,409.1 L553.5,409.6 L553.0,410.0 L552.5,410.5 L552.0,411.0 L551.5,411.4 L551.0,411.9 L550.5,412.4 L550.0,412.9 L549.5,413.3 L549.0,413.8 L548.5,414.3 L548.0,414.8 L547.5,415.3 L547.0,415.8 L546.5,416.3 L546.0,416.8 L545.5,417.3 L545.0,417.8 L544.5,418.3 L544.0,418.8 L543.5,419.2 L543.0,419.7 L542.5,420.2 L542.0,420.7 L541.5,421.1 L541.0,421.6 L540.5,422.0 L540.0,422.5 L539.5,422.9 L539.0,423.4 L538.5,423.8 L538.0,424.2 L537.5,424.6 L537.0,425.0 L536.5,425.4 L536.0,425.8 L535.5,426.2 L535.0,426.5 L534.5,426.9 L534.0,427.3 L533.5,427.6 L533.0,428.0 L532.5,428.3 L532.0,428.7 L531.5,429.0 L531.0,429.3 L530.5,429.6 L530.0,430.0 L529.5,430.3 L529.0,430.6 L528.5,430.9 L528.0,431.2 L527.5,431.5 L527.0,431.8 L526.5,432.1 L526.0,432.4 L525.5,432.7 L525.0,433.0 L524.5,433.2 L524.0,433.5 L523.5,433.8 L523.0,434.1 L522.5,434.3 L522.0,434.6 L521.5,434.9 L521.0,435.1 L520.5,435.4 L520.0,435.6 L519.5,435.9 L519.0,436.1 L518.5,436.4 L518.0,436.6 L517.5,436.8 L517.0,437.1 L516.5,437.3 L516.0,437.5 L515.5,437.7 L515.0,437.9 L514.5,438.1 L514.0,438.3 L513.5,438.5 L513.0,438.7 L512.5,438.9 L512.0,439.1 L511.5,439.3 L511.0,439.4 L510.5,439.6 L510.0,439.8 L509.5,439.9 L509.0,440.1 L508.5,440.2 L508.0,440.3 L507.5,440.5 L507.0,440.6 L506.5,440.7 L506.0,441.1 L505.5,441.8 L505.0,442.5 L504.5,442.5 L504.0,442.6 L503.5,442.7 L503.0,442.8 L502.5,442.8 L502.0,442.9 L501.5,443.0 L501.0,443.0 L500.5,443.0 L500.0,443.1 L499.5,443.1 L499.0,443.1 L498.5,443.1 L498.0,443.1 L497.5,443.1 L497.0,443.1 L496.5,443.1 L496.0,443.1 L495.5,443.0 L495.0,443.0 L494.5,443.0 L494.0,442.9 L493.5,442.8 L493.0,442.8 L492.5,442.7 L492.0,442.6 L491.5,442.5 L491.0,442.5 L490.5,442.4 L490.0,442.2 L489.5,442.1 L489.0,442.0 L488.5,441.9 L488.0,441.8 L487.5,441.6 L487.0,441.5 L486.5,441.3 L486.0,441.1 L485.5,441.0 L485.0,440.8 L484.5,440.6 L484.0,440.4 L483.5,440.2 L483.0,440.0 L482.5,439.8 L482.0,439.6 L481.5,439.4 L481.0,439.1 L480.5,438.9 L480.0,438.6 L479.5,438.4 L479.0,438.1 L478.5,437.9 L478.0,437.6 L477.5,437.3 L477.0,437.0 L476.5,436.7 L476.0,436.4 L475.5,436.1 L475.0,435.7 L474.5,435.4 L474.0,435.1 L473.5,434.7 L473.0,434.4 L472.5,434.0 L472.0,433.6 L471.5,433.2 L471.0,432.8 L470.5,432.4 L470.0,432.0 L469.5,431.6 L469.0,431.2 L468.5,430.8 L468.0,430.3 L467.5,429.9 L467.0,429.4 L466.5,429.0 L466.0,428.5 L465.5,428.1 L465.0,427.6 L464.5,427.2 L464.0,426.8 L463.5,426.4 L463.0,426.1 L462.5,425.7 L462.0,425.4 L461.5,425.1 L461.0,424.9 L460.5,424.7 L460.0,424.5 L459.5,424.3 L459.0,424.1 L458.5,424.0 L458.0,424.0 L457.5,423.9 L457.0,423.9 L456.5,423.9 L456.0,423.9 L455.5,424.0 L455.0,424.1 L454.5,424.2 L454.0,424.4 L453.5,424.6 L453.0,424.9 L452.5,425.1 L452.0,425.5 L451.5,425.8 L451.0,426.2 L450.5,426.6 L450.0,427.1 L449.5,427.6 L449.0,428.1 L448.5,428.6 L448.0,429.2 L447.5,429.9 L447.0,430.5 L446.5,431.2 L446.0,431.9 L445.5,432.6 L445.0,433.4 L444.5,434.1 L444.0,434.9 L443.5,435.7 L443.0,436.6 L442.5,437.4 L442.0,438.3 L441.5,439.2 L441.0,440.1 L440.5,441.0 L440.0,441.9 L439.5,442.9 L439.0,443.8 L438.5,444.8 L438.0,445.7 L437.5,446.7 L437.0,447.7 L436.5,448.6 L436.0,449.6 L435.5,450.6 L435.0,451.6 L434.5,452.6 L434.0,453.5 L433.5,454.5 L433.0,455.5 L432.5,456.4 L432.0,457.4 L431.5,458.3 L431.0,459.3 L430.5,460.2 L430.0,461.1 L429.5,462.0 L429.0,462.9 L428.5,463.7 L428.0,464.6 L427.5,465.4 L427.0,466.2 L426.5,467.1 L426.0,467.9 L425.5,468.6 L425.0,469.4 L424.5,470.2 L424.0,470.9 L423.5,471.7 L423.0,472.4 L422.5,473.1 L422.0,473.8 L421.5,474.5 L421.0,475.2 L420.5,475.9 L420.0,476.5 L419.5,477.2 L419.0,477.8 L418.5,478.5 L418.0,479.1 L417.5,479.7 L417.0,480.3 L416.5,480.9 L416.0,481.5 L415.5,482.1 L415.0,482.7 L414.5,483.3 L414.0,483.9 L413.5,484.5 L413.0,485.0 L412.5,485.6 L412.0,486.1 L411.5,486.7 L411.0,487.2 L410.5,487.8 L410.0,488.3 L409.5,488.9 L409.0,489.4 L408.5,489.9 Z" fill="#c4c0bd"/>
<path d="M408.5,484.8 L409.0,483.9 L409.5,482.9 L410.0,482.0 L410.5,481.1 L411.0,480.2 L411.5,479.4 L412.0,478.5 L412.5,477.6 L413.0,476.8 L413.5,475.9 L414.0,475.1 L414.5,474.2 L415.0,473.4 L415.5,472.5 L416.0,471.7 L416.5,470.8 L417.0,470.0 L417.5,469.1 L418.0,468.3 L418.5,467.4 L419.0,466.6 L419.5,465.7 L420.0,464.9 L420.5,464.0 L421.0,463.1 L421.5,462.2 L422.0,461.3 L422.5,460.4 L423.0,459.5 L423.5,458.5 L424.0,457.6 L424.5,456.6 L425.0,455.6 L425.5,454.7 L426.0,453.7 L426.5,452.6 L427.0,451.6 L427.5,450.5 L428.0,449.4 L428.5,448.3 L429.0,447.2 L429.5,446.1 L430.0,444.9 L430.5,443.7 L431.0,442.5 L431.5,441.3 L432.0,440.1 L432.5,438.8 L433.0,437.5 L433.5,436.2 L434.0,435.0 L434.5,433.7 L435.0,432.3 L435.5,431.0 L436.0,429.7 L436.5,428.4 L437.0,427.0 L437.5,425.7 L438.0,424.4 L438.5,423.0 L439.0,421.7 L439.5,420.4 L440.0,419.1 L440.5,417.8 L441.0,416.5 L441.5,415.2 L442.0,413.9 L442.5,412.6 L443.0,411.4 L443.5,410.2 L444.0,409.0 L444.5,407.8 L445.0,406.6 L445.5,405.5 L446.0,404.4 L446.5,403.4 L447.0,402.3 L447.5,401.3 L448.0,400.4 L448.5,399.5 L449.0,398.6 L449.5,397.8 L450.0,397.0 L450.5,396.3 L451.0,395.6 L451.5,395.0 L452.0,394.5 L452.5,394.0 L453.0,393.5 L453.5,393.1 L454.0,392.8 L454.5,392.6 L455.0,392.4 L455.5,392.2 L456.0,392.1 L456.5,392.1 L457.0,392.1 L457.5,392.2 L458.0,392.3 L458.5,392.4 L459.0,392.7 L459.5,392.9 L460.0,393.2 L460.5,393.5 L461.0,393.9 L461.5,394.3 L462.0,394.8 L462.5,395.3 L463.0,395.8 L463.5,396.4 L464.0,397.0 L464.5,397.6 L465.0,398.2 L465.5,398.9 L466.0,399.5 L466.5,400.2 L467.0,400.8 L467.5,401.4 L468.0,402.0 L468.5,402.6 L469.0,403.2 L469.5,403.8 L470.0,404.4 L470.5,404.9 L471.0,405.5 L471.5,406.0 L472.0,406.5 L472.5,407.1 L473.0,407.6 L473.5,408.1 L474.0,408.5 L474.5,409.0 L475.0,409.5 L475.5,409.9 L476.0,410.4 L476.5,410.8 L477.0,411.2 L477.5,411.6 L478.0,412.0 L478.5,412.4 L479.0,412.7 L479.5,413.1 L480.0,413.4 L480.5,413.7 L481.0,414.1 L481.5,414.4 L482.0,414.6 L482.5,414.9 L483.0,415.2 L483.5,415.5 L484.0,415.7 L484.5,415.9 L485.0,416.2 L485.5,416.4 L486.0,416.6 L486.5,416.8 L487.0,417.0 L487.5,417.1 L488.0,417.3 L488.5,417.5 L489.0,417.6 L489.5,417.7 L490.0,417.9 L490.5,418.0 L491.0,418.1 L491.5,418.2 L492.0,418.3 L492.5,418.4 L493.0,418.4 L493.5,418.5 L494.0,418.5 L494.5,418.6 L495.0,418.6 L495.5,418.7 L496.0,418.7 L496.5,418.7 L497.0,418.7 L497.5,418.7 L498.0,418.7 L498.5,418.7 L499.0,418.7 L499.5,418.6 L500.0,418.6 L500.5,418.6 L501.0,418.5 L501.5,418.5 L502.0,418.4 L502.5,418.3 L503.0,418.2 L503.5,418.2 L504.0,418.1 L504.5,418.0 L505.0,417.9 L505.5,417.1 L506.0,416.3 L506.5,416.0 L507.0,415.8 L507.5,415.7 L508.0,415.6 L508.5,415.5 L509.0,415.3 L509.5,415.2 L510.0,415.0 L510.5,414.9 L511.0,414.7 L511.5,414.5 L512.0,414.3 L512.5,414.1 L513.0,413.9 L513.5,413.7 L514.0,413.5 L514.5,413.2 L515.0,413.0 L515.5,412.7 L516.0,412.5 L516.5,412.2 L517.0,411.9 L517.5,411.6 L518.0,411.2 L518.5,410.9 L519.0,410.6 L519.5,410.2 L520.0,409.8 L520.5,409.4 L521.0,409.0 L521.5,408.6 L522.0,408.1 L522.5,407.7 L523.0,407.2 L523.5,406.7 L524.0,406.2 L524.5,405.6 L525.0,405.1 L525.5,404.5 L526.0,403.9 L526.5,403.3 L527.0,402.7 L527.5,402.1 L528.0,401.4 L528.5,400.8 L529.0,400.1 L529.5,399.4 L530.0,398.7 L530.5,398.1 L531.0,397.4 L531.5,396.7 L532.0,396.0 L532.5,395.3 L533.0,394.6 L533.5,393.9 L534.0,393.2 L534.5,392.5 L535.0,391.9 L535.5,391.2 L536.0,390.6 L536.5,389.9 L537.0,389.3 L537.5,388.7 L538.0,388.0 L538.5,387.4 L539.0,386.8 L539.5,386.2 L540.0,385.6 L540.5,385.0 L541.0,384.4 L541.5,383.8 L542.0,383.2 L542.5,382.6 L543.0,382.0 L543.5,381.4 L544.0,380.8 L544.5,380.2 L545.0,379.5 L545.5,378.9 L546.0,378.3 L546.5,377.7 L547.0,377.1 L547.5,376.4 L548.0,375.8 L548.5,375.2 L549.0,374.5 L549.5,373.8 L550.0,373.2 L550.5,372.5 L551.0,371.8 L551.5,371.1 L552.0,370.4 L552.5,369.7 L553.0,368.9 L553.5,368.2 L554.0,367.5 L554.5,366.7 L555.0,366.0 L555.5,365.3 L556.0,364.5 L556.5,363.8 L557.0,363.1 L557.5,362.4 L558.0,361.7 L558.5,361.0 L559.0,360.4 L559.5,359.7 L560.0,359.1 L560.5,358.4 L561.0,357.8 L561.5,357.2 L562.0,356.7 L562.5,356.1 L563.0,355.5 L563.5,355.0 L564.0,354.5 L564.5,354.0 L565.0,353.5 L565.5,353.0 L566.0,352.6 L566.5,352.1 L567.0,351.7 L567.5,351.3 L568.0,350.9 L568.5,350.6 L569.0,350.2 L569.5,349.9 L570.0,349.5 L570.5,349.2 L571.0,348.9 L571.5,348.6 L572.0,348.4 L572.5,348.1 L573.0,347.9 L573.5,347.7 L574.0,347.5 L574.5,347.3 L575.0,347.1 L575.5,347.0 L576.0,346.9 L576.5,346.7 L577.0,346.6 L577.5,346.6 L578.0,346.5 L578.5,346.5 L579.0,346.4 L579.5,346.4 L580.0,346.5 L580.5,346.5 L581.0,346.6 L581.5,346.7 L582.0,346.8 L582.5,347.0 L583.0,347.1 L583.5,347.3 L584.0,347.6 L584.5,347.8 L585.0,348.1 L585.5,348.4 L586.0,348.8 L586.5,349.1 L587.0,349.6 L587.5,350.0 L588.0,350.5 L588.5,351.0 L589.0,351.5 L589.5,352.1 L590.0,352.7 L590.5,353.3 L591.0,354.0 L591.5,354.7 L592.0,355.4 L592.5,356.1 L593.0,356.9 L593.5,357.7 L594.0,358.5 L594.5,359.3 L595.0,360.2 L595.5,361.0 L596.0,361.9 L596.5,362.8 L597.0,363.8 L597.5,364.7 L598.0,365.6 L598.5,366.6 L599.0,367.6 L599.5,368.6 L600.0,369.5 L600.5,370.5 L601.0,371.5 L601.5,372.6 L602.0,373.6 L602.5,374.6 L603.0,375.6 L603.5,376.6 L604.0,377.6 L604.5,378.7 L605.0,379.7 L605.5,380.7 L606.0,381.7 L606.5,382.7 L607.0,383.7 L607.5,384.7 L608.0,385.6 L608.5,386.6 L609.0,387.6 L609.5,388.5 L610.0,389.4 L610.5,390.3 L611.0,391.2 L611.5,392.1 L612.0,392.9 L612.5,393.8 L613.0,394.6 L613.5,395.4 L614.0,396.2 L614.5,397.0 L615.0,397.8 L615.5,398.5 L616.0,399.3 L616.5,400.1 L617.0,400.8 L617.5,401.6 L618.0,402.3 L618.5,403.1 L619.0,403.9 L619.5,404.6 L620.0,405.4 L620.5,406.2 L621.0,407.0 L621.5,407.8 L622.0,408.6 L622.5,409.4 L623.0,410.2 L623.5,411.0 L624.0,411.8 L624.5,412.6 L625.0,413.4 L625.5,414.2 L626.0,415.0 L626.5,415.8 L627.0,416.7 L627.5,417.5 L628.0,418.3 L628.5,419.1 L629.0,420.0 L629.5,420.8 L630.0,421.7 L630.5,422.5 L631.0,423.4 L631.5,424.2 L632.0,425.1 L632.5,425.9 L633.0,426.8 L633.5,427.6 L634.0,428.5 L634.5,429.3 L635.0,430.2 L635.5,431.1 L636.0,431.9 L636.5,432.8 L637.0,433.6 L637.5,434.5 L638.0,435.3 L638.5,436.2 L639.0,437.0 L639.5,437.9 L640.0,438.7 L640.5,439.6 L641.0,440.4 L641.5,441.2 L642.0,442.0 L642.5,442.9 L643.0,443.7 L643.5,444.5 L644.0,445.2 L644.5,446.0 L645.0,446.8 L645.5,447.6 L646.0,448.3 L646.5,449.1 L647.0,449.8 L647.5,450.5 L648.0,451.3 L648.5,452.0 L649.0,452.6 L649.5,453.3 L650.0,454.0 L650.5,454.6 L651.0,455.3 L651.5,455.9 L652.0,456.5 L652.5,457.1 L653.0,457.7 L653.5,458.2 L654.0,458.8 L654.5,459.3 L655.0,459.8 L655.5,460.3 L656.0,460.8 L656.5,461.3 L657.0,461.7 L657.5,462.2 L658.0,462.6 L658.5,463.1 L659.0,463.5 L659.5,463.9 L660.0,464.3 L660.5,464.8 L661.0,465.2 L661.5,465.6 L662.0,466.0 L662.5,466.4 L663.0,466.8 L663.5,467.2 L664.0,467.7 L664.5,468.1 L665.0,468.5 L665.5,468.9 L666.0,469.4 L666.5,469.8 L667.0,470.3 L667.5,470.7 L668.0,471.2 L668.5,471.7 L669.0,472.2 L669.5,472.7 L670.0,473.2 L670.5,473.8 L671.0,474.3 L671.0,479.2 L670.5,478.7 L670.0,478.3 L669.5,477.8 L669.0,477.4 L668.5,476.9 L668.0,476.5 L667.5,476.1 L667.0,475.7 L666.5,475.3 L666.0,474.9 L665.5,474.6 L665.0,474.2 L664.5,473.8 L664.0,473.5 L663.5,473.1 L663.0,472.7 L662.5,472.4 L662.0,472.0 L661.5,471.7 L661.0,471.3 L660.5,471.0 L660.0,470.6 L659.5,470.3 L659.0,469.9 L658.5,469.5 L658.0,469.1 L657.5,468.8 L657.0,468.4 L656.5,468.0 L656.0,467.6 L655.5,467.1 L655.0,466.7 L654.5,466.3 L654.0,465.8 L653.5,465.3 L653.0,464.9 L652.5,464.4 L652.0,463.9 L651.5,463.3 L651.0,462.8 L650.5,462.2 L650.0,461.7 L649.5,461.1 L649.0,460.5 L648.5,459.9 L648.0,459.3 L647.5,458.7 L647.0,458.1 L646.5,457.5 L646.0,456.8 L645.5,456.2 L645.0,455.5 L644.5,454.8 L644.0,454.2 L643.5,453.5 L643.0,452.8 L642.5,452.1 L642.0,451.4 L641.5,450.7 L641.0,450.0 L640.5,449.3 L640.0,448.5 L639.5,447.8 L639.0,447.1 L638.5,446.4 L638.0,445.6 L637.5,444.9 L637.0,444.2 L636.5,443.4 L636.0,442.7 L635.5,441.9 L635.0,441.2 L634.5,440.5 L634.0,439.7 L633.5,439.0 L633.0,438.2 L632.5,437.5 L632.0,436.8 L631.5,436.0 L631.0,435.3 L630.5,434.6 L630.0,433.8 L629.5,433.1 L629.0,432.4 L628.5,431.7 L628.0,431.0 L627.5,430.2 L627.0,429.5 L626.5,428.8 L626.0,428.1 L625.5,427.4 L625.0,426.7 L624.5,426.0 L624.0,425.3 L623.5,424.6 L623.0,423.9 L622.5,423.2 L622.0,422.6 L621.5,421.9 L621.0,421.2 L620.5,420.5 L620.0,419.9 L619.5,419.2 L619.0,418.5 L618.5,417.9 L618.0,417.2 L617.5,416.6 L617.0,415.9 L616.5,415.3 L616.0,414.6 L615.5,413.9 L615.0,413.3 L614.5,412.6 L614.0,411.9 L613.5,411.2 L613.0,410.5 L612.5,409.8 L612.0,409.1 L611.5,408.4 L611.0,407.6 L610.5,406.9 L610.0,406.1 L609.5,405.3 L609.0,404.5 L608.5,403.7 L608.0,402.8 L607.5,402.0 L607.0,401.1 L606.5,400.3 L606.0,399.4 L605.5,398.6 L605.0,397.7 L604.5,396.8 L604.0,395.9 L603.5,395.1 L603.0,394.2 L602.5,393.3 L602.0,392.4 L601.5,391.6 L601.0,390.7 L600.5,389.8 L600.0,389.0 L599.5,388.1 L599.0,387.3 L598.5,386.4 L598.0,385.6 L597.5,384.8 L597.0,384.0 L596.5,383.2 L596.0,382.4 L595.5,381.6 L595.0,380.9 L594.5,380.2 L594.0,379.4 L593.5,378.8 L593.0,378.1 L592.5,377.4 L592.0,376.8 L591.5,376.2 L591.0,375.6 L590.5,375.0 L590.0,374.5 L589.5,373.9 L589.0,373.4 L588.5,373.0 L588.0,372.5 L587.5,372.1 L587.0,371.7 L586.5,371.4 L586.0,371.1 L585.5,370.8 L585.0,370.5 L584.5,370.3 L584.0,370.0 L583.5,369.8 L583.0,369.7 L582.5,369.5 L582.0,369.4 L581.5,369.3 L581.0,369.2 L580.5,369.1 L580.0,369.1 L579.5,369.1 L579.0,369.1 L578.5,369.1 L578.0,369.1 L577.5,369.2 L577.0,369.2 L576.5,369.3 L576.0,369.4 L575.5,369.5 L575.0,369.7 L574.5,369.8 L574.0,370.0 L573.5,370.1 L573.0,370.3 L572.5,370.5 L572.0,370.7 L571.5,371.0 L571.0,371.2 L570.5,371.5 L570.0,371.7 L569.5,372.0 L569.0,372.3 L568.5,372.6 L568.0,372.9 L567.5,373.3 L567.0,373.6 L566.5,374.0 L566.0,374.4 L565.5,374.7 L565.0,375.1 L564.5,375.6 L564.0,376.0 L563.5,376.4 L563.0,376.9 L562.5,377.4 L562.0,377.9 L561.5,378.4 L561.0,378.9 L560.5,379.4 L560.0,379.9 L559.5,380.5 L559.0,381.0 L558.5,381.6 L558.0,382.2 L557.5,382.8 L557.0,383.4 L556.5,384.0 L556.0,384.7 L555.5,385.3 L555.0,385.9 L554.5,386.5 L554.0,387.2 L553.5,387.8 L553.0,388.4 L552.5,389.1 L552.0,389.7 L551.5,390.3 L551.0,390.9 L550.5,391.5 L550.0,392.1 L549.5,392.7 L549.0,393.2 L548.5,393.8 L548.0,394.4 L547.5,394.9 L547.0,395.4 L546.5,396.0 L546.0,396.5 L545.5,397.0 L545.0,397.6 L544.5,398.1 L544.0,398.6 L543.5,399.1 L543.0,399.7 L542.5,400.2 L542.0,400.7 L541.5,401.2 L541.0,401.7 L540.5,402.2 L540.0,402.8 L539.5,403.3 L539.0,403.8 L538.5,404.3 L538.0,404.9 L537.5,405.4 L537.0,406.0 L536.5,406.5 L536.0,407.1 L535.5,407.6 L535.0,408.2 L534.5,408.8 L534.0,409.4 L533.5,409.9 L533.0,410.5 L532.5,411.1 L532.0,411.7 L531.5,412.3 L531.0,412.9 L530.5,413.5 L530.0,414.1 L529.5,414.7 L529.0,415.3 L528.5,415.8 L528.0,416.4 L527.5,417.0 L527.0,417.5 L526.5,418.0 L526.0,418.6 L525.5,419.1 L525.0,419.6 L524.5,420.0 L524.0,420.5 L523.5,420.9 L523.0,421.4 L522.5,421.8 L522.0,422.2 L521.5,422.6 L521.0,422.9 L520.5,423.3 L520.0,423.6 L519.5,424.0 L519.0,424.3 L518.5,424.6 L518.0,424.9 L517.5,425.2 L517.0,425.4 L516.5,425.7 L516.0,425.9 L515.5,426.2 L515.0,426.4 L514.5,426.6 L514.0,426.8 L513.5,427.0 L513.0,427.2 L512.5,427.4 L512.0,427.5 L511.5,427.7 L511.0,427.8 L510.5,428.0 L510.0,428.1 L509.5,428.3 L509.0,428.4 L508.5,428.5 L508.0,428.6 L507.5,428.7 L507.0,428.8 L506.5,428.9 L506.0,429.3 L505.5,429.9 L505.0,430.6 L504.5,430.7 L504.0,430.8 L503.5,430.8 L503.0,430.9 L502.5,431.0 L502.0,431.0 L501.5,431.1 L501.0,431.1 L500.5,431.2 L500.0,431.2 L499.5,431.2 L499.0,431.3 L498.5,431.3 L498.0,431.3 L497.5,431.3 L497.0,431.3 L496.5,431.3 L496.0,431.3 L495.5,431.3 L495.0,431.2 L494.5,431.2 L494.0,431.2 L493.5,431.1 L493.0,431.1 L492.5,431.0 L492.0,430.9 L491.5,430.9 L491.0,430.8 L490.5,430.7 L490.0,430.6 L489.5,430.5 L489.0,430.4 L488.5,430.2 L488.0,430.1 L487.5,430.0 L487.0,429.8 L486.5,429.6 L486.0,429.5 L485.5,429.3 L485.0,429.1 L484.5,428.9 L484.0,428.7 L483.5,428.5 L483.0,428.3 L482.5,428.0 L482.0,427.8 L481.5,427.6 L481.0,427.3 L480.5,427.0 L480.0,426.7 L479.5,426.4 L479.0,426.1 L478.5,425.8 L478.0,425.5 L477.5,425.2 L477.0,424.8 L476.5,424.5 L476.0,424.1 L475.5,423.7 L475.0,423.3 L474.5,423.0 L474.0,422.5 L473.5,422.1 L473.0,421.7 L472.5,421.3 L472.0,420.8 L471.5,420.4 L471.0,419.9 L470.5,419.4 L470.0,419.0 L469.5,418.5 L469.0,418.0 L468.5,417.5 L468.0,416.9 L467.5,416.4 L467.0,415.9 L466.5,415.3 L466.0,414.8 L465.5,414.2 L465.0,413.7 L464.5,413.1 L464.0,412.6 L463.5,412.1 L463.0,411.6 L462.5,411.1 L462.0,410.7 L461.5,410.3 L461.0,410.0 L460.5,409.6 L460.0,409.3 L459.5,409.1 L459.0,408.9 L458.5,408.7 L458.0,408.5 L457.5,408.4 L457.0,408.4 L456.5,408.4 L456.0,408.4 L455.5,408.5 L455.0,408.6 L454.5,408.8 L454.0,409.0 L453.5,409.3 L453.0,409.6 L452.5,410.0 L452.0,410.4 L451.5,410.9 L451.0,411.4 L450.5,412.0 L450.0,412.6 L449.5,413.3 L449.0,414.0 L448.5,414.7 L448.0,415.5 L447.5,416.3 L447.0,417.2 L446.5,418.1 L446.0,419.0 L445.5,419.9 L445.0,420.9 L444.5,421.9 L444.0,422.9 L443.5,423.9 L443.0,425.0 L442.5,426.1 L442.0,427.2 L441.5,428.3 L441.0,429.4 L440.5,430.5 L440.0,431.6 L439.5,432.7 L439.0,433.9 L438.5,435.0 L438.0,436.2 L437.5,437.3 L437.0,438.5 L436.5,439.6 L436.0,440.8 L435.5,441.9 L435.0,443.0 L434.5,444.2 L434.0,445.3 L433.5,446.4 L433.0,447.5 L432.5,448.6 L432.0,449.7 L431.5,450.8 L431.0,451.8 L430.5,452.9 L430.0,453.9 L429.5,454.9 L429.0,455.9 L428.5,456.8 L428.0,457.8 L427.5,458.7 L427.0,459.6 L426.5,460.5 L426.0,461.4 L425.5,462.3 L425.0,463.1 L424.5,464.0 L424.0,464.8 L423.5,465.6 L423.0,466.4 L422.5,467.2 L422.0,468.0 L421.5,468.8 L421.0,469.5 L420.5,470.3 L420.0,471.0 L419.5,471.8 L419.0,472.5 L418.5,473.3 L418.0,474.0 L417.5,474.7 L417.0,475.5 L416.5,476.2 L416.0,476.9 L415.5,477.7 L415.0,478.4 L414.5,479.1 L414.0,479.8 L413.5,480.6 L413.0,481.3 L412.5,482.1 L412.0,482.8 L411.5,483.5 L411.0,484.3 L410.5,485.1 L410.0,485.8 L409.5,486.6 L409.0,487.4 L408.5,488.2 Z" fill="rgba(172,201,135,0.46)"/>
<path d="M408.5,484.8 L409.0,483.9 L409.5,482.9 L410.0,482.0 L410.5,481.1 L411.0,480.2 L411.5,479.4 L412.0,478.5 L412.5,477.6 L413.0,476.8 L413.5,475.9 L414.0,475.1 L414.5,474.2 L415.0,473.4 L415.5,472.5 L416.0,471.7 L416.5,470.8 L417.0,470.0 L417.5,469.1 L418.0,468.3 L418.5,467.4 L419.0,466.6 L419.5,465.7 L420.0,464.9 L420.5,464.0 L421.0,463.1 L421.5,462.2 L422.0,461.3 L422.5,460.4 L423.0,459.5 L423.5,458.5 L424.0,457.6 L424.5,456.6 L425.0,455.6 L425.5,454.7 L426.0,453.7 L426.5,452.6 L427.0,451.6 L427.5,450.5 L428.0,449.4 L428.5,448.3 L429.0,447.2 L429.5,446.1 L430.0,444.9 L430.5,443.7 L431.0,442.5 L431.5,441.3 L432.0,440.1 L432.5,438.8 L433.0,437.5 L433.5,436.2 L434.0,435.0 L434.5,433.7 L435.0,432.3 L435.5,431.0 L436.0,429.7 L436.5,428.4 L437.0,427.0 L437.5,425.7 L438.0,424.4 L438.5,423.0 L439.0,421.7 L439.5,420.4 L440.0,419.1 L440.5,417.8 L441.0,416.5 L441.5,415.2 L442.0,413.9 L442.5,412.6 L443.0,411.4 L443.5,410.2 L444.0,409.0 L444.5,407.8 L445.0,406.6 L445.5,405.5 L446.0,404.4 L446.5,403.4 L447.0,402.3 L447.5,401.3 L448.0,400.4 L448.5,399.5 L449.0,398.6 L449.5,397.8 L450.0,397.0 L450.5,396.3 L451.0,395.6 L451.5,395.0 L452.0,394.5 L452.5,394.0 L453.0,393.5 L453.5,393.1 L454.0,392.8 L454.5,392.6 L455.0,392.4 L455.5,392.2 L456.0,392.1 L456.5,392.1 L457.0,392.1 L457.5,392.2 L458.0,392.3 L458.5,392.4 L459.0,392.7 L459.5,392.9 L460.0,393.2 L460.5,393.5 L461.0,393.9 L461.5,394.3 L462.0,394.8 L462.5,395.3 L463.0,395.8 L463.5,396.4 L464.0,397.0 L464.5,397.6 L465.0,398.2 L465.5,398.9 L466.0,399.5 L466.5,400.2 L467.0,400.8 L467.5,401.4 L468.0,402.0 L468.5,402.6 L469.0,403.2 L469.5,403.8 L470.0,404.4 L470.5,404.9 L471.0,405.5 L471.5,406.0 L472.0,406.5 L472.5,407.1 L473.0,407.6 L473.5,408.1 L474.0,408.5 L474.5,409.0 L475.0,409.5 L475.5,409.9 L476.0,410.4 L476.5,410.8 L477.0,411.2 L477.5,411.6 L478.0,412.0 L478.5,412.4 L479.0,412.7 L479.5,413.1 L480.0,413.4 L480.5,413.7 L481.0,414.1 L481.5,414.4 L482.0,414.6 L482.5,414.9 L483.0,415.2 L483.5,415.5 L484.0,415.7 L484.5,415.9 L485.0,416.2 L485.5,416.4 L486.0,416.6 L486.5,416.8 L487.0,417.0 L487.5,417.1 L488.0,417.3 L488.5,417.5 L489.0,417.6 L489.5,417.7 L490.0,417.9 L490.5,418.0 L491.0,418.1 L491.5,418.2 L492.0,418.3 L492.5,418.4 L493.0,418.4 L493.5,418.5 L494.0,418.5 L494.5,418.6 L495.0,418.6 L495.5,418.7 L496.0,418.7 L496.5,418.7 L497.0,418.7 L497.5,418.7 L498.0,418.7 L498.5,418.7 L499.0,418.7 L499.5,418.6 L500.0,418.6 L500.5,418.6 L501.0,418.5 L501.5,418.5 L502.0,418.4 L502.5,418.3 L503.0,418.2 L503.5,418.2 L504.0,418.1 L504.5,418.0 L505.0,417.9 L505.5,417.1 L506.0,416.3 L506.5,416.0 L507.0,415.8 L507.5,415.7 L508.0,415.6 L508.5,415.5 L509.0,415.3 L509.5,415.2 L510.0,415.0 L510.5,414.9 L511.0,414.7 L511.5,414.5 L512.0,414.3 L512.5,414.1 L513.0,413.9 L513.5,413.7 L514.0,413.5 L514.5,413.2 L515.0,413.0 L515.5,412.7 L516.0,412.5 L516.5,412.2 L517.0,411.9 L517.5,411.6 L518.0,411.2 L518.5,410.9 L519.0,410.6 L519.5,410.2 L520.0,409.8 L520.5,409.4 L521.0,409.0 L521.5,408.6 L522.0,408.1 L522.5,407.7 L523.0,407.2 L523.5,406.7 L524.0,406.2 L524.5,405.6 L525.0,405.1 L525.5,404.5 L526.0,403.9 L526.5,403.3 L527.0,402.7 L527.5,402.1 L528.0,401.4 L528.5,400.8 L529.0,400.1 L529.5,399.4 L530.0,398.7 L530.5,398.1 L531.0,397.4 L531.5,396.7 L532.0,396.0 L532.5,395.3 L533.0,394.6 L533.5,393.9 L534.0,393.2 L534.5,392.5 L535.0,391.9 L535.5,391.2 L536.0,390.6 L536.5,389.9 L537.0,389.3 L537.5,388.7 L538.0,388.0 L538.5,387.4 L539.0,386.8 L539.5,386.2 L540.0,385.6 L540.5,385.0 L541.0,384.4 L541.5,383.8 L542.0,383.2 L542.5,382.6 L543.0,382.0 L543.5,381.4 L544.0,380.8 L544.5,380.2 L545.0,379.5 L545.5,378.9 L546.0,378.3 L546.5,377.7 L547.0,377.1 L547.5,376.4 L548.0,375.8 L548.5,375.2 L549.0,374.5 L549.5,373.8 L550.0,373.2 L550.5,372.5 L551.0,371.8 L551.5,371.1 L552.0,370.4 L552.5,369.7 L553.0,368.9 L553.5,368.2 L554.0,367.5 L554.5,366.7 L555.0,366.0 L555.5,365.3 L556.0,364.5 L556.5,363.8 L557.0,363.1 L557.5,362.4 L558.0,361.7 L558.5,361.0 L559.0,360.4 L559.5,359.7 L560.0,359.1 L560.5,358.4 L561.0,357.8 L561.5,357.2 L562.0,356.7 L562.5,356.1 L563.0,355.5 L563.5,355.0 L564.0,354.5 L564.5,354.0 L565.0,353.5 L565.5,353.0 L566.0,352.6 L566.5,352.1 L567.0,351.7 L567.5,351.3 L568.0,350.9 L568.5,350.6 L569.0,350.2 L569.5,349.9 L570.0,349.5 L570.5,349.2 L571.0,348.9 L571.5,348.6 L572.0,348.4 L572.5,348.1 L573.0,347.9 L573.5,347.7 L574.0,347.5 L574.5,347.3 L575.0,347.1 L575.5,347.0 L576.0,346.9 L576.5,346.7 L577.0,346.6 L577.5,346.6 L578.0,346.5 L578.5,346.5 L579.0,346.4 L579.5,346.4 L580.0,346.5 L580.5,346.5 L581.0,346.6 L581.5,346.7 L582.0,346.8 L582.5,347.0 L583.0,347.1 L583.5,347.3 L584.0,347.6 L584.5,347.8 L585.0,348.1 L585.5,348.4 L586.0,348.8 L586.5,349.1 L587.0,349.6 L587.5,350.0 L588.0,350.5 L588.5,351.0 L589.0,351.5 L589.5,352.1 L590.0,352.7 L590.5,353.3 L591.0,354.0 L591.5,354.7 L592.0,355.4 L592.5,356.1 L593.0,356.9 L593.5,357.7 L594.0,358.5 L594.5,359.3 L595.0,360.2 L595.5,361.0 L596.0,361.9 L596.5,362.8 L597.0,363.8 L597.5,364.7 L598.0,365.6 L598.5,366.6 L599.0,367.6 L599.5,368.6 L600.0,369.5 L600.5,370.5 L601.0,371.5 L601.5,372.6 L602.0,373.6 L602.5,374.6 L603.0,375.6 L603.5,376.6 L604.0,377.6 L604.5,378.7 L605.0,379.7 L605.5,380.7 L606.0,381.7 L606.5,382.7 L607.0,383.7 L607.5,384.7 L608.0,385.6 L608.5,386.6 L609.0,387.6 L609.5,388.5 L610.0,389.4 L610.5,390.3 L611.0,391.2 L611.5,392.1 L612.0,392.9 L612.5,393.8 L613.0,394.6 L613.5,395.4 L614.0,396.2 L614.5,397.0 L615.0,397.8 L615.5,398.5 L616.0,399.3 L616.5,400.1 L617.0,400.8 L617.5,401.6 L618.0,402.3 L618.5,403.1 L619.0,403.9 L619.5,404.6 L620.0,405.4 L620.5,406.2 L621.0,407.0 L621.5,407.8 L622.0,408.6 L622.5,409.4 L623.0,410.2 L623.5,411.0 L624.0,411.8 L624.5,412.6 L625.0,413.4 L625.5,414.2 L626.0,415.0 L626.5,415.8 L627.0,416.7 L627.5,417.5 L628.0,418.3 L628.5,419.1 L629.0,420.0 L629.5,420.8 L630.0,421.7 L630.5,422.5 L631.0,423.4 L631.5,424.2 L632.0,425.1 L632.5,425.9 L633.0,426.8 L633.5,427.6 L634.0,428.5 L634.5,429.3 L635.0,430.2 L635.5,431.1 L636.0,431.9 L636.5,432.8 L637.0,433.6 L637.5,434.5 L638.0,435.3 L638.5,436.2 L639.0,437.0 L639.5,437.9 L640.0,438.7 L640.5,439.6 L641.0,440.4 L641.5,441.2 L642.0,442.0 L642.5,442.9 L643.0,443.7 L643.5,444.5 L644.0,445.2 L644.5,446.0 L645.0,446.8 L645.5,447.6 L646.0,448.3 L646.5,449.1 L647.0,449.8 L647.5,450.5 L648.0,451.3 L648.5,452.0 L649.0,452.6 L649.5,453.3 L650.0,454.0 L650.5,454.6 L651.0,455.3 L651.5,455.9 L652.0,456.5 L652.5,457.1 L653.0,457.7 L653.5,458.2 L654.0,458.8 L654.5,459.3 L655.0,459.8 L655.5,460.3 L656.0,460.8 L656.5,461.3 L657.0,461.7 L657.5,462.2 L658.0,462.6 L658.5,463.1 L659.0,463.5 L659.5,463.9 L660.0,464.3 L660.5,464.8 L661.0,465.2 L661.5,465.6 L662.0,466.0 L662.5,466.4 L663.0,466.8 L663.5,467.2 L664.0,467.7 L664.5,468.1 L665.0,468.5 L665.5,468.9 L666.0,469.4 L666.5,469.8 L667.0,470.3 L667.5,470.7 L668.0,471.2 L668.5,471.7 L669.0,472.2 L669.5,472.7 L670.0,473.2 L670.5,473.8 L671.0,474.3" fill="none" stroke="#050505" stroke-width="1.05" stroke-linejoin="round"/>
<path d="M408.5,488.2 L409.0,487.4 L409.5,486.6 L410.0,485.8 L410.5,485.1 L411.0,484.3 L411.5,483.5 L412.0,482.8 L412.5,482.1 L413.0,481.3 L413.5,480.6 L414.0,479.8 L414.5,479.1 L415.0,478.4 L415.5,477.7 L416.0,476.9 L416.5,476.2 L417.0,475.5 L417.5,474.7 L418.0,474.0 L418.5,473.3 L419.0,472.5 L419.5,471.8 L420.0,471.0 L420.5,470.3 L421.0,469.5 L421.5,468.8 L422.0,468.0 L422.5,467.2 L423.0,466.4 L423.5,465.6 L424.0,464.8 L424.5,464.0 L425.0,463.1 L425.5,462.3 L426.0,461.4 L426.5,460.5 L427.0,459.6 L427.5,458.7 L428.0,457.8 L428.5,456.8 L429.0,455.9 L429.5,454.9 L430.0,453.9 L430.5,452.9 L431.0,451.8 L431.5,450.8 L432.0,449.7 L432.5,448.6 L433.0,447.5 L433.5,446.4 L434.0,445.3 L434.5,444.2 L435.0,443.0 L435.5,441.9 L436.0,440.8 L436.5,439.6 L437.0,438.5 L437.5,437.3 L438.0,436.2 L438.5,435.0 L439.0,433.9 L439.5,432.7 L440.0,431.6 L440.5,430.5 L441.0,429.4 L441.5,428.3 L442.0,427.2 L442.5,426.1 L443.0,425.0 L443.5,423.9 L444.0,422.9 L444.5,421.9 L445.0,420.9 L445.5,419.9 L446.0,419.0 L446.5,418.1 L447.0,417.2 L447.5,416.3 L448.0,415.5 L448.5,414.7 L449.0,414.0 L449.5,413.3 L450.0,412.6 L450.5,412.0 L451.0,411.4 L451.5,410.9 L452.0,410.4 L452.5,410.0 L453.0,409.6 L453.5,409.3 L454.0,409.0 L454.5,408.8 L455.0,408.6 L455.5,408.5 L456.0,408.4 L456.5,408.4 L457.0,408.4 L457.5,408.4 L458.0,408.5 L458.5,408.7 L459.0,408.9 L459.5,409.1 L460.0,409.3 L460.5,409.6 L461.0,410.0 L461.5,410.3 L462.0,410.7 L462.5,411.1 L463.0,411.6 L463.5,412.1 L464.0,412.6 L464.5,413.1 L465.0,413.7 L465.5,414.2 L466.0,414.8 L466.5,415.3 L467.0,415.9 L467.5,416.4 L468.0,416.9 L468.5,417.5 L469.0,418.0 L469.5,418.5 L470.0,419.0 L470.5,419.4 L471.0,419.9 L471.5,420.4 L472.0,420.8 L472.5,421.3 L473.0,421.7 L473.5,422.1 L474.0,422.5 L474.5,423.0 L475.0,423.3 L475.5,423.7 L476.0,424.1 L476.5,424.5 L477.0,424.8 L477.5,425.2 L478.0,425.5 L478.5,425.8 L479.0,426.1 L479.5,426.4 L480.0,426.7 L480.5,427.0 L481.0,427.3 L481.5,427.6 L482.0,427.8 L482.5,428.0 L483.0,428.3 L483.5,428.5 L484.0,428.7 L484.5,428.9 L485.0,429.1 L485.5,429.3 L486.0,429.5 L486.5,429.6 L487.0,429.8 L487.5,430.0 L488.0,430.1 L488.5,430.2 L489.0,430.4 L489.5,430.5 L490.0,430.6 L490.5,430.7 L491.0,430.8 L491.5,430.9 L492.0,430.9 L492.5,431.0 L493.0,431.1 L493.5,431.1 L494.0,431.2 L494.5,431.2 L495.0,431.2 L495.5,431.3 L496.0,431.3 L496.5,431.3 L497.0,431.3 L497.5,431.3 L498.0,431.3 L498.5,431.3 L499.0,431.3 L499.5,431.2 L500.0,431.2 L500.5,431.2 L501.0,431.1 L501.5,431.1 L502.0,431.0 L502.5,431.0 L503.0,430.9 L503.5,430.8 L504.0,430.8 L504.5,430.7 L505.0,430.6 L505.5,429.9 L506.0,429.3 L506.5,428.9 L507.0,428.8 L507.5,428.7 L508.0,428.6 L508.5,428.5 L509.0,428.4 L509.5,428.3 L510.0,428.1 L510.5,428.0 L511.0,427.8 L511.5,427.7 L512.0,427.5 L512.5,427.4 L513.0,427.2 L513.5,427.0 L514.0,426.8 L514.5,426.6 L515.0,426.4 L515.5,426.2 L516.0,425.9 L516.5,425.7 L517.0,425.4 L517.5,425.2 L518.0,424.9 L518.5,424.6 L519.0,424.3 L519.5,424.0 L520.0,423.6 L520.5,423.3 L521.0,422.9 L521.5,422.6 L522.0,422.2 L522.5,421.8 L523.0,421.4 L523.5,420.9 L524.0,420.5 L524.5,420.0 L525.0,419.6 L525.5,419.1 L526.0,418.6 L526.5,418.0 L527.0,417.5 L527.5,417.0 L528.0,416.4 L528.5,415.8 L529.0,415.3 L529.5,414.7 L530.0,414.1 L530.5,413.5 L531.0,412.9 L531.5,412.3 L532.0,411.7 L532.5,411.1 L533.0,410.5 L533.5,409.9 L534.0,409.4 L534.5,408.8 L535.0,408.2 L535.5,407.6 L536.0,407.1 L536.5,406.5 L537.0,406.0 L537.5,405.4 L538.0,404.9 L538.5,404.3 L539.0,403.8 L539.5,403.3 L540.0,402.8 L540.5,402.2 L541.0,401.7 L541.5,401.2 L542.0,400.7 L542.5,400.2 L543.0,399.7 L543.5,399.1 L544.0,398.6 L544.5,398.1 L545.0,397.6 L545.5,397.0 L546.0,396.5 L546.5,396.0 L547.0,395.4 L547.5,394.9 L548.0,394.4 L548.5,393.8 L549.0,393.2 L549.5,392.7 L550.0,392.1 L550.5,391.5 L551.0,390.9 L551.5,390.3 L552.0,389.7 L552.5,389.1 L553.0,388.4 L553.5,387.8 L554.0,387.2 L554.5,386.5 L555.0,385.9 L555.5,385.3 L556.0,384.7 L556.5,384.0 L557.0,383.4 L557.5,382.8 L558.0,382.2 L558.5,381.6 L559.0,381.0 L559.5,380.5 L560.0,379.9 L560.5,379.4 L561.0,378.9 L561.5,378.4 L562.0,377.9 L562.5,377.4 L563.0,376.9 L563.5,376.4 L564.0,376.0 L564.5,375.6 L565.0,375.1 L565.5,374.7 L566.0,374.4 L566.5,374.0 L567.0,373.6 L567.5,373.3 L568.0,372.9 L568.5,372.6 L569.0,372.3 L569.5,372.0 L570.0,371.7 L570.5,371.5 L571.0,371.2 L571.5,371.0 L572.0,370.7 L572.5,370.5 L573.0,370.3 L573.5,370.1 L574.0,370.0 L574.5,369.8 L575.0,369.7 L575.5,369.5 L576.0,369.4 L576.5,369.3 L577.0,369.2 L577.5,369.2 L578.0,369.1 L578.5,369.1 L579.0,369.1 L579.5,369.1 L580.0,369.1 L580.5,369.1 L581.0,369.2 L581.5,369.3 L582.0,369.4 L582.5,369.5 L583.0,369.7 L583.5,369.8 L584.0,370.0 L584.5,370.3 L585.0,370.5 L585.5,370.8 L586.0,371.1 L586.5,371.4 L587.0,371.7 L587.5,372.1 L588.0,372.5 L588.5,373.0 L589.0,373.4 L589.5,373.9 L590.0,374.5 L590.5,375.0 L591.0,375.6 L591.5,376.2 L592.0,376.8 L592.5,377.4 L593.0,378.1 L593.5,378.8 L594.0,379.4 L594.5,380.2 L595.0,380.9 L595.5,381.6 L596.0,382.4 L596.5,383.2 L597.0,384.0 L597.5,384.8 L598.0,385.6 L598.5,386.4 L599.0,387.3 L599.5,388.1 L600.0,389.0 L600.5,389.8 L601.0,390.7 L601.5,391.6 L602.0,392.4 L602.5,393.3 L603.0,394.2 L603.5,395.1 L604.0,395.9 L604.5,396.8 L605.0,397.7 L605.5,398.6 L606.0,399.4 L606.5,400.3 L607.0,401.1 L607.5,402.0 L608.0,402.8 L608.5,403.7 L609.0,404.5 L609.5,405.3 L610.0,406.1 L610.5,406.9 L611.0,407.6 L611.5,408.4 L612.0,409.1 L612.5,409.8 L613.0,410.5 L613.5,411.2 L614.0,411.9 L614.5,412.6 L615.0,413.3 L615.5,413.9 L616.0,414.6 L616.5,415.3 L617.0,415.9 L617.5,416.6 L618.0,417.2 L618.5,417.9 L619.0,418.5 L619.5,419.2 L620.0,419.9 L620.5,420.5 L621.0,421.2 L621.5,421.9 L622.0,422.6 L622.5,423.2 L623.0,423.9 L623.5,424.6 L624.0,425.3 L624.5,426.0 L625.0,426.7 L625.5,427.4 L626.0,428.1 L626.5,428.8 L627.0,429.5 L627.5,430.2 L628.0,431.0 L628.5,431.7 L629.0,432.4 L629.5,433.1 L630.0,433.8 L630.5,434.6 L631.0,435.3 L631.5,436.0 L632.0,436.8 L632.5,437.5 L633.0,438.2 L633.5,439.0 L634.0,439.7 L634.5,440.5 L635.0,441.2 L635.5,441.9 L636.0,442.7 L636.5,443.4 L637.0,444.2 L637.5,444.9 L638.0,445.6 L638.5,446.4 L639.0,447.1 L639.5,447.8 L640.0,448.5 L640.5,449.3 L641.0,450.0 L641.5,450.7 L642.0,451.4 L642.5,452.1 L643.0,452.8 L643.5,453.5 L644.0,454.2 L644.5,454.8 L645.0,455.5 L645.5,456.2 L646.0,456.8 L646.5,457.5 L647.0,458.1 L647.5,458.7 L648.0,459.3 L648.5,459.9 L649.0,460.5 L649.5,461.1 L650.0,461.7 L650.5,462.2 L651.0,462.8 L651.5,463.3 L652.0,463.9 L652.5,464.4 L653.0,464.9 L653.5,465.3 L654.0,465.8 L654.5,466.3 L655.0,466.7 L655.5,467.1 L656.0,467.6 L656.5,468.0 L657.0,468.4 L657.5,468.8 L658.0,469.1 L658.5,469.5 L659.0,469.9 L659.5,470.3 L660.0,470.6 L660.5,471.0 L661.0,471.3 L661.5,471.7 L662.0,472.0 L662.5,472.4 L663.0,472.7 L663.5,473.1 L664.0,473.5 L664.5,473.8 L665.0,474.2 L665.5,474.6 L666.0,474.9 L666.5,475.3 L667.0,475.7 L667.5,476.1 L668.0,476.5 L668.5,476.9 L669.0,477.4 L669.5,477.8 L670.0,478.3 L670.5,478.7 L671.0,479.2" fill="none" stroke="#050505" stroke-width="1.05" stroke-linejoin="round"/>
<path d="M408.5,487.8 L409.0,487.2 L409.5,486.6 L410.0,486.0 L410.5,485.4 L411.0,484.8 L411.5,484.2 L412.0,483.5 L412.5,482.9 L413.0,482.3 L413.5,481.7 L414.0,481.0 L414.5,480.4 L415.0,479.7 L415.5,479.1 L416.0,478.4 L416.5,477.8 L417.0,477.1 L417.5,476.4 L418.0,475.7 L418.5,475.0 L419.0,474.3 L419.5,473.6 L420.0,472.9 L420.5,472.1 L421.0,471.4 L421.5,470.6 L422.0,469.8 L422.5,469.1 L423.0,468.3 L423.5,467.5 L424.0,466.6 L424.5,465.8 L425.0,465.0 L425.5,464.1 L426.0,463.2 L426.5,462.3 L427.0,461.4 L427.5,460.5 L428.0,459.6 L428.5,458.6 L429.0,457.7 L429.5,456.7 L430.0,455.7 L430.5,454.7 L431.0,453.7 L431.5,452.6 L432.0,451.6 L432.5,450.5 L433.0,449.5 L433.5,448.4 L434.0,447.3 L434.5,446.2 L435.0,445.1 L435.5,444.1 L436.0,443.0 L436.5,441.9 L437.0,440.8 L437.5,439.7 L438.0,438.6 L438.5,437.6 L439.0,436.5 L439.5,435.5 L440.0,434.4 L440.5,433.4 L441.0,432.4 L441.5,431.4 L442.0,430.4 L442.5,429.4 L443.0,428.5 L443.5,427.6 L444.0,426.6 L444.5,425.8 L445.0,424.9 L445.5,424.1 L446.0,423.3 L446.5,422.5 L447.0,421.7 L447.5,421.0 L448.0,420.3 L448.5,419.7 L449.0,419.0 L449.5,418.5 L450.0,417.9 L450.5,417.4 L451.0,416.9 L451.5,416.5 L452.0,416.1 L452.5,415.8 L453.0,415.5 L453.5,415.2 L454.0,415.0 L454.5,414.8 L455.0,414.6 L455.5,414.5 L456.0,414.4 L456.5,414.4 L457.0,414.4 L457.5,414.4 L458.0,414.4 L458.5,414.5 L459.0,414.7 L459.5,414.8 L460.0,415.0 L460.5,415.2 L461.0,415.5 L461.5,415.8 L462.0,416.1 L462.5,416.4 L463.0,416.8 L463.5,417.2 L464.0,417.6 L464.5,418.0 L465.0,418.5 L465.5,419.0 L466.0,419.5 L466.5,420.0 L467.0,420.5 L467.5,421.0 L468.0,421.5 L468.5,422.0 L469.0,422.5 L469.5,423.0 L470.0,423.4 L470.5,423.9 L471.0,424.3 L471.5,424.8 L472.0,425.2 L472.5,425.6 L473.0,426.0 L473.5,426.4 L474.0,426.8 L474.5,427.2 L475.0,427.5 L475.5,427.9 L476.0,428.3 L476.5,428.6 L477.0,428.9 L477.5,429.3 L478.0,429.6 L478.5,429.9 L479.0,430.2 L479.5,430.5 L480.0,430.8 L480.5,431.0 L481.0,431.3 L481.5,431.6 L482.0,431.8 L482.5,432.1 L483.0,432.3 L483.5,432.5 L484.0,432.8 L484.5,433.0 L485.0,433.2 L485.5,433.4 L486.0,433.5 L486.5,433.7 L487.0,433.9 L487.5,434.1 L488.0,434.2 L488.5,434.4 L489.0,434.5 L489.5,434.6 L490.0,434.8 L490.5,434.9 L491.0,435.0 L491.5,435.1 L492.0,435.2 L492.5,435.3 L493.0,435.4 L493.5,435.4 L494.0,435.5 L494.5,435.6 L495.0,435.6 L495.5,435.7 L496.0,435.7 L496.5,435.7 L497.0,435.7 L497.5,435.7 L498.0,435.7 L498.5,435.7 L499.0,435.7 L499.5,435.7 L500.0,435.7 L500.5,435.7 L501.0,435.6 L501.5,435.6 L502.0,435.5 L502.5,435.4 L503.0,435.4 L503.5,435.3 L504.0,435.2 L504.5,435.1 L505.0,435.0 L505.5,434.2 L506.0,433.5 L506.5,433.1 L507.0,432.9 L507.5,432.8 L508.0,432.7 L508.5,432.5 L509.0,432.4 L509.5,432.2 L510.0,432.0 L510.5,431.8 L511.0,431.7 L511.5,431.5 L512.0,431.3 L512.5,431.1 L513.0,430.9 L513.5,430.6 L514.0,430.4 L514.5,430.2 L515.0,430.0 L515.5,429.7 L516.0,429.5 L516.5,429.3 L517.0,429.0 L517.5,428.8 L518.0,428.5 L518.5,428.2 L519.0,428.0 L519.5,427.7 L520.0,427.4 L520.5,427.1 L521.0,426.8 L521.5,426.6 L522.0,426.3 L522.5,426.0 L523.0,425.7 L523.5,425.4 L524.0,425.1 L524.5,424.8 L525.0,424.4 L525.5,424.1 L526.0,423.8 L526.5,423.5 L527.0,423.2 L527.5,422.8 L528.0,422.5 L528.5,422.2 L529.0,421.8 L529.5,421.5 L530.0,421.1 L530.5,420.8 L531.0,420.4 L531.5,420.0 L532.0,419.7 L532.5,419.3 L533.0,418.9 L533.5,418.5 L534.0,418.1 L534.5,417.7 L535.0,417.3 L535.5,416.9 L536.0,416.5 L536.5,416.1 L537.0,415.6 L537.5,415.2 L538.0,414.7 L538.5,414.3 L539.0,413.8 L539.5,413.3 L540.0,412.8 L540.5,412.3 L541.0,411.8 L541.5,411.3 L542.0,410.8 L542.5,410.3 L543.0,409.7 L543.5,409.2 L544.0,408.7 L544.5,408.1 L545.0,407.6 L545.5,407.0 L546.0,406.5 L546.5,405.9 L547.0,405.4 L547.5,404.8 L548.0,404.3 L548.5,403.7 L549.0,403.2 L549.5,402.7 L550.0,402.1 L550.5,401.6 L551.0,401.0 L551.5,400.5 L552.0,400.0 L552.5,399.5 L553.0,399.0 L553.5,398.5 L554.0,398.0 L554.5,397.5 L555.0,397.0 L555.5,396.5 L556.0,396.1 L556.5,395.6 L557.0,395.2 L557.5,394.7 L558.0,394.3 L558.5,393.8 L559.0,393.4 L559.5,393.0 L560.0,392.6 L560.5,392.2 L561.0,391.8 L561.5,391.4 L562.0,391.1 L562.5,390.7 L563.0,390.3 L563.5,390.0 L564.0,389.7 L564.5,389.3 L565.0,389.0 L565.5,388.7 L566.0,388.4 L566.5,388.2 L567.0,387.9 L567.5,387.6 L568.0,387.4 L568.5,387.1 L569.0,386.9 L569.5,386.7 L570.0,386.5 L570.5,386.3 L571.0,386.1 L571.5,385.9 L572.0,385.8 L572.5,385.6 L573.0,385.5 L573.5,385.4 L574.0,385.3 L574.5,385.2 L575.0,385.1 L575.5,385.1 L576.0,385.0 L576.5,385.0 L577.0,385.0 L577.5,384.9 L578.0,385.0 L578.5,385.0 L579.0,385.0 L579.5,385.1 L580.0,385.1 L580.5,385.2 L581.0,385.3 L581.5,385.4 L582.0,385.5 L582.5,385.7 L583.0,385.8 L583.5,386.0 L584.0,386.2 L584.5,386.4 L585.0,386.6 L585.5,386.9 L586.0,387.1 L586.5,387.4 L587.0,387.7 L587.5,388.0 L588.0,388.3 L588.5,388.7 L589.0,389.0 L589.5,389.4 L590.0,389.8 L590.5,390.2 L591.0,390.6 L591.5,391.1 L592.0,391.5 L592.5,392.0 L593.0,392.5 L593.5,393.0 L594.0,393.6 L594.5,394.1 L595.0,394.7 L595.5,395.3 L596.0,395.9 L596.5,396.5 L597.0,397.2 L597.5,397.8 L598.0,398.5 L598.5,399.2 L599.0,399.9 L599.5,400.6 L600.0,401.4 L600.5,402.1 L601.0,402.9 L601.5,403.6 L602.0,404.4 L602.5,405.1 L603.0,405.9 L603.5,406.6 L604.0,407.3 L604.5,408.1 L605.0,408.8 L605.5,409.5 L606.0,410.2 L606.5,410.9 L607.0,411.5 L607.5,412.2 L608.0,412.9 L608.5,413.5 L609.0,414.2 L609.5,414.9 L610.0,415.5 L610.5,416.2 L611.0,416.8 L611.5,417.4 L612.0,418.1 L612.5,418.7 L613.0,419.4 L613.5,420.0 L614.0,420.7 L614.5,421.3 L615.0,422.0 L615.5,422.6 L616.0,423.3 L616.5,423.9 L617.0,424.6 L617.5,425.3 L618.0,426.0 L618.5,426.6 L619.0,427.3 L619.5,428.1 L620.0,428.8 L620.5,429.5 L621.0,430.2 L621.5,431.0 L622.0,431.8 L622.5,432.5 L623.0,433.3 L623.5,434.1 L624.0,434.9 L624.5,435.7 L625.0,436.6 L625.5,437.4 L626.0,438.2 L626.5,439.0 L627.0,439.9 L627.5,440.7 L628.0,441.5 L628.5,442.3 L629.0,443.2 L629.5,444.0 L630.0,444.8 L630.5,445.6 L631.0,446.4 L631.5,447.2 L632.0,448.0 L632.5,448.7 L633.0,449.5 L633.5,450.2 L634.0,451.0 L634.5,451.7 L635.0,452.4 L635.5,453.1 L636.0,453.8 L636.5,454.5 L637.0,455.2 L637.5,455.8 L638.0,456.5 L638.5,457.1 L639.0,457.8 L639.5,458.4 L640.0,459.0 L640.5,459.6 L641.0,460.2 L641.5,460.8 L642.0,461.4 L642.5,461.9 L643.0,462.5 L643.5,463.0 L644.0,463.6 L644.5,464.1 L645.0,464.6 L645.5,465.2 L646.0,465.7 L646.5,466.2 L647.0,466.6 L647.5,467.1 L648.0,467.6 L648.5,468.1 L649.0,468.5 L649.5,469.0 L650.0,469.4 L650.5,469.9 L651.0,470.3 L651.5,470.7 L652.0,471.1 L652.5,471.5 L653.0,471.9 L653.5,472.3 L654.0,472.7 L654.5,473.1 L655.0,473.5 L655.5,473.8 L656.0,474.2 L656.5,474.5 L657.0,474.9 L657.5,475.2 L658.0,475.6 L658.5,475.9 L659.0,476.2 L659.5,476.5 L660.0,476.8 L660.5,477.2 L661.0,477.5 L661.5,477.8 L662.0,478.0 L662.5,478.3 L663.0,478.6 L663.5,478.9 L664.0,479.2 L664.5,479.4 L665.0,479.7 L665.5,479.9 L666.0,480.2 L666.5,480.4 L667.0,480.7 L667.5,480.9 L668.0,481.2 L668.5,481.4 L669.0,481.6 L669.5,481.9 L670.0,482.1 L670.5,482.3 L671.0,482.5" fill="none" stroke="#050505" stroke-width="1.05" stroke-linejoin="round"/>
<path d="M408.5,489.9 L409.0,489.4 L409.5,488.9 L410.0,488.3 L410.5,487.8 L411.0,487.2 L411.5,486.7 L412.0,486.1 L412.5,485.6 L413.0,485.0 L413.5,484.5 L414.0,483.9 L414.5,483.3 L415.0,482.7 L415.5,482.1 L416.0,481.5 L416.5,480.9 L417.0,480.3 L417.5,479.7 L418.0,479.1 L418.5,478.5 L419.0,477.8 L419.5,477.2 L420.0,476.5 L420.5,475.9 L421.0,475.2 L421.5,474.5 L422.0,473.8 L422.5,473.1 L423.0,472.4 L423.5,471.7 L424.0,470.9 L424.5,470.2 L425.0,469.4 L425.5,468.6 L426.0,467.9 L426.5,467.1 L427.0,466.2 L427.5,465.4 L428.0,464.6 L428.5,463.7 L429.0,462.9 L429.5,462.0 L430.0,461.1 L430.5,460.2 L431.0,459.3 L431.5,458.3 L432.0,457.4 L432.5,456.4 L433.0,455.5 L433.5,454.5 L434.0,453.5 L434.5,452.6 L435.0,451.6 L435.5,450.6 L436.0,449.6 L436.5,448.6 L437.0,447.7 L437.5,446.7 L438.0,445.7 L438.5,444.8 L439.0,443.8 L439.5,442.9 L440.0,441.9 L440.5,441.0 L441.0,440.1 L441.5,439.2 L442.0,438.3 L442.5,437.4 L443.0,436.6 L443.5,435.7 L444.0,434.9 L444.5,434.1 L445.0,433.4 L445.5,432.6 L446.0,431.9 L446.5,431.2 L447.0,430.5 L447.5,429.9 L448.0,429.2 L448.5,428.6 L449.0,428.1 L449.5,427.6 L450.0,427.1 L450.5,426.6 L451.0,426.2 L451.5,425.8 L452.0,425.5 L452.5,425.1 L453.0,424.9 L453.5,424.6 L454.0,424.4 L454.5,424.2 L455.0,424.1 L455.5,424.0 L456.0,423.9 L456.5,423.9 L457.0,423.9 L457.5,423.9 L458.0,424.0 L458.5,424.0 L459.0,424.1 L459.5,424.3 L460.0,424.5 L460.5,424.7 L461.0,424.9 L461.5,425.1 L462.0,425.4 L462.5,425.7 L463.0,426.1 L463.5,426.4 L464.0,426.8 L464.5,427.2 L465.0,427.6 L465.5,428.1 L466.0,428.5 L466.5,429.0 L467.0,429.4 L467.5,429.9 L468.0,430.3 L468.5,430.8 L469.0,431.2 L469.5,431.6 L470.0,432.0 L470.5,432.4 L471.0,432.8 L471.5,433.2 L472.0,433.6 L472.5,434.0 L473.0,434.4 L473.5,434.7 L474.0,435.1 L474.5,435.4 L475.0,435.7 L475.5,436.1 L476.0,436.4 L476.5,436.7 L477.0,437.0 L477.5,437.3 L478.0,437.6 L478.5,437.9 L479.0,438.1 L479.5,438.4 L480.0,438.6 L480.5,438.9 L481.0,439.1 L481.5,439.4 L482.0,439.6 L482.5,439.8 L483.0,440.0 L483.5,440.2 L484.0,440.4 L484.5,440.6 L485.0,440.8 L485.5,441.0 L486.0,441.1 L486.5,441.3 L487.0,441.5 L487.5,441.6 L488.0,441.8 L488.5,441.9 L489.0,442.0 L489.5,442.1 L490.0,442.2 L490.5,442.4 L491.0,442.5 L491.5,442.5 L492.0,442.6 L492.5,442.7 L493.0,442.8 L493.5,442.8 L494.0,442.9 L494.5,443.0 L495.0,443.0 L495.5,443.0 L496.0,443.1 L496.5,443.1 L497.0,443.1 L497.5,443.1 L498.0,443.1 L498.5,443.1 L499.0,443.1 L499.5,443.1 L500.0,443.1 L500.5,443.0 L501.0,443.0 L501.5,443.0 L502.0,442.9 L502.5,442.8 L503.0,442.8 L503.5,442.7 L504.0,442.6 L504.5,442.5 L505.0,442.5 L505.5,441.8 L506.0,441.1 L506.5,440.7 L507.0,440.6 L507.5,440.5 L508.0,440.3 L508.5,440.2 L509.0,440.1 L509.5,439.9 L510.0,439.8 L510.5,439.6 L511.0,439.4 L511.5,439.3 L512.0,439.1 L512.5,438.9 L513.0,438.7 L513.5,438.5 L514.0,438.3 L514.5,438.1 L515.0,437.9 L515.5,437.7 L516.0,437.5 L516.5,437.3 L517.0,437.1 L517.5,436.8 L518.0,436.6 L518.5,436.4 L519.0,436.1 L519.5,435.9 L520.0,435.6 L520.5,435.4 L521.0,435.1 L521.5,434.9 L522.0,434.6 L522.5,434.3 L523.0,434.1 L523.5,433.8 L524.0,433.5 L524.5,433.2 L525.0,433.0 L525.5,432.7 L526.0,432.4 L526.5,432.1 L527.0,431.8 L527.5,431.5 L528.0,431.2 L528.5,430.9 L529.0,430.6 L529.5,430.3 L530.0,430.0 L530.5,429.6 L531.0,429.3 L531.5,429.0 L532.0,428.7 L532.5,428.3 L533.0,428.0 L533.5,427.6 L534.0,427.3 L534.5,426.9 L535.0,426.5 L535.5,426.2 L536.0,425.8 L536.5,425.4 L537.0,425.0 L537.5,424.6 L538.0,424.2 L538.5,423.8 L539.0,423.4 L539.5,422.9 L540.0,422.5 L540.5,422.0 L541.0,421.6 L541.5,421.1 L542.0,420.7 L542.5,420.2 L543.0,419.7 L543.5,419.2 L544.0,418.8 L544.5,418.3 L545.0,417.8 L545.5,417.3 L546.0,416.8 L546.5,416.3 L547.0,415.8 L547.5,415.3 L548.0,414.8 L548.5,414.3 L549.0,413.8 L549.5,413.3 L550.0,412.9 L550.5,412.4 L551.0,411.9 L551.5,411.4 L552.0,411.0 L552.5,410.5 L553.0,410.0 L553.5,409.6 L554.0,409.1 L554.5,408.7 L555.0,408.3 L555.5,407.8 L556.0,407.4 L556.5,407.0 L557.0,406.6 L557.5,406.2 L558.0,405.8 L558.5,405.4 L559.0,405.0 L559.5,404.7 L560.0,404.3 L560.5,403.9 L561.0,403.6 L561.5,403.2 L562.0,402.9 L562.5,402.6 L563.0,402.3 L563.5,402.0 L564.0,401.7 L564.5,401.4 L565.0,401.1 L565.5,400.8 L566.0,400.5 L566.5,400.3 L567.0,400.0 L567.5,399.8 L568.0,399.6 L568.5,399.4 L569.0,399.2 L569.5,399.0 L570.0,398.8 L570.5,398.6 L571.0,398.5 L571.5,398.3 L572.0,398.2 L572.5,398.0 L573.0,397.9 L573.5,397.8 L574.0,397.7 L574.5,397.6 L575.0,397.6 L575.5,397.5 L576.0,397.5 L576.5,397.4 L577.0,397.4 L577.5,397.4 L578.0,397.4 L578.5,397.4 L579.0,397.5 L579.5,397.5 L580.0,397.6 L580.5,397.6 L581.0,397.7 L581.5,397.8 L582.0,397.9 L582.5,398.1 L583.0,398.2 L583.5,398.4 L584.0,398.5 L584.5,398.7 L585.0,398.9 L585.5,399.1 L586.0,399.4 L586.5,399.6 L587.0,399.9 L587.5,400.2 L588.0,400.4 L588.5,400.7 L589.0,401.1 L589.5,401.4 L590.0,401.8 L590.5,402.1 L591.0,402.5 L591.5,402.9 L592.0,403.3 L592.5,403.8 L593.0,404.2 L593.5,404.7 L594.0,405.1 L594.5,405.6 L595.0,406.2 L595.5,406.7 L596.0,407.2 L596.5,407.8 L597.0,408.4 L597.5,409.0 L598.0,409.6 L598.5,410.2 L599.0,410.9 L599.5,411.5 L600.0,412.2 L600.5,412.9 L601.0,413.5 L601.5,414.2 L602.0,414.9 L602.5,415.5 L603.0,416.2 L603.5,416.9 L604.0,417.5 L604.5,418.2 L605.0,418.8 L605.5,419.5 L606.0,420.1 L606.5,420.7 L607.0,421.3 L607.5,421.9 L608.0,422.5 L608.5,423.1 L609.0,423.7 L609.5,424.3 L610.0,424.9 L610.5,425.5 L611.0,426.1 L611.5,426.6 L612.0,427.2 L612.5,427.8 L613.0,428.4 L613.5,429.0 L614.0,429.5 L614.5,430.1 L615.0,430.7 L615.5,431.3 L616.0,431.9 L616.5,432.5 L617.0,433.1 L617.5,433.7 L618.0,434.3 L618.5,434.9 L619.0,435.6 L619.5,436.2 L620.0,436.8 L620.5,437.5 L621.0,438.2 L621.5,438.8 L622.0,439.5 L622.5,440.2 L623.0,440.9 L623.5,441.7 L624.0,442.4 L624.5,443.1 L625.0,443.9 L625.5,444.6 L626.0,445.3 L626.5,446.1 L627.0,446.8 L627.5,447.6 L628.0,448.3 L628.5,449.1 L629.0,449.8 L629.5,450.5 L630.0,451.3 L630.5,452.0 L631.0,452.7 L631.5,453.4 L632.0,454.1 L632.5,454.8 L633.0,455.5 L633.5,456.2 L634.0,456.8 L634.5,457.5 L635.0,458.1 L635.5,458.8 L636.0,459.4 L636.5,460.0 L637.0,460.6 L637.5,461.2 L638.0,461.8 L638.5,462.4 L639.0,462.9 L639.5,463.5 L640.0,464.1 L640.5,464.6 L641.0,465.1 L641.5,465.7 L642.0,466.2 L642.5,466.7 L643.0,467.2 L643.5,467.7 L644.0,468.2 L644.5,468.7 L645.0,469.1 L645.5,469.6 L646.0,470.0 L646.5,470.5 L647.0,470.9 L647.5,471.4 L648.0,471.8 L648.5,472.2 L649.0,472.6 L649.5,473.0 L650.0,473.4 L650.5,473.8 L651.0,474.2 L651.5,474.6 L652.0,475.0 L652.5,475.3 L653.0,475.7 L653.5,476.0 L654.0,476.4 L654.5,476.7 L655.0,477.1 L655.5,477.4 L656.0,477.7 L656.5,478.0 L657.0,478.3 L657.5,478.7 L658.0,479.0 L658.5,479.3 L659.0,479.5 L659.5,479.8 L660.0,480.1 L660.5,480.4 L661.0,480.7 L661.5,480.9 L662.0,481.2 L662.5,481.4 L663.0,481.7 L663.5,481.9 L664.0,482.2 L664.5,482.4 L665.0,482.7 L665.5,482.9 L666.0,483.1 L666.5,483.4 L667.0,483.6 L667.5,483.8 L668.0,484.0 L668.5,484.2 L669.0,484.4 L669.5,484.6 L670.0,484.8 L670.5,485.0 L671.0,485.2" fill="none" stroke="#050505" stroke-width="1.05" stroke-linejoin="round"/>
<path d="M408.5,486.5 L409.0,485.6 L409.5,484.8 L410.0,483.9 L410.5,483.1 L411.0,482.3 L411.5,481.4 L412.0,480.6 L412.5,479.8 L413.0,479.0 L413.5,478.2 L414.0,477.4 L414.5,476.6 L415.0,475.9 L415.5,475.1 L416.0,474.3 L416.5,473.5 L417.0,472.7 L417.5,471.9 L418.0,471.1 L418.5,470.3 L419.0,469.5 L419.5,468.7 L420.0,467.9 L420.5,467.1 L421.0,466.3 L421.5,465.5 L422.0,464.6 L422.5,463.8 L423.0,462.9 L423.5,462.0 L424.0,461.2 L424.5,460.3 L425.0,459.4 L425.5,458.4 L426.0,457.5 L426.5,456.5 L427.0,455.6 L427.5,454.6 L428.0,453.6 L428.5,452.6 L429.0,451.5 L429.5,450.5 L430.0,449.4 L430.5,448.3 L431.0,447.1 L431.5,446.0 L432.0,444.8 L432.5,443.7 L433.0,442.5 L433.5,441.3 L434.0,440.1 L434.5,438.9 L435.0,437.7 L435.5,436.4 L436.0,435.2 L436.5,434.0 L437.0,432.7 L437.5,431.5 L438.0,430.2 L438.5,429.0 L439.0,427.8 L439.5,426.5 L440.0,425.3 L440.5,424.1 L441.0,422.9 L441.5,421.7 L442.0,420.5 L442.5,419.3 L443.0,418.1 L443.5,417.0 L444.0,415.9 L444.5,414.8 L445.0,413.7 L445.5,412.7 L446.0,411.7 L446.5,410.7 L447.0,409.7 L447.5,408.8 L448.0,407.9 L448.5,407.1 L449.0,406.3 L449.5,405.5 L450.0,404.8 L450.5,404.1 L451.0,403.5 L451.5,402.9 L452.0,402.4 L452.5,401.9 L453.0,401.5 L453.5,401.1 L454.0,400.9 L454.5,400.6 L455.0,400.4 L455.5,400.3 L456.0,400.2 L456.5,400.2 L457.0,400.2 L457.5,400.2 L458.0,400.4 L458.5,400.5 L459.0,400.7 L459.5,400.9 L460.0,401.2 L460.5,401.5 L461.0,401.9 L461.5,402.3 L462.0,402.7 L462.5,403.2 L463.0,403.7 L463.5,404.2 L464.0,404.7 L464.5,405.3 L465.0,405.9 L465.5,406.5 L466.0,407.1 L466.5,407.7 L467.0,408.3 L467.5,408.9 L468.0,409.4 L468.5,410.0 L469.0,410.5 L469.5,411.1 L470.0,411.6 L470.5,412.1 L471.0,412.7 L471.5,413.2 L472.0,413.6 L472.5,414.1 L473.0,414.6 L473.5,415.0 L474.0,415.5 L474.5,415.9 L475.0,416.4 L475.5,416.8 L476.0,417.2 L476.5,417.6 L477.0,418.0 L477.5,418.3 L478.0,418.7 L478.5,419.0 L479.0,419.4 L479.5,419.7 L480.0,420.0 L480.5,420.3 L481.0,420.6 L481.5,420.9 L482.0,421.2 L482.5,421.4 L483.0,421.7 L483.5,421.9 L484.0,422.2 L484.5,422.4 L485.0,422.6 L485.5,422.8 L486.0,423.0 L486.5,423.2 L487.0,423.3 L487.5,423.5 L488.0,423.7 L488.5,423.8 L489.0,423.9 L489.5,424.1 L490.0,424.2 L490.5,424.3 L491.0,424.4 L491.5,424.5 L492.0,424.6 L492.5,424.6 L493.0,424.7 L493.5,424.8 L494.0,424.8 L494.5,424.9 L495.0,424.9 L495.5,424.9 L496.0,424.9 L496.5,425.0 L497.0,425.0 L497.5,425.0 L498.0,425.0 L498.5,424.9 L499.0,424.9 L499.5,424.9 L500.0,424.9 L500.5,424.8 L501.0,424.8 L501.5,424.7 L502.0,424.7 L502.5,424.6 L503.0,424.5 L503.5,424.5 L504.0,424.4 L504.5,424.3 L505.0,424.2 L505.5,423.5 L506.0,422.8 L506.5,422.4 L507.0,422.3 L507.5,422.2 L508.0,422.1 L508.5,421.9 L509.0,421.8 L509.5,421.7 L510.0,421.5 L510.5,421.4 L511.0,421.2 L511.5,421.0 L512.0,420.9 L512.5,420.7 L513.0,420.5 L513.5,420.3 L514.0,420.1 L514.5,419.9 L515.0,419.6 L515.5,419.4 L516.0,419.1 L516.5,418.9 L517.0,418.6 L517.5,418.3 L518.0,418.0 L518.5,417.7 L519.0,417.4 L519.5,417.0 L520.0,416.7 L520.5,416.3 L521.0,415.9 L521.5,415.5 L522.0,415.1 L522.5,414.7 L523.0,414.2 L523.5,413.8 L524.0,413.3 L524.5,412.8 L525.0,412.3 L525.5,411.7 L526.0,411.2 L526.5,410.6 L527.0,410.1 L527.5,409.5 L528.0,408.9 L528.5,408.3 L529.0,407.6 L529.5,407.0 L530.0,406.4 L530.5,405.7 L531.0,405.1 L531.5,404.4 L532.0,403.8 L532.5,403.2 L533.0,402.5 L533.5,401.9 L534.0,401.2 L534.5,400.6 L535.0,400.0 L535.5,399.4 L536.0,398.8 L536.5,398.2 L537.0,397.6 L537.5,397.0 L538.0,396.4 L538.5,395.8 L539.0,395.2 L539.5,394.7 L540.0,394.1 L540.5,393.5 L541.0,393.0 L541.5,392.4 L542.0,391.9 L542.5,391.3 L543.0,390.8 L543.5,390.2 L544.0,389.6 L544.5,389.1 L545.0,388.5 L545.5,387.9 L546.0,387.4 L546.5,386.8 L547.0,386.2 L547.5,385.6 L548.0,385.0 L548.5,384.4 L549.0,383.8 L549.5,383.2 L550.0,382.6 L550.5,381.9 L551.0,381.3 L551.5,380.6 L552.0,380.0 L552.5,379.3 L553.0,378.6 L553.5,377.9 L554.0,377.3 L554.5,376.6 L555.0,375.9 L555.5,375.2 L556.0,374.5 L556.5,373.9 L557.0,373.2 L557.5,372.5 L558.0,371.9 L558.5,371.3 L559.0,370.6 L559.5,370.0 L560.0,369.4 L560.5,368.8 L561.0,368.3 L561.5,367.7 L562.0,367.2 L562.5,366.7 L563.0,366.1 L563.5,365.7 L564.0,365.2 L564.5,364.7 L565.0,364.3 L565.5,363.8 L566.0,363.4 L566.5,363.0 L567.0,362.6 L567.5,362.2 L568.0,361.9 L568.5,361.5 L569.0,361.2 L569.5,360.9 L570.0,360.5 L570.5,360.3 L571.0,360.0 L571.5,359.7 L572.0,359.5 L572.5,359.2 L573.0,359.0 L573.5,358.8 L574.0,358.6 L574.5,358.5 L575.0,358.3 L575.5,358.2 L576.0,358.1 L576.5,358.0 L577.0,357.9 L577.5,357.8 L578.0,357.7 L578.5,357.7 L579.0,357.7 L579.5,357.7 L580.0,357.7 L580.5,357.8 L581.0,357.8 L581.5,357.9 L582.0,358.0 L582.5,358.2 L583.0,358.3 L583.5,358.5 L584.0,358.7 L584.5,359.0 L585.0,359.2 L585.5,359.5 L586.0,359.8 L586.5,360.2 L587.0,360.6 L587.5,361.0 L588.0,361.4 L588.5,361.9 L589.0,362.4 L589.5,362.9 L590.0,363.5 L590.5,364.1 L591.0,364.7 L591.5,365.4 L592.0,366.0 L592.5,366.7 L593.0,367.4 L593.5,368.2 L594.0,368.9 L594.5,369.7 L595.0,370.5 L595.5,371.3 L596.0,372.1 L596.5,372.9 L597.0,373.8 L597.5,374.7 L598.0,375.6 L598.5,376.4 L599.0,377.3 L599.5,378.3 L600.0,379.2 L600.5,380.1 L601.0,381.0 L601.5,382.0 L602.0,382.9 L602.5,383.9 L603.0,384.8 L603.5,385.8 L604.0,386.7 L604.5,387.7 L605.0,388.6 L605.5,389.6 L606.0,390.5 L606.5,391.4 L607.0,392.4 L607.5,393.3 L608.0,394.2 L608.5,395.1 L609.0,396.0 L609.5,396.8 L610.0,397.7 L610.5,398.5 L611.0,399.4 L611.5,400.2 L612.0,401.0 L612.5,401.8 L613.0,402.5 L613.5,403.3 L614.0,404.0 L614.5,404.7 L615.0,405.5 L615.5,406.2 L616.0,406.9 L616.5,407.6 L617.0,408.3 L617.5,409.0 L618.0,409.7 L618.5,410.4 L619.0,411.2 L619.5,411.9 L620.0,412.6 L620.5,413.3 L621.0,414.0 L621.5,414.8 L622.0,415.5 L622.5,416.3 L623.0,417.0 L623.5,417.7 L624.0,418.5 L624.5,419.2 L625.0,420.0 L625.5,420.8 L626.0,421.5 L626.5,422.3 L627.0,423.1 L627.5,423.8 L628.0,424.6 L628.5,425.4 L629.0,426.2 L629.5,426.9 L630.0,427.7 L630.5,428.5 L631.0,429.3 L631.5,430.1 L632.0,430.9 L632.5,431.7 L633.0,432.5 L633.5,433.3 L634.0,434.1 L634.5,434.9 L635.0,435.7 L635.5,436.5 L636.0,437.3 L636.5,438.1 L637.0,438.9 L637.5,439.7 L638.0,440.5 L638.5,441.2 L639.0,442.0 L639.5,442.8 L640.0,443.6 L640.5,444.4 L641.0,445.2 L641.5,445.9 L642.0,446.7 L642.5,447.4 L643.0,448.2 L643.5,448.9 L644.0,449.7 L644.5,450.4 L645.0,451.1 L645.5,451.8 L646.0,452.5 L646.5,453.2 L647.0,453.9 L647.5,454.6 L648.0,455.3 L648.5,455.9 L649.0,456.6 L649.5,457.2 L650.0,457.8 L650.5,458.4 L651.0,459.0 L651.5,459.6 L652.0,460.2 L652.5,460.7 L653.0,461.2 L653.5,461.8 L654.0,462.3 L654.5,462.8 L655.0,463.2 L655.5,463.7 L656.0,464.2 L656.5,464.6 L657.0,465.0 L657.5,465.4 L658.0,465.9 L658.5,466.3 L659.0,466.7 L659.5,467.1 L660.0,467.5 L660.5,467.8 L661.0,468.2 L661.5,468.6 L662.0,469.0 L662.5,469.4 L663.0,469.8 L663.5,470.2 L664.0,470.5 L664.5,470.9 L665.0,471.3 L665.5,471.7 L666.0,472.1 L666.5,472.6 L667.0,473.0 L667.5,473.4 L668.0,473.8 L668.5,474.3 L669.0,474.8 L669.5,475.2 L670.0,475.7 L670.5,476.2 L671.0,476.8" fill="none" stroke="#52a028" stroke-width="2.5" stroke-linejoin="round"/>
<path d="M408.5,488.8 L409.0,488.2 L409.5,487.7 L410.0,487.1 L410.5,486.5 L411.0,485.9 L411.5,485.4 L412.0,484.8 L412.5,484.2 L413.0,483.6 L413.5,483.0 L414.0,482.4 L414.5,481.8 L415.0,481.2 L415.5,480.5 L416.0,479.9 L416.5,479.3 L417.0,478.6 L417.5,478.0 L418.0,477.3 L418.5,476.7 L419.0,476.0 L419.5,475.3 L420.0,474.6 L420.5,473.9 L421.0,473.2 L421.5,472.5 L422.0,471.7 L422.5,471.0 L423.0,470.2 L423.5,469.5 L424.0,468.7 L424.5,467.9 L425.0,467.1 L425.5,466.3 L426.0,465.4 L426.5,464.6 L427.0,463.7 L427.5,462.9 L428.0,462.0 L428.5,461.1 L429.0,460.1 L429.5,459.2 L430.0,458.3 L430.5,457.3 L431.0,456.3 L431.5,455.3 L432.0,454.3 L432.5,453.3 L433.0,452.3 L433.5,451.3 L434.0,450.3 L434.5,449.2 L435.0,448.2 L435.5,447.2 L436.0,446.1 L436.5,445.1 L437.0,444.1 L437.5,443.0 L438.0,442.0 L438.5,441.0 L439.0,440.0 L439.5,439.0 L440.0,438.0 L440.5,437.0 L441.0,436.1 L441.5,435.1 L442.0,434.2 L442.5,433.2 L443.0,432.3 L443.5,431.5 L444.0,430.6 L444.5,429.7 L445.0,428.9 L445.5,428.1 L446.0,427.4 L446.5,426.6 L447.0,425.9 L447.5,425.2 L448.0,424.6 L448.5,423.9 L449.0,423.3 L449.5,422.8 L450.0,422.3 L450.5,421.8 L451.0,421.3 L451.5,420.9 L452.0,420.6 L452.5,420.2 L453.0,419.9 L453.5,419.7 L454.0,419.5 L454.5,419.3 L455.0,419.1 L455.5,419.0 L456.0,419.0 L456.5,418.9 L457.0,418.9 L457.5,418.9 L458.0,419.0 L458.5,419.1 L459.0,419.2 L459.5,419.3 L460.0,419.5 L460.5,419.7 L461.0,420.0 L461.5,420.2 L462.0,420.5 L462.5,420.8 L463.0,421.2 L463.5,421.6 L464.0,422.0 L464.5,422.4 L465.0,422.9 L465.5,423.3 L466.0,423.8 L466.5,424.3 L467.0,424.7 L467.5,425.2 L468.0,425.7 L468.5,426.2 L469.0,426.6 L469.5,427.1 L470.0,427.5 L470.5,428.0 L471.0,428.4 L471.5,428.8 L472.0,429.2 L472.5,429.6 L473.0,430.0 L473.5,430.4 L474.0,430.7 L474.5,431.1 L475.0,431.4 L475.5,431.8 L476.0,432.1 L476.5,432.5 L477.0,432.8 L477.5,433.1 L478.0,433.4 L478.5,433.7 L479.0,434.0 L479.5,434.3 L480.0,434.5 L480.5,434.8 L481.0,435.0 L481.5,435.3 L482.0,435.5 L482.5,435.8 L483.0,436.0 L483.5,436.2 L484.0,436.4 L484.5,436.6 L485.0,436.8 L485.5,437.0 L486.0,437.2 L486.5,437.3 L487.0,437.5 L487.5,437.7 L488.0,437.8 L488.5,438.0 L489.0,438.1 L489.5,438.2 L490.0,438.3 L490.5,438.4 L491.0,438.6 L491.5,438.6 L492.0,438.7 L492.5,438.8 L493.0,438.9 L493.5,439.0 L494.0,439.0 L494.5,439.1 L495.0,439.1 L495.5,439.2 L496.0,439.2 L496.5,439.2 L497.0,439.2 L497.5,439.3 L498.0,439.3 L498.5,439.3 L499.0,439.2 L499.5,439.2 L500.0,439.2 L500.5,439.2 L501.0,439.1 L501.5,439.1 L502.0,439.0 L502.5,439.0 L503.0,438.9 L503.5,438.8 L504.0,438.7 L504.5,438.6 L505.0,438.6 L505.5,437.8 L506.0,437.1 L506.5,436.7 L507.0,436.6 L507.5,436.5 L508.0,436.3 L508.5,436.2 L509.0,436.0 L509.5,435.9 L510.0,435.7 L510.5,435.5 L511.0,435.4 L511.5,435.2 L512.0,435.0 L512.5,434.8 L513.0,434.6 L513.5,434.4 L514.0,434.2 L514.5,434.0 L515.0,433.8 L515.5,433.5 L516.0,433.3 L516.5,433.1 L517.0,432.8 L517.5,432.6 L518.0,432.4 L518.5,432.1 L519.0,431.8 L519.5,431.6 L520.0,431.3 L520.5,431.1 L521.0,430.8 L521.5,430.5 L522.0,430.2 L522.5,430.0 L523.0,429.7 L523.5,429.4 L524.0,429.1 L524.5,428.8 L525.0,428.5 L525.5,428.2 L526.0,427.9 L526.5,427.6 L527.0,427.3 L527.5,427.0 L528.0,426.6 L528.5,426.3 L529.0,426.0 L529.5,425.7 L530.0,425.3 L530.5,425.0 L531.0,424.7 L531.5,424.3 L532.0,424.0 L532.5,423.6 L533.0,423.2 L533.5,422.9 L534.0,422.5 L534.5,422.1 L535.0,421.7 L535.5,421.3 L536.0,420.9 L536.5,420.5 L537.0,420.1 L537.5,419.7 L538.0,419.2 L538.5,418.8 L539.0,418.3 L539.5,417.9 L540.0,417.4 L540.5,417.0 L541.0,416.5 L541.5,416.0 L542.0,415.5 L542.5,415.0 L543.0,414.5 L543.5,414.0 L544.0,413.5 L544.5,413.0 L545.0,412.4 L545.5,411.9 L546.0,411.4 L546.5,410.9 L547.0,410.3 L547.5,409.8 L548.0,409.3 L548.5,408.8 L549.0,408.3 L549.5,407.7 L550.0,407.2 L550.5,406.7 L551.0,406.2 L551.5,405.7 L552.0,405.2 L552.5,404.7 L553.0,404.2 L553.5,403.8 L554.0,403.3 L554.5,402.8 L555.0,402.4 L555.5,401.9 L556.0,401.5 L556.5,401.0 L557.0,400.6 L557.5,400.2 L558.0,399.8 L558.5,399.4 L559.0,398.9 L559.5,398.6 L560.0,398.2 L560.5,397.8 L561.0,397.4 L561.5,397.1 L562.0,396.7 L562.5,396.4 L563.0,396.0 L563.5,395.7 L564.0,395.4 L564.5,395.1 L565.0,394.8 L565.5,394.5 L566.0,394.2 L566.5,393.9 L567.0,393.7 L567.5,393.4 L568.0,393.2 L568.5,393.0 L569.0,392.7 L569.5,392.5 L570.0,392.3 L570.5,392.2 L571.0,392.0 L571.5,391.8 L572.0,391.7 L572.5,391.5 L573.0,391.4 L573.5,391.3 L574.0,391.2 L574.5,391.1 L575.0,391.1 L575.5,391.0 L576.0,390.9 L576.5,390.9 L577.0,390.9 L577.5,390.9 L578.0,390.9 L578.5,390.9 L579.0,390.9 L579.5,391.0 L580.0,391.1 L580.5,391.1 L581.0,391.2 L581.5,391.3 L582.0,391.4 L582.5,391.6 L583.0,391.7 L583.5,391.9 L584.0,392.1 L584.5,392.3 L585.0,392.5 L585.5,392.7 L586.0,393.0 L586.5,393.2 L587.0,393.5 L587.5,393.8 L588.0,394.1 L588.5,394.4 L589.0,394.8 L589.5,395.1 L590.0,395.5 L590.5,395.9 L591.0,396.3 L591.5,396.7 L592.0,397.1 L592.5,397.6 L593.0,398.1 L593.5,398.6 L594.0,399.1 L594.5,399.6 L595.0,400.1 L595.5,400.7 L596.0,401.3 L596.5,401.9 L597.0,402.5 L597.5,403.1 L598.0,403.8 L598.5,404.5 L599.0,405.1 L599.5,405.8 L600.0,406.5 L600.5,407.2 L601.0,407.9 L601.5,408.7 L602.0,409.4 L602.5,410.1 L603.0,410.8 L603.5,411.5 L604.0,412.2 L604.5,412.9 L605.0,413.6 L605.5,414.2 L606.0,414.9 L606.5,415.6 L607.0,416.2 L607.5,416.8 L608.0,417.5 L608.5,418.1 L609.0,418.7 L609.5,419.4 L610.0,420.0 L610.5,420.6 L611.0,421.2 L611.5,421.8 L612.0,422.4 L612.5,423.0 L613.0,423.7 L613.5,424.3 L614.0,424.9 L614.5,425.5 L615.0,426.1 L615.5,426.7 L616.0,427.4 L616.5,428.0 L617.0,428.6 L617.5,429.3 L618.0,429.9 L618.5,430.6 L619.0,431.3 L619.5,431.9 L620.0,432.6 L620.5,433.3 L621.0,434.0 L621.5,434.7 L622.0,435.5 L622.5,436.2 L623.0,437.0 L623.5,437.7 L624.0,438.5 L624.5,439.3 L625.0,440.0 L625.5,440.8 L626.0,441.6 L626.5,442.4 L627.0,443.2 L627.5,444.0 L628.0,444.8 L628.5,445.5 L629.0,446.3 L629.5,447.1 L630.0,447.9 L630.5,448.6 L631.0,449.4 L631.5,450.2 L632.0,450.9 L632.5,451.6 L633.0,452.4 L633.5,453.1 L634.0,453.8 L634.5,454.5 L635.0,455.1 L635.5,455.8 L636.0,456.5 L636.5,457.1 L637.0,457.8 L637.5,458.4 L638.0,459.0 L638.5,459.6 L639.0,460.2 L639.5,460.8 L640.0,461.4 L640.5,462.0 L641.0,462.6 L641.5,463.1 L642.0,463.7 L642.5,464.2 L643.0,464.7 L643.5,465.3 L644.0,465.8 L644.5,466.3 L645.0,466.8 L645.5,467.3 L646.0,467.7 L646.5,468.2 L647.0,468.7 L647.5,469.1 L648.0,469.6 L648.5,470.0 L649.0,470.5 L649.5,470.9 L650.0,471.3 L650.5,471.7 L651.0,472.2 L651.5,472.6 L652.0,472.9 L652.5,473.3 L653.0,473.7 L653.5,474.1 L654.0,474.5 L654.5,474.8 L655.0,475.2 L655.5,475.5 L656.0,475.9 L656.5,476.2 L657.0,476.5 L657.5,476.9 L658.0,477.2 L658.5,477.5 L659.0,477.8 L659.5,478.1 L660.0,478.4 L660.5,478.7 L661.0,479.0 L661.5,479.3 L662.0,479.5 L662.5,479.8 L663.0,480.1 L663.5,480.3 L664.0,480.6 L664.5,480.9 L665.0,481.1 L665.5,481.4 L666.0,481.6 L666.5,481.8 L667.0,482.1 L667.5,482.3 L668.0,482.5 L668.5,482.7 L669.0,483.0 L669.5,483.2 L670.0,483.4 L670.5,483.6 L671.0,483.8" fill="none" stroke="#2b2119" stroke-width="2.5" stroke-linejoin="round"/>
</g>
<rect x="63.5" y="48.5" width="255.0" height="180.0" fill="none" stroke="#3a3a3a" stroke-width="1.2"/>
<line x1="63.50" y1="228.5" x2="63.50" y2="225.0" stroke="#3a3a3a"/>
<line x1="63.50" y1="48.5" x2="63.50" y2="52.0" stroke="#3a3a3a"/>
<line x1="114.50" y1="228.5" x2="114.50" y2="225.0" stroke="#3a3a3a"/>
<line x1="114.50" y1="48.5" x2="114.50" y2="52.0" stroke="#3a3a3a"/>
<line x1="165.50" y1="228.5" x2="165.50" y2="225.0" stroke="#3a3a3a"/>
<line x1="165.50" y1="48.5" x2="165.50" y2="52.0" stroke="#3a3a3a"/>
<line x1="217.00" y1="228.5" x2="217.00" y2="225.0" stroke="#3a3a3a"/>
<line x1="217.00" y1="48.5" x2="217.00" y2="52.0" stroke="#3a3a3a"/>
<line x1="268.30" y1="228.5" x2="268.30" y2="225.0" stroke="#3a3a3a"/>
<line x1="268.30" y1="48.5" x2="268.30" y2="52.0" stroke="#3a3a3a"/>
<line x1="318.50" y1="228.5" x2="318.50" y2="225.0" stroke="#3a3a3a"/>
<line x1="318.50" y1="48.5" x2="318.50" y2="52.0" stroke="#3a3a3a"/>
<line x1="63.5" y1="228.50" x2="67.0" y2="228.50" stroke="#3a3a3a"/>
<line x1="318.5" y1="228.50" x2="315.0" y2="228.50" stroke="#3a3a3a"/>
<line x1="63.5" y1="169.40" x2="67.0" y2="169.40" stroke="#3a3a3a"/>
<line x1="318.5" y1="169.40" x2="315.0" y2="169.40" stroke="#3a3a3a"/>
<line x1="63.5" y1="109.20" x2="67.0" y2="109.20" stroke="#3a3a3a"/>
<line x1="318.5" y1="109.20" x2="315.0" y2="109.20" stroke="#3a3a3a"/>
<line x1="63.5" y1="48.50" x2="67.0" y2="48.50" stroke="#3a3a3a"/>
<line x1="318.5" y1="48.50" x2="315.0" y2="48.50" stroke="#3a3a3a"/>
<text x="63.50" y="251" text-anchor="middle" class="tk">400</text>
<text x="114.50" y="251" text-anchor="middle" class="tk">500</text>
<text x="165.50" y="251" text-anchor="middle" class="tk">600</text>
<text x="217.00" y="251" text-anchor="middle" class="tk">700</text>
<text x="268.30" y="251" text-anchor="middle" class="tk">800</text>
<text x="318.50" y="251" text-anchor="middle" class="tk">900</text>
<text x="57.50" y="235.50" text-anchor="end" class="tk">0</text>
<text x="57.50" y="176.40" text-anchor="end" class="tk">0.2</text>
<text x="57.50" y="116.20" text-anchor="end" class="tk">0.4</text>
<text x="57.50" y="55.50" text-anchor="end" class="tk">0.6</text>
<text x="191.00" y="41.5" text-anchor="middle" class="lb" style="fill:#000">Before Inoculation</text>
<text x="192.00" y="275" text-anchor="middle" class="lb">Wavelength (nm)</text>
<text transform="translate(27.5,138.5) rotate(-90)" text-anchor="middle" class="lb">Reflectance</text>
<rect x="414.5" y="48.5" width="256.0" height="180.0" fill="none" stroke="#3a3a3a" stroke-width="1.2"/>
<line x1="414.50" y1="228.5" x2="414.50" y2="225.0" stroke="#3a3a3a"/>
<line x1="414.50" y1="48.5" x2="414.50" y2="52.0" stroke="#3a3a3a"/>
<line x1="465.70" y1="228.5" x2="465.70" y2="225.0" stroke="#3a3a3a"/>
<line x1="465.70" y1="48.5" x2="465.70" y2="52.0" stroke="#3a3a3a"/>
<line x1="516.90" y1="228.5" x2="516.90" y2="225.0" stroke="#3a3a3a"/>
<line x1="516.90" y1="48.5" x2="516.90" y2="52.0" stroke="#3a3a3a"/>
<line x1="568.10" y1="228.5" x2="568.10" y2="225.0" stroke="#3a3a3a"/>
<line x1="568.10" y1="48.5" x2="568.10" y2="52.0" stroke="#3a3a3a"/>
<line x1="619.30" y1="228.5" x2="619.30" y2="225.0" stroke="#3a3a3a"/>
<line x1="619.30" y1="48.5" x2="619.30" y2="52.0" stroke="#3a3a3a"/>
<line x1="670.50" y1="228.5" x2="670.50" y2="225.0" stroke="#3a3a3a"/>
<line x1="670.50" y1="48.5" x2="670.50" y2="52.0" stroke="#3a3a3a"/>
<line x1="414.5" y1="228.50" x2="418.0" y2="228.50" stroke="#3a3a3a"/>
<line x1="670.5" y1="228.50" x2="667.0" y2="228.50" stroke="#3a3a3a"/>
<line x1="414.5" y1="169.40" x2="418.0" y2="169.40" stroke="#3a3a3a"/>
<line x1="670.5" y1="169.40" x2="667.0" y2="169.40" stroke="#3a3a3a"/>
<line x1="414.5" y1="109.20" x2="418.0" y2="109.20" stroke="#3a3a3a"/>
<line x1="670.5" y1="109.20" x2="667.0" y2="109.20" stroke="#3a3a3a"/>
<line x1="414.5" y1="48.50" x2="418.0" y2="48.50" stroke="#3a3a3a"/>
<line x1="670.5" y1="48.50" x2="667.0" y2="48.50" stroke="#3a3a3a"/>
<text x="414.50" y="251" text-anchor="middle" class="tk">400</text>
<text x="465.70" y="251" text-anchor="middle" class="tk">500</text>
<text x="516.90" y="251" text-anchor="middle" class="tk">600</text>
<text x="568.10" y="251" text-anchor="middle" class="tk">700</text>
<text x="619.30" y="251" text-anchor="middle" class="tk">800</text>
<text x="670.50" y="251" text-anchor="middle" class="tk">900</text>
<text x="408.50" y="235.50" text-anchor="end" class="tk">0</text>
<text x="408.50" y="176.40" text-anchor="end" class="tk">0.2</text>
<text x="408.50" y="116.20" text-anchor="end" class="tk">0.4</text>
<text x="408.50" y="55.50" text-anchor="end" class="tk">0.6</text>
<text x="542.50" y="41.5" text-anchor="middle" class="lb" style="fill:#000">After Inoculation</text>
<text x="543.50" y="275" text-anchor="middle" class="lb">Wavelength (nm)</text>
<text transform="translate(378.5,138.5) rotate(-90)" text-anchor="middle" class="lb">Reflectance</text>
<rect x="57.5" y="330.5" width="262.0" height="179.0" fill="none" stroke="#3a3a3a" stroke-width="1.2"/>
<line x1="89.68" y1="509.5" x2="89.68" y2="506.0" stroke="#3a3a3a"/>
<line x1="89.68" y1="330.5" x2="89.68" y2="334.0" stroke="#3a3a3a"/>
<line x1="135.64" y1="509.5" x2="135.64" y2="506.0" stroke="#3a3a3a"/>
<line x1="135.64" y1="330.5" x2="135.64" y2="334.0" stroke="#3a3a3a"/>
<line x1="181.61" y1="509.5" x2="181.61" y2="506.0" stroke="#3a3a3a"/>
<line x1="181.61" y1="330.5" x2="181.61" y2="334.0" stroke="#3a3a3a"/>
<line x1="227.57" y1="509.5" x2="227.57" y2="506.0" stroke="#3a3a3a"/>
<line x1="227.57" y1="330.5" x2="227.57" y2="334.0" stroke="#3a3a3a"/>
<line x1="273.54" y1="509.5" x2="273.54" y2="506.0" stroke="#3a3a3a"/>
<line x1="273.54" y1="330.5" x2="273.54" y2="334.0" stroke="#3a3a3a"/>
<line x1="319.50" y1="509.5" x2="319.50" y2="506.0" stroke="#3a3a3a"/>
<line x1="319.50" y1="330.5" x2="319.50" y2="334.0" stroke="#3a3a3a"/>
<line x1="57.5" y1="509.50" x2="61.0" y2="509.50" stroke="#3a3a3a"/>
<line x1="319.5" y1="509.50" x2="316.0" y2="509.50" stroke="#3a3a3a"/>
<line x1="57.5" y1="470.40" x2="61.0" y2="470.40" stroke="#3a3a3a"/>
<line x1="319.5" y1="470.40" x2="316.0" y2="470.40" stroke="#3a3a3a"/>
<line x1="57.5" y1="429.50" x2="61.0" y2="429.50" stroke="#3a3a3a"/>
<line x1="319.5" y1="429.50" x2="316.0" y2="429.50" stroke="#3a3a3a"/>
<line x1="57.5" y1="390.40" x2="61.0" y2="390.40" stroke="#3a3a3a"/>
<line x1="319.5" y1="390.40" x2="316.0" y2="390.40" stroke="#3a3a3a"/>
<line x1="57.5" y1="349.40" x2="61.0" y2="349.40" stroke="#3a3a3a"/>
<line x1="319.5" y1="349.40" x2="316.0" y2="349.40" stroke="#3a3a3a"/>
<text x="89.68" y="532" text-anchor="middle" class="tk">680</text>
<text x="135.64" y="532" text-anchor="middle" class="tk">700</text>
<text x="181.61" y="532" text-anchor="middle" class="tk">720</text>
<text x="227.57" y="532" text-anchor="middle" class="tk">740</text>
<text x="273.54" y="532" text-anchor="middle" class="tk">760</text>
<text x="319.50" y="532" text-anchor="middle" class="tk">780</text>
<text x="52.20" y="516.70" text-anchor="end" class="tk">0</text>
<text x="52.20" y="477.60" text-anchor="end" class="tk">2</text>
<text x="52.20" y="436.70" text-anchor="end" class="tk">4</text>
<text x="52.20" y="397.60" text-anchor="end" class="tk">6</text>
<text x="52.20" y="356.60" text-anchor="end" class="tk">8</text>
<text x="188.50" y="324" text-anchor="middle" class="lb" style="fill:#000">Before Inoculation</text>
<text x="189.50" y="556" text-anchor="middle" class="lb">Wavelength (nm)</text>
<g transform="rotate(-90)"><text x="0" y="0" transform="translate(-424.5,27.6) scale(0.88,1)" text-anchor="middle" class="phi">&#934;</text><text x="-413.6" y="36.2" text-anchor="middle" class="sub">F</text></g>
<rect x="408.5" y="330.5" width="262.0" height="179.0" fill="none" stroke="#3a3a3a" stroke-width="1.2"/>
<line x1="440.68" y1="509.5" x2="440.68" y2="506.0" stroke="#3a3a3a"/>
<line x1="440.68" y1="330.5" x2="440.68" y2="334.0" stroke="#3a3a3a"/>
<line x1="486.64" y1="509.5" x2="486.64" y2="506.0" stroke="#3a3a3a"/>
<line x1="486.64" y1="330.5" x2="486.64" y2="334.0" stroke="#3a3a3a"/>
<line x1="532.61" y1="509.5" x2="532.61" y2="506.0" stroke="#3a3a3a"/>
<line x1="532.61" y1="330.5" x2="532.61" y2="334.0" stroke="#3a3a3a"/>
<line x1="578.57" y1="509.5" x2="578.57" y2="506.0" stroke="#3a3a3a"/>
<line x1="578.57" y1="330.5" x2="578.57" y2="334.0" stroke="#3a3a3a"/>
<line x1="624.54" y1="509.5" x2="624.54" y2="506.0" stroke="#3a3a3a"/>
<line x1="624.54" y1="330.5" x2="624.54" y2="334.0" stroke="#3a3a3a"/>
<line x1="670.50" y1="509.5" x2="670.50" y2="506.0" stroke="#3a3a3a"/>
<line x1="670.50" y1="330.5" x2="670.50" y2="334.0" stroke="#3a3a3a"/>
<line x1="408.5" y1="509.50" x2="412.0" y2="509.50" stroke="#3a3a3a"/>
<line x1="670.5" y1="509.50" x2="667.0" y2="509.50" stroke="#3a3a3a"/>
<line x1="408.5" y1="470.40" x2="412.0" y2="470.40" stroke="#3a3a3a"/>
<line x1="670.5" y1="470.40" x2="667.0" y2="470.40" stroke="#3a3a3a"/>
<line x1="408.5" y1="429.50" x2="412.0" y2="429.50" stroke="#3a3a3a"/>
<line x1="670.5" y1="429.50" x2="667.0" y2="429.50" stroke="#3a3a3a"/>
<line x1="408.5" y1="390.40" x2="412.0" y2="390.40" stroke="#3a3a3a"/>
<line x1="670.5" y1="390.40" x2="667.0" y2="390.40" stroke="#3a3a3a"/>
<line x1="408.5" y1="349.40" x2="412.0" y2="349.40" stroke="#3a3a3a"/>
<line x1="670.5" y1="349.40" x2="667.0" y2="349.40" stroke="#3a3a3a"/>
<text x="440.68" y="532" text-anchor="middle" class="tk">680</text>
<text x="486.64" y="532" text-anchor="middle" class="tk">700</text>
<text x="532.61" y="532" text-anchor="middle" class="tk">720</text>
<text x="578.57" y="532" text-anchor="middle" class="tk">740</text>
<text x="624.54" y="532" text-anchor="middle" class="tk">760</text>
<text x="670.50" y="532" text-anchor="middle" class="tk">780</text>
<text x="403.20" y="516.70" text-anchor="end" class="tk">0</text>
<text x="403.20" y="477.60" text-anchor="end" class="tk">2</text>
<text x="403.20" y="436.70" text-anchor="end" class="tk">4</text>
<text x="403.20" y="397.60" text-anchor="end" class="tk">6</text>
<text x="403.20" y="356.60" text-anchor="end" class="tk">8</text>
<text x="539.50" y="324" text-anchor="middle" class="lb" style="fill:#000">After Inoculation</text>
<text x="540.50" y="556" text-anchor="middle" class="lb">Wavelength (nm)</text>
<g transform="rotate(-90)"><text x="0" y="0" transform="translate(-424.5,378.6) scale(0.88,1)" text-anchor="middle" class="phi">&#934;</text><text x="-413.6" y="387.2" text-anchor="middle" class="sub">F</text></g>
<path d="M60.4,318.3 L68,325.7 M68,318.3 L60.4,325.7" stroke="#3a3a3a" stroke-width="1.05" fill="none"/>
<text x="72.5" y="326" class="tk">10</text>
<text x="88.8" y="318.4" class="tk" style="font-size:13.5px">-3</text>
<path d="M411.4,318.3 L419,325.7 M419,318.3 L411.4,325.7" stroke="#3a3a3a" stroke-width="1.05" fill="none"/>
<text x="423.5" y="326" class="tk">10</text>
<text x="439.8" y="318.4" class="tk" style="font-size:13.5px">-3</text>
<rect x="73.5" y="59.5" width="137" height="43" fill="#fff" stroke="#262626"/>
<rect x="79.75" y="64.7" width="54" height="13.5" fill="#d9e6c8" stroke="#333" stroke-width="1.5"/>
<rect x="79.75" y="84.4" width="54" height="13.5" fill="#c4c0bd" stroke="#333" stroke-width="1.5"/>
<text x="139" y="77.2" class="lg">Mock</text>
<text x="139" y="97.1" class="lg">Inoculated</text>
<text x="4.2" y="18" class="pl">(a)</text>
<text x="348" y="18.5" class="pl">(b)</text>
<text x="3.8" y="301" class="pl">(c)</text>
<text x="348.3" y="301.5" class="pl">(d)</text>
</svg>
</body></html>
